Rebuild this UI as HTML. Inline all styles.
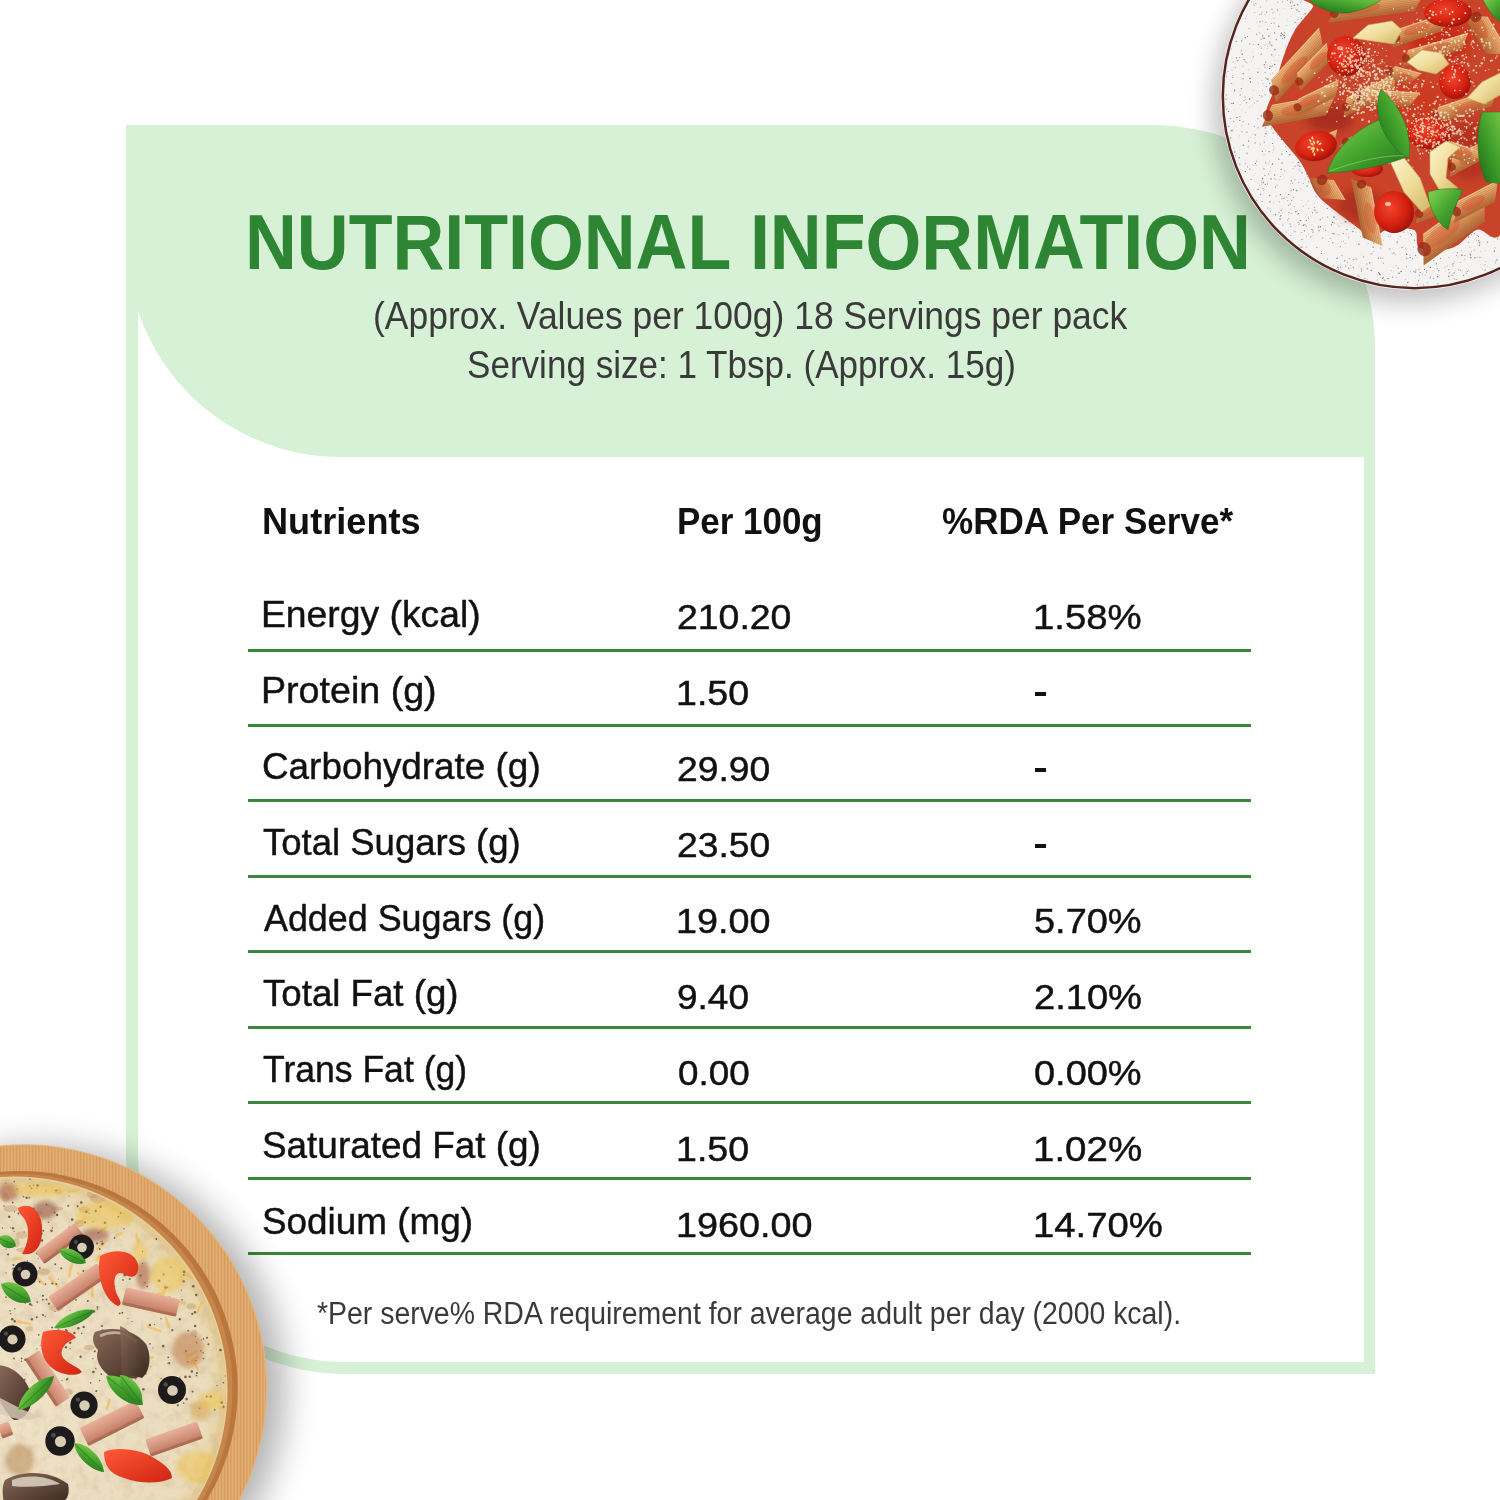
<!DOCTYPE html>
<html><head><meta charset="utf-8">
<style>
html,body{margin:0;padding:0;}
body{width:1500px;height:1500px;overflow:hidden;background:#fff;position:relative;font-family:"Liberation Sans",sans-serif;}
.abs{position:absolute;}
#bg{left:126px;top:125px;width:1249px;height:1249px;background:#d6f1d5;border-top-right-radius:223px;border-bottom-left-radius:219px;}
#panel{left:138px;top:457px;width:1226px;height:905px;background:#fff;border-bottom-left-radius:207px;}
#panelb{left:138px;top:300px;width:300px;height:160px;background:#fff;}
#hdr{left:126.8px;top:240px;width:400px;height:217.2px;background:#d6f1d5;border-bottom-left-radius:213.8px;}
.t{position:absolute;white-space:nowrap;line-height:1;transform-origin:0 0;font-family:"Liberation Sans",sans-serif;}
.ln{position:absolute;left:248px;width:1003px;height:3px;background:#3b853d;}
svg{position:absolute;}
</style></head>
<body>
<div id="bg" class="abs"></div>
<div id="panel" class="abs"></div>
<div id="panelb" class="abs"></div>
<div id="hdr" class="abs"></div>
<div class="ln" style="top:648.50px"></div>
<div class="ln" style="top:723.94px"></div>
<div class="ln" style="top:799.38px"></div>
<div class="ln" style="top:874.82px"></div>
<div class="ln" style="top:950.26px"></div>
<div class="ln" style="top:1025.70px"></div>
<div class="ln" style="top:1101.14px"></div>
<div class="ln" style="top:1176.58px"></div>
<div class="ln" style="top:1252.02px"></div>
<div class="t" style="left:244.98px;top:203.50px;font-size:77.54px;font-weight:bold;color:#2e8533;transform:scaleX(0.9255);">NUTRITIONAL INFORMATION</div>
<div class="t" style="left:372.57px;top:296.71px;font-size:38.70px;font-weight:normal;color:#3a3a3a;transform:scaleX(0.9166);">(Approx. Values per 100g) 18 Servings per pack</div>
<div class="t" style="left:467.25px;top:345.50px;font-size:38.70px;font-weight:normal;color:#3a3a3a;transform:scaleX(0.9063);">Serving size: 1 Tbsp. (Approx. 15g)</div>
<div class="t" style="left:262.47px;top:503.72px;font-size:36.81px;font-weight:bold;color:#111;transform:scaleX(0.9819);">Nutrients</div>
<div class="t" style="left:676.95px;top:503.72px;font-size:36.81px;font-weight:bold;color:#111;transform:scaleX(0.9498);">Per 100g</div>
<div class="t" style="left:942.30px;top:503.91px;font-size:36.81px;font-weight:bold;color:#111;transform:scaleX(0.9534);">%RDA Per Serve*</div>
<div class="t" style="left:261.02px;top:595.70px;font-size:37.10px;font-weight:normal;color:#111;transform:scaleX(1.0055);-webkit-text-stroke:0.45px #111;">Energy (kcal)</div>
<div class="t" style="left:677.33px;top:599.71px;font-size:34.51px;font-weight:normal;color:#111;transform:scaleX(1.0841);-webkit-text-stroke:0.45px #111;">210.20</div>
<div class="t" style="left:1032.74px;top:599.71px;font-size:34.51px;font-weight:normal;color:#111;transform:scaleX(1.1102);-webkit-text-stroke:0.45px #111;">1.58%</div>
<div class="t" style="left:260.99px;top:671.66px;font-size:37.10px;font-weight:normal;color:#111;transform:scaleX(1.0145);-webkit-text-stroke:0.45px #111;">Protein (g)</div>
<div class="t" style="left:676.19px;top:675.71px;font-size:34.51px;font-weight:normal;color:#111;transform:scaleX(1.0895);-webkit-text-stroke:0.45px #111;">1.50</div>
<div style="position:absolute;left:1035.3px;top:692.2px;width:10.4px;height:3.8px;background:#111;"></div>
<div class="t" style="left:262.16px;top:747.61px;font-size:37.10px;font-weight:normal;color:#111;transform:scaleX(0.9942);-webkit-text-stroke:0.45px #111;">Carbohydrate (g)</div>
<div class="t" style="left:677.34px;top:751.71px;font-size:34.51px;font-weight:normal;color:#111;transform:scaleX(1.0798);-webkit-text-stroke:0.45px #111;">29.90</div>
<div style="position:absolute;left:1035.3px;top:768.2px;width:10.4px;height:3.8px;background:#111;"></div>
<div class="t" style="left:263.27px;top:823.57px;font-size:37.10px;font-weight:normal;color:#111;transform:scaleX(0.9847);-webkit-text-stroke:0.45px #111;">Total Sugars (g)</div>
<div class="t" style="left:677.34px;top:827.71px;font-size:34.51px;font-weight:normal;color:#111;transform:scaleX(1.0798);-webkit-text-stroke:0.45px #111;">23.50</div>
<div style="position:absolute;left:1035.3px;top:844.2px;width:10.4px;height:3.8px;background:#111;"></div>
<div class="t" style="left:264.00px;top:899.51px;font-size:37.10px;font-weight:normal;color:#111;transform:scaleX(0.9673);-webkit-text-stroke:0.45px #111;">Added Sugars (g)</div>
<div class="t" style="left:676.18px;top:903.71px;font-size:34.51px;font-weight:normal;color:#111;transform:scaleX(1.0934);-webkit-text-stroke:0.45px #111;">19.00</div>
<div class="t" style="left:1034.28px;top:903.71px;font-size:34.51px;font-weight:normal;color:#111;transform:scaleX(1.0993);-webkit-text-stroke:0.45px #111;">5.70%</div>
<div class="t" style="left:263.27px;top:975.45px;font-size:37.10px;font-weight:normal;color:#111;transform:scaleX(0.9883);-webkit-text-stroke:0.45px #111;">Total Fat (g)</div>
<div class="t" style="left:677.35px;top:979.71px;font-size:34.51px;font-weight:normal;color:#111;transform:scaleX(1.0719);-webkit-text-stroke:0.45px #111;">9.40</div>
<div class="t" style="left:1033.90px;top:979.71px;font-size:34.51px;font-weight:normal;color:#111;transform:scaleX(1.1033);-webkit-text-stroke:0.45px #111;">2.10%</div>
<div class="t" style="left:263.29px;top:1051.41px;font-size:37.10px;font-weight:normal;color:#111;transform:scaleX(0.9586);-webkit-text-stroke:0.45px #111;">Trans Fat (g)</div>
<div class="t" style="left:677.73px;top:1055.71px;font-size:34.51px;font-weight:normal;color:#111;transform:scaleX(1.0662);-webkit-text-stroke:0.45px #111;">0.00</div>
<div class="t" style="left:1034.28px;top:1055.71px;font-size:34.51px;font-weight:normal;color:#111;transform:scaleX(1.0993);-webkit-text-stroke:0.45px #111;">0.00%</div>
<div class="t" style="left:262.15px;top:1127.36px;font-size:37.10px;font-weight:normal;color:#111;transform:scaleX(0.9949);-webkit-text-stroke:0.45px #111;">Saturated Fat (g)</div>
<div class="t" style="left:676.19px;top:1131.71px;font-size:34.51px;font-weight:normal;color:#111;transform:scaleX(1.0895);-webkit-text-stroke:0.45px #111;">1.50</div>
<div class="t" style="left:1032.72px;top:1131.71px;font-size:34.51px;font-weight:normal;color:#111;transform:scaleX(1.1155);-webkit-text-stroke:0.45px #111;">1.02%</div>
<div class="t" style="left:262.16px;top:1203.32px;font-size:37.10px;font-weight:normal;color:#111;transform:scaleX(0.9945);-webkit-text-stroke:0.45px #111;">Sodium (mg)</div>
<div class="t" style="left:676.18px;top:1207.71px;font-size:34.51px;font-weight:normal;color:#111;transform:scaleX(1.0944);-webkit-text-stroke:0.45px #111;">1960.00</div>
<div class="t" style="left:1032.74px;top:1207.71px;font-size:34.51px;font-weight:normal;color:#111;transform:scaleX(1.1088);-webkit-text-stroke:0.45px #111;">14.70%</div>
<div class="t" style="left:316.73px;top:1299.01px;font-size:30.87px;font-weight:normal;color:#3a3a3a;transform:scaleX(0.9209);">*Per serve% RDA requirement for average adult per day (2000 kcal).</div>

<svg style="position:absolute;left:0;top:0" width="1500" height="1500" viewBox="0 0 1500 1500"><defs><filter id="blur10" x="-50%" y="-50%" width="200%" height="200%"><feGaussianBlur stdDeviation="10"/></filter><filter id="blur16" x="-50%" y="-50%" width="200%" height="200%"><feGaussianBlur stdDeviation="17"/></filter><filter id="blur12" x="-50%" y="-50%" width="200%" height="200%"><feGaussianBlur stdDeviation="13"/></filter><filter id="blur5" x="-50%" y="-50%" width="200%" height="200%"><feGaussianBlur stdDeviation="5"/></filter><filter id="blur2" x="-30%" y="-30%" width="160%" height="160%"><feGaussianBlur stdDeviation="2"/></filter><filter id="blur1" x="-30%" y="-30%" width="160%" height="160%"><feGaussianBlur stdDeviation="0.7"/></filter><radialGradient id="tom" cx="42%" cy="38%" r="65%"><stop offset="0" stop-color="#f2442c"/><stop offset="0.65" stop-color="#d4200f"/><stop offset="1" stop-color="#9a120a"/></radialGradient><linearGradient id="pen" x1="0" y1="0" x2="0" y2="1"><stop offset="0" stop-color="#f2bd84"/><stop offset="0.45" stop-color="#dc985c"/><stop offset="1" stop-color="#b06636"/></linearGradient><linearGradient id="basil" x1="0" y1="0" x2="1" y2="1"><stop offset="0" stop-color="#86d452"/><stop offset="0.5" stop-color="#46a52e"/><stop offset="1" stop-color="#22701c"/></linearGradient><linearGradient id="basil2" x1="1" y1="0" x2="0" y2="1"><stop offset="0" stop-color="#7ccc48"/><stop offset="0.55" stop-color="#3b9a28"/><stop offset="1" stop-color="#1f6618"/></linearGradient><linearGradient id="chz" x1="0" y1="0" x2="1" y2="1"><stop offset="0" stop-color="#fff6d2"/><stop offset="0.55" stop-color="#efdc98"/><stop offset="1" stop-color="#d2b468"/></linearGradient><pattern id="grain" width="3.2" height="40" patternUnits="userSpaceOnUse"><rect width="3.2" height="40" fill="#dfa86c"/><rect x="0" width="0.9" height="40" fill="#c98b4f" opacity="0.55"/><rect x="2" width="0.6" height="40" fill="#ebbd86" opacity="0.6"/></pattern><radialGradient id="pz" cx="0" cy="0" r="1" gradientUnits="userSpaceOnUse" gradientTransform="translate(14 1390) scale(214)"><stop offset="0" stop-color="#efe2c8"/><stop offset="0.9" stop-color="#eadcbc"/><stop offset="1" stop-color="#e6cf9a"/></radialGradient><linearGradient id="pep" x1="0" y1="0" x2="1" y2="1"><stop offset="0" stop-color="#ff5a36"/><stop offset="1" stop-color="#cf2312"/></linearGradient><linearGradient id="ham" x1="0" y1="0" x2="0" y2="1"><stop offset="0" stop-color="#eab09a"/><stop offset="1" stop-color="#c07a62"/></linearGradient><linearGradient id="mush" x1="0" y1="0" x2="1" y2="1"><stop offset="0" stop-color="#8a6a58"/><stop offset="1" stop-color="#3d2a22"/></linearGradient><filter id="mottle" x="0" y="0" width="100%" height="100%"><feTurbulence type="fractalNoise" baseFrequency="0.09" numOctaves="3" seed="4"/><feColorMatrix type="matrix" values="0 0 0 0 0.55  0 0 0 0 0.42  0 0 0 0 0.25  0 0 0 -2.2 1.25"/></filter><clipPath id="pageclip"><rect x="0" y="0" width="1500" height="1500"/></clipPath></defs><g clip-path="url(#pageclip)"><circle cx="1407.65" cy="108.27" r="194.86" fill="#000" opacity="0.24" filter="url(#blur12)"/><circle cx="1414.65" cy="96.27" r="193.66000000000003" fill="#fbfaf8"/><circle cx="1414.65" cy="96.27" r="191.86" fill="#f4f3f1" stroke="#55241f" stroke-width="2.5"/><clipPath id="plateclip"><circle cx="1414.65" cy="96.27" r="189.86"/></clipPath><g clip-path="url(#plateclip)" opacity="0.85"><circle cx="1388.5" cy="76.9" r="0.7" fill="#5f5a56"/><circle cx="1477.1" cy="125.9" r="0.7" fill="#8d8883"/><circle cx="1330.6" cy="15.5" r="0.6" fill="#8d8883"/><circle cx="1403.4" cy="166.6" r="0.7" fill="#aaa5a0"/><circle cx="1288.8" cy="52.1" r="0.6" fill="#7a6f68"/><circle cx="1430.5" cy="267.4" r="0.7" fill="#5f5a56"/><circle cx="1405.3" cy="150.8" r="0.5" fill="#7a6f68"/><circle cx="1468.5" cy="270.3" r="0.4" fill="#7a6f68"/><circle cx="1498.8" cy="114.0" r="0.5" fill="#5f5a56"/><circle cx="1401.4" cy="117.4" r="0.4" fill="#5f5a56"/><circle cx="1398.4" cy="54.5" r="0.7" fill="#5f5a56"/><circle cx="1323.9" cy="40.4" r="0.4" fill="#8d8883"/><circle cx="1482.2" cy="138.7" r="0.7" fill="#5f5a56"/><circle cx="1347.8" cy="110.6" r="0.6" fill="#8d8883"/><circle cx="1430.6" cy="141.3" r="0.7" fill="#8d8883"/><circle cx="1436.1" cy="150.7" r="0.3" fill="#aaa5a0"/><circle cx="1371.0" cy="253.9" r="0.7" fill="#aaa5a0"/><circle cx="1436.7" cy="201.7" r="0.4" fill="#5f5a56"/><circle cx="1346.3" cy="202.9" r="0.6" fill="#7a6f68"/><circle cx="1462.9" cy="108.7" r="0.5" fill="#5f5a56"/><circle cx="1420.1" cy="272.6" r="0.5" fill="#5f5a56"/><circle cx="1493.8" cy="196.5" r="0.7" fill="#aaa5a0"/><circle cx="1473.2" cy="170.8" r="0.3" fill="#7a6f68"/><circle cx="1487.4" cy="210.5" r="0.3" fill="#5f5a56"/><circle cx="1343.9" cy="37.0" r="0.4" fill="#8d8883"/><circle cx="1270.7" cy="44.2" r="0.4" fill="#8d8883"/><circle cx="1344.0" cy="7.0" r="0.4" fill="#8d8883"/><circle cx="1269.6" cy="208.4" r="0.4" fill="#8d8883"/><circle cx="1399.4" cy="49.1" r="0.6" fill="#aaa5a0"/><circle cx="1495.5" cy="199.1" r="0.3" fill="#7a6f68"/><circle cx="1396.2" cy="265.8" r="0.4" fill="#5f5a56"/><circle cx="1310.1" cy="182.3" r="0.4" fill="#8d8883"/><circle cx="1297.4" cy="4.4" r="0.6" fill="#8d8883"/><circle cx="1312.0" cy="224.8" r="0.4" fill="#8d8883"/><circle cx="1265.9" cy="44.6" r="0.4" fill="#7a6f68"/><circle cx="1473.6" cy="88.6" r="0.4" fill="#aaa5a0"/><circle cx="1383.7" cy="86.4" r="0.7" fill="#5f5a56"/><circle cx="1368.2" cy="243.2" r="0.5" fill="#8d8883"/><circle cx="1256.6" cy="34.2" r="0.6" fill="#8d8883"/><circle cx="1461.0" cy="53.4" r="0.7" fill="#5f5a56"/><circle cx="1374.7" cy="138.1" r="0.5" fill="#aaa5a0"/><circle cx="1255.2" cy="173.3" r="0.4" fill="#aaa5a0"/><circle cx="1323.1" cy="13.5" r="0.5" fill="#5f5a56"/><circle cx="1466.1" cy="35.8" r="0.3" fill="#aaa5a0"/><circle cx="1454.5" cy="89.8" r="0.5" fill="#aaa5a0"/><circle cx="1457.6" cy="252.6" r="0.5" fill="#7a6f68"/><circle cx="1391.7" cy="190.5" r="0.6" fill="#8d8883"/><circle cx="1302.2" cy="144.0" r="0.6" fill="#7a6f68"/><circle cx="1467.9" cy="86.4" r="0.5" fill="#7a6f68"/><circle cx="1363.4" cy="93.8" r="0.3" fill="#8d8883"/><circle cx="1437.4" cy="213.3" r="0.6" fill="#7a6f68"/><circle cx="1454.7" cy="103.7" r="0.5" fill="#aaa5a0"/><circle cx="1295.0" cy="231.8" r="0.5" fill="#5f5a56"/><circle cx="1497.5" cy="215.9" r="0.3" fill="#7a6f68"/><circle cx="1283.9" cy="8.6" r="0.4" fill="#8d8883"/><circle cx="1372.4" cy="253.6" r="0.4" fill="#5f5a56"/><circle cx="1235.5" cy="155.7" r="0.5" fill="#7a6f68"/><circle cx="1304.4" cy="104.2" r="0.4" fill="#8d8883"/><circle cx="1314.0" cy="28.7" r="0.3" fill="#5f5a56"/><circle cx="1301.0" cy="188.7" r="0.5" fill="#8d8883"/><circle cx="1277.2" cy="115.7" r="0.5" fill="#aaa5a0"/><circle cx="1415.5" cy="129.1" r="0.5" fill="#5f5a56"/><circle cx="1312.3" cy="213.6" r="0.3" fill="#5f5a56"/><circle cx="1297.8" cy="19.6" r="0.7" fill="#8d8883"/><circle cx="1267.8" cy="182.1" r="0.3" fill="#8d8883"/><circle cx="1340.3" cy="43.3" r="0.3" fill="#8d8883"/><circle cx="1496.3" cy="180.7" r="0.6" fill="#8d8883"/><circle cx="1473.3" cy="229.8" r="0.3" fill="#5f5a56"/><circle cx="1333.7" cy="167.8" r="0.3" fill="#7a6f68"/><circle cx="1271.8" cy="45.6" r="0.6" fill="#5f5a56"/><circle cx="1454.1" cy="272.9" r="0.7" fill="#7a6f68"/><circle cx="1431.3" cy="113.6" r="0.4" fill="#aaa5a0"/><circle cx="1279.2" cy="179.7" r="0.5" fill="#8d8883"/><circle cx="1418.2" cy="45.4" r="0.6" fill="#5f5a56"/><circle cx="1328.4" cy="154.6" r="0.4" fill="#5f5a56"/><circle cx="1439.1" cy="199.6" r="0.6" fill="#7a6f68"/><circle cx="1372.4" cy="206.6" r="0.5" fill="#aaa5a0"/><circle cx="1393.9" cy="253.0" r="0.7" fill="#8d8883"/><circle cx="1381.2" cy="209.1" r="0.7" fill="#7a6f68"/><circle cx="1353.4" cy="43.1" r="0.4" fill="#aaa5a0"/><circle cx="1353.0" cy="129.5" r="0.6" fill="#7a6f68"/><circle cx="1274.1" cy="23.1" r="0.5" fill="#7a6f68"/><circle cx="1334.1" cy="217.5" r="0.6" fill="#5f5a56"/><circle cx="1325.6" cy="172.3" r="0.7" fill="#5f5a56"/><circle cx="1279.3" cy="201.8" r="0.5" fill="#8d8883"/><circle cx="1243.0" cy="78.7" r="0.7" fill="#8d8883"/><circle cx="1363.2" cy="42.1" r="0.5" fill="#5f5a56"/><circle cx="1495.1" cy="76.5" r="0.5" fill="#7a6f68"/><circle cx="1346.2" cy="234.0" r="0.5" fill="#aaa5a0"/><circle cx="1352.9" cy="217.7" r="0.5" fill="#aaa5a0"/><circle cx="1318.3" cy="111.4" r="0.7" fill="#7a6f68"/><circle cx="1344.7" cy="260.8" r="0.6" fill="#5f5a56"/><circle cx="1491.8" cy="86.8" r="0.6" fill="#7a6f68"/><circle cx="1267.6" cy="29.3" r="0.6" fill="#7a6f68"/><circle cx="1269.8" cy="145.0" r="0.3" fill="#8d8883"/><circle cx="1496.4" cy="41.1" r="0.7" fill="#8d8883"/><circle cx="1489.3" cy="79.3" r="0.4" fill="#aaa5a0"/><circle cx="1372.6" cy="146.1" r="0.4" fill="#8d8883"/><circle cx="1317.1" cy="212.6" r="0.6" fill="#8d8883"/><circle cx="1356.2" cy="83.1" r="0.4" fill="#5f5a56"/><circle cx="1432.8" cy="201.3" r="0.6" fill="#aaa5a0"/><circle cx="1360.1" cy="191.5" r="0.7" fill="#5f5a56"/><circle cx="1428.5" cy="97.3" r="0.7" fill="#aaa5a0"/><circle cx="1497.5" cy="50.7" r="0.5" fill="#8d8883"/><circle cx="1416.2" cy="228.8" r="0.4" fill="#8d8883"/><circle cx="1266.6" cy="12.3" r="0.7" fill="#8d8883"/><circle cx="1321.2" cy="261.7" r="0.4" fill="#8d8883"/><circle cx="1269.5" cy="68.5" r="0.6" fill="#5f5a56"/><circle cx="1396.0" cy="61.9" r="0.7" fill="#7a6f68"/><circle cx="1242.4" cy="83.8" r="0.4" fill="#aaa5a0"/><circle cx="1492.3" cy="20.2" r="0.7" fill="#8d8883"/><circle cx="1470.6" cy="85.8" r="0.3" fill="#aaa5a0"/><circle cx="1236.9" cy="36.6" r="0.4" fill="#8d8883"/><circle cx="1284.4" cy="112.5" r="0.6" fill="#aaa5a0"/><circle cx="1388.9" cy="274.4" r="0.3" fill="#7a6f68"/><circle cx="1306.5" cy="247.1" r="0.4" fill="#5f5a56"/><circle cx="1382.7" cy="278.2" r="0.7" fill="#5f5a56"/><circle cx="1421.2" cy="177.5" r="0.6" fill="#5f5a56"/><circle cx="1329.5" cy="161.6" r="0.3" fill="#8d8883"/><circle cx="1277.8" cy="2.2" r="0.7" fill="#aaa5a0"/><circle cx="1367.9" cy="67.7" r="0.6" fill="#aaa5a0"/><circle cx="1464.9" cy="259.2" r="0.5" fill="#8d8883"/><circle cx="1365.8" cy="114.5" r="0.4" fill="#8d8883"/><circle cx="1323.4" cy="229.3" r="0.4" fill="#5f5a56"/><circle cx="1274.6" cy="148.4" r="0.4" fill="#aaa5a0"/><circle cx="1488.4" cy="136.4" r="0.4" fill="#7a6f68"/><circle cx="1442.2" cy="141.4" r="0.4" fill="#7a6f68"/><circle cx="1261.5" cy="116.1" r="0.5" fill="#8d8883"/><circle cx="1443.7" cy="147.7" r="0.4" fill="#5f5a56"/><circle cx="1236.9" cy="117.6" r="0.6" fill="#5f5a56"/><circle cx="1425.2" cy="131.0" r="0.5" fill="#7a6f68"/><circle cx="1310.9" cy="216.1" r="0.3" fill="#8d8883"/><circle cx="1410.1" cy="255.1" r="0.5" fill="#7a6f68"/><circle cx="1467.3" cy="58.9" r="0.4" fill="#aaa5a0"/><circle cx="1282.5" cy="38.5" r="0.7" fill="#8d8883"/><circle cx="1272.0" cy="9.1" r="0.6" fill="#7a6f68"/><circle cx="1375.2" cy="204.2" r="0.3" fill="#5f5a56"/><circle cx="1344.7" cy="136.2" r="0.6" fill="#8d8883"/><circle cx="1394.1" cy="31.1" r="0.3" fill="#7a6f68"/><circle cx="1277.9" cy="60.8" r="0.5" fill="#aaa5a0"/><circle cx="1320.0" cy="227.5" r="0.5" fill="#8d8883"/><circle cx="1492.1" cy="162.6" r="0.7" fill="#5f5a56"/><circle cx="1434.6" cy="194.7" r="0.4" fill="#7a6f68"/><circle cx="1455.1" cy="270.2" r="0.4" fill="#aaa5a0"/><circle cx="1447.7" cy="123.7" r="0.6" fill="#7a6f68"/><circle cx="1391.1" cy="270.7" r="0.4" fill="#5f5a56"/><circle cx="1434.7" cy="67.7" r="0.4" fill="#7a6f68"/><circle cx="1307.1" cy="132.9" r="0.5" fill="#5f5a56"/><circle cx="1320.2" cy="22.6" r="0.5" fill="#5f5a56"/><circle cx="1318.2" cy="14.4" r="0.4" fill="#7a6f68"/><circle cx="1442.3" cy="10.3" r="0.7" fill="#7a6f68"/><circle cx="1419.0" cy="269.3" r="0.5" fill="#5f5a56"/><circle cx="1437.6" cy="211.6" r="0.6" fill="#aaa5a0"/><circle cx="1409.9" cy="64.0" r="0.4" fill="#8d8883"/><circle cx="1424.8" cy="11.0" r="0.7" fill="#aaa5a0"/><circle cx="1354.0" cy="67.7" r="0.7" fill="#aaa5a0"/><circle cx="1341.8" cy="223.3" r="0.4" fill="#7a6f68"/><circle cx="1444.0" cy="124.6" r="0.4" fill="#5f5a56"/><circle cx="1418.9" cy="249.1" r="0.6" fill="#aaa5a0"/><circle cx="1440.5" cy="43.0" r="0.5" fill="#aaa5a0"/><circle cx="1458.1" cy="119.7" r="0.5" fill="#aaa5a0"/><circle cx="1409.9" cy="3.7" r="0.4" fill="#8d8883"/><circle cx="1363.0" cy="105.7" r="0.6" fill="#7a6f68"/><circle cx="1435.2" cy="55.7" r="0.7" fill="#5f5a56"/><circle cx="1282.5" cy="34.4" r="0.7" fill="#8d8883"/><circle cx="1390.4" cy="236.0" r="0.5" fill="#8d8883"/><circle cx="1263.2" cy="83.4" r="0.5" fill="#aaa5a0"/><circle cx="1379.8" cy="53.2" r="0.5" fill="#aaa5a0"/><circle cx="1329.9" cy="122.1" r="0.6" fill="#8d8883"/><circle cx="1488.6" cy="170.2" r="0.3" fill="#aaa5a0"/><circle cx="1369.7" cy="64.8" r="0.5" fill="#8d8883"/><circle cx="1381.4" cy="106.7" r="0.7" fill="#8d8883"/><circle cx="1433.4" cy="244.9" r="0.6" fill="#8d8883"/><circle cx="1349.5" cy="182.8" r="0.5" fill="#8d8883"/><circle cx="1287.6" cy="19.7" r="0.4" fill="#aaa5a0"/><circle cx="1495.7" cy="148.8" r="0.4" fill="#aaa5a0"/><circle cx="1318.2" cy="19.1" r="0.3" fill="#5f5a56"/><circle cx="1362.4" cy="60.0" r="0.5" fill="#5f5a56"/><circle cx="1476.2" cy="192.8" r="0.3" fill="#7a6f68"/><circle cx="1323.6" cy="17.5" r="0.4" fill="#7a6f68"/><circle cx="1400.8" cy="90.5" r="0.7" fill="#7a6f68"/><circle cx="1316.0" cy="196.5" r="0.5" fill="#7a6f68"/><circle cx="1454.4" cy="91.2" r="0.5" fill="#5f5a56"/><circle cx="1396.3" cy="105.9" r="0.6" fill="#5f5a56"/><circle cx="1360.0" cy="132.5" r="0.5" fill="#7a6f68"/><circle cx="1380.1" cy="189.6" r="0.5" fill="#aaa5a0"/><circle cx="1416.4" cy="216.6" r="0.5" fill="#8d8883"/><circle cx="1411.6" cy="234.8" r="0.7" fill="#7a6f68"/><circle cx="1337.1" cy="258.3" r="0.7" fill="#5f5a56"/><circle cx="1456.3" cy="95.2" r="0.4" fill="#8d8883"/><circle cx="1381.0" cy="34.5" r="0.4" fill="#8d8883"/><circle cx="1263.9" cy="169.0" r="0.7" fill="#8d8883"/><circle cx="1359.3" cy="266.9" r="0.4" fill="#aaa5a0"/><circle cx="1488.4" cy="117.6" r="0.5" fill="#5f5a56"/><circle cx="1494.6" cy="241.7" r="0.4" fill="#aaa5a0"/><circle cx="1397.3" cy="241.7" r="0.7" fill="#8d8883"/><circle cx="1369.9" cy="164.2" r="0.5" fill="#8d8883"/><circle cx="1385.2" cy="55.7" r="0.5" fill="#7a6f68"/><circle cx="1386.8" cy="35.0" r="0.5" fill="#aaa5a0"/><circle cx="1323.1" cy="91.1" r="0.6" fill="#5f5a56"/><circle cx="1333.8" cy="216.9" r="0.6" fill="#5f5a56"/><circle cx="1253.2" cy="189.4" r="0.3" fill="#8d8883"/><circle cx="1298.3" cy="162.4" r="0.6" fill="#5f5a56"/><circle cx="1458.7" cy="193.1" r="0.6" fill="#7a6f68"/><circle cx="1328.5" cy="143.8" r="0.7" fill="#5f5a56"/><circle cx="1327.2" cy="208.4" r="0.7" fill="#7a6f68"/><circle cx="1452.8" cy="275.2" r="0.6" fill="#8d8883"/><circle cx="1273.9" cy="56.1" r="0.4" fill="#7a6f68"/><circle cx="1269.3" cy="35.9" r="0.6" fill="#aaa5a0"/><circle cx="1248.6" cy="140.9" r="0.6" fill="#5f5a56"/><circle cx="1402.8" cy="149.7" r="0.4" fill="#5f5a56"/><circle cx="1305.7" cy="79.3" r="0.4" fill="#8d8883"/><circle cx="1481.3" cy="28.7" r="0.5" fill="#aaa5a0"/><circle cx="1389.3" cy="43.6" r="0.6" fill="#aaa5a0"/><circle cx="1314.0" cy="227.1" r="0.4" fill="#5f5a56"/><circle cx="1253.6" cy="165.3" r="0.3" fill="#7a6f68"/><circle cx="1243.0" cy="66.3" r="0.5" fill="#aaa5a0"/><circle cx="1291.3" cy="180.7" r="0.7" fill="#8d8883"/><circle cx="1480.1" cy="241.7" r="0.5" fill="#aaa5a0"/><circle cx="1409.0" cy="227.0" r="0.6" fill="#5f5a56"/><circle cx="1308.3" cy="181.7" r="0.7" fill="#8d8883"/><circle cx="1304.6" cy="51.9" r="0.7" fill="#aaa5a0"/><circle cx="1433.8" cy="132.4" r="0.4" fill="#5f5a56"/><circle cx="1483.7" cy="193.3" r="0.5" fill="#7a6f68"/><circle cx="1306.5" cy="236.4" r="0.4" fill="#7a6f68"/><circle cx="1454.7" cy="278.9" r="0.5" fill="#5f5a56"/><circle cx="1306.2" cy="226.1" r="0.5" fill="#5f5a56"/><circle cx="1453.6" cy="5.6" r="0.5" fill="#7a6f68"/><circle cx="1331.9" cy="53.2" r="0.4" fill="#8d8883"/><circle cx="1401.1" cy="271.5" r="0.7" fill="#5f5a56"/><circle cx="1262.7" cy="35.9" r="0.7" fill="#7a6f68"/><circle cx="1417.8" cy="131.0" r="0.6" fill="#8d8883"/><circle cx="1410.2" cy="91.4" r="0.7" fill="#aaa5a0"/><circle cx="1484.6" cy="109.1" r="0.3" fill="#aaa5a0"/><circle cx="1305.0" cy="142.5" r="0.3" fill="#aaa5a0"/><circle cx="1471.5" cy="273.2" r="0.3" fill="#7a6f68"/><circle cx="1407.7" cy="216.5" r="0.4" fill="#7a6f68"/><circle cx="1294.5" cy="5.6" r="0.6" fill="#8d8883"/><circle cx="1337.2" cy="51.3" r="0.4" fill="#8d8883"/><circle cx="1483.1" cy="21.6" r="0.4" fill="#5f5a56"/><circle cx="1300.0" cy="162.3" r="0.6" fill="#aaa5a0"/><circle cx="1417.5" cy="71.5" r="0.4" fill="#aaa5a0"/><circle cx="1231.4" cy="83.5" r="0.5" fill="#7a6f68"/><circle cx="1490.8" cy="66.8" r="0.4" fill="#aaa5a0"/><circle cx="1397.4" cy="167.3" r="0.7" fill="#8d8883"/><circle cx="1447.6" cy="136.4" r="0.4" fill="#7a6f68"/><circle cx="1265.9" cy="133.8" r="0.7" fill="#7a6f68"/><circle cx="1348.7" cy="133.6" r="0.5" fill="#7a6f68"/><circle cx="1332.1" cy="183.9" r="0.6" fill="#7a6f68"/><circle cx="1443.8" cy="132.3" r="0.5" fill="#7a6f68"/><circle cx="1435.4" cy="46.6" r="0.7" fill="#aaa5a0"/><circle cx="1422.8" cy="202.0" r="0.4" fill="#8d8883"/><circle cx="1392.7" cy="71.5" r="0.4" fill="#7a6f68"/><circle cx="1391.4" cy="2.7" r="0.3" fill="#7a6f68"/><circle cx="1326.6" cy="41.1" r="0.4" fill="#8d8883"/><circle cx="1480.7" cy="180.1" r="0.5" fill="#7a6f68"/><circle cx="1450.6" cy="49.9" r="0.4" fill="#7a6f68"/><circle cx="1378.4" cy="258.1" r="0.7" fill="#5f5a56"/><circle cx="1389.1" cy="235.3" r="0.3" fill="#8d8883"/><circle cx="1354.2" cy="50.9" r="0.6" fill="#5f5a56"/><circle cx="1413.4" cy="23.9" r="0.4" fill="#aaa5a0"/><circle cx="1334.9" cy="55.5" r="0.7" fill="#aaa5a0"/><circle cx="1311.6" cy="229.5" r="0.5" fill="#8d8883"/><circle cx="1303.2" cy="251.8" r="0.5" fill="#5f5a56"/><circle cx="1274.7" cy="175.0" r="0.7" fill="#7a6f68"/><circle cx="1369.8" cy="262.9" r="0.7" fill="#5f5a56"/><circle cx="1416.3" cy="130.9" r="0.7" fill="#8d8883"/><circle cx="1489.2" cy="167.4" r="0.5" fill="#7a6f68"/><circle cx="1323.0" cy="44.3" r="0.5" fill="#aaa5a0"/><circle cx="1487.5" cy="266.4" r="0.4" fill="#8d8883"/><circle cx="1303.6" cy="183.5" r="0.5" fill="#aaa5a0"/><circle cx="1374.4" cy="82.4" r="0.7" fill="#5f5a56"/><circle cx="1343.4" cy="78.9" r="0.4" fill="#5f5a56"/><circle cx="1409.0" cy="214.3" r="0.5" fill="#7a6f68"/><circle cx="1349.0" cy="165.4" r="0.5" fill="#5f5a56"/><circle cx="1382.1" cy="17.4" r="0.3" fill="#5f5a56"/><circle cx="1440.0" cy="52.6" r="0.5" fill="#7a6f68"/><circle cx="1497.2" cy="83.2" r="0.7" fill="#aaa5a0"/><circle cx="1468.9" cy="154.3" r="0.4" fill="#7a6f68"/><circle cx="1279.7" cy="14.7" r="0.4" fill="#aaa5a0"/><circle cx="1434.7" cy="92.1" r="0.6" fill="#8d8883"/><circle cx="1409.1" cy="217.9" r="0.7" fill="#8d8883"/><circle cx="1390.5" cy="132.4" r="0.6" fill="#7a6f68"/><circle cx="1322.2" cy="113.0" r="0.4" fill="#8d8883"/><circle cx="1429.0" cy="180.9" r="0.5" fill="#8d8883"/><circle cx="1383.1" cy="105.0" r="0.7" fill="#7a6f68"/><circle cx="1295.9" cy="142.9" r="0.6" fill="#5f5a56"/><circle cx="1377.9" cy="54.6" r="0.4" fill="#7a6f68"/><circle cx="1411.7" cy="197.7" r="0.4" fill="#7a6f68"/><circle cx="1280.0" cy="219.0" r="0.7" fill="#5f5a56"/><circle cx="1445.3" cy="88.7" r="0.5" fill="#8d8883"/><circle cx="1345.5" cy="208.9" r="0.5" fill="#7a6f68"/><circle cx="1412.7" cy="3.7" r="0.3" fill="#7a6f68"/><circle cx="1412.8" cy="56.9" r="0.5" fill="#5f5a56"/><circle cx="1471.0" cy="38.1" r="0.4" fill="#7a6f68"/><circle cx="1273.4" cy="146.6" r="0.5" fill="#aaa5a0"/><circle cx="1462.0" cy="235.5" r="0.7" fill="#5f5a56"/><circle cx="1371.9" cy="183.8" r="0.3" fill="#7a6f68"/><circle cx="1423.3" cy="125.9" r="0.6" fill="#8d8883"/><circle cx="1389.1" cy="184.4" r="0.5" fill="#8d8883"/><circle cx="1296.6" cy="146.3" r="0.6" fill="#aaa5a0"/><circle cx="1429.8" cy="85.6" r="0.3" fill="#8d8883"/><circle cx="1321.8" cy="40.6" r="0.7" fill="#5f5a56"/><circle cx="1348.8" cy="268.2" r="0.6" fill="#5f5a56"/><circle cx="1451.6" cy="72.3" r="0.3" fill="#aaa5a0"/><circle cx="1403.4" cy="173.7" r="0.7" fill="#8d8883"/><circle cx="1262.2" cy="12.7" r="0.4" fill="#8d8883"/><circle cx="1355.4" cy="11.8" r="0.5" fill="#aaa5a0"/><circle cx="1454.4" cy="15.4" r="0.7" fill="#8d8883"/><circle cx="1336.8" cy="114.6" r="0.4" fill="#8d8883"/><circle cx="1380.0" cy="274.6" r="0.7" fill="#8d8883"/><circle cx="1231.9" cy="130.8" r="0.7" fill="#5f5a56"/><circle cx="1259.6" cy="26.2" r="0.4" fill="#8d8883"/><circle cx="1378.9" cy="68.8" r="0.5" fill="#5f5a56"/><circle cx="1483.7" cy="43.9" r="0.5" fill="#5f5a56"/><circle cx="1321.2" cy="5.4" r="0.7" fill="#7a6f68"/><circle cx="1409.3" cy="112.7" r="0.6" fill="#7a6f68"/><circle cx="1400.5" cy="30.1" r="0.4" fill="#7a6f68"/><circle cx="1373.1" cy="35.3" r="0.4" fill="#8d8883"/><circle cx="1372.0" cy="139.8" r="0.5" fill="#5f5a56"/><circle cx="1482.6" cy="149.5" r="0.7" fill="#7a6f68"/><circle cx="1465.2" cy="122.9" r="0.6" fill="#aaa5a0"/><circle cx="1457.7" cy="224.1" r="0.5" fill="#5f5a56"/><circle cx="1386.6" cy="116.8" r="0.7" fill="#7a6f68"/><circle cx="1303.3" cy="135.1" r="0.7" fill="#7a6f68"/><circle cx="1489.6" cy="12.6" r="0.6" fill="#aaa5a0"/><circle cx="1281.1" cy="210.4" r="0.6" fill="#7a6f68"/><circle cx="1344.9" cy="62.9" r="0.6" fill="#7a6f68"/><circle cx="1380.5" cy="236.0" r="0.5" fill="#5f5a56"/><circle cx="1326.0" cy="58.7" r="0.6" fill="#8d8883"/><circle cx="1361.1" cy="148.5" r="0.3" fill="#aaa5a0"/><circle cx="1388.2" cy="222.3" r="0.3" fill="#aaa5a0"/><circle cx="1337.1" cy="113.5" r="0.7" fill="#5f5a56"/><circle cx="1265.6" cy="62.0" r="0.6" fill="#5f5a56"/><circle cx="1283.6" cy="136.6" r="0.5" fill="#aaa5a0"/><circle cx="1373.4" cy="15.5" r="0.4" fill="#8d8883"/><circle cx="1438.5" cy="29.7" r="0.7" fill="#5f5a56"/><circle cx="1490.9" cy="168.7" r="0.7" fill="#8d8883"/><circle cx="1266.5" cy="186.5" r="0.3" fill="#7a6f68"/><circle cx="1449.4" cy="276.2" r="0.4" fill="#7a6f68"/><circle cx="1262.0" cy="201.6" r="0.7" fill="#aaa5a0"/><circle cx="1477.1" cy="127.2" r="0.3" fill="#8d8883"/><circle cx="1265.4" cy="184.6" r="0.5" fill="#7a6f68"/><circle cx="1316.3" cy="166.9" r="0.5" fill="#8d8883"/><circle cx="1330.1" cy="77.2" r="0.5" fill="#8d8883"/><circle cx="1301.9" cy="247.2" r="0.6" fill="#7a6f68"/><circle cx="1316.0" cy="43.4" r="0.3" fill="#5f5a56"/><circle cx="1418.6" cy="199.3" r="0.5" fill="#8d8883"/><circle cx="1456.2" cy="205.4" r="0.3" fill="#7a6f68"/><circle cx="1280.6" cy="123.3" r="0.7" fill="#5f5a56"/><circle cx="1269.2" cy="161.1" r="0.4" fill="#aaa5a0"/><circle cx="1297.4" cy="43.6" r="0.4" fill="#aaa5a0"/><circle cx="1378.0" cy="137.1" r="0.6" fill="#7a6f68"/><circle cx="1269.7" cy="195.4" r="0.6" fill="#7a6f68"/><circle cx="1274.4" cy="178.5" r="0.4" fill="#5f5a56"/><circle cx="1273.4" cy="123.4" r="0.6" fill="#aaa5a0"/><circle cx="1380.2" cy="58.5" r="0.4" fill="#8d8883"/><circle cx="1452.2" cy="14.1" r="0.4" fill="#8d8883"/><circle cx="1445.2" cy="34.5" r="0.4" fill="#7a6f68"/><circle cx="1362.1" cy="206.9" r="0.4" fill="#5f5a56"/><circle cx="1482.7" cy="173.0" r="0.5" fill="#8d8883"/><circle cx="1304.5" cy="91.6" r="0.6" fill="#aaa5a0"/><circle cx="1361.4" cy="214.5" r="0.3" fill="#aaa5a0"/><circle cx="1241.4" cy="88.8" r="0.7" fill="#8d8883"/><circle cx="1343.5" cy="202.9" r="0.4" fill="#8d8883"/><circle cx="1481.8" cy="56.4" r="0.6" fill="#7a6f68"/><circle cx="1390.5" cy="193.2" r="0.7" fill="#7a6f68"/><circle cx="1387.9" cy="70.4" r="0.7" fill="#7a6f68"/><circle cx="1339.6" cy="136.3" r="0.4" fill="#7a6f68"/><circle cx="1435.4" cy="48.9" r="0.7" fill="#8d8883"/><circle cx="1431.4" cy="232.9" r="0.7" fill="#5f5a56"/><circle cx="1487.7" cy="205.1" r="0.6" fill="#8d8883"/><circle cx="1329.3" cy="122.1" r="0.7" fill="#5f5a56"/><circle cx="1432.6" cy="114.3" r="0.7" fill="#5f5a56"/><circle cx="1230.4" cy="129.1" r="0.3" fill="#7a6f68"/><circle cx="1286.5" cy="151.5" r="0.5" fill="#5f5a56"/><circle cx="1452.8" cy="64.0" r="0.5" fill="#aaa5a0"/><circle cx="1382.9" cy="202.8" r="0.4" fill="#7a6f68"/><circle cx="1272.6" cy="138.9" r="0.4" fill="#8d8883"/><circle cx="1281.5" cy="139.5" r="0.7" fill="#7a6f68"/><circle cx="1354.6" cy="69.7" r="0.4" fill="#7a6f68"/><circle cx="1452.0" cy="193.9" r="0.7" fill="#5f5a56"/><circle cx="1342.1" cy="199.0" r="0.4" fill="#7a6f68"/><circle cx="1303.0" cy="42.6" r="0.7" fill="#5f5a56"/><circle cx="1356.1" cy="215.7" r="0.4" fill="#aaa5a0"/><circle cx="1463.3" cy="187.0" r="0.7" fill="#7a6f68"/><circle cx="1317.5" cy="62.8" r="0.3" fill="#8d8883"/><circle cx="1338.9" cy="226.1" r="0.5" fill="#8d8883"/><circle cx="1312.8" cy="48.1" r="0.3" fill="#8d8883"/><circle cx="1424.5" cy="36.8" r="0.6" fill="#7a6f68"/><circle cx="1458.2" cy="31.4" r="0.6" fill="#5f5a56"/><circle cx="1406.3" cy="258.0" r="0.4" fill="#aaa5a0"/><circle cx="1326.1" cy="193.2" r="0.5" fill="#5f5a56"/><circle cx="1268.5" cy="36.1" r="0.6" fill="#7a6f68"/><circle cx="1390.6" cy="84.6" r="0.4" fill="#aaa5a0"/><circle cx="1448.0" cy="230.4" r="0.4" fill="#8d8883"/><circle cx="1256.9" cy="22.0" r="0.4" fill="#aaa5a0"/><circle cx="1373.4" cy="97.1" r="0.4" fill="#8d8883"/><circle cx="1306.6" cy="41.2" r="0.6" fill="#5f5a56"/><circle cx="1287.7" cy="220.0" r="0.6" fill="#7a6f68"/><circle cx="1497.5" cy="46.9" r="0.6" fill="#7a6f68"/><circle cx="1452.0" cy="133.7" r="0.5" fill="#8d8883"/><circle cx="1384.1" cy="233.1" r="0.4" fill="#7a6f68"/><circle cx="1348.6" cy="53.4" r="0.7" fill="#aaa5a0"/><circle cx="1329.4" cy="79.2" r="0.4" fill="#5f5a56"/><circle cx="1354.2" cy="228.4" r="0.6" fill="#8d8883"/><circle cx="1388.8" cy="182.3" r="0.6" fill="#7a6f68"/><circle cx="1496.2" cy="107.0" r="0.6" fill="#5f5a56"/><circle cx="1375.4" cy="7.9" r="0.6" fill="#5f5a56"/><circle cx="1428.1" cy="284.7" r="0.3" fill="#7a6f68"/><circle cx="1351.5" cy="22.4" r="0.6" fill="#5f5a56"/><circle cx="1454.3" cy="261.7" r="0.5" fill="#8d8883"/><circle cx="1412.1" cy="116.9" r="0.6" fill="#5f5a56"/><circle cx="1440.0" cy="81.3" r="0.7" fill="#aaa5a0"/><circle cx="1420.3" cy="35.1" r="0.3" fill="#8d8883"/><circle cx="1415.3" cy="1.4" r="0.6" fill="#7a6f68"/><circle cx="1448.9" cy="40.0" r="0.7" fill="#aaa5a0"/><circle cx="1340.3" cy="106.9" r="0.3" fill="#5f5a56"/><circle cx="1459.3" cy="139.8" r="0.6" fill="#8d8883"/><circle cx="1357.1" cy="113.8" r="0.5" fill="#5f5a56"/><circle cx="1286.9" cy="109.4" r="0.6" fill="#aaa5a0"/><circle cx="1247.7" cy="165.4" r="0.3" fill="#aaa5a0"/><circle cx="1399.3" cy="48.9" r="0.3" fill="#7a6f68"/><circle cx="1475.8" cy="219.9" r="0.6" fill="#7a6f68"/><circle cx="1459.7" cy="188.8" r="0.4" fill="#5f5a56"/><circle cx="1354.3" cy="117.9" r="0.6" fill="#7a6f68"/><circle cx="1427.4" cy="212.2" r="0.7" fill="#aaa5a0"/><circle cx="1425.8" cy="7.1" r="0.3" fill="#aaa5a0"/><circle cx="1348.8" cy="219.4" r="0.7" fill="#5f5a56"/><circle cx="1411.9" cy="163.7" r="0.6" fill="#5f5a56"/><circle cx="1420.2" cy="9.6" r="0.4" fill="#8d8883"/><circle cx="1450.4" cy="106.0" r="0.5" fill="#5f5a56"/><circle cx="1390.8" cy="97.7" r="0.6" fill="#8d8883"/><circle cx="1341.4" cy="241.3" r="0.4" fill="#8d8883"/><circle cx="1396.8" cy="277.2" r="0.5" fill="#aaa5a0"/><circle cx="1252.8" cy="97.7" r="0.4" fill="#8d8883"/><circle cx="1361.2" cy="23.3" r="0.3" fill="#7a6f68"/><circle cx="1433.0" cy="140.0" r="0.3" fill="#aaa5a0"/><circle cx="1480.4" cy="251.1" r="0.4" fill="#7a6f68"/><circle cx="1261.2" cy="54.2" r="0.6" fill="#7a6f68"/><circle cx="1389.9" cy="169.5" r="0.5" fill="#aaa5a0"/><circle cx="1455.9" cy="192.7" r="0.7" fill="#5f5a56"/><circle cx="1354.4" cy="127.7" r="0.5" fill="#5f5a56"/><circle cx="1295.0" cy="84.9" r="0.4" fill="#aaa5a0"/><circle cx="1427.8" cy="95.4" r="0.5" fill="#5f5a56"/><circle cx="1265.1" cy="161.3" r="0.4" fill="#aaa5a0"/><circle cx="1358.0" cy="137.5" r="0.5" fill="#7a6f68"/><circle cx="1303.9" cy="181.8" r="0.3" fill="#aaa5a0"/><circle cx="1390.0" cy="139.3" r="0.6" fill="#aaa5a0"/><circle cx="1345.3" cy="82.0" r="0.4" fill="#8d8883"/><circle cx="1390.6" cy="28.5" r="0.4" fill="#8d8883"/><circle cx="1358.2" cy="170.0" r="0.7" fill="#7a6f68"/><circle cx="1275.2" cy="179.7" r="0.5" fill="#8d8883"/><circle cx="1461.0" cy="172.9" r="0.4" fill="#5f5a56"/><circle cx="1338.8" cy="234.7" r="0.5" fill="#7a6f68"/><circle cx="1471.7" cy="151.3" r="0.6" fill="#7a6f68"/><circle cx="1262.6" cy="20.9" r="0.5" fill="#8d8883"/><circle cx="1445.6" cy="15.4" r="0.4" fill="#aaa5a0"/><circle cx="1371.0" cy="207.0" r="0.7" fill="#aaa5a0"/><circle cx="1273.1" cy="223.6" r="0.7" fill="#7a6f68"/><circle cx="1461.4" cy="204.5" r="0.4" fill="#7a6f68"/><circle cx="1399.1" cy="152.8" r="0.5" fill="#5f5a56"/><circle cx="1439.2" cy="87.0" r="0.6" fill="#5f5a56"/><circle cx="1380.2" cy="274.8" r="0.7" fill="#7a6f68"/><circle cx="1280.3" cy="176.4" r="0.5" fill="#8d8883"/><circle cx="1354.2" cy="203.0" r="0.3" fill="#7a6f68"/><circle cx="1265.3" cy="127.9" r="0.6" fill="#7a6f68"/><circle cx="1362.4" cy="186.4" r="0.4" fill="#7a6f68"/><circle cx="1245.4" cy="61.6" r="0.6" fill="#aaa5a0"/><circle cx="1317.7" cy="186.0" r="0.5" fill="#8d8883"/><circle cx="1377.9" cy="58.6" r="0.5" fill="#aaa5a0"/><circle cx="1383.5" cy="277.2" r="0.5" fill="#7a6f68"/><circle cx="1334.9" cy="71.3" r="0.4" fill="#8d8883"/><circle cx="1307.0" cy="130.8" r="0.6" fill="#5f5a56"/><circle cx="1430.6" cy="222.2" r="0.6" fill="#aaa5a0"/><circle cx="1268.5" cy="173.7" r="0.7" fill="#aaa5a0"/><circle cx="1375.2" cy="38.0" r="0.5" fill="#5f5a56"/><circle cx="1385.3" cy="0.8" r="0.7" fill="#aaa5a0"/><circle cx="1305.5" cy="254.0" r="0.5" fill="#8d8883"/><circle cx="1373.8" cy="7.4" r="0.5" fill="#5f5a56"/><circle cx="1299.1" cy="224.1" r="0.6" fill="#7a6f68"/><circle cx="1426.1" cy="131.7" r="0.3" fill="#aaa5a0"/><circle cx="1230.7" cy="137.7" r="0.7" fill="#8d8883"/><circle cx="1395.3" cy="165.9" r="0.5" fill="#5f5a56"/><circle cx="1299.8" cy="68.0" r="0.5" fill="#7a6f68"/><circle cx="1361.1" cy="254.3" r="0.3" fill="#7a6f68"/><circle cx="1481.7" cy="106.2" r="0.7" fill="#8d8883"/><circle cx="1339.2" cy="124.8" r="0.7" fill="#5f5a56"/><circle cx="1430.1" cy="277.8" r="0.6" fill="#5f5a56"/><circle cx="1450.7" cy="140.8" r="0.5" fill="#aaa5a0"/><circle cx="1446.9" cy="153.3" r="0.6" fill="#aaa5a0"/><circle cx="1239.5" cy="135.7" r="0.5" fill="#aaa5a0"/><circle cx="1410.8" cy="87.5" r="0.3" fill="#7a6f68"/><circle cx="1439.2" cy="198.7" r="0.6" fill="#5f5a56"/><circle cx="1344.0" cy="151.3" r="0.6" fill="#7a6f68"/><circle cx="1380.1" cy="154.0" r="0.5" fill="#7a6f68"/><circle cx="1391.0" cy="156.2" r="0.7" fill="#aaa5a0"/><circle cx="1463.6" cy="217.7" r="0.7" fill="#8d8883"/><circle cx="1484.1" cy="160.6" r="0.6" fill="#5f5a56"/><circle cx="1359.1" cy="276.2" r="0.6" fill="#8d8883"/><circle cx="1445.6" cy="136.5" r="0.5" fill="#aaa5a0"/><circle cx="1392.7" cy="277.0" r="0.6" fill="#5f5a56"/><circle cx="1369.7" cy="13.4" r="0.4" fill="#5f5a56"/><circle cx="1497.2" cy="226.9" r="0.6" fill="#7a6f68"/><circle cx="1435.6" cy="255.7" r="0.5" fill="#8d8883"/><circle cx="1366.6" cy="17.1" r="0.7" fill="#8d8883"/><circle cx="1301.2" cy="1.1" r="0.6" fill="#aaa5a0"/><circle cx="1357.5" cy="207.1" r="0.6" fill="#7a6f68"/><circle cx="1307.4" cy="176.7" r="0.6" fill="#aaa5a0"/><circle cx="1442.3" cy="15.6" r="0.6" fill="#8d8883"/><circle cx="1397.9" cy="173.7" r="0.3" fill="#7a6f68"/><circle cx="1452.0" cy="18.0" r="0.4" fill="#aaa5a0"/><circle cx="1485.3" cy="250.3" r="0.4" fill="#7a6f68"/><circle cx="1329.0" cy="186.3" r="0.6" fill="#8d8883"/><circle cx="1240.1" cy="104.7" r="0.4" fill="#7a6f68"/><circle cx="1243.4" cy="57.1" r="0.4" fill="#aaa5a0"/><circle cx="1437.5" cy="251.0" r="0.5" fill="#5f5a56"/><circle cx="1258.6" cy="68.4" r="0.3" fill="#7a6f68"/><circle cx="1488.2" cy="35.4" r="0.4" fill="#8d8883"/><circle cx="1465.4" cy="24.3" r="0.6" fill="#8d8883"/><circle cx="1496.2" cy="136.5" r="0.6" fill="#aaa5a0"/><circle cx="1345.9" cy="221.9" r="0.7" fill="#8d8883"/><circle cx="1469.9" cy="247.4" r="0.5" fill="#aaa5a0"/><circle cx="1464.8" cy="212.0" r="0.4" fill="#8d8883"/><circle cx="1287.7" cy="200.7" r="0.6" fill="#aaa5a0"/><circle cx="1282.5" cy="106.5" r="0.3" fill="#8d8883"/><circle cx="1254.5" cy="126.6" r="0.5" fill="#7a6f68"/><circle cx="1413.4" cy="135.6" r="0.6" fill="#7a6f68"/><circle cx="1454.5" cy="55.7" r="0.6" fill="#aaa5a0"/><circle cx="1327.0" cy="53.3" r="0.4" fill="#8d8883"/><circle cx="1417.7" cy="68.6" r="0.5" fill="#aaa5a0"/><circle cx="1388.7" cy="32.9" r="0.6" fill="#8d8883"/><circle cx="1331.5" cy="14.9" r="0.5" fill="#5f5a56"/><circle cx="1383.5" cy="144.8" r="0.5" fill="#aaa5a0"/><circle cx="1335.8" cy="39.4" r="0.4" fill="#7a6f68"/><circle cx="1488.6" cy="170.8" r="0.4" fill="#8d8883"/><circle cx="1379.6" cy="236.1" r="0.3" fill="#7a6f68"/><circle cx="1464.0" cy="196.7" r="0.5" fill="#5f5a56"/><circle cx="1445.7" cy="238.6" r="0.4" fill="#8d8883"/><circle cx="1421.0" cy="247.3" r="0.7" fill="#7a6f68"/><circle cx="1264.9" cy="136.5" r="0.4" fill="#5f5a56"/><circle cx="1322.2" cy="142.9" r="0.5" fill="#aaa5a0"/><circle cx="1420.4" cy="23.4" r="0.5" fill="#5f5a56"/><circle cx="1282.6" cy="212.7" r="0.5" fill="#aaa5a0"/><circle cx="1430.4" cy="47.7" r="0.3" fill="#8d8883"/><circle cx="1442.0" cy="210.1" r="0.4" fill="#5f5a56"/><circle cx="1402.9" cy="225.3" r="0.5" fill="#aaa5a0"/><circle cx="1493.9" cy="144.9" r="0.7" fill="#aaa5a0"/><circle cx="1417.4" cy="257.7" r="0.3" fill="#5f5a56"/><circle cx="1374.3" cy="160.6" r="0.6" fill="#8d8883"/><circle cx="1406.7" cy="131.1" r="0.7" fill="#5f5a56"/><circle cx="1433.1" cy="33.4" r="0.4" fill="#7a6f68"/><circle cx="1333.8" cy="23.4" r="0.3" fill="#aaa5a0"/><circle cx="1490.8" cy="175.4" r="0.5" fill="#7a6f68"/><circle cx="1426.3" cy="75.9" r="0.7" fill="#5f5a56"/><circle cx="1377.4" cy="37.4" r="0.7" fill="#7a6f68"/><circle cx="1423.2" cy="214.9" r="0.5" fill="#8d8883"/><circle cx="1296.0" cy="41.5" r="0.5" fill="#8d8883"/><circle cx="1270.5" cy="211.2" r="0.5" fill="#7a6f68"/><circle cx="1291.6" cy="89.9" r="0.6" fill="#aaa5a0"/><circle cx="1238.4" cy="60.6" r="0.3" fill="#8d8883"/><circle cx="1482.8" cy="198.9" r="0.5" fill="#5f5a56"/><circle cx="1465.8" cy="188.5" r="0.7" fill="#5f5a56"/><circle cx="1409.6" cy="241.1" r="0.4" fill="#aaa5a0"/><circle cx="1340.8" cy="212.6" r="0.3" fill="#5f5a56"/><circle cx="1346.5" cy="53.6" r="0.4" fill="#5f5a56"/><circle cx="1433.4" cy="260.4" r="0.5" fill="#7a6f68"/><circle cx="1486.2" cy="18.9" r="0.3" fill="#7a6f68"/><circle cx="1336.1" cy="100.3" r="0.5" fill="#5f5a56"/><circle cx="1345.5" cy="266.1" r="0.5" fill="#5f5a56"/><circle cx="1485.1" cy="36.7" r="0.5" fill="#5f5a56"/><circle cx="1366.3" cy="0.6" r="0.4" fill="#aaa5a0"/><circle cx="1456.6" cy="77.7" r="0.6" fill="#7a6f68"/><circle cx="1273.1" cy="117.5" r="0.5" fill="#5f5a56"/><circle cx="1460.2" cy="51.3" r="0.4" fill="#5f5a56"/><circle cx="1474.8" cy="230.2" r="0.3" fill="#8d8883"/><circle cx="1454.6" cy="75.1" r="0.5" fill="#aaa5a0"/><circle cx="1294.3" cy="131.5" r="0.4" fill="#8d8883"/><circle cx="1322.6" cy="30.8" r="0.4" fill="#8d8883"/><circle cx="1373.1" cy="127.4" r="0.7" fill="#7a6f68"/><circle cx="1490.5" cy="27.5" r="0.7" fill="#8d8883"/><circle cx="1437.9" cy="283.4" r="0.5" fill="#7a6f68"/><circle cx="1327.6" cy="217.0" r="0.5" fill="#7a6f68"/><circle cx="1261.9" cy="96.9" r="0.6" fill="#8d8883"/><circle cx="1496.0" cy="11.4" r="0.6" fill="#8d8883"/><circle cx="1318.1" cy="107.1" r="0.3" fill="#8d8883"/><circle cx="1264.3" cy="64.7" r="0.7" fill="#7a6f68"/><circle cx="1334.7" cy="152.3" r="0.5" fill="#8d8883"/><circle cx="1272.6" cy="143.5" r="0.6" fill="#5f5a56"/><circle cx="1424.4" cy="198.9" r="0.7" fill="#aaa5a0"/><circle cx="1431.8" cy="80.2" r="0.7" fill="#5f5a56"/><circle cx="1240.0" cy="116.6" r="0.7" fill="#aaa5a0"/><circle cx="1430.5" cy="276.4" r="0.3" fill="#8d8883"/><circle cx="1466.1" cy="107.0" r="0.3" fill="#8d8883"/><circle cx="1424.5" cy="198.8" r="0.7" fill="#aaa5a0"/><circle cx="1481.7" cy="147.3" r="0.6" fill="#7a6f68"/><circle cx="1311.2" cy="20.6" r="0.6" fill="#7a6f68"/><circle cx="1252.1" cy="105.1" r="0.3" fill="#5f5a56"/><circle cx="1481.4" cy="145.0" r="0.6" fill="#7a6f68"/><circle cx="1441.9" cy="83.6" r="0.3" fill="#aaa5a0"/><circle cx="1465.2" cy="199.9" r="0.5" fill="#aaa5a0"/><circle cx="1462.3" cy="191.9" r="0.7" fill="#aaa5a0"/><circle cx="1284.4" cy="62.0" r="0.5" fill="#aaa5a0"/><circle cx="1332.0" cy="51.9" r="0.6" fill="#aaa5a0"/><circle cx="1445.8" cy="188.5" r="0.5" fill="#aaa5a0"/><circle cx="1313.5" cy="20.1" r="0.5" fill="#5f5a56"/><circle cx="1226.3" cy="94.9" r="0.7" fill="#8d8883"/><circle cx="1226.0" cy="99.3" r="0.7" fill="#8d8883"/><circle cx="1298.5" cy="78.7" r="0.5" fill="#8d8883"/><circle cx="1454.3" cy="180.1" r="0.6" fill="#5f5a56"/><circle cx="1472.8" cy="185.7" r="0.6" fill="#8d8883"/><circle cx="1379.9" cy="199.1" r="0.3" fill="#8d8883"/><circle cx="1386.7" cy="134.0" r="0.6" fill="#aaa5a0"/><circle cx="1263.6" cy="211.9" r="0.6" fill="#7a6f68"/><circle cx="1281.4" cy="33.3" r="0.7" fill="#5f5a56"/><circle cx="1492.4" cy="91.3" r="0.6" fill="#8d8883"/><circle cx="1308.9" cy="38.7" r="0.4" fill="#aaa5a0"/><circle cx="1349.4" cy="185.8" r="0.6" fill="#aaa5a0"/><circle cx="1384.0" cy="90.8" r="0.5" fill="#5f5a56"/><circle cx="1303.6" cy="225.2" r="0.7" fill="#5f5a56"/><circle cx="1271.6" cy="106.5" r="0.5" fill="#aaa5a0"/><circle cx="1476.6" cy="111.4" r="0.7" fill="#aaa5a0"/><circle cx="1461.4" cy="233.2" r="0.3" fill="#5f5a56"/><circle cx="1362.0" cy="22.0" r="0.4" fill="#7a6f68"/><circle cx="1342.2" cy="124.3" r="0.3" fill="#8d8883"/><circle cx="1257.9" cy="100.9" r="0.7" fill="#aaa5a0"/><circle cx="1349.4" cy="73.5" r="0.7" fill="#aaa5a0"/><circle cx="1355.5" cy="146.2" r="0.6" fill="#7a6f68"/><circle cx="1437.0" cy="76.6" r="0.6" fill="#aaa5a0"/><circle cx="1435.2" cy="84.8" r="0.5" fill="#aaa5a0"/><circle cx="1489.4" cy="172.8" r="0.4" fill="#5f5a56"/><circle cx="1304.5" cy="230.9" r="0.6" fill="#7a6f68"/><circle cx="1473.2" cy="62.6" r="0.4" fill="#7a6f68"/><circle cx="1256.6" cy="101.6" r="0.4" fill="#8d8883"/><circle cx="1351.9" cy="31.2" r="0.6" fill="#8d8883"/><circle cx="1246.4" cy="102.7" r="0.5" fill="#7a6f68"/><circle cx="1491.0" cy="28.9" r="0.3" fill="#5f5a56"/><circle cx="1360.2" cy="149.4" r="0.7" fill="#7a6f68"/><circle cx="1374.4" cy="130.3" r="0.6" fill="#7a6f68"/><circle cx="1295.8" cy="67.2" r="0.4" fill="#7a6f68"/><circle cx="1477.0" cy="201.5" r="0.7" fill="#5f5a56"/><circle cx="1422.2" cy="274.3" r="0.6" fill="#aaa5a0"/><circle cx="1433.1" cy="125.0" r="0.7" fill="#aaa5a0"/><circle cx="1416.0" cy="145.5" r="0.6" fill="#8d8883"/><circle cx="1384.8" cy="280.2" r="0.7" fill="#8d8883"/><circle cx="1293.3" cy="126.5" r="0.7" fill="#aaa5a0"/><circle cx="1434.9" cy="141.1" r="0.5" fill="#5f5a56"/><circle cx="1302.3" cy="52.6" r="0.6" fill="#7a6f68"/><circle cx="1428.4" cy="15.3" r="0.4" fill="#8d8883"/><circle cx="1293.7" cy="40.0" r="0.7" fill="#7a6f68"/><circle cx="1263.1" cy="182.4" r="0.6" fill="#7a6f68"/><circle cx="1432.0" cy="224.0" r="0.7" fill="#7a6f68"/><circle cx="1320.1" cy="25.4" r="0.5" fill="#8d8883"/><circle cx="1338.0" cy="52.9" r="0.5" fill="#7a6f68"/><circle cx="1353.3" cy="116.8" r="0.7" fill="#aaa5a0"/><circle cx="1491.5" cy="89.4" r="0.5" fill="#8d8883"/><circle cx="1381.3" cy="31.8" r="0.7" fill="#7a6f68"/><circle cx="1377.1" cy="280.1" r="0.5" fill="#8d8883"/><circle cx="1294.2" cy="22.9" r="0.4" fill="#5f5a56"/><circle cx="1325.5" cy="5.5" r="0.7" fill="#aaa5a0"/><circle cx="1394.0" cy="177.9" r="0.5" fill="#5f5a56"/><circle cx="1436.8" cy="264.0" r="0.4" fill="#7a6f68"/><circle cx="1374.3" cy="244.6" r="0.3" fill="#aaa5a0"/><circle cx="1280.3" cy="216.1" r="0.6" fill="#5f5a56"/><circle cx="1488.7" cy="230.9" r="0.6" fill="#5f5a56"/><circle cx="1291.1" cy="0.8" r="0.6" fill="#8d8883"/><circle cx="1320.2" cy="219.6" r="0.6" fill="#7a6f68"/><circle cx="1491.0" cy="210.3" r="0.6" fill="#5f5a56"/><circle cx="1449.7" cy="279.6" r="0.3" fill="#5f5a56"/><circle cx="1405.1" cy="32.8" r="0.3" fill="#5f5a56"/><circle cx="1382.6" cy="223.7" r="0.4" fill="#8d8883"/><circle cx="1492.3" cy="180.6" r="0.7" fill="#8d8883"/><circle cx="1359.9" cy="232.0" r="0.4" fill="#5f5a56"/><circle cx="1400.2" cy="128.1" r="0.5" fill="#8d8883"/><circle cx="1431.3" cy="204.3" r="0.4" fill="#aaa5a0"/><circle cx="1336.8" cy="234.9" r="0.4" fill="#7a6f68"/><circle cx="1486.8" cy="62.2" r="0.5" fill="#5f5a56"/><circle cx="1274.5" cy="60.0" r="0.4" fill="#8d8883"/><circle cx="1241.5" cy="109.8" r="0.4" fill="#7a6f68"/><circle cx="1459.0" cy="150.1" r="0.3" fill="#7a6f68"/><circle cx="1402.6" cy="136.4" r="0.7" fill="#5f5a56"/><circle cx="1228.8" cy="126.3" r="0.5" fill="#5f5a56"/><circle cx="1249.3" cy="107.1" r="0.4" fill="#5f5a56"/><circle cx="1338.0" cy="193.4" r="0.4" fill="#5f5a56"/><circle cx="1437.6" cy="276.7" r="0.7" fill="#7a6f68"/><circle cx="1453.4" cy="51.8" r="0.3" fill="#8d8883"/><circle cx="1473.7" cy="207.8" r="0.5" fill="#5f5a56"/><circle cx="1235.4" cy="67.7" r="0.5" fill="#8d8883"/><circle cx="1368.8" cy="42.8" r="0.5" fill="#aaa5a0"/><circle cx="1420.3" cy="212.4" r="0.4" fill="#8d8883"/><circle cx="1387.2" cy="45.7" r="0.5" fill="#7a6f68"/><circle cx="1444.1" cy="64.4" r="0.4" fill="#7a6f68"/><circle cx="1399.1" cy="137.0" r="0.4" fill="#aaa5a0"/><circle cx="1349.6" cy="200.5" r="0.3" fill="#7a6f68"/><circle cx="1264.2" cy="142.2" r="0.5" fill="#5f5a56"/><circle cx="1309.9" cy="173.7" r="0.7" fill="#5f5a56"/><circle cx="1457.1" cy="141.6" r="0.6" fill="#8d8883"/><circle cx="1277.6" cy="134.1" r="0.4" fill="#8d8883"/><circle cx="1312.9" cy="175.5" r="0.3" fill="#7a6f68"/><circle cx="1448.5" cy="167.7" r="0.5" fill="#7a6f68"/><circle cx="1258.0" cy="118.8" r="0.7" fill="#aaa5a0"/><circle cx="1422.2" cy="218.6" r="0.5" fill="#7a6f68"/><circle cx="1437.8" cy="132.5" r="0.6" fill="#8d8883"/><circle cx="1469.8" cy="213.3" r="0.5" fill="#5f5a56"/><circle cx="1225.2" cy="106.4" r="0.5" fill="#8d8883"/><circle cx="1492.6" cy="108.1" r="0.4" fill="#5f5a56"/><circle cx="1418.6" cy="222.5" r="0.4" fill="#aaa5a0"/><circle cx="1387.5" cy="127.6" r="0.6" fill="#7a6f68"/><circle cx="1485.7" cy="86.7" r="0.6" fill="#8d8883"/><circle cx="1267.3" cy="46.1" r="0.4" fill="#7a6f68"/><circle cx="1377.1" cy="160.2" r="0.7" fill="#8d8883"/><circle cx="1316.8" cy="247.6" r="0.4" fill="#5f5a56"/><circle cx="1358.6" cy="22.3" r="0.7" fill="#7a6f68"/><circle cx="1377.2" cy="227.5" r="0.4" fill="#aaa5a0"/><circle cx="1269.1" cy="151.6" r="0.6" fill="#5f5a56"/><circle cx="1374.3" cy="173.5" r="0.5" fill="#8d8883"/><circle cx="1288.7" cy="194.6" r="0.6" fill="#5f5a56"/><circle cx="1399.9" cy="1.4" r="0.6" fill="#aaa5a0"/><circle cx="1373.3" cy="129.9" r="0.4" fill="#aaa5a0"/><circle cx="1323.0" cy="68.6" r="0.7" fill="#aaa5a0"/><circle cx="1473.6" cy="77.5" r="0.5" fill="#7a6f68"/><circle cx="1261.9" cy="95.7" r="0.5" fill="#aaa5a0"/><circle cx="1398.3" cy="125.0" r="0.3" fill="#7a6f68"/><circle cx="1262.3" cy="201.2" r="0.4" fill="#7a6f68"/><circle cx="1427.0" cy="270.5" r="0.4" fill="#7a6f68"/><circle cx="1475.1" cy="205.0" r="0.6" fill="#8d8883"/><circle cx="1434.2" cy="83.8" r="0.6" fill="#aaa5a0"/><circle cx="1271.8" cy="44.7" r="0.4" fill="#aaa5a0"/><circle cx="1485.7" cy="40.6" r="0.7" fill="#7a6f68"/><circle cx="1498.7" cy="67.3" r="0.5" fill="#7a6f68"/><circle cx="1342.9" cy="94.1" r="0.4" fill="#8d8883"/><circle cx="1358.9" cy="103.5" r="0.4" fill="#7a6f68"/><circle cx="1312.6" cy="212.4" r="0.6" fill="#aaa5a0"/><circle cx="1432.2" cy="81.8" r="0.4" fill="#8d8883"/><circle cx="1412.2" cy="153.2" r="0.6" fill="#5f5a56"/><circle cx="1366.8" cy="5.7" r="0.4" fill="#7a6f68"/><circle cx="1481.6" cy="131.4" r="0.7" fill="#5f5a56"/><circle cx="1362.4" cy="203.5" r="0.6" fill="#8d8883"/><circle cx="1475.2" cy="84.1" r="0.5" fill="#7a6f68"/><circle cx="1461.4" cy="197.9" r="0.7" fill="#aaa5a0"/><circle cx="1398.0" cy="238.9" r="0.3" fill="#5f5a56"/><circle cx="1272.5" cy="164.0" r="0.7" fill="#5f5a56"/><circle cx="1309.9" cy="97.0" r="0.6" fill="#5f5a56"/><circle cx="1261.3" cy="14.1" r="0.5" fill="#5f5a56"/><circle cx="1239.9" cy="149.4" r="0.4" fill="#7a6f68"/><circle cx="1353.4" cy="77.7" r="0.4" fill="#5f5a56"/><circle cx="1261.9" cy="80.3" r="0.4" fill="#5f5a56"/><circle cx="1460.8" cy="60.9" r="0.4" fill="#7a6f68"/><circle cx="1286.9" cy="197.3" r="0.6" fill="#aaa5a0"/><circle cx="1490.6" cy="4.7" r="0.6" fill="#7a6f68"/><circle cx="1301.4" cy="18.4" r="0.6" fill="#8d8883"/><circle cx="1277.5" cy="10.0" r="0.6" fill="#7a6f68"/><circle cx="1362.0" cy="190.5" r="0.4" fill="#8d8883"/><circle cx="1344.7" cy="10.4" r="0.7" fill="#aaa5a0"/><circle cx="1397.6" cy="176.0" r="0.6" fill="#7a6f68"/><circle cx="1422.0" cy="183.6" r="0.5" fill="#7a6f68"/><circle cx="1319.4" cy="108.2" r="0.4" fill="#5f5a56"/><circle cx="1469.8" cy="199.4" r="0.6" fill="#aaa5a0"/><circle cx="1484.8" cy="104.7" r="0.5" fill="#7a6f68"/><circle cx="1290.1" cy="139.3" r="0.4" fill="#aaa5a0"/><circle cx="1376.0" cy="52.8" r="0.7" fill="#8d8883"/><circle cx="1376.7" cy="160.4" r="0.6" fill="#aaa5a0"/><circle cx="1335.3" cy="5.9" r="0.7" fill="#8d8883"/><circle cx="1268.6" cy="115.5" r="0.4" fill="#5f5a56"/><circle cx="1361.3" cy="60.4" r="0.3" fill="#5f5a56"/><circle cx="1289.9" cy="199.5" r="0.4" fill="#aaa5a0"/><circle cx="1373.2" cy="116.1" r="0.4" fill="#7a6f68"/><circle cx="1373.0" cy="76.4" r="0.6" fill="#5f5a56"/><circle cx="1337.3" cy="162.6" r="0.4" fill="#7a6f68"/><circle cx="1414.2" cy="33.0" r="0.3" fill="#aaa5a0"/><circle cx="1453.3" cy="169.0" r="0.6" fill="#8d8883"/><circle cx="1461.6" cy="60.2" r="0.5" fill="#aaa5a0"/><circle cx="1468.2" cy="122.4" r="0.4" fill="#8d8883"/><circle cx="1373.8" cy="52.3" r="0.6" fill="#8d8883"/><circle cx="1239.9" cy="91.3" r="0.5" fill="#aaa5a0"/><circle cx="1277.8" cy="105.9" r="0.4" fill="#8d8883"/><circle cx="1451.6" cy="29.6" r="0.6" fill="#5f5a56"/><circle cx="1311.0" cy="138.5" r="0.6" fill="#5f5a56"/><circle cx="1257.9" cy="72.2" r="0.7" fill="#7a6f68"/><circle cx="1290.8" cy="101.9" r="0.7" fill="#7a6f68"/><circle cx="1467.3" cy="271.4" r="0.5" fill="#5f5a56"/><circle cx="1467.1" cy="153.1" r="0.7" fill="#aaa5a0"/><circle cx="1382.8" cy="224.5" r="0.5" fill="#5f5a56"/><circle cx="1324.0" cy="142.1" r="0.7" fill="#5f5a56"/><circle cx="1311.1" cy="86.8" r="0.7" fill="#aaa5a0"/><circle cx="1323.6" cy="34.0" r="0.4" fill="#8d8883"/><circle cx="1374.5" cy="137.4" r="0.5" fill="#aaa5a0"/><circle cx="1470.5" cy="146.0" r="0.4" fill="#5f5a56"/><circle cx="1273.1" cy="214.9" r="0.3" fill="#7a6f68"/><circle cx="1403.0" cy="88.3" r="0.6" fill="#7a6f68"/><circle cx="1391.6" cy="225.1" r="0.6" fill="#8d8883"/><circle cx="1424.5" cy="41.0" r="0.7" fill="#8d8883"/><circle cx="1495.6" cy="261.1" r="0.5" fill="#aaa5a0"/><circle cx="1392.2" cy="253.7" r="0.5" fill="#7a6f68"/><circle cx="1482.5" cy="268.9" r="0.4" fill="#7a6f68"/><circle cx="1292.6" cy="183.1" r="0.7" fill="#8d8883"/><circle cx="1389.4" cy="192.4" r="0.6" fill="#8d8883"/><circle cx="1390.3" cy="33.6" r="0.6" fill="#8d8883"/><circle cx="1382.2" cy="229.6" r="0.6" fill="#5f5a56"/><circle cx="1299.9" cy="57.1" r="0.6" fill="#aaa5a0"/><circle cx="1458.8" cy="269.7" r="0.6" fill="#aaa5a0"/><circle cx="1314.5" cy="15.1" r="0.5" fill="#5f5a56"/><circle cx="1292.1" cy="76.8" r="0.5" fill="#5f5a56"/><circle cx="1469.0" cy="14.6" r="0.6" fill="#aaa5a0"/><circle cx="1264.2" cy="189.6" r="0.3" fill="#7a6f68"/><circle cx="1367.7" cy="26.6" r="0.7" fill="#7a6f68"/><circle cx="1337.1" cy="46.1" r="0.4" fill="#5f5a56"/><circle cx="1388.2" cy="16.3" r="0.4" fill="#aaa5a0"/><circle cx="1326.9" cy="147.4" r="0.5" fill="#aaa5a0"/><circle cx="1463.6" cy="69.6" r="0.4" fill="#8d8883"/><circle cx="1317.8" cy="202.1" r="0.3" fill="#7a6f68"/><circle cx="1256.6" cy="161.0" r="0.6" fill="#8d8883"/><circle cx="1475.5" cy="67.2" r="0.6" fill="#8d8883"/><circle cx="1415.1" cy="272.0" r="0.7" fill="#5f5a56"/><circle cx="1360.7" cy="34.6" r="0.3" fill="#aaa5a0"/><circle cx="1293.5" cy="189.7" r="0.6" fill="#5f5a56"/><circle cx="1393.0" cy="0.9" r="0.5" fill="#aaa5a0"/><circle cx="1463.7" cy="275.4" r="0.6" fill="#7a6f68"/><circle cx="1443.2" cy="225.3" r="0.7" fill="#7a6f68"/><circle cx="1433.1" cy="240.3" r="0.3" fill="#aaa5a0"/><circle cx="1467.9" cy="201.7" r="0.5" fill="#7a6f68"/><circle cx="1487.2" cy="19.7" r="0.4" fill="#8d8883"/><circle cx="1290.5" cy="183.7" r="0.5" fill="#aaa5a0"/><circle cx="1329.3" cy="154.0" r="0.3" fill="#5f5a56"/><circle cx="1380.8" cy="258.0" r="0.6" fill="#5f5a56"/><circle cx="1457.8" cy="12.0" r="0.5" fill="#5f5a56"/><circle cx="1403.5" cy="222.5" r="0.6" fill="#aaa5a0"/><circle cx="1259.4" cy="185.2" r="0.3" fill="#7a6f68"/><circle cx="1234.3" cy="90.9" r="0.5" fill="#aaa5a0"/><circle cx="1479.7" cy="148.8" r="0.4" fill="#aaa5a0"/><circle cx="1350.9" cy="265.3" r="0.4" fill="#5f5a56"/><circle cx="1397.3" cy="71.0" r="0.5" fill="#aaa5a0"/><circle cx="1365.1" cy="88.0" r="0.3" fill="#5f5a56"/><circle cx="1471.5" cy="251.3" r="0.5" fill="#aaa5a0"/><circle cx="1270.7" cy="129.3" r="0.3" fill="#aaa5a0"/><circle cx="1479.3" cy="242.3" r="0.7" fill="#8d8883"/><circle cx="1265.1" cy="72.5" r="0.5" fill="#5f5a56"/><circle cx="1496.8" cy="14.9" r="0.4" fill="#8d8883"/><circle cx="1243.2" cy="73.8" r="0.7" fill="#7a6f68"/><circle cx="1476.1" cy="82.2" r="0.5" fill="#7a6f68"/><circle cx="1265.1" cy="45.3" r="0.5" fill="#aaa5a0"/><circle cx="1308.1" cy="201.1" r="0.5" fill="#8d8883"/><circle cx="1381.6" cy="172.2" r="0.4" fill="#aaa5a0"/><circle cx="1466.0" cy="272.1" r="0.5" fill="#aaa5a0"/><circle cx="1401.7" cy="152.5" r="0.5" fill="#8d8883"/><circle cx="1322.5" cy="41.9" r="0.5" fill="#aaa5a0"/><circle cx="1447.8" cy="130.8" r="0.6" fill="#7a6f68"/><circle cx="1339.7" cy="137.7" r="0.6" fill="#7a6f68"/><circle cx="1294.0" cy="5.2" r="0.5" fill="#7a6f68"/><circle cx="1297.9" cy="165.1" r="0.7" fill="#7a6f68"/><circle cx="1460.9" cy="59.3" r="0.3" fill="#7a6f68"/><circle cx="1471.5" cy="14.4" r="0.4" fill="#aaa5a0"/><circle cx="1345.6" cy="243.6" r="0.5" fill="#aaa5a0"/><circle cx="1326.0" cy="122.4" r="0.7" fill="#5f5a56"/><circle cx="1307.8" cy="55.6" r="0.5" fill="#8d8883"/><circle cx="1332.9" cy="159.9" r="0.4" fill="#8d8883"/><circle cx="1446.4" cy="113.2" r="0.4" fill="#8d8883"/><circle cx="1236.4" cy="57.9" r="0.6" fill="#7a6f68"/><circle cx="1320.7" cy="226.7" r="0.6" fill="#5f5a56"/><circle cx="1288.4" cy="205.3" r="0.5" fill="#7a6f68"/><circle cx="1348.7" cy="173.8" r="0.4" fill="#8d8883"/><circle cx="1497.5" cy="177.6" r="0.7" fill="#7a6f68"/><circle cx="1380.3" cy="213.0" r="0.4" fill="#8d8883"/><circle cx="1488.0" cy="26.9" r="0.7" fill="#7a6f68"/><circle cx="1434.1" cy="222.3" r="0.7" fill="#5f5a56"/><circle cx="1437.5" cy="274.6" r="0.4" fill="#5f5a56"/><circle cx="1305.0" cy="252.1" r="0.6" fill="#8d8883"/><circle cx="1468.2" cy="193.6" r="0.6" fill="#7a6f68"/><circle cx="1424.5" cy="269.5" r="0.6" fill="#7a6f68"/><circle cx="1283.2" cy="100.2" r="0.4" fill="#7a6f68"/><circle cx="1408.0" cy="232.7" r="0.5" fill="#aaa5a0"/><circle cx="1247.6" cy="154.4" r="0.4" fill="#aaa5a0"/><circle cx="1495.6" cy="262.9" r="0.6" fill="#aaa5a0"/><circle cx="1291.1" cy="118.5" r="0.5" fill="#aaa5a0"/><circle cx="1244.1" cy="59.6" r="0.7" fill="#7a6f68"/><circle cx="1464.2" cy="221.0" r="0.7" fill="#8d8883"/><circle cx="1302.3" cy="8.1" r="0.4" fill="#aaa5a0"/><circle cx="1448.6" cy="276.3" r="0.7" fill="#7a6f68"/><circle cx="1261.0" cy="115.9" r="0.7" fill="#5f5a56"/><circle cx="1462.1" cy="19.6" r="0.4" fill="#aaa5a0"/><circle cx="1459.3" cy="87.3" r="0.7" fill="#7a6f68"/><circle cx="1348.0" cy="118.4" r="0.4" fill="#5f5a56"/><circle cx="1466.7" cy="13.4" r="0.3" fill="#8d8883"/><circle cx="1443.6" cy="245.2" r="0.6" fill="#7a6f68"/><circle cx="1234.0" cy="148.0" r="0.4" fill="#5f5a56"/><circle cx="1461.9" cy="255.2" r="0.7" fill="#5f5a56"/><circle cx="1465.4" cy="184.9" r="0.6" fill="#7a6f68"/><circle cx="1414.5" cy="240.2" r="0.7" fill="#8d8883"/><circle cx="1423.8" cy="198.4" r="0.3" fill="#7a6f68"/><circle cx="1284.7" cy="37.7" r="0.6" fill="#5f5a56"/><circle cx="1323.2" cy="24.5" r="0.5" fill="#8d8883"/><circle cx="1323.2" cy="78.6" r="0.6" fill="#5f5a56"/><circle cx="1392.1" cy="200.8" r="0.7" fill="#7a6f68"/><circle cx="1491.4" cy="226.2" r="0.4" fill="#5f5a56"/><circle cx="1294.4" cy="149.3" r="0.6" fill="#aaa5a0"/><circle cx="1353.3" cy="164.8" r="0.7" fill="#7a6f68"/><circle cx="1343.6" cy="93.5" r="0.7" fill="#5f5a56"/><circle cx="1332.5" cy="36.9" r="0.4" fill="#7a6f68"/><circle cx="1413.7" cy="158.2" r="0.3" fill="#8d8883"/><circle cx="1251.2" cy="179.5" r="0.6" fill="#7a6f68"/><circle cx="1363.8" cy="77.0" r="0.4" fill="#5f5a56"/><circle cx="1389.8" cy="248.8" r="0.6" fill="#7a6f68"/><circle cx="1294.3" cy="206.5" r="0.4" fill="#5f5a56"/><circle cx="1485.1" cy="62.4" r="0.6" fill="#8d8883"/><circle cx="1479.8" cy="243.8" r="0.5" fill="#8d8883"/><circle cx="1401.6" cy="169.2" r="0.3" fill="#7a6f68"/><circle cx="1380.1" cy="187.4" r="0.7" fill="#aaa5a0"/><circle cx="1397.5" cy="170.8" r="0.4" fill="#8d8883"/><circle cx="1291.8" cy="200.4" r="0.5" fill="#7a6f68"/><circle cx="1336.9" cy="23.5" r="0.5" fill="#aaa5a0"/><circle cx="1401.9" cy="71.0" r="0.5" fill="#aaa5a0"/><circle cx="1354.4" cy="218.0" r="0.6" fill="#5f5a56"/><circle cx="1397.3" cy="79.9" r="0.6" fill="#5f5a56"/><circle cx="1477.6" cy="206.0" r="0.4" fill="#8d8883"/><circle cx="1473.2" cy="214.2" r="0.7" fill="#aaa5a0"/><circle cx="1462.2" cy="270.1" r="0.4" fill="#aaa5a0"/><circle cx="1266.9" cy="212.4" r="0.4" fill="#8d8883"/><circle cx="1248.2" cy="146.9" r="0.7" fill="#aaa5a0"/><circle cx="1375.4" cy="135.3" r="0.4" fill="#8d8883"/><circle cx="1412.9" cy="71.9" r="0.5" fill="#5f5a56"/><circle cx="1345.0" cy="199.4" r="0.7" fill="#aaa5a0"/><circle cx="1348.6" cy="204.5" r="0.7" fill="#5f5a56"/><circle cx="1452.9" cy="229.4" r="0.7" fill="#aaa5a0"/><circle cx="1492.8" cy="193.1" r="0.5" fill="#aaa5a0"/><circle cx="1228.9" cy="126.7" r="0.5" fill="#aaa5a0"/><circle cx="1447.6" cy="113.4" r="0.5" fill="#aaa5a0"/><circle cx="1353.5" cy="30.8" r="0.3" fill="#aaa5a0"/><circle cx="1393.8" cy="233.3" r="0.4" fill="#aaa5a0"/><circle cx="1262.3" cy="151.4" r="0.6" fill="#7a6f68"/><circle cx="1306.1" cy="204.6" r="0.4" fill="#8d8883"/><circle cx="1436.0" cy="212.6" r="0.6" fill="#7a6f68"/><circle cx="1264.8" cy="67.3" r="0.7" fill="#aaa5a0"/><circle cx="1382.2" cy="191.7" r="0.5" fill="#7a6f68"/><circle cx="1307.5" cy="117.4" r="0.5" fill="#5f5a56"/><circle cx="1385.7" cy="8.6" r="0.6" fill="#8d8883"/><circle cx="1453.2" cy="7.0" r="0.6" fill="#5f5a56"/><circle cx="1394.7" cy="148.3" r="0.4" fill="#aaa5a0"/><circle cx="1444.9" cy="6.4" r="0.6" fill="#7a6f68"/><circle cx="1382.3" cy="60.7" r="0.6" fill="#aaa5a0"/><circle cx="1422.7" cy="221.2" r="0.5" fill="#aaa5a0"/><circle cx="1370.8" cy="25.1" r="0.4" fill="#7a6f68"/><circle cx="1458.1" cy="257.1" r="0.5" fill="#aaa5a0"/><circle cx="1436.9" cy="269.0" r="0.5" fill="#aaa5a0"/><circle cx="1377.2" cy="247.2" r="0.3" fill="#8d8883"/><circle cx="1498.8" cy="162.2" r="0.4" fill="#7a6f68"/><circle cx="1429.9" cy="43.3" r="0.7" fill="#aaa5a0"/><circle cx="1493.9" cy="40.8" r="0.7" fill="#7a6f68"/><circle cx="1311.0" cy="158.7" r="0.6" fill="#8d8883"/><circle cx="1249.8" cy="43.9" r="0.6" fill="#8d8883"/><circle cx="1290.1" cy="154.5" r="0.7" fill="#aaa5a0"/><circle cx="1325.8" cy="39.1" r="0.4" fill="#5f5a56"/><circle cx="1367.9" cy="100.5" r="0.4" fill="#5f5a56"/><circle cx="1385.6" cy="225.1" r="0.3" fill="#7a6f68"/><circle cx="1450.7" cy="158.0" r="0.3" fill="#aaa5a0"/><circle cx="1333.3" cy="7.0" r="0.4" fill="#7a6f68"/><circle cx="1386.0" cy="129.4" r="0.7" fill="#8d8883"/><circle cx="1474.6" cy="258.3" r="0.5" fill="#aaa5a0"/><circle cx="1482.2" cy="64.3" r="0.3" fill="#8d8883"/><circle cx="1346.5" cy="97.8" r="0.5" fill="#aaa5a0"/><circle cx="1324.6" cy="186.7" r="0.5" fill="#5f5a56"/><circle cx="1295.8" cy="22.3" r="0.6" fill="#8d8883"/><circle cx="1314.8" cy="210.4" r="0.4" fill="#8d8883"/><circle cx="1233.6" cy="158.4" r="0.6" fill="#5f5a56"/><circle cx="1485.2" cy="270.0" r="0.7" fill="#8d8883"/><circle cx="1338.7" cy="209.7" r="0.5" fill="#5f5a56"/><circle cx="1275.7" cy="106.6" r="0.5" fill="#7a6f68"/><circle cx="1401.3" cy="209.0" r="0.5" fill="#7a6f68"/><circle cx="1264.1" cy="38.2" r="0.7" fill="#5f5a56"/><circle cx="1282.5" cy="1.8" r="0.6" fill="#8d8883"/><circle cx="1449.3" cy="272.9" r="0.7" fill="#8d8883"/><circle cx="1464.8" cy="113.0" r="0.4" fill="#aaa5a0"/><circle cx="1261.1" cy="182.0" r="0.4" fill="#5f5a56"/><circle cx="1380.6" cy="59.1" r="0.6" fill="#8d8883"/><circle cx="1316.1" cy="6.9" r="0.6" fill="#aaa5a0"/><circle cx="1439.0" cy="252.0" r="0.3" fill="#7a6f68"/><circle cx="1297.4" cy="214.4" r="0.4" fill="#5f5a56"/><circle cx="1364.1" cy="98.8" r="0.6" fill="#8d8883"/><circle cx="1499.7" cy="45.3" r="0.6" fill="#8d8883"/><circle cx="1474.8" cy="77.4" r="0.4" fill="#7a6f68"/><circle cx="1400.6" cy="286.7" r="0.6" fill="#aaa5a0"/><circle cx="1429.9" cy="119.3" r="0.3" fill="#7a6f68"/><circle cx="1467.2" cy="211.1" r="0.5" fill="#8d8883"/><circle cx="1446.1" cy="98.0" r="0.3" fill="#7a6f68"/><circle cx="1283.1" cy="174.7" r="0.5" fill="#aaa5a0"/><circle cx="1455.0" cy="190.8" r="0.4" fill="#8d8883"/><circle cx="1462.3" cy="25.9" r="0.5" fill="#aaa5a0"/><circle cx="1479.1" cy="169.4" r="0.5" fill="#5f5a56"/><circle cx="1324.3" cy="204.1" r="0.4" fill="#5f5a56"/><circle cx="1415.9" cy="94.0" r="0.7" fill="#8d8883"/><circle cx="1332.8" cy="242.7" r="0.6" fill="#7a6f68"/><circle cx="1316.8" cy="66.7" r="0.4" fill="#aaa5a0"/><circle cx="1473.1" cy="122.1" r="0.4" fill="#5f5a56"/><circle cx="1442.8" cy="176.6" r="0.4" fill="#7a6f68"/><circle cx="1234.7" cy="152.0" r="0.7" fill="#7a6f68"/><circle cx="1305.8" cy="120.3" r="0.6" fill="#8d8883"/><circle cx="1498.7" cy="62.8" r="0.4" fill="#7a6f68"/><circle cx="1295.5" cy="166.1" r="0.6" fill="#aaa5a0"/><circle cx="1318.0" cy="64.8" r="0.4" fill="#7a6f68"/><circle cx="1337.7" cy="169.0" r="0.7" fill="#8d8883"/><circle cx="1479.9" cy="18.0" r="0.4" fill="#aaa5a0"/><circle cx="1380.2" cy="191.9" r="0.6" fill="#5f5a56"/><circle cx="1393.6" cy="102.4" r="0.6" fill="#5f5a56"/><circle cx="1281.0" cy="76.2" r="0.4" fill="#8d8883"/><circle cx="1302.0" cy="172.7" r="0.7" fill="#8d8883"/><circle cx="1449.0" cy="98.3" r="0.6" fill="#7a6f68"/><circle cx="1383.5" cy="34.9" r="0.7" fill="#7a6f68"/><circle cx="1269.8" cy="83.4" r="0.6" fill="#7a6f68"/><circle cx="1434.8" cy="10.7" r="0.3" fill="#aaa5a0"/><circle cx="1264.8" cy="175.4" r="0.5" fill="#7a6f68"/><circle cx="1255.3" cy="134.9" r="0.7" fill="#7a6f68"/><circle cx="1366.3" cy="280.4" r="0.6" fill="#aaa5a0"/><circle cx="1468.8" cy="160.1" r="0.3" fill="#5f5a56"/><circle cx="1394.6" cy="72.6" r="0.6" fill="#7a6f68"/><circle cx="1403.4" cy="179.8" r="0.7" fill="#5f5a56"/><circle cx="1457.3" cy="236.7" r="0.7" fill="#8d8883"/><circle cx="1410.3" cy="271.8" r="0.4" fill="#5f5a56"/><circle cx="1233.9" cy="33.1" r="0.6" fill="#8d8883"/><circle cx="1393.4" cy="20.7" r="0.5" fill="#aaa5a0"/><circle cx="1485.5" cy="96.4" r="0.6" fill="#aaa5a0"/><circle cx="1378.1" cy="167.2" r="0.5" fill="#8d8883"/><circle cx="1457.8" cy="82.3" r="0.7" fill="#5f5a56"/><circle cx="1446.2" cy="249.7" r="0.3" fill="#8d8883"/><circle cx="1410.3" cy="10.2" r="0.4" fill="#aaa5a0"/><circle cx="1448.0" cy="34.2" r="0.6" fill="#5f5a56"/><circle cx="1497.7" cy="66.7" r="0.5" fill="#aaa5a0"/><circle cx="1283.1" cy="96.8" r="0.6" fill="#aaa5a0"/><circle cx="1417.2" cy="216.9" r="0.5" fill="#5f5a56"/><circle cx="1341.6" cy="203.7" r="0.7" fill="#5f5a56"/><circle cx="1372.1" cy="206.3" r="0.4" fill="#5f5a56"/><circle cx="1291.3" cy="107.7" r="0.3" fill="#8d8883"/><circle cx="1283.7" cy="79.1" r="0.7" fill="#5f5a56"/><circle cx="1369.0" cy="164.0" r="0.4" fill="#7a6f68"/><circle cx="1363.1" cy="136.6" r="0.7" fill="#7a6f68"/><circle cx="1489.2" cy="210.7" r="0.5" fill="#5f5a56"/><circle cx="1383.5" cy="188.8" r="0.5" fill="#7a6f68"/><circle cx="1330.3" cy="9.2" r="0.7" fill="#8d8883"/><circle cx="1291.2" cy="190.8" r="0.6" fill="#8d8883"/><circle cx="1367.0" cy="208.4" r="0.4" fill="#aaa5a0"/><circle cx="1483.8" cy="177.5" r="0.4" fill="#7a6f68"/><circle cx="1296.8" cy="111.7" r="0.6" fill="#5f5a56"/><circle cx="1406.9" cy="258.3" r="0.5" fill="#5f5a56"/><circle cx="1433.2" cy="46.2" r="0.4" fill="#7a6f68"/><circle cx="1318.0" cy="188.0" r="0.3" fill="#aaa5a0"/><circle cx="1474.3" cy="250.0" r="0.5" fill="#8d8883"/><circle cx="1378.7" cy="272.6" r="0.7" fill="#5f5a56"/><circle cx="1461.7" cy="168.2" r="0.5" fill="#8d8883"/><circle cx="1460.4" cy="262.5" r="0.5" fill="#8d8883"/><circle cx="1260.0" cy="21.8" r="0.7" fill="#8d8883"/><circle cx="1332.6" cy="77.2" r="0.6" fill="#5f5a56"/><circle cx="1497.7" cy="74.8" r="0.4" fill="#8d8883"/><circle cx="1237.4" cy="60.8" r="0.7" fill="#8d8883"/><circle cx="1290.2" cy="223.9" r="0.7" fill="#8d8883"/><circle cx="1491.3" cy="168.5" r="0.6" fill="#5f5a56"/><circle cx="1343.1" cy="210.0" r="0.5" fill="#5f5a56"/><circle cx="1360.3" cy="44.6" r="0.7" fill="#8d8883"/><circle cx="1384.8" cy="226.8" r="0.6" fill="#5f5a56"/><circle cx="1313.8" cy="177.5" r="0.4" fill="#8d8883"/><circle cx="1481.0" cy="193.7" r="0.7" fill="#8d8883"/><circle cx="1356.6" cy="154.8" r="0.5" fill="#8d8883"/><circle cx="1377.8" cy="275.2" r="0.3" fill="#5f5a56"/><circle cx="1367.6" cy="115.4" r="0.6" fill="#7a6f68"/><circle cx="1284.7" cy="32.7" r="0.5" fill="#5f5a56"/><circle cx="1342.2" cy="29.4" r="0.6" fill="#5f5a56"/><circle cx="1494.4" cy="251.1" r="0.7" fill="#5f5a56"/><circle cx="1322.6" cy="53.4" r="0.5" fill="#8d8883"/><circle cx="1336.7" cy="134.9" r="0.4" fill="#5f5a56"/><circle cx="1498.6" cy="68.4" r="0.3" fill="#5f5a56"/><circle cx="1314.4" cy="10.8" r="0.7" fill="#5f5a56"/><circle cx="1407.1" cy="121.3" r="0.3" fill="#aaa5a0"/><circle cx="1441.4" cy="210.9" r="0.5" fill="#5f5a56"/><circle cx="1349.6" cy="157.1" r="0.4" fill="#7a6f68"/><circle cx="1359.6" cy="168.3" r="0.3" fill="#7a6f68"/><circle cx="1245.3" cy="37.7" r="0.6" fill="#5f5a56"/><circle cx="1401.2" cy="231.1" r="0.4" fill="#7a6f68"/><circle cx="1347.4" cy="158.9" r="0.3" fill="#8d8883"/><circle cx="1281.8" cy="154.1" r="0.7" fill="#5f5a56"/><circle cx="1255.2" cy="142.9" r="0.6" fill="#7a6f68"/><circle cx="1468.6" cy="236.0" r="0.5" fill="#7a6f68"/><circle cx="1455.2" cy="88.5" r="0.4" fill="#aaa5a0"/><circle cx="1242.0" cy="131.7" r="0.7" fill="#aaa5a0"/><circle cx="1445.7" cy="271.6" r="0.4" fill="#aaa5a0"/><circle cx="1453.0" cy="282.1" r="0.3" fill="#8d8883"/><circle cx="1404.5" cy="40.7" r="0.5" fill="#aaa5a0"/><circle cx="1375.1" cy="245.8" r="0.3" fill="#5f5a56"/><circle cx="1399.0" cy="273.3" r="0.7" fill="#5f5a56"/><circle cx="1350.9" cy="70.0" r="0.6" fill="#aaa5a0"/><circle cx="1233.2" cy="62.1" r="0.5" fill="#8d8883"/><circle cx="1381.7" cy="107.8" r="0.3" fill="#5f5a56"/><circle cx="1329.5" cy="56.1" r="0.5" fill="#8d8883"/><circle cx="1338.7" cy="164.3" r="0.4" fill="#7a6f68"/><circle cx="1328.8" cy="31.7" r="0.7" fill="#aaa5a0"/><circle cx="1434.8" cy="67.0" r="0.6" fill="#aaa5a0"/><circle cx="1371.8" cy="232.7" r="0.4" fill="#7a6f68"/><circle cx="1444.9" cy="83.0" r="0.5" fill="#8d8883"/><circle cx="1351.5" cy="100.2" r="0.6" fill="#7a6f68"/><circle cx="1345.2" cy="221.7" r="0.7" fill="#5f5a56"/><circle cx="1266.5" cy="131.3" r="0.4" fill="#8d8883"/><circle cx="1483.1" cy="27.3" r="0.6" fill="#5f5a56"/><circle cx="1337.4" cy="16.1" r="0.3" fill="#7a6f68"/><circle cx="1411.1" cy="214.7" r="0.6" fill="#aaa5a0"/><circle cx="1453.1" cy="105.2" r="0.5" fill="#7a6f68"/><circle cx="1473.6" cy="198.4" r="0.7" fill="#7a6f68"/><circle cx="1293.4" cy="197.3" r="0.5" fill="#7a6f68"/><circle cx="1403.7" cy="71.5" r="0.7" fill="#8d8883"/><circle cx="1493.7" cy="145.8" r="0.4" fill="#5f5a56"/><circle cx="1308.3" cy="29.2" r="0.6" fill="#5f5a56"/><circle cx="1303.3" cy="206.3" r="0.6" fill="#aaa5a0"/><circle cx="1293.9" cy="230.5" r="0.4" fill="#7a6f68"/><circle cx="1263.6" cy="190.4" r="0.4" fill="#7a6f68"/><circle cx="1405.6" cy="171.6" r="0.6" fill="#7a6f68"/><circle cx="1475.2" cy="36.1" r="0.3" fill="#7a6f68"/><circle cx="1396.5" cy="66.4" r="0.6" fill="#5f5a56"/><circle cx="1399.0" cy="229.4" r="0.6" fill="#aaa5a0"/><circle cx="1337.1" cy="90.7" r="0.6" fill="#7a6f68"/><circle cx="1349.3" cy="258.7" r="0.6" fill="#8d8883"/><circle cx="1342.0" cy="76.9" r="0.6" fill="#5f5a56"/><circle cx="1460.7" cy="87.3" r="0.6" fill="#aaa5a0"/><circle cx="1471.9" cy="4.4" r="0.7" fill="#aaa5a0"/><circle cx="1409.8" cy="12.6" r="0.5" fill="#7a6f68"/><circle cx="1441.5" cy="186.9" r="0.5" fill="#aaa5a0"/><circle cx="1409.5" cy="21.4" r="0.7" fill="#aaa5a0"/><circle cx="1233.0" cy="75.6" r="0.6" fill="#aaa5a0"/><circle cx="1226.9" cy="77.8" r="0.4" fill="#8d8883"/><circle cx="1453.2" cy="266.1" r="0.7" fill="#aaa5a0"/><circle cx="1324.1" cy="167.4" r="0.7" fill="#aaa5a0"/><circle cx="1244.9" cy="159.9" r="0.4" fill="#8d8883"/><circle cx="1340.3" cy="206.5" r="0.4" fill="#8d8883"/><circle cx="1278.5" cy="106.1" r="0.6" fill="#8d8883"/><circle cx="1317.5" cy="126.8" r="0.5" fill="#8d8883"/><circle cx="1247.5" cy="2.4" r="0.6" fill="#8d8883"/><circle cx="1462.6" cy="193.3" r="0.7" fill="#aaa5a0"/><circle cx="1228.7" cy="111.5" r="0.6" fill="#5f5a56"/><circle cx="1357.1" cy="136.4" r="0.3" fill="#7a6f68"/><circle cx="1415.5" cy="117.1" r="0.4" fill="#aaa5a0"/><circle cx="1482.0" cy="78.4" r="0.3" fill="#8d8883"/><circle cx="1447.4" cy="195.2" r="0.5" fill="#8d8883"/><circle cx="1415.1" cy="175.4" r="0.3" fill="#8d8883"/><circle cx="1283.8" cy="88.7" r="0.5" fill="#5f5a56"/><circle cx="1334.8" cy="59.9" r="0.3" fill="#7a6f68"/><circle cx="1465.4" cy="153.1" r="0.4" fill="#5f5a56"/><circle cx="1350.5" cy="81.0" r="0.5" fill="#8d8883"/><circle cx="1273.3" cy="12.6" r="0.3" fill="#5f5a56"/><circle cx="1345.1" cy="171.9" r="0.4" fill="#7a6f68"/><circle cx="1405.2" cy="98.3" r="0.4" fill="#aaa5a0"/><circle cx="1290.1" cy="204.2" r="0.7" fill="#8d8883"/><circle cx="1447.5" cy="112.7" r="0.5" fill="#5f5a56"/><circle cx="1344.5" cy="137.8" r="0.4" fill="#aaa5a0"/><circle cx="1427.4" cy="7.7" r="0.5" fill="#7a6f68"/><circle cx="1290.2" cy="209.1" r="0.4" fill="#8d8883"/><circle cx="1459.7" cy="178.3" r="0.3" fill="#5f5a56"/><circle cx="1319.8" cy="116.9" r="0.5" fill="#5f5a56"/><circle cx="1498.0" cy="12.0" r="0.4" fill="#5f5a56"/><circle cx="1316.9" cy="247.5" r="0.5" fill="#8d8883"/><circle cx="1466.1" cy="98.3" r="0.5" fill="#aaa5a0"/><circle cx="1405.1" cy="107.7" r="0.6" fill="#8d8883"/><circle cx="1377.6" cy="231.9" r="0.3" fill="#8d8883"/><circle cx="1288.5" cy="64.1" r="0.7" fill="#aaa5a0"/><circle cx="1429.7" cy="32.9" r="0.6" fill="#8d8883"/><circle cx="1415.8" cy="29.0" r="0.4" fill="#8d8883"/><circle cx="1442.4" cy="55.1" r="0.5" fill="#8d8883"/><circle cx="1255.5" cy="163.5" r="0.6" fill="#5f5a56"/><circle cx="1355.0" cy="48.7" r="0.6" fill="#aaa5a0"/><circle cx="1293.7" cy="127.5" r="0.7" fill="#8d8883"/><circle cx="1242.6" cy="170.6" r="0.4" fill="#8d8883"/><circle cx="1301.5" cy="108.0" r="0.7" fill="#7a6f68"/><circle cx="1435.2" cy="213.5" r="0.4" fill="#aaa5a0"/><circle cx="1444.9" cy="116.7" r="0.4" fill="#7a6f68"/><circle cx="1352.1" cy="19.8" r="0.6" fill="#7a6f68"/><circle cx="1464.5" cy="68.7" r="0.4" fill="#aaa5a0"/><circle cx="1314.1" cy="203.1" r="0.6" fill="#aaa5a0"/><circle cx="1381.2" cy="22.3" r="0.4" fill="#7a6f68"/><circle cx="1355.0" cy="41.2" r="0.7" fill="#8d8883"/><circle cx="1369.7" cy="1.0" r="0.3" fill="#aaa5a0"/><circle cx="1354.9" cy="50.1" r="0.6" fill="#aaa5a0"/><circle cx="1388.8" cy="236.6" r="0.4" fill="#5f5a56"/><circle cx="1482.2" cy="122.1" r="0.7" fill="#aaa5a0"/><circle cx="1372.6" cy="164.1" r="0.7" fill="#5f5a56"/><circle cx="1272.5" cy="66.0" r="0.7" fill="#aaa5a0"/><circle cx="1242.8" cy="39.2" r="0.5" fill="#aaa5a0"/><circle cx="1374.8" cy="96.7" r="0.3" fill="#5f5a56"/><circle cx="1268.3" cy="79.0" r="0.6" fill="#7a6f68"/><circle cx="1466.7" cy="168.0" r="0.5" fill="#8d8883"/><circle cx="1249.1" cy="28.5" r="0.6" fill="#8d8883"/><circle cx="1378.9" cy="50.7" r="0.4" fill="#5f5a56"/><circle cx="1451.0" cy="73.0" r="0.4" fill="#8d8883"/><circle cx="1429.7" cy="242.3" r="0.3" fill="#8d8883"/><circle cx="1293.8" cy="36.1" r="0.7" fill="#5f5a56"/><circle cx="1318.4" cy="226.9" r="0.7" fill="#5f5a56"/><circle cx="1418.8" cy="200.8" r="0.4" fill="#5f5a56"/><circle cx="1396.7" cy="36.2" r="0.6" fill="#aaa5a0"/><circle cx="1279.3" cy="118.2" r="0.3" fill="#8d8883"/><circle cx="1436.7" cy="146.8" r="0.6" fill="#7a6f68"/><circle cx="1458.1" cy="132.3" r="0.7" fill="#7a6f68"/><circle cx="1332.4" cy="105.6" r="0.5" fill="#5f5a56"/><circle cx="1290.5" cy="2.7" r="0.5" fill="#aaa5a0"/><circle cx="1464.4" cy="193.6" r="0.4" fill="#7a6f68"/><circle cx="1450.2" cy="237.9" r="0.6" fill="#5f5a56"/><circle cx="1480.5" cy="181.0" r="0.5" fill="#8d8883"/><circle cx="1250.9" cy="137.3" r="0.4" fill="#7a6f68"/><circle cx="1452.4" cy="209.6" r="0.7" fill="#8d8883"/><circle cx="1448.6" cy="176.2" r="0.6" fill="#7a6f68"/><circle cx="1328.4" cy="15.9" r="0.5" fill="#5f5a56"/><circle cx="1421.3" cy="201.1" r="0.5" fill="#5f5a56"/><circle cx="1374.8" cy="157.1" r="0.7" fill="#aaa5a0"/><circle cx="1237.3" cy="77.2" r="0.3" fill="#8d8883"/><circle cx="1493.0" cy="114.2" r="0.5" fill="#aaa5a0"/><circle cx="1468.4" cy="196.2" r="0.3" fill="#5f5a56"/><circle cx="1380.4" cy="1.4" r="0.5" fill="#7a6f68"/><circle cx="1247.6" cy="167.0" r="0.5" fill="#7a6f68"/><circle cx="1361.3" cy="138.2" r="0.7" fill="#aaa5a0"/><circle cx="1438.2" cy="156.4" r="0.6" fill="#7a6f68"/><circle cx="1396.3" cy="93.1" r="0.6" fill="#5f5a56"/><circle cx="1429.3" cy="146.9" r="0.4" fill="#8d8883"/><circle cx="1353.9" cy="259.5" r="0.6" fill="#5f5a56"/><circle cx="1405.6" cy="279.7" r="0.4" fill="#7a6f68"/><circle cx="1383.2" cy="46.7" r="0.3" fill="#aaa5a0"/><circle cx="1444.9" cy="267.0" r="0.4" fill="#5f5a56"/><circle cx="1396.3" cy="121.7" r="0.6" fill="#7a6f68"/><circle cx="1408.3" cy="114.2" r="0.7" fill="#8d8883"/><circle cx="1382.9" cy="137.8" r="0.3" fill="#8d8883"/><circle cx="1340.6" cy="8.0" r="0.6" fill="#aaa5a0"/><circle cx="1432.4" cy="244.8" r="0.5" fill="#aaa5a0"/><circle cx="1369.4" cy="12.5" r="0.4" fill="#8d8883"/><circle cx="1495.9" cy="187.1" r="0.6" fill="#5f5a56"/><circle cx="1342.9" cy="53.2" r="0.5" fill="#7a6f68"/><circle cx="1445.0" cy="244.4" r="0.5" fill="#5f5a56"/><circle cx="1467.7" cy="197.1" r="0.4" fill="#7a6f68"/><circle cx="1274.5" cy="50.3" r="0.4" fill="#7a6f68"/><circle cx="1427.6" cy="214.5" r="0.5" fill="#7a6f68"/><circle cx="1430.6" cy="87.6" r="0.6" fill="#8d8883"/><circle cx="1261.7" cy="184.1" r="0.5" fill="#8d8883"/><circle cx="1407.8" cy="282.5" r="0.7" fill="#7a6f68"/><circle cx="1456.3" cy="58.5" r="0.5" fill="#5f5a56"/><circle cx="1389.5" cy="183.3" r="0.4" fill="#5f5a56"/><circle cx="1243.3" cy="12.0" r="0.6" fill="#7a6f68"/><circle cx="1434.7" cy="148.4" r="0.7" fill="#5f5a56"/><circle cx="1313.0" cy="232.1" r="0.6" fill="#5f5a56"/><circle cx="1425.3" cy="275.1" r="0.6" fill="#aaa5a0"/><circle cx="1415.0" cy="228.0" r="0.7" fill="#7a6f68"/><circle cx="1323.1" cy="182.6" r="0.5" fill="#7a6f68"/><circle cx="1373.5" cy="243.1" r="0.6" fill="#8d8883"/><circle cx="1397.4" cy="222.7" r="0.6" fill="#7a6f68"/><circle cx="1460.5" cy="270.3" r="0.5" fill="#7a6f68"/><circle cx="1331.1" cy="138.0" r="0.4" fill="#8d8883"/><circle cx="1459.6" cy="24.8" r="0.4" fill="#8d8883"/><circle cx="1415.5" cy="277.9" r="0.4" fill="#7a6f68"/><circle cx="1372.4" cy="113.9" r="0.7" fill="#aaa5a0"/><circle cx="1446.3" cy="84.2" r="0.5" fill="#8d8883"/><circle cx="1341.8" cy="121.2" r="0.7" fill="#7a6f68"/><circle cx="1361.5" cy="269.0" r="0.7" fill="#8d8883"/><circle cx="1318.7" cy="192.3" r="0.5" fill="#7a6f68"/><circle cx="1372.0" cy="117.4" r="0.4" fill="#7a6f68"/><circle cx="1446.3" cy="224.4" r="0.4" fill="#aaa5a0"/><circle cx="1422.6" cy="252.4" r="0.6" fill="#5f5a56"/><circle cx="1481.9" cy="24.4" r="0.7" fill="#8d8883"/><circle cx="1301.5" cy="100.0" r="0.4" fill="#7a6f68"/><circle cx="1339.8" cy="61.9" r="0.3" fill="#7a6f68"/><circle cx="1303.3" cy="60.4" r="0.4" fill="#5f5a56"/><circle cx="1288.9" cy="79.3" r="0.4" fill="#7a6f68"/><circle cx="1470.9" cy="257.8" r="0.7" fill="#5f5a56"/><circle cx="1475.9" cy="208.8" r="0.7" fill="#8d8883"/><circle cx="1453.3" cy="278.7" r="0.4" fill="#7a6f68"/><circle cx="1435.4" cy="102.6" r="0.5" fill="#aaa5a0"/><circle cx="1304.0" cy="14.4" r="0.6" fill="#aaa5a0"/><circle cx="1495.6" cy="40.6" r="0.7" fill="#8d8883"/><circle cx="1379.5" cy="92.2" r="0.6" fill="#5f5a56"/><circle cx="1376.6" cy="80.0" r="0.6" fill="#7a6f68"/><circle cx="1262.6" cy="178.6" r="0.6" fill="#5f5a56"/><circle cx="1352.2" cy="120.3" r="0.3" fill="#7a6f68"/><circle cx="1266.1" cy="22.4" r="0.6" fill="#aaa5a0"/><circle cx="1318.1" cy="109.2" r="0.5" fill="#5f5a56"/><circle cx="1291.2" cy="6.3" r="0.5" fill="#7a6f68"/><circle cx="1442.1" cy="0.7" r="0.4" fill="#8d8883"/><circle cx="1270.6" cy="167.5" r="0.4" fill="#8d8883"/><circle cx="1281.2" cy="169.5" r="0.6" fill="#5f5a56"/><circle cx="1360.8" cy="21.7" r="0.7" fill="#8d8883"/><circle cx="1430.2" cy="204.5" r="0.7" fill="#5f5a56"/><circle cx="1361.7" cy="21.8" r="0.4" fill="#aaa5a0"/><circle cx="1393.5" cy="43.1" r="0.4" fill="#5f5a56"/><circle cx="1415.4" cy="166.5" r="0.4" fill="#5f5a56"/><circle cx="1430.1" cy="84.3" r="0.4" fill="#8d8883"/><circle cx="1294.9" cy="179.8" r="0.5" fill="#5f5a56"/><circle cx="1350.3" cy="187.8" r="0.4" fill="#8d8883"/><circle cx="1426.4" cy="262.5" r="0.5" fill="#aaa5a0"/><circle cx="1379.9" cy="56.2" r="0.5" fill="#7a6f68"/><circle cx="1315.0" cy="157.7" r="0.4" fill="#5f5a56"/><circle cx="1245.6" cy="99.7" r="0.4" fill="#7a6f68"/><circle cx="1455.8" cy="206.0" r="0.4" fill="#aaa5a0"/><circle cx="1459.8" cy="210.6" r="0.5" fill="#5f5a56"/><circle cx="1378.2" cy="25.9" r="0.4" fill="#5f5a56"/><circle cx="1399.2" cy="227.9" r="0.3" fill="#5f5a56"/><circle cx="1325.8" cy="164.1" r="0.6" fill="#8d8883"/><circle cx="1351.5" cy="138.1" r="0.4" fill="#aaa5a0"/><circle cx="1327.3" cy="51.7" r="0.6" fill="#5f5a56"/><circle cx="1373.3" cy="228.3" r="0.6" fill="#7a6f68"/><circle cx="1312.2" cy="123.5" r="0.3" fill="#7a6f68"/><circle cx="1468.6" cy="242.4" r="0.7" fill="#aaa5a0"/><circle cx="1306.9" cy="174.2" r="0.5" fill="#5f5a56"/><circle cx="1253.9" cy="175.2" r="0.4" fill="#7a6f68"/><circle cx="1267.2" cy="79.0" r="0.7" fill="#7a6f68"/><circle cx="1342.1" cy="255.7" r="0.5" fill="#5f5a56"/><circle cx="1338.6" cy="269.2" r="0.6" fill="#8d8883"/><circle cx="1291.2" cy="58.7" r="0.7" fill="#8d8883"/><circle cx="1329.2" cy="196.9" r="0.3" fill="#7a6f68"/><circle cx="1232.5" cy="84.1" r="0.3" fill="#aaa5a0"/><circle cx="1474.3" cy="233.8" r="0.5" fill="#5f5a56"/><circle cx="1416.2" cy="222.7" r="0.5" fill="#aaa5a0"/><circle cx="1297.3" cy="27.0" r="0.3" fill="#5f5a56"/><circle cx="1246.2" cy="16.2" r="0.5" fill="#aaa5a0"/><circle cx="1425.5" cy="17.9" r="0.6" fill="#7a6f68"/><circle cx="1438.6" cy="145.0" r="0.5" fill="#5f5a56"/><circle cx="1372.0" cy="91.9" r="0.4" fill="#aaa5a0"/><circle cx="1492.8" cy="132.7" r="0.6" fill="#5f5a56"/><circle cx="1491.6" cy="176.9" r="0.5" fill="#aaa5a0"/><circle cx="1253.3" cy="56.8" r="0.6" fill="#8d8883"/><circle cx="1375.5" cy="230.6" r="0.3" fill="#8d8883"/><circle cx="1411.4" cy="130.2" r="0.6" fill="#aaa5a0"/><circle cx="1352.9" cy="186.9" r="0.3" fill="#7a6f68"/><circle cx="1465.6" cy="48.7" r="0.4" fill="#aaa5a0"/><circle cx="1449.2" cy="119.3" r="0.4" fill="#aaa5a0"/><circle cx="1351.6" cy="43.9" r="0.5" fill="#7a6f68"/><circle cx="1467.4" cy="16.7" r="0.6" fill="#8d8883"/><circle cx="1423.6" cy="285.0" r="0.4" fill="#5f5a56"/><circle cx="1337.1" cy="28.7" r="0.7" fill="#8d8883"/><circle cx="1414.1" cy="177.0" r="0.3" fill="#aaa5a0"/><circle cx="1459.7" cy="134.3" r="0.6" fill="#5f5a56"/><circle cx="1414.9" cy="126.3" r="0.6" fill="#7a6f68"/><circle cx="1290.0" cy="147.6" r="0.6" fill="#7a6f68"/><circle cx="1392.6" cy="125.8" r="0.4" fill="#8d8883"/><circle cx="1416.1" cy="46.7" r="0.7" fill="#aaa5a0"/><circle cx="1477.2" cy="235.4" r="0.6" fill="#8d8883"/><circle cx="1426.4" cy="272.1" r="0.7" fill="#8d8883"/><circle cx="1315.2" cy="51.0" r="0.3" fill="#aaa5a0"/><circle cx="1266.2" cy="86.3" r="0.5" fill="#5f5a56"/><circle cx="1335.9" cy="100.7" r="0.6" fill="#aaa5a0"/><circle cx="1288.8" cy="212.5" r="0.5" fill="#7a6f68"/><circle cx="1452.7" cy="156.4" r="0.4" fill="#8d8883"/><circle cx="1333.7" cy="45.7" r="0.4" fill="#7a6f68"/><circle cx="1404.2" cy="116.8" r="0.3" fill="#aaa5a0"/><circle cx="1273.6" cy="150.1" r="0.5" fill="#8d8883"/><circle cx="1492.0" cy="24.0" r="0.7" fill="#aaa5a0"/><circle cx="1492.9" cy="268.6" r="0.4" fill="#7a6f68"/><circle cx="1424.5" cy="62.3" r="0.6" fill="#5f5a56"/><circle cx="1332.8" cy="153.0" r="0.5" fill="#7a6f68"/><circle cx="1385.5" cy="207.9" r="0.5" fill="#7a6f68"/><circle cx="1390.6" cy="202.7" r="0.7" fill="#7a6f68"/><circle cx="1408.9" cy="199.4" r="0.6" fill="#8d8883"/><circle cx="1332.2" cy="233.2" r="0.5" fill="#7a6f68"/><circle cx="1293.0" cy="168.5" r="0.5" fill="#aaa5a0"/><circle cx="1476.4" cy="3.9" r="0.7" fill="#5f5a56"/><circle cx="1261.5" cy="11.9" r="0.4" fill="#aaa5a0"/><circle cx="1347.5" cy="262.3" r="0.5" fill="#8d8883"/><circle cx="1472.1" cy="218.6" r="0.5" fill="#7a6f68"/><circle cx="1493.3" cy="232.2" r="0.5" fill="#8d8883"/><circle cx="1307.2" cy="25.8" r="0.5" fill="#8d8883"/><circle cx="1357.8" cy="274.8" r="0.5" fill="#aaa5a0"/><circle cx="1482.1" cy="187.9" r="0.5" fill="#aaa5a0"/><circle cx="1270.4" cy="114.1" r="0.6" fill="#7a6f68"/><circle cx="1486.3" cy="86.8" r="0.5" fill="#5f5a56"/><circle cx="1323.1" cy="11.1" r="0.5" fill="#7a6f68"/><circle cx="1281.9" cy="198.9" r="0.6" fill="#aaa5a0"/><circle cx="1439.3" cy="115.0" r="0.4" fill="#5f5a56"/><circle cx="1425.0" cy="192.6" r="0.6" fill="#aaa5a0"/><circle cx="1249.9" cy="78.5" r="0.7" fill="#5f5a56"/><circle cx="1335.1" cy="50.1" r="0.4" fill="#8d8883"/><circle cx="1394.6" cy="24.8" r="0.6" fill="#8d8883"/><circle cx="1408.2" cy="174.1" r="0.4" fill="#5f5a56"/><circle cx="1404.6" cy="189.0" r="0.6" fill="#7a6f68"/><circle cx="1405.4" cy="244.7" r="0.3" fill="#aaa5a0"/><circle cx="1401.1" cy="259.9" r="0.4" fill="#aaa5a0"/><circle cx="1293.1" cy="238.0" r="0.3" fill="#7a6f68"/><circle cx="1374.3" cy="70.0" r="0.5" fill="#8d8883"/><circle cx="1356.4" cy="244.0" r="0.4" fill="#aaa5a0"/><circle cx="1419.6" cy="146.2" r="0.4" fill="#5f5a56"/><circle cx="1423.2" cy="24.1" r="0.4" fill="#5f5a56"/><circle cx="1387.7" cy="221.8" r="0.5" fill="#5f5a56"/><circle cx="1314.0" cy="119.3" r="0.7" fill="#7a6f68"/><circle cx="1335.0" cy="76.0" r="0.4" fill="#5f5a56"/><circle cx="1264.2" cy="90.9" r="0.3" fill="#aaa5a0"/><circle cx="1395.3" cy="196.0" r="0.6" fill="#8d8883"/><circle cx="1298.6" cy="182.6" r="0.7" fill="#aaa5a0"/><circle cx="1493.7" cy="149.7" r="0.5" fill="#7a6f68"/><circle cx="1456.6" cy="255.6" r="0.5" fill="#8d8883"/><circle cx="1260.5" cy="207.7" r="0.5" fill="#5f5a56"/><circle cx="1421.6" cy="187.5" r="0.3" fill="#8d8883"/><circle cx="1455.8" cy="15.4" r="0.3" fill="#8d8883"/><circle cx="1309.8" cy="35.1" r="0.6" fill="#7a6f68"/><circle cx="1289.0" cy="108.9" r="0.5" fill="#aaa5a0"/><circle cx="1341.8" cy="159.4" r="0.7" fill="#5f5a56"/><circle cx="1284.6" cy="196.9" r="0.5" fill="#aaa5a0"/><circle cx="1403.1" cy="127.4" r="0.7" fill="#aaa5a0"/><circle cx="1463.4" cy="114.0" r="0.7" fill="#5f5a56"/><circle cx="1459.0" cy="148.0" r="0.5" fill="#7a6f68"/><circle cx="1492.0" cy="144.7" r="0.4" fill="#7a6f68"/><circle cx="1361.1" cy="98.8" r="0.4" fill="#7a6f68"/><circle cx="1324.7" cy="39.6" r="0.4" fill="#aaa5a0"/><circle cx="1318.7" cy="257.4" r="0.4" fill="#7a6f68"/><circle cx="1440.3" cy="183.2" r="0.5" fill="#7a6f68"/><circle cx="1364.3" cy="140.5" r="0.7" fill="#5f5a56"/><circle cx="1424.3" cy="129.9" r="0.4" fill="#8d8883"/><circle cx="1364.5" cy="104.3" r="0.5" fill="#5f5a56"/><circle cx="1459.7" cy="12.9" r="0.3" fill="#aaa5a0"/><circle cx="1233.2" cy="34.5" r="0.6" fill="#5f5a56"/><circle cx="1264.1" cy="154.7" r="0.5" fill="#8d8883"/><circle cx="1366.3" cy="195.9" r="0.4" fill="#aaa5a0"/><circle cx="1340.6" cy="266.7" r="0.4" fill="#aaa5a0"/><circle cx="1385.9" cy="25.3" r="0.6" fill="#5f5a56"/><circle cx="1320.5" cy="184.6" r="0.4" fill="#8d8883"/><circle cx="1416.3" cy="211.2" r="0.7" fill="#7a6f68"/><circle cx="1335.1" cy="21.7" r="0.5" fill="#5f5a56"/><circle cx="1428.7" cy="2.3" r="0.5" fill="#7a6f68"/><circle cx="1376.8" cy="82.2" r="0.4" fill="#5f5a56"/><circle cx="1433.3" cy="164.9" r="0.4" fill="#7a6f68"/><circle cx="1381.5" cy="44.2" r="0.7" fill="#5f5a56"/><circle cx="1453.4" cy="128.9" r="0.3" fill="#8d8883"/><circle cx="1475.0" cy="157.1" r="0.6" fill="#7a6f68"/><circle cx="1428.6" cy="48.7" r="0.5" fill="#5f5a56"/><circle cx="1300.4" cy="125.2" r="0.5" fill="#5f5a56"/><circle cx="1410.3" cy="257.6" r="0.5" fill="#5f5a56"/><circle cx="1272.7" cy="152.4" r="0.3" fill="#8d8883"/><circle cx="1465.8" cy="125.7" r="0.5" fill="#8d8883"/><circle cx="1370.4" cy="199.9" r="0.6" fill="#5f5a56"/><circle cx="1403.0" cy="56.8" r="0.5" fill="#8d8883"/><circle cx="1324.2" cy="8.3" r="0.6" fill="#5f5a56"/><circle cx="1433.6" cy="278.2" r="0.5" fill="#5f5a56"/><circle cx="1413.0" cy="46.3" r="0.6" fill="#7a6f68"/><circle cx="1409.9" cy="71.2" r="0.7" fill="#7a6f68"/><circle cx="1335.9" cy="191.0" r="0.7" fill="#5f5a56"/><circle cx="1367.7" cy="7.8" r="0.4" fill="#aaa5a0"/><circle cx="1429.0" cy="26.4" r="0.3" fill="#aaa5a0"/><circle cx="1464.0" cy="109.0" r="0.3" fill="#aaa5a0"/><circle cx="1489.7" cy="158.1" r="0.4" fill="#8d8883"/><circle cx="1291.6" cy="51.9" r="0.5" fill="#8d8883"/><circle cx="1364.4" cy="257.8" r="0.3" fill="#aaa5a0"/><circle cx="1492.7" cy="18.1" r="0.3" fill="#5f5a56"/><circle cx="1402.4" cy="33.7" r="0.7" fill="#7a6f68"/><circle cx="1360.5" cy="236.6" r="0.6" fill="#aaa5a0"/><circle cx="1321.5" cy="122.3" r="0.3" fill="#5f5a56"/><circle cx="1312.7" cy="230.0" r="0.7" fill="#8d8883"/><circle cx="1471.4" cy="202.5" r="0.5" fill="#aaa5a0"/><circle cx="1378.2" cy="14.0" r="0.5" fill="#aaa5a0"/><circle cx="1461.0" cy="173.8" r="0.7" fill="#aaa5a0"/><circle cx="1428.7" cy="185.2" r="0.3" fill="#5f5a56"/><circle cx="1361.5" cy="270.9" r="0.5" fill="#5f5a56"/><circle cx="1286.8" cy="47.6" r="0.6" fill="#aaa5a0"/><circle cx="1372.8" cy="95.5" r="0.4" fill="#7a6f68"/><circle cx="1244.2" cy="60.0" r="0.3" fill="#aaa5a0"/><circle cx="1321.5" cy="253.5" r="0.5" fill="#5f5a56"/><circle cx="1374.0" cy="87.8" r="0.5" fill="#aaa5a0"/><circle cx="1371.8" cy="49.0" r="0.4" fill="#aaa5a0"/><circle cx="1393.8" cy="32.7" r="0.4" fill="#7a6f68"/><circle cx="1304.3" cy="139.0" r="0.6" fill="#7a6f68"/><circle cx="1443.6" cy="101.9" r="0.6" fill="#7a6f68"/><circle cx="1342.9" cy="160.1" r="0.7" fill="#aaa5a0"/><circle cx="1347.2" cy="23.1" r="0.6" fill="#5f5a56"/><circle cx="1427.9" cy="160.0" r="0.6" fill="#8d8883"/><circle cx="1442.3" cy="116.1" r="0.4" fill="#aaa5a0"/><circle cx="1259.5" cy="95.2" r="0.5" fill="#8d8883"/><circle cx="1295.8" cy="211.7" r="0.7" fill="#7a6f68"/><circle cx="1448.8" cy="220.4" r="0.5" fill="#7a6f68"/><circle cx="1453.4" cy="11.7" r="0.6" fill="#8d8883"/><circle cx="1305.0" cy="224.6" r="0.5" fill="#5f5a56"/><circle cx="1419.7" cy="117.6" r="0.7" fill="#aaa5a0"/><circle cx="1269.9" cy="41.9" r="0.6" fill="#7a6f68"/><circle cx="1348.4" cy="178.3" r="0.4" fill="#8d8883"/><circle cx="1291.1" cy="47.4" r="0.5" fill="#aaa5a0"/><circle cx="1467.1" cy="216.1" r="0.6" fill="#8d8883"/><circle cx="1287.7" cy="117.4" r="0.7" fill="#aaa5a0"/><circle cx="1240.1" cy="169.5" r="0.4" fill="#aaa5a0"/><circle cx="1306.5" cy="220.6" r="0.5" fill="#5f5a56"/><circle cx="1249.1" cy="73.6" r="0.4" fill="#aaa5a0"/><circle cx="1424.7" cy="46.4" r="0.3" fill="#5f5a56"/><circle cx="1481.4" cy="143.3" r="0.4" fill="#aaa5a0"/><circle cx="1273.1" cy="133.3" r="0.7" fill="#aaa5a0"/><circle cx="1385.0" cy="150.4" r="0.4" fill="#8d8883"/><circle cx="1423.8" cy="24.9" r="0.3" fill="#7a6f68"/><circle cx="1494.1" cy="152.3" r="0.3" fill="#7a6f68"/><circle cx="1461.4" cy="52.5" r="0.5" fill="#7a6f68"/><circle cx="1471.4" cy="226.5" r="0.4" fill="#5f5a56"/><circle cx="1308.4" cy="218.2" r="0.5" fill="#8d8883"/><circle cx="1285.1" cy="50.6" r="0.4" fill="#aaa5a0"/><circle cx="1360.8" cy="114.0" r="0.3" fill="#aaa5a0"/><circle cx="1418.6" cy="128.8" r="0.5" fill="#7a6f68"/><circle cx="1405.3" cy="248.1" r="0.4" fill="#8d8883"/><circle cx="1306.4" cy="167.7" r="0.7" fill="#7a6f68"/><circle cx="1370.7" cy="51.7" r="0.3" fill="#5f5a56"/><circle cx="1278.8" cy="159.2" r="0.6" fill="#5f5a56"/><circle cx="1399.9" cy="45.7" r="0.6" fill="#5f5a56"/><circle cx="1432.5" cy="194.6" r="0.7" fill="#7a6f68"/><circle cx="1403.8" cy="231.9" r="0.5" fill="#7a6f68"/><circle cx="1434.7" cy="50.9" r="0.7" fill="#5f5a56"/><circle cx="1427.1" cy="187.9" r="0.7" fill="#8d8883"/><circle cx="1453.2" cy="182.6" r="0.3" fill="#5f5a56"/><circle cx="1352.6" cy="62.6" r="0.3" fill="#8d8883"/><circle cx="1438.5" cy="153.7" r="0.4" fill="#5f5a56"/><circle cx="1409.8" cy="160.2" r="0.4" fill="#8d8883"/><circle cx="1486.7" cy="46.8" r="0.6" fill="#5f5a56"/><circle cx="1371.9" cy="83.6" r="0.7" fill="#8d8883"/><circle cx="1464.8" cy="255.6" r="0.5" fill="#7a6f68"/><circle cx="1292.3" cy="114.6" r="0.5" fill="#8d8883"/><circle cx="1319.4" cy="130.7" r="0.4" fill="#7a6f68"/><circle cx="1271.7" cy="127.9" r="0.5" fill="#5f5a56"/><circle cx="1334.1" cy="36.5" r="0.4" fill="#aaa5a0"/><circle cx="1414.1" cy="197.5" r="0.3" fill="#7a6f68"/><circle cx="1446.0" cy="233.6" r="0.7" fill="#5f5a56"/><circle cx="1310.7" cy="236.9" r="0.6" fill="#8d8883"/><circle cx="1322.3" cy="56.5" r="0.4" fill="#5f5a56"/><circle cx="1487.0" cy="176.5" r="0.6" fill="#7a6f68"/><circle cx="1405.6" cy="42.2" r="0.4" fill="#8d8883"/><circle cx="1470.8" cy="90.1" r="0.6" fill="#7a6f68"/><circle cx="1331.5" cy="106.2" r="0.5" fill="#aaa5a0"/><circle cx="1425.8" cy="205.8" r="0.4" fill="#aaa5a0"/><circle cx="1416.5" cy="90.0" r="0.3" fill="#aaa5a0"/><circle cx="1341.3" cy="182.7" r="0.3" fill="#aaa5a0"/><circle cx="1267.7" cy="48.6" r="0.4" fill="#7a6f68"/><circle cx="1261.4" cy="48.2" r="0.7" fill="#aaa5a0"/><circle cx="1370.8" cy="231.2" r="0.5" fill="#5f5a56"/><circle cx="1338.2" cy="266.0" r="0.5" fill="#aaa5a0"/><circle cx="1488.3" cy="182.3" r="0.7" fill="#5f5a56"/><circle cx="1249.9" cy="169.2" r="0.6" fill="#8d8883"/><circle cx="1424.6" cy="4.5" r="0.7" fill="#5f5a56"/><circle cx="1368.1" cy="7.2" r="0.4" fill="#5f5a56"/><circle cx="1290.6" cy="16.3" r="0.4" fill="#aaa5a0"/><circle cx="1418.6" cy="280.7" r="0.5" fill="#7a6f68"/><circle cx="1260.7" cy="110.8" r="0.4" fill="#aaa5a0"/><circle cx="1473.2" cy="60.6" r="0.7" fill="#8d8883"/><circle cx="1456.5" cy="74.0" r="0.4" fill="#5f5a56"/><circle cx="1389.5" cy="163.2" r="0.7" fill="#aaa5a0"/><circle cx="1366.0" cy="32.4" r="0.4" fill="#8d8883"/><circle cx="1328.6" cy="241.4" r="0.4" fill="#7a6f68"/><circle cx="1249.1" cy="145.6" r="0.3" fill="#8d8883"/><circle cx="1486.3" cy="121.4" r="0.3" fill="#aaa5a0"/><circle cx="1468.0" cy="237.5" r="0.3" fill="#7a6f68"/><circle cx="1271.8" cy="54.8" r="0.6" fill="#5f5a56"/><circle cx="1422.6" cy="117.9" r="0.3" fill="#7a6f68"/><circle cx="1263.4" cy="183.3" r="0.3" fill="#5f5a56"/><circle cx="1348.2" cy="39.6" r="0.5" fill="#aaa5a0"/><circle cx="1448.7" cy="269.6" r="0.6" fill="#7a6f68"/><circle cx="1298.6" cy="213.6" r="0.6" fill="#5f5a56"/><circle cx="1433.5" cy="77.5" r="0.6" fill="#5f5a56"/><circle cx="1422.3" cy="210.8" r="0.6" fill="#aaa5a0"/><circle cx="1225.0" cy="120.2" r="0.5" fill="#8d8883"/><circle cx="1331.5" cy="224.8" r="0.6" fill="#5f5a56"/><circle cx="1493.3" cy="110.9" r="0.5" fill="#aaa5a0"/><circle cx="1343.2" cy="233.4" r="0.6" fill="#7a6f68"/><circle cx="1373.0" cy="73.8" r="0.4" fill="#7a6f68"/><circle cx="1497.3" cy="233.4" r="0.7" fill="#7a6f68"/><circle cx="1296.9" cy="123.6" r="0.3" fill="#7a6f68"/><circle cx="1401.3" cy="152.5" r="0.4" fill="#5f5a56"/><circle cx="1473.9" cy="42.6" r="0.3" fill="#aaa5a0"/><circle cx="1291.8" cy="2.0" r="0.3" fill="#8d8883"/><circle cx="1361.3" cy="211.5" r="0.5" fill="#8d8883"/><circle cx="1245.2" cy="112.4" r="0.3" fill="#8d8883"/><circle cx="1298.9" cy="93.8" r="0.5" fill="#aaa5a0"/><circle cx="1461.3" cy="250.1" r="0.4" fill="#7a6f68"/><circle cx="1491.6" cy="47.6" r="0.3" fill="#8d8883"/><circle cx="1229.5" cy="53.3" r="0.5" fill="#7a6f68"/><circle cx="1482.0" cy="207.0" r="0.4" fill="#8d8883"/><circle cx="1292.5" cy="2.0" r="0.6" fill="#7a6f68"/><circle cx="1489.7" cy="203.8" r="0.3" fill="#aaa5a0"/><circle cx="1419.1" cy="156.6" r="0.7" fill="#5f5a56"/><circle cx="1319.8" cy="63.1" r="0.4" fill="#5f5a56"/><circle cx="1230.5" cy="118.5" r="0.7" fill="#8d8883"/><circle cx="1428.9" cy="116.7" r="0.4" fill="#7a6f68"/><circle cx="1463.8" cy="223.3" r="0.6" fill="#5f5a56"/><circle cx="1459.1" cy="88.2" r="0.5" fill="#7a6f68"/><circle cx="1348.0" cy="7.1" r="0.5" fill="#5f5a56"/><circle cx="1452.6" cy="14.3" r="0.6" fill="#5f5a56"/><circle cx="1457.3" cy="242.2" r="0.4" fill="#7a6f68"/><circle cx="1353.4" cy="51.4" r="0.6" fill="#aaa5a0"/><circle cx="1378.3" cy="4.5" r="0.4" fill="#8d8883"/><circle cx="1289.9" cy="113.4" r="0.5" fill="#8d8883"/><circle cx="1420.6" cy="51.8" r="0.3" fill="#aaa5a0"/><circle cx="1460.5" cy="169.6" r="0.5" fill="#5f5a56"/><circle cx="1321.0" cy="102.3" r="0.5" fill="#8d8883"/><circle cx="1452.1" cy="99.8" r="0.6" fill="#aaa5a0"/><circle cx="1397.3" cy="78.5" r="0.5" fill="#5f5a56"/><circle cx="1477.8" cy="155.4" r="0.6" fill="#aaa5a0"/><circle cx="1236.7" cy="164.0" r="0.6" fill="#7a6f68"/><circle cx="1368.1" cy="33.5" r="0.4" fill="#7a6f68"/><circle cx="1349.2" cy="221.5" r="0.7" fill="#5f5a56"/><circle cx="1314.2" cy="113.8" r="0.7" fill="#5f5a56"/><circle cx="1275.6" cy="187.0" r="0.6" fill="#5f5a56"/><circle cx="1354.4" cy="154.9" r="0.6" fill="#8d8883"/><circle cx="1253.7" cy="133.2" r="0.3" fill="#7a6f68"/><circle cx="1448.9" cy="257.2" r="0.5" fill="#8d8883"/><circle cx="1359.3" cy="244.5" r="0.5" fill="#7a6f68"/><circle cx="1340.7" cy="43.5" r="0.4" fill="#5f5a56"/><circle cx="1440.5" cy="258.5" r="0.5" fill="#5f5a56"/><circle cx="1375.6" cy="194.2" r="0.5" fill="#7a6f68"/><circle cx="1438.7" cy="270.6" r="0.7" fill="#5f5a56"/><circle cx="1276.2" cy="196.0" r="0.5" fill="#8d8883"/><circle cx="1254.0" cy="3.9" r="0.5" fill="#aaa5a0"/><circle cx="1308.7" cy="208.6" r="0.5" fill="#aaa5a0"/><circle cx="1472.3" cy="230.9" r="0.5" fill="#aaa5a0"/><circle cx="1471.4" cy="94.5" r="0.7" fill="#5f5a56"/><circle cx="1320.0" cy="186.1" r="0.6" fill="#5f5a56"/><circle cx="1418.5" cy="183.2" r="0.5" fill="#8d8883"/><circle cx="1439.7" cy="51.6" r="0.7" fill="#aaa5a0"/><circle cx="1464.6" cy="42.5" r="0.4" fill="#aaa5a0"/><circle cx="1491.4" cy="119.5" r="0.4" fill="#8d8883"/><circle cx="1341.3" cy="195.7" r="0.6" fill="#7a6f68"/><circle cx="1447.0" cy="132.4" r="0.4" fill="#7a6f68"/><circle cx="1296.3" cy="189.9" r="0.5" fill="#5f5a56"/><circle cx="1342.0" cy="194.9" r="0.6" fill="#8d8883"/><circle cx="1356.1" cy="258.8" r="0.6" fill="#7a6f68"/><circle cx="1442.8" cy="120.3" r="0.3" fill="#7a6f68"/><circle cx="1401.7" cy="60.8" r="0.6" fill="#8d8883"/><circle cx="1254.0" cy="5.2" r="0.7" fill="#aaa5a0"/><circle cx="1307.1" cy="186.1" r="0.7" fill="#5f5a56"/><circle cx="1422.7" cy="121.5" r="0.7" fill="#5f5a56"/><circle cx="1361.1" cy="183.6" r="0.7" fill="#7a6f68"/><circle cx="1362.0" cy="150.3" r="0.7" fill="#5f5a56"/><circle cx="1377.5" cy="62.4" r="0.4" fill="#aaa5a0"/><circle cx="1331.0" cy="267.2" r="0.4" fill="#8d8883"/><circle cx="1477.5" cy="12.1" r="0.6" fill="#8d8883"/><circle cx="1483.5" cy="93.4" r="0.5" fill="#5f5a56"/><circle cx="1449.7" cy="100.3" r="0.7" fill="#5f5a56"/><circle cx="1491.3" cy="51.7" r="0.6" fill="#8d8883"/><circle cx="1373.1" cy="247.2" r="0.6" fill="#5f5a56"/><circle cx="1336.4" cy="219.2" r="0.5" fill="#aaa5a0"/><circle cx="1288.8" cy="62.6" r="0.3" fill="#5f5a56"/><circle cx="1472.1" cy="171.8" r="0.7" fill="#5f5a56"/><circle cx="1404.9" cy="178.8" r="0.3" fill="#7a6f68"/><circle cx="1447.8" cy="92.4" r="0.7" fill="#8d8883"/><circle cx="1381.0" cy="277.5" r="0.4" fill="#aaa5a0"/><circle cx="1385.4" cy="168.8" r="0.4" fill="#8d8883"/><circle cx="1270.1" cy="66.1" r="0.6" fill="#5f5a56"/><circle cx="1320.9" cy="181.0" r="0.5" fill="#5f5a56"/><circle cx="1440.7" cy="134.1" r="0.4" fill="#aaa5a0"/><circle cx="1241.2" cy="53.1" r="0.3" fill="#8d8883"/><circle cx="1470.2" cy="178.5" r="0.3" fill="#5f5a56"/><circle cx="1314.3" cy="140.6" r="0.4" fill="#7a6f68"/><circle cx="1434.0" cy="38.6" r="0.4" fill="#aaa5a0"/><circle cx="1380.4" cy="174.0" r="0.7" fill="#5f5a56"/><circle cx="1418.2" cy="17.4" r="0.3" fill="#5f5a56"/><circle cx="1412.6" cy="258.7" r="0.5" fill="#5f5a56"/><circle cx="1262.3" cy="38.2" r="0.6" fill="#aaa5a0"/><circle cx="1477.7" cy="169.8" r="0.6" fill="#7a6f68"/><circle cx="1381.8" cy="220.9" r="0.7" fill="#8d8883"/><circle cx="1410.7" cy="66.9" r="0.6" fill="#aaa5a0"/><circle cx="1259.7" cy="182.1" r="0.4" fill="#aaa5a0"/><circle cx="1267.8" cy="208.1" r="0.6" fill="#8d8883"/><circle cx="1346.1" cy="68.3" r="0.5" fill="#aaa5a0"/><circle cx="1325.3" cy="108.1" r="0.5" fill="#8d8883"/><circle cx="1486.2" cy="175.6" r="0.5" fill="#8d8883"/><circle cx="1412.2" cy="186.6" r="0.6" fill="#5f5a56"/><circle cx="1383.7" cy="240.0" r="0.3" fill="#5f5a56"/><circle cx="1273.3" cy="52.2" r="0.3" fill="#8d8883"/><circle cx="1449.2" cy="116.5" r="0.5" fill="#8d8883"/><circle cx="1423.7" cy="284.1" r="0.3" fill="#7a6f68"/><circle cx="1429.5" cy="104.9" r="0.5" fill="#8d8883"/><circle cx="1328.0" cy="157.5" r="0.6" fill="#8d8883"/><circle cx="1436.1" cy="151.2" r="0.7" fill="#7a6f68"/><circle cx="1446.0" cy="53.8" r="0.6" fill="#8d8883"/><circle cx="1339.7" cy="257.3" r="0.3" fill="#7a6f68"/><circle cx="1455.0" cy="79.0" r="0.5" fill="#7a6f68"/><circle cx="1458.8" cy="151.6" r="0.4" fill="#aaa5a0"/><circle cx="1414.6" cy="140.4" r="0.4" fill="#7a6f68"/><circle cx="1420.0" cy="24.2" r="0.7" fill="#7a6f68"/><circle cx="1388.1" cy="19.1" r="0.6" fill="#5f5a56"/><circle cx="1450.3" cy="173.9" r="0.4" fill="#5f5a56"/><circle cx="1441.9" cy="235.8" r="0.4" fill="#5f5a56"/><circle cx="1478.3" cy="42.3" r="0.3" fill="#8d8883"/><circle cx="1239.3" cy="157.8" r="0.7" fill="#7a6f68"/><circle cx="1311.8" cy="168.9" r="0.6" fill="#5f5a56"/><circle cx="1389.8" cy="115.0" r="0.7" fill="#8d8883"/><circle cx="1346.9" cy="229.5" r="0.6" fill="#5f5a56"/><circle cx="1412.1" cy="148.3" r="0.3" fill="#8d8883"/><circle cx="1301.8" cy="200.6" r="0.4" fill="#7a6f68"/><circle cx="1239.9" cy="95.4" r="0.5" fill="#aaa5a0"/><circle cx="1450.9" cy="13.8" r="0.5" fill="#aaa5a0"/><circle cx="1418.7" cy="224.4" r="0.6" fill="#5f5a56"/><circle cx="1340.6" cy="267.7" r="0.5" fill="#5f5a56"/><circle cx="1380.5" cy="98.4" r="0.4" fill="#8d8883"/><circle cx="1371.3" cy="120.4" r="0.4" fill="#8d8883"/><circle cx="1260.3" cy="7.1" r="0.5" fill="#7a6f68"/><circle cx="1294.1" cy="166.3" r="0.4" fill="#5f5a56"/><circle cx="1398.6" cy="8.1" r="0.4" fill="#aaa5a0"/><circle cx="1489.4" cy="208.8" r="0.6" fill="#8d8883"/><circle cx="1345.5" cy="132.1" r="0.6" fill="#aaa5a0"/><circle cx="1391.3" cy="114.9" r="0.6" fill="#8d8883"/><circle cx="1437.5" cy="71.0" r="0.6" fill="#7a6f68"/><circle cx="1367.4" cy="139.9" r="0.4" fill="#aaa5a0"/><circle cx="1360.2" cy="146.8" r="0.4" fill="#5f5a56"/><circle cx="1272.8" cy="12.8" r="0.6" fill="#aaa5a0"/><circle cx="1243.0" cy="121.6" r="0.7" fill="#aaa5a0"/><circle cx="1292.0" cy="49.6" r="0.6" fill="#7a6f68"/><circle cx="1481.4" cy="222.0" r="0.4" fill="#5f5a56"/><circle cx="1494.2" cy="129.7" r="0.3" fill="#7a6f68"/><circle cx="1333.3" cy="265.8" r="0.6" fill="#8d8883"/><circle cx="1455.8" cy="172.2" r="0.6" fill="#5f5a56"/><circle cx="1284.1" cy="35.3" r="0.7" fill="#5f5a56"/><circle cx="1466.0" cy="16.4" r="0.6" fill="#8d8883"/><circle cx="1374.4" cy="169.9" r="0.6" fill="#8d8883"/><circle cx="1406.9" cy="285.7" r="0.4" fill="#7a6f68"/><circle cx="1305.6" cy="111.9" r="0.7" fill="#5f5a56"/><circle cx="1274.2" cy="18.6" r="0.5" fill="#8d8883"/><circle cx="1403.9" cy="27.0" r="0.6" fill="#5f5a56"/><circle cx="1441.0" cy="127.0" r="0.5" fill="#aaa5a0"/><circle cx="1495.3" cy="235.1" r="0.4" fill="#8d8883"/><circle cx="1480.6" cy="204.6" r="0.4" fill="#aaa5a0"/><circle cx="1333.6" cy="82.9" r="0.4" fill="#7a6f68"/><circle cx="1245.4" cy="171.6" r="0.7" fill="#5f5a56"/><circle cx="1322.1" cy="124.3" r="0.6" fill="#aaa5a0"/><circle cx="1448.3" cy="89.4" r="0.7" fill="#8d8883"/><circle cx="1481.1" cy="8.9" r="0.6" fill="#aaa5a0"/><circle cx="1422.2" cy="233.0" r="0.7" fill="#aaa5a0"/><circle cx="1316.0" cy="99.5" r="0.6" fill="#aaa5a0"/><circle cx="1416.0" cy="151.1" r="0.7" fill="#5f5a56"/><circle cx="1311.7" cy="55.8" r="0.7" fill="#5f5a56"/><circle cx="1402.0" cy="13.5" r="0.6" fill="#aaa5a0"/><circle cx="1274.6" cy="32.9" r="0.6" fill="#7a6f68"/><circle cx="1387.0" cy="134.3" r="0.7" fill="#8d8883"/><circle cx="1276.3" cy="39.7" r="0.6" fill="#7a6f68"/><circle cx="1484.8" cy="129.7" r="0.7" fill="#8d8883"/><circle cx="1487.3" cy="208.3" r="0.5" fill="#aaa5a0"/><circle cx="1497.0" cy="259.9" r="0.7" fill="#5f5a56"/><circle cx="1269.7" cy="161.1" r="0.4" fill="#8d8883"/><circle cx="1447.1" cy="134.0" r="0.3" fill="#7a6f68"/><circle cx="1435.8" cy="199.2" r="0.6" fill="#5f5a56"/><circle cx="1455.1" cy="196.4" r="0.7" fill="#5f5a56"/><circle cx="1465.5" cy="99.5" r="0.6" fill="#8d8883"/><circle cx="1498.0" cy="181.1" r="0.7" fill="#5f5a56"/><circle cx="1445.8" cy="173.5" r="0.7" fill="#5f5a56"/><circle cx="1413.5" cy="78.9" r="0.4" fill="#7a6f68"/><circle cx="1331.4" cy="55.8" r="0.7" fill="#7a6f68"/><circle cx="1475.2" cy="228.7" r="0.6" fill="#5f5a56"/><circle cx="1324.0" cy="172.2" r="0.6" fill="#7a6f68"/><circle cx="1282.8" cy="224.9" r="0.5" fill="#5f5a56"/><circle cx="1297.9" cy="4.8" r="0.6" fill="#aaa5a0"/><circle cx="1275.0" cy="49.4" r="0.6" fill="#7a6f68"/><circle cx="1299.8" cy="166.3" r="0.7" fill="#7a6f68"/><circle cx="1354.7" cy="59.6" r="0.3" fill="#aaa5a0"/><circle cx="1338.7" cy="1.6" r="0.7" fill="#8d8883"/><circle cx="1428.2" cy="81.1" r="0.6" fill="#8d8883"/><circle cx="1471.9" cy="66.4" r="0.5" fill="#aaa5a0"/><circle cx="1465.4" cy="95.2" r="0.3" fill="#5f5a56"/><circle cx="1291.8" cy="144.0" r="0.6" fill="#8d8883"/><circle cx="1383.0" cy="257.9" r="0.5" fill="#5f5a56"/><circle cx="1467.8" cy="89.4" r="0.4" fill="#5f5a56"/><circle cx="1412.3" cy="216.1" r="0.5" fill="#aaa5a0"/><circle cx="1254.7" cy="12.4" r="0.6" fill="#aaa5a0"/><circle cx="1497.2" cy="139.7" r="0.5" fill="#aaa5a0"/><circle cx="1455.2" cy="134.5" r="0.7" fill="#8d8883"/><circle cx="1402.5" cy="285.2" r="0.4" fill="#5f5a56"/><circle cx="1269.9" cy="201.7" r="0.7" fill="#7a6f68"/><circle cx="1280.9" cy="35.8" r="0.7" fill="#5f5a56"/><circle cx="1426.5" cy="28.4" r="0.7" fill="#aaa5a0"/><circle cx="1391.9" cy="167.6" r="0.7" fill="#aaa5a0"/><circle cx="1373.2" cy="47.6" r="0.4" fill="#8d8883"/><circle cx="1352.7" cy="163.4" r="0.7" fill="#7a6f68"/><circle cx="1453.0" cy="33.7" r="0.4" fill="#8d8883"/><circle cx="1250.4" cy="82.0" r="0.7" fill="#7a6f68"/><circle cx="1262.9" cy="188.6" r="0.5" fill="#7a6f68"/><circle cx="1286.4" cy="25.3" r="0.4" fill="#7a6f68"/><circle cx="1438.8" cy="223.7" r="0.3" fill="#7a6f68"/><circle cx="1465.1" cy="131.4" r="0.7" fill="#7a6f68"/><circle cx="1327.6" cy="145.3" r="0.3" fill="#aaa5a0"/><circle cx="1425.0" cy="110.8" r="0.6" fill="#7a6f68"/><circle cx="1396.7" cy="38.5" r="0.6" fill="#5f5a56"/><circle cx="1463.0" cy="228.7" r="0.4" fill="#5f5a56"/><circle cx="1348.8" cy="237.5" r="0.7" fill="#aaa5a0"/><circle cx="1258.1" cy="127.8" r="0.7" fill="#aaa5a0"/><circle cx="1373.5" cy="30.7" r="0.7" fill="#7a6f68"/><circle cx="1334.2" cy="222.9" r="0.5" fill="#5f5a56"/><circle cx="1476.9" cy="257.4" r="0.6" fill="#aaa5a0"/><circle cx="1381.1" cy="156.2" r="0.7" fill="#8d8883"/><circle cx="1364.0" cy="146.1" r="0.6" fill="#aaa5a0"/><circle cx="1439.5" cy="116.1" r="0.7" fill="#7a6f68"/><circle cx="1433.7" cy="55.8" r="0.4" fill="#8d8883"/><circle cx="1352.8" cy="151.0" r="0.4" fill="#7a6f68"/><circle cx="1480.0" cy="257.4" r="0.7" fill="#8d8883"/><circle cx="1458.8" cy="112.7" r="0.3" fill="#5f5a56"/><circle cx="1481.6" cy="267.7" r="0.3" fill="#8d8883"/><circle cx="1285.4" cy="46.0" r="0.4" fill="#5f5a56"/><circle cx="1340.3" cy="163.3" r="0.5" fill="#7a6f68"/><circle cx="1477.9" cy="40.4" r="0.7" fill="#8d8883"/><circle cx="1374.0" cy="251.5" r="0.4" fill="#7a6f68"/><circle cx="1456.9" cy="13.5" r="0.5" fill="#7a6f68"/><circle cx="1487.1" cy="68.7" r="0.3" fill="#5f5a56"/><circle cx="1401.0" cy="4.5" r="0.6" fill="#5f5a56"/><circle cx="1454.0" cy="252.9" r="0.3" fill="#aaa5a0"/><circle cx="1228.0" cy="71.4" r="0.7" fill="#aaa5a0"/><circle cx="1332.4" cy="222.4" r="0.7" fill="#5f5a56"/><circle cx="1404.3" cy="17.0" r="0.7" fill="#5f5a56"/><circle cx="1472.0" cy="45.5" r="0.3" fill="#5f5a56"/><circle cx="1447.0" cy="12.2" r="0.4" fill="#aaa5a0"/><circle cx="1441.8" cy="139.6" r="0.5" fill="#8d8883"/><circle cx="1401.5" cy="46.2" r="0.4" fill="#7a6f68"/><circle cx="1267.0" cy="65.1" r="0.4" fill="#7a6f68"/><circle cx="1497.3" cy="45.9" r="0.4" fill="#5f5a56"/><circle cx="1340.7" cy="3.6" r="0.7" fill="#8d8883"/><circle cx="1456.5" cy="112.2" r="0.6" fill="#7a6f68"/><circle cx="1336.9" cy="258.7" r="0.4" fill="#aaa5a0"/><circle cx="1441.1" cy="208.0" r="0.7" fill="#8d8883"/><circle cx="1371.5" cy="194.1" r="0.7" fill="#5f5a56"/><circle cx="1477.2" cy="152.3" r="0.7" fill="#aaa5a0"/><circle cx="1340.5" cy="246.2" r="0.5" fill="#7a6f68"/><circle cx="1345.0" cy="20.1" r="0.6" fill="#8d8883"/><circle cx="1317.0" cy="153.9" r="0.6" fill="#8d8883"/><circle cx="1397.1" cy="243.2" r="0.6" fill="#aaa5a0"/><circle cx="1277.2" cy="185.5" r="0.5" fill="#aaa5a0"/><circle cx="1404.9" cy="238.7" r="0.4" fill="#7a6f68"/><circle cx="1431.0" cy="104.1" r="0.3" fill="#7a6f68"/><circle cx="1406.2" cy="210.9" r="0.4" fill="#7a6f68"/><circle cx="1494.5" cy="187.1" r="0.4" fill="#5f5a56"/><circle cx="1485.3" cy="106.1" r="0.6" fill="#5f5a56"/><circle cx="1462.1" cy="218.1" r="0.4" fill="#8d8883"/><circle cx="1456.9" cy="65.4" r="0.5" fill="#7a6f68"/><circle cx="1330.1" cy="238.5" r="0.5" fill="#5f5a56"/><circle cx="1487.0" cy="208.0" r="0.6" fill="#7a6f68"/><circle cx="1347.6" cy="204.8" r="0.5" fill="#5f5a56"/><circle cx="1415.8" cy="136.1" r="0.6" fill="#aaa5a0"/><circle cx="1281.0" cy="215.3" r="0.6" fill="#7a6f68"/><circle cx="1297.0" cy="9.9" r="0.7" fill="#5f5a56"/><circle cx="1302.2" cy="138.9" r="0.3" fill="#8d8883"/><circle cx="1467.3" cy="187.0" r="0.6" fill="#8d8883"/><circle cx="1349.7" cy="207.4" r="0.5" fill="#7a6f68"/><circle cx="1443.4" cy="205.6" r="0.6" fill="#5f5a56"/><circle cx="1240.3" cy="94.8" r="0.5" fill="#7a6f68"/><circle cx="1361.0" cy="213.9" r="0.6" fill="#aaa5a0"/><circle cx="1457.9" cy="210.6" r="0.5" fill="#8d8883"/><circle cx="1387.9" cy="278.6" r="0.7" fill="#5f5a56"/><circle cx="1354.3" cy="67.6" r="0.5" fill="#5f5a56"/><circle cx="1368.6" cy="64.6" r="0.6" fill="#8d8883"/><circle cx="1422.7" cy="4.9" r="0.5" fill="#7a6f68"/><circle cx="1351.9" cy="137.2" r="0.4" fill="#8d8883"/><circle cx="1434.8" cy="187.8" r="0.7" fill="#aaa5a0"/><circle cx="1233.4" cy="103.2" r="0.7" fill="#7a6f68"/><circle cx="1443.5" cy="181.0" r="0.4" fill="#aaa5a0"/><circle cx="1373.2" cy="217.1" r="0.4" fill="#7a6f68"/><circle cx="1411.2" cy="136.9" r="0.6" fill="#aaa5a0"/><circle cx="1291.0" cy="141.3" r="0.5" fill="#aaa5a0"/><circle cx="1479.0" cy="50.6" r="0.7" fill="#7a6f68"/><circle cx="1397.7" cy="203.6" r="0.5" fill="#8d8883"/><circle cx="1481.2" cy="41.2" r="0.3" fill="#aaa5a0"/><circle cx="1408.9" cy="198.4" r="0.4" fill="#7a6f68"/><circle cx="1497.1" cy="27.3" r="0.3" fill="#8d8883"/><circle cx="1473.1" cy="35.3" r="0.5" fill="#8d8883"/><circle cx="1434.1" cy="153.6" r="0.5" fill="#aaa5a0"/><circle cx="1489.1" cy="162.9" r="0.7" fill="#7a6f68"/><circle cx="1302.0" cy="239.6" r="0.6" fill="#5f5a56"/><circle cx="1462.3" cy="114.9" r="0.6" fill="#aaa5a0"/><circle cx="1460.3" cy="53.5" r="0.6" fill="#5f5a56"/><circle cx="1437.4" cy="134.5" r="0.5" fill="#5f5a56"/><circle cx="1337.7" cy="244.1" r="0.4" fill="#8d8883"/><circle cx="1304.8" cy="74.6" r="0.4" fill="#aaa5a0"/><circle cx="1402.3" cy="22.7" r="0.3" fill="#5f5a56"/><circle cx="1351.9" cy="212.8" r="0.7" fill="#8d8883"/><circle cx="1488.7" cy="76.9" r="0.3" fill="#7a6f68"/><circle cx="1287.5" cy="0.4" r="0.6" fill="#aaa5a0"/><circle cx="1285.6" cy="146.8" r="0.6" fill="#aaa5a0"/><circle cx="1318.7" cy="130.3" r="0.6" fill="#aaa5a0"/><circle cx="1461.0" cy="112.9" r="0.5" fill="#7a6f68"/><circle cx="1389.9" cy="197.9" r="0.7" fill="#5f5a56"/><circle cx="1395.3" cy="77.5" r="0.5" fill="#8d8883"/><circle cx="1421.6" cy="220.3" r="0.5" fill="#8d8883"/><circle cx="1285.0" cy="89.9" r="0.5" fill="#7a6f68"/><circle cx="1336.3" cy="197.7" r="0.7" fill="#aaa5a0"/><circle cx="1253.1" cy="90.6" r="0.4" fill="#8d8883"/><circle cx="1462.7" cy="75.4" r="0.5" fill="#7a6f68"/><circle cx="1351.8" cy="95.8" r="0.4" fill="#5f5a56"/><circle cx="1479.2" cy="135.8" r="0.4" fill="#8d8883"/><circle cx="1448.1" cy="28.3" r="0.7" fill="#7a6f68"/><circle cx="1498.7" cy="71.8" r="0.6" fill="#aaa5a0"/><circle cx="1470.1" cy="123.3" r="0.7" fill="#7a6f68"/><circle cx="1354.0" cy="221.7" r="0.7" fill="#7a6f68"/><circle cx="1388.2" cy="9.2" r="0.5" fill="#8d8883"/><circle cx="1279.2" cy="212.4" r="0.6" fill="#8d8883"/><circle cx="1319.8" cy="68.2" r="0.5" fill="#8d8883"/><circle cx="1304.6" cy="134.6" r="0.6" fill="#aaa5a0"/><circle cx="1389.9" cy="99.4" r="0.3" fill="#5f5a56"/><circle cx="1239.8" cy="164.1" r="0.7" fill="#8d8883"/><circle cx="1256.8" cy="200.2" r="0.5" fill="#5f5a56"/><circle cx="1413.5" cy="247.1" r="0.4" fill="#8d8883"/><circle cx="1310.7" cy="47.8" r="0.4" fill="#8d8883"/><circle cx="1258.5" cy="44.5" r="0.6" fill="#5f5a56"/><circle cx="1441.6" cy="202.6" r="0.6" fill="#5f5a56"/><circle cx="1395.3" cy="15.0" r="0.5" fill="#8d8883"/><circle cx="1280.4" cy="194.7" r="0.6" fill="#5f5a56"/><circle cx="1254.2" cy="103.0" r="0.6" fill="#8d8883"/><circle cx="1493.9" cy="192.1" r="0.5" fill="#7a6f68"/><circle cx="1457.8" cy="231.4" r="0.3" fill="#7a6f68"/><circle cx="1452.0" cy="2.2" r="0.5" fill="#7a6f68"/><circle cx="1438.7" cy="223.2" r="0.7" fill="#8d8883"/><circle cx="1473.7" cy="128.3" r="0.4" fill="#5f5a56"/><circle cx="1454.3" cy="55.4" r="0.7" fill="#5f5a56"/><circle cx="1479.6" cy="101.9" r="0.5" fill="#8d8883"/><circle cx="1469.3" cy="163.5" r="0.5" fill="#5f5a56"/><circle cx="1426.2" cy="60.1" r="0.4" fill="#5f5a56"/><circle cx="1475.3" cy="98.4" r="0.5" fill="#5f5a56"/><circle cx="1460.7" cy="145.6" r="0.6" fill="#aaa5a0"/><circle cx="1420.4" cy="38.1" r="0.5" fill="#7a6f68"/><circle cx="1297.4" cy="40.7" r="0.6" fill="#8d8883"/><circle cx="1492.5" cy="110.3" r="0.5" fill="#5f5a56"/><circle cx="1380.7" cy="174.8" r="0.4" fill="#8d8883"/><circle cx="1260.4" cy="144.1" r="0.7" fill="#aaa5a0"/><circle cx="1465.3" cy="82.8" r="0.7" fill="#8d8883"/><circle cx="1494.9" cy="247.4" r="0.4" fill="#5f5a56"/><circle cx="1379.6" cy="227.8" r="0.4" fill="#8d8883"/><circle cx="1354.3" cy="63.2" r="0.7" fill="#aaa5a0"/><circle cx="1246.6" cy="124.7" r="0.3" fill="#aaa5a0"/><circle cx="1433.1" cy="227.6" r="0.5" fill="#7a6f68"/><circle cx="1397.2" cy="73.7" r="0.3" fill="#7a6f68"/><circle cx="1436.3" cy="263.6" r="0.7" fill="#7a6f68"/><circle cx="1360.0" cy="191.8" r="0.5" fill="#aaa5a0"/><circle cx="1283.9" cy="110.5" r="0.4" fill="#8d8883"/><circle cx="1499.5" cy="217.5" r="0.7" fill="#5f5a56"/><circle cx="1476.5" cy="240.0" r="0.5" fill="#8d8883"/><circle cx="1265.8" cy="162.8" r="0.6" fill="#8d8883"/><circle cx="1484.8" cy="26.4" r="0.3" fill="#5f5a56"/><circle cx="1335.5" cy="42.8" r="0.4" fill="#8d8883"/><circle cx="1317.0" cy="134.1" r="0.5" fill="#8d8883"/><circle cx="1417.4" cy="156.8" r="0.7" fill="#aaa5a0"/><circle cx="1408.4" cy="4.8" r="0.5" fill="#8d8883"/><circle cx="1351.5" cy="32.4" r="0.6" fill="#aaa5a0"/><circle cx="1454.1" cy="178.8" r="0.7" fill="#8d8883"/><circle cx="1306.7" cy="214.7" r="0.5" fill="#aaa5a0"/><circle cx="1380.7" cy="218.8" r="0.5" fill="#7a6f68"/><circle cx="1468.7" cy="224.6" r="0.6" fill="#7a6f68"/><circle cx="1473.5" cy="134.9" r="0.3" fill="#7a6f68"/><circle cx="1327.6" cy="259.0" r="0.5" fill="#7a6f68"/><circle cx="1352.6" cy="201.2" r="0.6" fill="#aaa5a0"/><circle cx="1436.6" cy="40.7" r="0.5" fill="#aaa5a0"/><circle cx="1321.3" cy="66.0" r="0.6" fill="#aaa5a0"/><circle cx="1408.2" cy="18.1" r="0.6" fill="#aaa5a0"/><circle cx="1336.0" cy="17.3" r="0.5" fill="#5f5a56"/><circle cx="1334.3" cy="87.1" r="0.7" fill="#5f5a56"/><circle cx="1320.0" cy="12.2" r="0.4" fill="#aaa5a0"/><circle cx="1475.7" cy="145.6" r="0.6" fill="#5f5a56"/><circle cx="1453.1" cy="44.3" r="0.7" fill="#5f5a56"/><circle cx="1403.8" cy="9.4" r="0.6" fill="#7a6f68"/><circle cx="1283.5" cy="140.7" r="0.3" fill="#aaa5a0"/><circle cx="1368.0" cy="222.5" r="0.6" fill="#8d8883"/><circle cx="1406.5" cy="266.6" r="0.7" fill="#aaa5a0"/><circle cx="1420.5" cy="112.9" r="0.7" fill="#5f5a56"/><circle cx="1479.6" cy="197.7" r="0.6" fill="#5f5a56"/><circle cx="1265.2" cy="14.5" r="0.5" fill="#aaa5a0"/><circle cx="1345.2" cy="142.8" r="0.4" fill="#5f5a56"/><circle cx="1483.0" cy="55.7" r="0.4" fill="#7a6f68"/><circle cx="1475.6" cy="77.8" r="0.3" fill="#aaa5a0"/><circle cx="1308.8" cy="234.1" r="0.4" fill="#5f5a56"/><circle cx="1363.6" cy="267.8" r="0.3" fill="#8d8883"/><circle cx="1286.8" cy="117.9" r="0.7" fill="#aaa5a0"/><circle cx="1471.2" cy="77.4" r="0.6" fill="#aaa5a0"/><circle cx="1236.2" cy="41.3" r="0.6" fill="#5f5a56"/><circle cx="1318.5" cy="31.2" r="0.7" fill="#5f5a56"/><circle cx="1385.5" cy="46.7" r="0.6" fill="#8d8883"/><circle cx="1443.0" cy="131.2" r="0.6" fill="#5f5a56"/><circle cx="1485.2" cy="203.0" r="0.5" fill="#aaa5a0"/><circle cx="1282.1" cy="162.9" r="0.6" fill="#5f5a56"/><circle cx="1449.2" cy="83.1" r="0.3" fill="#aaa5a0"/><circle cx="1410.5" cy="233.6" r="0.7" fill="#8d8883"/><circle cx="1397.0" cy="156.2" r="0.3" fill="#8d8883"/><circle cx="1449.0" cy="180.5" r="0.4" fill="#8d8883"/><circle cx="1377.7" cy="106.8" r="0.3" fill="#8d8883"/><circle cx="1460.8" cy="10.5" r="0.7" fill="#8d8883"/><circle cx="1358.5" cy="243.7" r="0.5" fill="#5f5a56"/><circle cx="1455.7" cy="31.9" r="0.7" fill="#5f5a56"/><circle cx="1362.6" cy="57.3" r="0.7" fill="#aaa5a0"/><circle cx="1435.2" cy="115.8" r="0.3" fill="#5f5a56"/><circle cx="1441.2" cy="1.2" r="0.5" fill="#aaa5a0"/><circle cx="1371.5" cy="170.1" r="0.5" fill="#5f5a56"/><circle cx="1347.3" cy="20.2" r="0.5" fill="#5f5a56"/><circle cx="1314.9" cy="210.1" r="0.7" fill="#7a6f68"/><circle cx="1336.7" cy="140.4" r="0.4" fill="#8d8883"/><circle cx="1443.9" cy="136.5" r="0.4" fill="#8d8883"/><circle cx="1380.6" cy="248.1" r="0.5" fill="#7a6f68"/><circle cx="1347.2" cy="26.3" r="0.5" fill="#aaa5a0"/><circle cx="1387.4" cy="142.1" r="0.7" fill="#5f5a56"/><circle cx="1388.9" cy="17.6" r="0.7" fill="#5f5a56"/><circle cx="1460.5" cy="234.8" r="0.3" fill="#5f5a56"/><circle cx="1267.4" cy="184.0" r="0.7" fill="#aaa5a0"/><circle cx="1471.9" cy="232.4" r="0.7" fill="#5f5a56"/><circle cx="1359.8" cy="35.7" r="0.6" fill="#8d8883"/><circle cx="1442.0" cy="229.5" r="0.4" fill="#8d8883"/><circle cx="1417.2" cy="284.7" r="0.6" fill="#8d8883"/><circle cx="1360.6" cy="199.5" r="0.6" fill="#8d8883"/><circle cx="1387.9" cy="175.1" r="0.3" fill="#8d8883"/><circle cx="1490.5" cy="157.6" r="0.6" fill="#aaa5a0"/><circle cx="1249.4" cy="99.4" r="0.7" fill="#aaa5a0"/><circle cx="1268.1" cy="163.2" r="0.4" fill="#7a6f68"/><circle cx="1310.5" cy="78.1" r="0.4" fill="#7a6f68"/><circle cx="1334.0" cy="178.5" r="0.5" fill="#7a6f68"/><circle cx="1262.6" cy="90.5" r="0.4" fill="#7a6f68"/><circle cx="1279.6" cy="201.3" r="0.3" fill="#aaa5a0"/><circle cx="1410.7" cy="208.3" r="0.7" fill="#7a6f68"/><circle cx="1402.8" cy="223.9" r="0.7" fill="#8d8883"/><circle cx="1300.7" cy="247.5" r="0.7" fill="#aaa5a0"/><circle cx="1409.4" cy="51.5" r="0.5" fill="#aaa5a0"/><circle cx="1451.7" cy="273.9" r="0.3" fill="#aaa5a0"/><circle cx="1305.2" cy="179.1" r="0.6" fill="#aaa5a0"/><circle cx="1317.8" cy="63.8" r="0.5" fill="#7a6f68"/><circle cx="1446.5" cy="66.1" r="0.4" fill="#7a6f68"/><circle cx="1440.6" cy="178.1" r="0.4" fill="#aaa5a0"/><circle cx="1424.6" cy="185.6" r="0.5" fill="#5f5a56"/><circle cx="1233.0" cy="129.4" r="0.3" fill="#5f5a56"/><circle cx="1466.3" cy="5.6" r="0.4" fill="#aaa5a0"/><circle cx="1334.0" cy="233.7" r="0.7" fill="#5f5a56"/><circle cx="1448.6" cy="171.6" r="0.7" fill="#aaa5a0"/><circle cx="1482.1" cy="183.9" r="0.3" fill="#8d8883"/><circle cx="1452.6" cy="264.8" r="0.6" fill="#aaa5a0"/><circle cx="1345.8" cy="179.9" r="0.3" fill="#aaa5a0"/><circle cx="1281.1" cy="209.1" r="0.4" fill="#5f5a56"/><circle cx="1467.2" cy="154.8" r="0.3" fill="#5f5a56"/><circle cx="1356.5" cy="51.4" r="0.6" fill="#8d8883"/><circle cx="1231.9" cy="70.1" r="0.6" fill="#aaa5a0"/><circle cx="1401.8" cy="23.6" r="0.5" fill="#7a6f68"/><circle cx="1319.8" cy="261.6" r="0.5" fill="#7a6f68"/><circle cx="1272.8" cy="73.1" r="0.5" fill="#7a6f68"/><circle cx="1305.5" cy="16.6" r="0.4" fill="#5f5a56"/><circle cx="1264.0" cy="140.8" r="0.4" fill="#8d8883"/><circle cx="1462.6" cy="11.6" r="0.5" fill="#8d8883"/><circle cx="1468.0" cy="144.7" r="0.5" fill="#5f5a56"/><circle cx="1286.8" cy="172.7" r="0.4" fill="#aaa5a0"/><circle cx="1356.4" cy="74.0" r="0.5" fill="#aaa5a0"/><circle cx="1409.6" cy="207.8" r="0.5" fill="#8d8883"/><circle cx="1376.9" cy="41.3" r="0.5" fill="#5f5a56"/><circle cx="1420.3" cy="163.5" r="0.5" fill="#aaa5a0"/><circle cx="1497.8" cy="105.2" r="0.7" fill="#aaa5a0"/><circle cx="1290.7" cy="139.5" r="0.7" fill="#5f5a56"/><circle cx="1270.1" cy="43.3" r="0.4" fill="#aaa5a0"/><circle cx="1428.2" cy="147.1" r="0.5" fill="#5f5a56"/><circle cx="1414.1" cy="104.2" r="0.3" fill="#7a6f68"/><circle cx="1296.1" cy="57.8" r="0.7" fill="#aaa5a0"/><circle cx="1358.0" cy="140.7" r="0.5" fill="#8d8883"/><circle cx="1494.3" cy="140.3" r="0.4" fill="#5f5a56"/><circle cx="1453.1" cy="263.6" r="0.6" fill="#7a6f68"/><circle cx="1364.9" cy="4.0" r="0.3" fill="#5f5a56"/><circle cx="1364.5" cy="237.8" r="0.5" fill="#5f5a56"/><circle cx="1498.8" cy="6.5" r="0.6" fill="#8d8883"/><circle cx="1370.8" cy="151.6" r="0.4" fill="#aaa5a0"/><circle cx="1395.4" cy="169.8" r="0.7" fill="#5f5a56"/><circle cx="1492.1" cy="27.3" r="0.4" fill="#8d8883"/><circle cx="1481.1" cy="274.2" r="0.3" fill="#aaa5a0"/><circle cx="1429.7" cy="287.5" r="0.5" fill="#5f5a56"/><circle cx="1383.9" cy="72.6" r="0.3" fill="#5f5a56"/><circle cx="1275.6" cy="214.5" r="0.7" fill="#7a6f68"/><circle cx="1435.6" cy="139.5" r="0.6" fill="#7a6f68"/><circle cx="1245.6" cy="163.2" r="0.5" fill="#7a6f68"/><circle cx="1322.3" cy="120.9" r="0.5" fill="#7a6f68"/><circle cx="1392.7" cy="28.1" r="0.5" fill="#7a6f68"/><circle cx="1356.6" cy="278.6" r="0.4" fill="#7a6f68"/><circle cx="1471.2" cy="129.0" r="0.6" fill="#5f5a56"/><circle cx="1364.3" cy="109.4" r="0.7" fill="#5f5a56"/><circle cx="1381.0" cy="147.4" r="0.7" fill="#5f5a56"/><circle cx="1242.2" cy="54.2" r="0.7" fill="#5f5a56"/><circle cx="1395.9" cy="34.7" r="0.4" fill="#aaa5a0"/><circle cx="1329.3" cy="73.8" r="0.4" fill="#5f5a56"/><circle cx="1288.8" cy="61.4" r="0.6" fill="#5f5a56"/><circle cx="1443.1" cy="34.2" r="0.5" fill="#aaa5a0"/><circle cx="1427.3" cy="282.7" r="0.5" fill="#8d8883"/><circle cx="1437.0" cy="40.9" r="0.4" fill="#7a6f68"/><circle cx="1346.1" cy="19.4" r="0.3" fill="#7a6f68"/><circle cx="1400.3" cy="180.2" r="0.5" fill="#5f5a56"/><circle cx="1487.6" cy="242.0" r="0.6" fill="#5f5a56"/><circle cx="1353.6" cy="199.7" r="0.5" fill="#aaa5a0"/><circle cx="1273.8" cy="202.8" r="0.4" fill="#5f5a56"/><circle cx="1490.3" cy="236.3" r="0.6" fill="#8d8883"/><circle cx="1500.0" cy="237.7" r="0.7" fill="#7a6f68"/><circle cx="1497.4" cy="93.4" r="0.6" fill="#7a6f68"/><circle cx="1401.3" cy="101.2" r="0.6" fill="#7a6f68"/><circle cx="1383.3" cy="263.1" r="0.6" fill="#8d8883"/><circle cx="1366.0" cy="176.6" r="0.4" fill="#7a6f68"/><circle cx="1376.4" cy="35.2" r="0.6" fill="#7a6f68"/><circle cx="1285.4" cy="81.8" r="0.4" fill="#8d8883"/><circle cx="1452.0" cy="73.4" r="0.3" fill="#7a6f68"/><circle cx="1498.5" cy="14.8" r="0.3" fill="#7a6f68"/><circle cx="1391.6" cy="52.3" r="0.5" fill="#5f5a56"/><circle cx="1456.8" cy="279.6" r="0.6" fill="#8d8883"/><circle cx="1241.1" cy="176.9" r="0.7" fill="#7a6f68"/><circle cx="1382.0" cy="85.3" r="0.6" fill="#7a6f68"/><circle cx="1499.1" cy="70.9" r="0.7" fill="#5f5a56"/><circle cx="1300.1" cy="170.8" r="0.5" fill="#8d8883"/><circle cx="1269.1" cy="43.5" r="0.5" fill="#8d8883"/><circle cx="1363.6" cy="256.8" r="0.6" fill="#8d8883"/><circle cx="1357.4" cy="125.1" r="0.5" fill="#5f5a56"/><circle cx="1480.9" cy="264.6" r="0.3" fill="#7a6f68"/><circle cx="1370.4" cy="5.7" r="0.6" fill="#5f5a56"/><circle cx="1396.5" cy="69.5" r="0.7" fill="#7a6f68"/><circle cx="1415.6" cy="72.1" r="0.7" fill="#7a6f68"/><circle cx="1278.8" cy="26.2" r="0.7" fill="#5f5a56"/><circle cx="1259.5" cy="32.8" r="0.5" fill="#8d8883"/><circle cx="1299.5" cy="47.9" r="0.4" fill="#5f5a56"/><circle cx="1499.3" cy="265.9" r="0.3" fill="#8d8883"/><circle cx="1371.1" cy="6.6" r="0.7" fill="#aaa5a0"/><circle cx="1254.8" cy="63.7" r="0.4" fill="#aaa5a0"/><circle cx="1438.3" cy="50.3" r="0.4" fill="#aaa5a0"/><circle cx="1440.0" cy="151.1" r="0.4" fill="#5f5a56"/><circle cx="1446.6" cy="150.9" r="0.5" fill="#aaa5a0"/><circle cx="1470.1" cy="254.3" r="0.7" fill="#7a6f68"/><circle cx="1390.1" cy="204.2" r="0.3" fill="#8d8883"/><circle cx="1416.4" cy="231.0" r="0.7" fill="#8d8883"/><circle cx="1368.8" cy="153.6" r="0.5" fill="#5f5a56"/><circle cx="1368.4" cy="66.6" r="0.7" fill="#8d8883"/><circle cx="1361.6" cy="171.6" r="0.7" fill="#8d8883"/><circle cx="1327.3" cy="128.5" r="0.4" fill="#8d8883"/><circle cx="1356.3" cy="122.8" r="0.7" fill="#7a6f68"/><circle cx="1398.1" cy="128.8" r="0.6" fill="#5f5a56"/><circle cx="1484.6" cy="40.9" r="0.6" fill="#8d8883"/><circle cx="1234.7" cy="90.2" r="0.7" fill="#7a6f68"/><circle cx="1417.6" cy="81.4" r="0.7" fill="#aaa5a0"/><circle cx="1422.2" cy="140.5" r="0.5" fill="#8d8883"/><circle cx="1457.2" cy="129.0" r="0.6" fill="#5f5a56"/><circle cx="1441.7" cy="49.7" r="0.6" fill="#7a6f68"/><circle cx="1447.9" cy="108.8" r="0.4" fill="#7a6f68"/><circle cx="1381.2" cy="6.4" r="0.4" fill="#8d8883"/><circle cx="1423.1" cy="203.6" r="0.7" fill="#aaa5a0"/><circle cx="1447.2" cy="266.0" r="0.4" fill="#7a6f68"/><circle cx="1486.6" cy="65.1" r="0.7" fill="#aaa5a0"/><circle cx="1459.7" cy="223.1" r="0.6" fill="#7a6f68"/><circle cx="1236.0" cy="160.2" r="0.5" fill="#aaa5a0"/><circle cx="1413.1" cy="87.1" r="0.5" fill="#8d8883"/><circle cx="1497.7" cy="239.1" r="0.6" fill="#5f5a56"/><circle cx="1341.4" cy="207.0" r="0.6" fill="#aaa5a0"/><circle cx="1320.6" cy="39.8" r="0.6" fill="#7a6f68"/><circle cx="1239.8" cy="120.5" r="0.6" fill="#5f5a56"/><circle cx="1326.4" cy="3.0" r="0.4" fill="#5f5a56"/><circle cx="1469.3" cy="34.2" r="0.5" fill="#7a6f68"/><circle cx="1327.9" cy="54.1" r="0.3" fill="#aaa5a0"/><circle cx="1376.1" cy="238.5" r="0.5" fill="#7a6f68"/><circle cx="1226.4" cy="73.0" r="0.4" fill="#7a6f68"/><circle cx="1388.7" cy="185.7" r="0.5" fill="#5f5a56"/><circle cx="1269.7" cy="171.6" r="0.4" fill="#7a6f68"/><circle cx="1491.2" cy="39.8" r="0.5" fill="#aaa5a0"/><circle cx="1372.0" cy="262.4" r="0.4" fill="#aaa5a0"/><circle cx="1384.7" cy="77.8" r="0.6" fill="#7a6f68"/><circle cx="1413.5" cy="154.3" r="0.6" fill="#5f5a56"/><circle cx="1436.1" cy="268.8" r="0.3" fill="#7a6f68"/><circle cx="1361.5" cy="156.3" r="0.6" fill="#5f5a56"/><circle cx="1389.7" cy="131.0" r="0.5" fill="#aaa5a0"/><circle cx="1402.1" cy="247.4" r="0.6" fill="#7a6f68"/><circle cx="1316.1" cy="212.0" r="0.5" fill="#aaa5a0"/><circle cx="1375.5" cy="8.3" r="0.4" fill="#8d8883"/><circle cx="1307.2" cy="44.9" r="0.7" fill="#8d8883"/><circle cx="1340.5" cy="140.5" r="0.5" fill="#aaa5a0"/><circle cx="1439.9" cy="3.3" r="0.5" fill="#7a6f68"/><circle cx="1349.7" cy="163.8" r="0.4" fill="#8d8883"/><circle cx="1392.0" cy="10.2" r="0.7" fill="#8d8883"/><circle cx="1457.3" cy="214.2" r="0.7" fill="#8d8883"/><circle cx="1451.0" cy="73.0" r="0.4" fill="#7a6f68"/><circle cx="1437.2" cy="268.4" r="0.4" fill="#5f5a56"/><circle cx="1383.3" cy="200.7" r="0.5" fill="#8d8883"/><circle cx="1298.2" cy="222.3" r="0.7" fill="#aaa5a0"/><circle cx="1384.8" cy="170.2" r="0.7" fill="#5f5a56"/><circle cx="1352.3" cy="185.9" r="0.7" fill="#7a6f68"/><circle cx="1485.4" cy="115.5" r="0.7" fill="#8d8883"/><circle cx="1289.8" cy="154.6" r="0.6" fill="#7a6f68"/><circle cx="1226.7" cy="109.2" r="0.6" fill="#aaa5a0"/><circle cx="1381.3" cy="261.7" r="0.3" fill="#aaa5a0"/><circle cx="1274.8" cy="64.5" r="0.7" fill="#5f5a56"/><circle cx="1409.1" cy="1.7" r="0.5" fill="#7a6f68"/><circle cx="1253.6" cy="44.4" r="0.5" fill="#8d8883"/><circle cx="1245.7" cy="18.5" r="0.6" fill="#8d8883"/><circle cx="1437.5" cy="166.8" r="0.6" fill="#7a6f68"/><circle cx="1482.8" cy="161.5" r="0.4" fill="#8d8883"/><circle cx="1271.1" cy="178.9" r="0.7" fill="#5f5a56"/><circle cx="1448.4" cy="130.5" r="0.4" fill="#aaa5a0"/><circle cx="1316.2" cy="70.6" r="0.6" fill="#8d8883"/><circle cx="1322.3" cy="217.8" r="0.6" fill="#8d8883"/><circle cx="1337.8" cy="267.4" r="0.6" fill="#7a6f68"/><circle cx="1320.1" cy="126.2" r="0.5" fill="#7a6f68"/><circle cx="1348.7" cy="233.8" r="0.3" fill="#7a6f68"/><circle cx="1265.0" cy="94.7" r="0.5" fill="#7a6f68"/><circle cx="1321.6" cy="198.3" r="0.4" fill="#7a6f68"/><circle cx="1405.3" cy="3.6" r="0.5" fill="#8d8883"/><circle cx="1456.5" cy="10.8" r="0.4" fill="#aaa5a0"/><circle cx="1488.0" cy="99.6" r="0.7" fill="#7a6f68"/><circle cx="1487.5" cy="165.6" r="0.5" fill="#7a6f68"/><circle cx="1251.4" cy="61.4" r="0.3" fill="#7a6f68"/><circle cx="1356.0" cy="62.0" r="0.4" fill="#5f5a56"/><circle cx="1343.3" cy="241.2" r="0.6" fill="#aaa5a0"/><circle cx="1400.1" cy="236.7" r="0.7" fill="#aaa5a0"/><circle cx="1433.1" cy="52.4" r="0.5" fill="#aaa5a0"/><circle cx="1345.6" cy="21.1" r="0.6" fill="#7a6f68"/><circle cx="1377.6" cy="41.5" r="0.7" fill="#8d8883"/><circle cx="1401.2" cy="146.3" r="0.3" fill="#7a6f68"/><circle cx="1499.5" cy="147.2" r="0.5" fill="#5f5a56"/><circle cx="1444.8" cy="120.8" r="0.5" fill="#5f5a56"/><circle cx="1430.7" cy="35.3" r="0.5" fill="#7a6f68"/><circle cx="1412.3" cy="56.0" r="0.4" fill="#7a6f68"/><circle cx="1414.2" cy="33.4" r="0.3" fill="#8d8883"/><circle cx="1456.4" cy="144.0" r="0.6" fill="#7a6f68"/><circle cx="1362.1" cy="202.8" r="0.6" fill="#aaa5a0"/><circle cx="1283.9" cy="198.6" r="0.7" fill="#7a6f68"/><circle cx="1335.5" cy="8.0" r="0.4" fill="#5f5a56"/><circle cx="1423.4" cy="152.4" r="0.4" fill="#aaa5a0"/><circle cx="1406.2" cy="181.5" r="0.3" fill="#8d8883"/><circle cx="1306.7" cy="39.7" r="0.7" fill="#5f5a56"/><circle cx="1298.9" cy="169.0" r="0.6" fill="#8d8883"/><circle cx="1350.5" cy="208.6" r="0.7" fill="#5f5a56"/><circle cx="1353.6" cy="64.6" r="0.7" fill="#aaa5a0"/><circle cx="1407.5" cy="183.0" r="0.4" fill="#8d8883"/><circle cx="1358.6" cy="183.2" r="0.3" fill="#aaa5a0"/><circle cx="1367.7" cy="193.2" r="0.7" fill="#aaa5a0"/><circle cx="1359.4" cy="22.0" r="0.5" fill="#8d8883"/><circle cx="1470.7" cy="255.3" r="0.5" fill="#5f5a56"/><circle cx="1471.6" cy="234.5" r="0.4" fill="#5f5a56"/><circle cx="1265.4" cy="151.2" r="0.4" fill="#aaa5a0"/><circle cx="1256.6" cy="165.7" r="0.4" fill="#7a6f68"/><circle cx="1244.1" cy="100.5" r="0.5" fill="#8d8883"/><circle cx="1362.5" cy="10.5" r="0.5" fill="#5f5a56"/><circle cx="1231.8" cy="58.9" r="0.4" fill="#aaa5a0"/><circle cx="1290.7" cy="235.4" r="0.5" fill="#7a6f68"/><circle cx="1382.1" cy="142.6" r="0.4" fill="#7a6f68"/><circle cx="1405.4" cy="198.5" r="0.4" fill="#7a6f68"/><circle cx="1350.1" cy="121.7" r="0.4" fill="#aaa5a0"/><circle cx="1321.5" cy="251.4" r="0.3" fill="#7a6f68"/><circle cx="1325.9" cy="176.4" r="0.6" fill="#8d8883"/><circle cx="1473.4" cy="14.4" r="0.6" fill="#aaa5a0"/><circle cx="1468.9" cy="276.6" r="0.3" fill="#aaa5a0"/><circle cx="1282.4" cy="136.1" r="0.7" fill="#8d8883"/><circle cx="1365.2" cy="178.8" r="0.5" fill="#7a6f68"/><circle cx="1231.8" cy="103.4" r="0.7" fill="#7a6f68"/><circle cx="1308.3" cy="87.2" r="0.4" fill="#8d8883"/><circle cx="1440.8" cy="202.2" r="0.6" fill="#5f5a56"/><circle cx="1295.4" cy="61.1" r="0.4" fill="#7a6f68"/><circle cx="1433.6" cy="153.4" r="0.5" fill="#8d8883"/><circle cx="1451.5" cy="148.7" r="0.4" fill="#5f5a56"/><circle cx="1261.1" cy="39.6" r="0.5" fill="#7a6f68"/><circle cx="1289.2" cy="212.6" r="0.5" fill="#aaa5a0"/><circle cx="1386.1" cy="18.7" r="0.4" fill="#7a6f68"/><circle cx="1460.3" cy="281.0" r="0.4" fill="#5f5a56"/><circle cx="1449.4" cy="45.0" r="0.7" fill="#5f5a56"/><circle cx="1358.3" cy="36.3" r="0.6" fill="#8d8883"/><circle cx="1440.5" cy="241.2" r="0.4" fill="#aaa5a0"/><circle cx="1365.9" cy="190.8" r="0.5" fill="#7a6f68"/><circle cx="1369.1" cy="11.9" r="0.3" fill="#aaa5a0"/><circle cx="1452.1" cy="46.3" r="0.4" fill="#7a6f68"/><circle cx="1480.2" cy="155.6" r="0.7" fill="#aaa5a0"/><circle cx="1358.9" cy="7.7" r="0.4" fill="#5f5a56"/><circle cx="1487.6" cy="83.0" r="0.4" fill="#7a6f68"/><circle cx="1479.3" cy="245.6" r="0.7" fill="#7a6f68"/><circle cx="1307.5" cy="86.8" r="0.4" fill="#7a6f68"/><circle cx="1258.0" cy="189.4" r="0.7" fill="#7a6f68"/><circle cx="1377.9" cy="282.7" r="0.6" fill="#5f5a56"/><circle cx="1344.5" cy="192.0" r="0.6" fill="#5f5a56"/><circle cx="1259.3" cy="14.4" r="0.4" fill="#5f5a56"/><circle cx="1493.8" cy="57.2" r="0.6" fill="#aaa5a0"/><circle cx="1467.8" cy="219.9" r="0.6" fill="#5f5a56"/><circle cx="1474.9" cy="257.6" r="0.5" fill="#5f5a56"/><circle cx="1263.3" cy="188.4" r="0.3" fill="#aaa5a0"/><circle cx="1423.9" cy="160.8" r="0.7" fill="#8d8883"/><circle cx="1467.5" cy="126.9" r="0.7" fill="#8d8883"/><circle cx="1331.7" cy="54.1" r="0.6" fill="#5f5a56"/><circle cx="1348.1" cy="106.4" r="0.7" fill="#5f5a56"/><circle cx="1317.3" cy="184.1" r="0.4" fill="#7a6f68"/><circle cx="1395.3" cy="254.4" r="0.5" fill="#aaa5a0"/><circle cx="1495.2" cy="12.6" r="0.5" fill="#8d8883"/><circle cx="1490.6" cy="120.2" r="0.5" fill="#5f5a56"/><circle cx="1489.8" cy="271.1" r="0.3" fill="#aaa5a0"/><circle cx="1277.7" cy="135.1" r="0.4" fill="#5f5a56"/><circle cx="1431.5" cy="141.6" r="0.3" fill="#aaa5a0"/><circle cx="1330.7" cy="20.3" r="0.3" fill="#5f5a56"/><circle cx="1420.5" cy="141.6" r="0.3" fill="#5f5a56"/><circle cx="1451.9" cy="214.7" r="0.6" fill="#8d8883"/><circle cx="1418.3" cy="39.1" r="0.5" fill="#7a6f68"/><circle cx="1228.7" cy="54.6" r="0.7" fill="#7a6f68"/><circle cx="1494.7" cy="215.1" r="0.5" fill="#7a6f68"/><circle cx="1495.2" cy="210.9" r="0.4" fill="#7a6f68"/><circle cx="1271.3" cy="23.3" r="0.5" fill="#7a6f68"/><circle cx="1368.8" cy="5.2" r="0.4" fill="#8d8883"/><circle cx="1430.2" cy="83.3" r="0.6" fill="#7a6f68"/><circle cx="1301.7" cy="232.5" r="0.6" fill="#8d8883"/><circle cx="1266.7" cy="0.9" r="0.6" fill="#aaa5a0"/><circle cx="1485.0" cy="70.7" r="0.5" fill="#8d8883"/><circle cx="1365.0" cy="278.3" r="0.6" fill="#7a6f68"/><circle cx="1330.5" cy="2.8" r="0.6" fill="#aaa5a0"/><circle cx="1268.1" cy="118.5" r="0.3" fill="#7a6f68"/><circle cx="1300.6" cy="220.3" r="0.6" fill="#5f5a56"/><circle cx="1478.8" cy="240.6" r="0.7" fill="#8d8883"/><circle cx="1257.9" cy="183.6" r="0.4" fill="#aaa5a0"/><circle cx="1440.5" cy="138.9" r="0.7" fill="#7a6f68"/><circle cx="1443.6" cy="232.3" r="0.7" fill="#aaa5a0"/><circle cx="1248.6" cy="124.0" r="0.5" fill="#5f5a56"/><circle cx="1393.6" cy="267.0" r="0.3" fill="#5f5a56"/><circle cx="1389.2" cy="209.8" r="0.3" fill="#8d8883"/><circle cx="1400.8" cy="107.9" r="0.4" fill="#5f5a56"/><circle cx="1246.9" cy="132.1" r="0.7" fill="#7a6f68"/><circle cx="1445.6" cy="78.3" r="0.7" fill="#5f5a56"/><circle cx="1346.9" cy="43.7" r="0.4" fill="#8d8883"/><circle cx="1368.1" cy="89.6" r="0.7" fill="#aaa5a0"/><circle cx="1286.4" cy="232.1" r="0.7" fill="#aaa5a0"/><circle cx="1351.2" cy="205.5" r="0.6" fill="#5f5a56"/><circle cx="1290.8" cy="226.5" r="0.7" fill="#aaa5a0"/><circle cx="1351.7" cy="275.4" r="0.5" fill="#aaa5a0"/><circle cx="1239.8" cy="57.6" r="0.5" fill="#7a6f68"/><circle cx="1416.3" cy="156.6" r="0.3" fill="#7a6f68"/><circle cx="1308.5" cy="217.0" r="0.5" fill="#aaa5a0"/><circle cx="1380.7" cy="178.5" r="0.5" fill="#5f5a56"/><circle cx="1352.9" cy="80.6" r="0.4" fill="#7a6f68"/><circle cx="1249.7" cy="98.8" r="0.7" fill="#8d8883"/><circle cx="1357.7" cy="139.9" r="0.6" fill="#7a6f68"/><circle cx="1299.0" cy="11.4" r="0.6" fill="#7a6f68"/><circle cx="1290.4" cy="2.8" r="0.7" fill="#aaa5a0"/><circle cx="1461.9" cy="103.5" r="0.4" fill="#7a6f68"/><circle cx="1476.0" cy="185.2" r="0.5" fill="#5f5a56"/><circle cx="1382.4" cy="0.8" r="0.4" fill="#7a6f68"/><circle cx="1320.5" cy="261.4" r="0.4" fill="#5f5a56"/><circle cx="1402.2" cy="103.0" r="0.4" fill="#5f5a56"/><circle cx="1352.3" cy="110.6" r="0.6" fill="#aaa5a0"/><circle cx="1420.9" cy="78.8" r="0.4" fill="#aaa5a0"/><circle cx="1408.5" cy="180.6" r="0.5" fill="#7a6f68"/><circle cx="1411.2" cy="152.0" r="0.6" fill="#7a6f68"/><circle cx="1288.5" cy="218.6" r="0.7" fill="#aaa5a0"/><circle cx="1379.0" cy="147.7" r="0.4" fill="#7a6f68"/><circle cx="1388.9" cy="196.6" r="0.3" fill="#5f5a56"/><circle cx="1322.7" cy="238.0" r="0.6" fill="#7a6f68"/><circle cx="1344.5" cy="144.5" r="0.4" fill="#5f5a56"/><circle cx="1470.6" cy="186.1" r="0.6" fill="#8d8883"/><circle cx="1445.8" cy="212.0" r="0.5" fill="#8d8883"/><circle cx="1379.4" cy="273.7" r="0.7" fill="#5f5a56"/><circle cx="1415.9" cy="270.0" r="0.6" fill="#7a6f68"/><circle cx="1432.0" cy="207.5" r="0.7" fill="#7a6f68"/><circle cx="1352.9" cy="21.2" r="0.5" fill="#8d8883"/><circle cx="1337.3" cy="223.9" r="0.4" fill="#5f5a56"/><circle cx="1293.8" cy="56.8" r="0.5" fill="#aaa5a0"/><circle cx="1440.3" cy="186.7" r="0.6" fill="#7a6f68"/><circle cx="1375.8" cy="185.4" r="0.4" fill="#7a6f68"/><circle cx="1299.2" cy="109.6" r="0.4" fill="#5f5a56"/><circle cx="1241.6" cy="40.9" r="0.7" fill="#8d8883"/><circle cx="1284.1" cy="59.2" r="0.3" fill="#aaa5a0"/><circle cx="1331.0" cy="197.7" r="0.4" fill="#5f5a56"/><circle cx="1331.2" cy="166.5" r="0.7" fill="#7a6f68"/><circle cx="1271.7" cy="66.7" r="0.5" fill="#8d8883"/><circle cx="1336.3" cy="160.3" r="0.6" fill="#8d8883"/><circle cx="1361.5" cy="9.0" r="0.5" fill="#8d8883"/><circle cx="1446.9" cy="180.1" r="0.4" fill="#aaa5a0"/><circle cx="1330.0" cy="182.5" r="0.7" fill="#aaa5a0"/><circle cx="1275.9" cy="84.0" r="0.6" fill="#7a6f68"/><circle cx="1289.5" cy="85.8" r="0.4" fill="#5f5a56"/><circle cx="1408.6" cy="121.2" r="0.7" fill="#7a6f68"/><circle cx="1435.7" cy="243.6" r="0.4" fill="#7a6f68"/><circle cx="1291.6" cy="151.0" r="0.4" fill="#8d8883"/><circle cx="1321.3" cy="99.5" r="0.6" fill="#aaa5a0"/><circle cx="1265.8" cy="77.9" r="0.5" fill="#5f5a56"/><circle cx="1476.4" cy="163.5" r="0.5" fill="#8d8883"/><circle cx="1389.4" cy="21.0" r="0.7" fill="#5f5a56"/><circle cx="1445.5" cy="64.9" r="0.4" fill="#8d8883"/><circle cx="1438.3" cy="148.7" r="0.6" fill="#5f5a56"/><circle cx="1352.9" cy="231.5" r="0.7" fill="#7a6f68"/><circle cx="1372.6" cy="143.2" r="0.4" fill="#8d8883"/><circle cx="1385.2" cy="213.9" r="0.4" fill="#aaa5a0"/><circle cx="1442.7" cy="83.4" r="0.6" fill="#8d8883"/><circle cx="1304.3" cy="92.2" r="0.7" fill="#aaa5a0"/><circle cx="1325.1" cy="89.2" r="0.5" fill="#8d8883"/><circle cx="1386.9" cy="37.2" r="0.6" fill="#5f5a56"/><circle cx="1258.3" cy="83.3" r="0.4" fill="#5f5a56"/><circle cx="1455.7" cy="127.7" r="0.7" fill="#8d8883"/><circle cx="1498.0" cy="0.0" r="0.4" fill="#5f5a56"/><circle cx="1478.5" cy="236.5" r="0.5" fill="#5f5a56"/><circle cx="1284.9" cy="67.2" r="0.7" fill="#5f5a56"/><circle cx="1496.8" cy="191.0" r="0.3" fill="#5f5a56"/><circle cx="1306.9" cy="62.8" r="0.4" fill="#8d8883"/><circle cx="1338.5" cy="42.7" r="0.6" fill="#7a6f68"/><circle cx="1452.3" cy="60.0" r="0.6" fill="#8d8883"/><circle cx="1453.6" cy="131.4" r="0.7" fill="#aaa5a0"/><circle cx="1435.7" cy="59.9" r="0.3" fill="#8d8883"/><circle cx="1328.8" cy="121.9" r="0.5" fill="#5f5a56"/><circle cx="1246.9" cy="153.1" r="0.7" fill="#7a6f68"/><circle cx="1343.0" cy="174.2" r="0.6" fill="#5f5a56"/><circle cx="1484.3" cy="100.9" r="0.6" fill="#5f5a56"/><circle cx="1351.3" cy="39.0" r="0.5" fill="#8d8883"/><circle cx="1334.0" cy="141.9" r="0.6" fill="#8d8883"/><circle cx="1431.5" cy="241.2" r="0.7" fill="#5f5a56"/><circle cx="1348.0" cy="99.9" r="0.5" fill="#aaa5a0"/><circle cx="1398.2" cy="268.1" r="0.6" fill="#7a6f68"/><circle cx="1365.8" cy="177.7" r="0.3" fill="#aaa5a0"/><circle cx="1353.1" cy="161.1" r="0.7" fill="#8d8883"/><circle cx="1428.5" cy="238.0" r="0.5" fill="#7a6f68"/><circle cx="1434.7" cy="176.4" r="0.6" fill="#8d8883"/><circle cx="1449.9" cy="38.8" r="0.3" fill="#aaa5a0"/><circle cx="1355.9" cy="232.1" r="0.5" fill="#aaa5a0"/><circle cx="1433.3" cy="219.9" r="0.4" fill="#8d8883"/><circle cx="1414.8" cy="15.7" r="0.5" fill="#8d8883"/><circle cx="1367.3" cy="268.8" r="0.7" fill="#8d8883"/><circle cx="1454.9" cy="135.3" r="0.6" fill="#aaa5a0"/><circle cx="1305.5" cy="43.4" r="0.6" fill="#5f5a56"/><circle cx="1229.7" cy="139.3" r="0.7" fill="#8d8883"/><circle cx="1489.7" cy="86.0" r="0.3" fill="#5f5a56"/><circle cx="1476.9" cy="141.6" r="0.6" fill="#7a6f68"/><circle cx="1400.6" cy="165.5" r="0.5" fill="#aaa5a0"/><circle cx="1462.3" cy="173.6" r="0.4" fill="#8d8883"/><circle cx="1419.1" cy="55.9" r="0.4" fill="#7a6f68"/><circle cx="1327.2" cy="100.9" r="0.7" fill="#8d8883"/><circle cx="1297.2" cy="211.0" r="0.4" fill="#5f5a56"/><circle cx="1411.0" cy="168.4" r="0.6" fill="#5f5a56"/><circle cx="1468.7" cy="91.7" r="0.4" fill="#7a6f68"/><circle cx="1485.8" cy="158.8" r="0.7" fill="#5f5a56"/><circle cx="1226.4" cy="76.3" r="0.5" fill="#8d8883"/><circle cx="1234.9" cy="37.3" r="0.4" fill="#aaa5a0"/><circle cx="1255.8" cy="3.6" r="0.7" fill="#8d8883"/><circle cx="1349.7" cy="134.4" r="0.4" fill="#aaa5a0"/><circle cx="1290.6" cy="78.7" r="0.6" fill="#aaa5a0"/><circle cx="1273.1" cy="82.9" r="0.4" fill="#8d8883"/><circle cx="1395.6" cy="147.2" r="0.6" fill="#aaa5a0"/><circle cx="1419.8" cy="116.6" r="0.7" fill="#5f5a56"/><circle cx="1324.2" cy="225.7" r="0.3" fill="#8d8883"/><circle cx="1247.4" cy="36.6" r="0.5" fill="#7a6f68"/><circle cx="1284.6" cy="170.8" r="0.5" fill="#8d8883"/><circle cx="1344.6" cy="143.5" r="0.6" fill="#7a6f68"/><circle cx="1325.7" cy="156.7" r="0.4" fill="#7a6f68"/><circle cx="1319.1" cy="230.5" r="0.7" fill="#8d8883"/><circle cx="1366.6" cy="1.2" r="0.7" fill="#aaa5a0"/><circle cx="1241.2" cy="50.8" r="0.5" fill="#5f5a56"/><circle cx="1294.6" cy="147.5" r="0.5" fill="#5f5a56"/><circle cx="1485.8" cy="261.5" r="0.4" fill="#7a6f68"/><circle cx="1489.0" cy="173.6" r="0.5" fill="#7a6f68"/><circle cx="1353.4" cy="267.4" r="0.6" fill="#8d8883"/><circle cx="1243.2" cy="145.2" r="0.7" fill="#7a6f68"/><circle cx="1305.2" cy="13.7" r="0.6" fill="#5f5a56"/><circle cx="1348.6" cy="94.1" r="0.4" fill="#7a6f68"/><circle cx="1357.8" cy="275.4" r="0.4" fill="#5f5a56"/><circle cx="1467.2" cy="225.5" r="0.7" fill="#5f5a56"/><circle cx="1407.8" cy="187.6" r="0.5" fill="#5f5a56"/><circle cx="1383.8" cy="21.5" r="0.5" fill="#aaa5a0"/><circle cx="1248.6" cy="69.5" r="0.4" fill="#aaa5a0"/><circle cx="1417.9" cy="36.7" r="0.7" fill="#aaa5a0"/><circle cx="1452.2" cy="5.1" r="0.5" fill="#7a6f68"/><circle cx="1479.9" cy="87.0" r="0.3" fill="#8d8883"/><circle cx="1413.5" cy="271.3" r="0.5" fill="#8d8883"/><circle cx="1334.7" cy="68.0" r="0.5" fill="#aaa5a0"/><circle cx="1346.3" cy="274.2" r="0.7" fill="#8d8883"/><circle cx="1442.3" cy="205.8" r="0.7" fill="#aaa5a0"/><circle cx="1475.8" cy="203.7" r="0.3" fill="#aaa5a0"/><circle cx="1486.3" cy="50.3" r="0.6" fill="#7a6f68"/><circle cx="1498.6" cy="73.5" r="0.4" fill="#7a6f68"/><circle cx="1318.6" cy="101.2" r="0.3" fill="#5f5a56"/><circle cx="1419.3" cy="275.3" r="0.7" fill="#aaa5a0"/><circle cx="1388.2" cy="85.9" r="0.5" fill="#8d8883"/><circle cx="1372.6" cy="224.0" r="0.7" fill="#5f5a56"/><circle cx="1234.2" cy="110.0" r="0.3" fill="#7a6f68"/><circle cx="1283.6" cy="137.9" r="0.4" fill="#8d8883"/><circle cx="1340.8" cy="264.2" r="0.4" fill="#7a6f68"/><circle cx="1362.5" cy="72.2" r="0.4" fill="#7a6f68"/><circle cx="1300.3" cy="155.3" r="0.7" fill="#5f5a56"/><circle cx="1442.9" cy="226.8" r="0.4" fill="#7a6f68"/><circle cx="1233.3" cy="67.3" r="0.3" fill="#5f5a56"/><circle cx="1388.4" cy="220.9" r="0.7" fill="#5f5a56"/><circle cx="1400.5" cy="41.9" r="0.6" fill="#5f5a56"/><circle cx="1279.0" cy="55.4" r="0.4" fill="#7a6f68"/><circle cx="1368.0" cy="60.2" r="0.3" fill="#5f5a56"/><circle cx="1326.5" cy="115.0" r="0.6" fill="#7a6f68"/><circle cx="1419.9" cy="278.6" r="0.3" fill="#7a6f68"/><circle cx="1408.9" cy="224.7" r="0.6" fill="#7a6f68"/><circle cx="1498.2" cy="143.0" r="0.7" fill="#8d8883"/><circle cx="1424.5" cy="239.7" r="0.4" fill="#5f5a56"/><circle cx="1431.5" cy="172.7" r="0.7" fill="#aaa5a0"/><circle cx="1373.8" cy="9.1" r="0.4" fill="#aaa5a0"/><circle cx="1367.4" cy="279.1" r="0.5" fill="#aaa5a0"/><circle cx="1265.1" cy="184.1" r="0.4" fill="#7a6f68"/><circle cx="1406.0" cy="174.7" r="0.4" fill="#7a6f68"/><circle cx="1449.3" cy="129.8" r="0.7" fill="#7a6f68"/><circle cx="1232.6" cy="77.6" r="0.5" fill="#7a6f68"/><circle cx="1491.5" cy="131.8" r="0.3" fill="#8d8883"/><circle cx="1413.5" cy="174.2" r="0.7" fill="#7a6f68"/><circle cx="1468.7" cy="209.6" r="0.4" fill="#7a6f68"/><circle cx="1490.5" cy="160.8" r="0.7" fill="#8d8883"/><circle cx="1418.7" cy="80.5" r="0.6" fill="#5f5a56"/><circle cx="1457.9" cy="244.3" r="0.6" fill="#aaa5a0"/><circle cx="1381.7" cy="167.4" r="0.4" fill="#5f5a56"/><circle cx="1332.0" cy="181.1" r="0.4" fill="#aaa5a0"/><circle cx="1333.6" cy="32.2" r="0.5" fill="#aaa5a0"/><circle cx="1432.4" cy="130.0" r="0.4" fill="#7a6f68"/><circle cx="1434.6" cy="63.2" r="0.6" fill="#7a6f68"/><circle cx="1334.1" cy="3.8" r="0.5" fill="#8d8883"/><circle cx="1493.7" cy="33.8" r="0.4" fill="#7a6f68"/><circle cx="1482.5" cy="88.3" r="0.6" fill="#8d8883"/><circle cx="1454.8" cy="180.2" r="0.3" fill="#5f5a56"/><circle cx="1379.0" cy="174.6" r="0.5" fill="#8d8883"/><circle cx="1419.3" cy="13.5" r="0.3" fill="#7a6f68"/><circle cx="1431.3" cy="47.2" r="0.7" fill="#7a6f68"/><circle cx="1382.8" cy="230.2" r="0.3" fill="#8d8883"/><circle cx="1291.7" cy="8.4" r="0.7" fill="#8d8883"/><circle cx="1477.7" cy="13.3" r="0.7" fill="#aaa5a0"/><circle cx="1411.0" cy="90.5" r="0.6" fill="#aaa5a0"/><circle cx="1359.4" cy="142.9" r="0.4" fill="#5f5a56"/><circle cx="1330.3" cy="152.3" r="0.3" fill="#5f5a56"/><circle cx="1402.0" cy="213.7" r="0.6" fill="#aaa5a0"/><circle cx="1395.2" cy="228.6" r="0.3" fill="#5f5a56"/><circle cx="1470.1" cy="119.0" r="0.5" fill="#aaa5a0"/><circle cx="1420.0" cy="54.4" r="0.5" fill="#7a6f68"/><circle cx="1334.4" cy="88.1" r="0.6" fill="#8d8883"/><circle cx="1362.2" cy="199.3" r="0.4" fill="#7a6f68"/><circle cx="1301.3" cy="124.6" r="0.4" fill="#7a6f68"/><circle cx="1435.8" cy="182.8" r="0.6" fill="#8d8883"/><circle cx="1319.6" cy="165.8" r="0.3" fill="#8d8883"/><circle cx="1241.8" cy="125.5" r="0.4" fill="#8d8883"/><circle cx="1284.5" cy="32.9" r="0.4" fill="#aaa5a0"/><circle cx="1300.2" cy="2.4" r="0.4" fill="#5f5a56"/><circle cx="1364.1" cy="138.7" r="0.5" fill="#8d8883"/><circle cx="1468.6" cy="237.3" r="0.7" fill="#aaa5a0"/><circle cx="1366.5" cy="106.3" r="0.4" fill="#7a6f68"/><circle cx="1326.0" cy="191.3" r="0.7" fill="#5f5a56"/><circle cx="1315.5" cy="109.2" r="0.6" fill="#5f5a56"/><circle cx="1246.9" cy="62.8" r="0.5" fill="#5f5a56"/><circle cx="1475.5" cy="86.1" r="0.4" fill="#8d8883"/><circle cx="1422.4" cy="244.5" r="0.5" fill="#aaa5a0"/><circle cx="1342.6" cy="267.1" r="0.3" fill="#aaa5a0"/><circle cx="1377.0" cy="192.8" r="0.4" fill="#8d8883"/><circle cx="1371.2" cy="270.3" r="0.6" fill="#5f5a56"/><circle cx="1297.0" cy="190.7" r="0.7" fill="#7a6f68"/><circle cx="1260.6" cy="194.4" r="0.7" fill="#8d8883"/><circle cx="1473.9" cy="227.8" r="0.3" fill="#5f5a56"/><circle cx="1435.1" cy="141.7" r="0.7" fill="#8d8883"/><circle cx="1293.0" cy="162.6" r="0.5" fill="#aaa5a0"/><circle cx="1397.1" cy="24.7" r="0.3" fill="#8d8883"/><circle cx="1443.4" cy="138.5" r="0.3" fill="#5f5a56"/><circle cx="1225.0" cy="71.1" r="0.6" fill="#8d8883"/><circle cx="1483.7" cy="155.2" r="0.5" fill="#aaa5a0"/><circle cx="1245.0" cy="97.0" r="0.5" fill="#7a6f68"/><circle cx="1452.4" cy="156.3" r="0.7" fill="#8d8883"/><circle cx="1407.9" cy="63.4" r="0.3" fill="#aaa5a0"/><circle cx="1345.7" cy="54.1" r="0.3" fill="#aaa5a0"/><circle cx="1439.2" cy="102.4" r="0.6" fill="#aaa5a0"/><circle cx="1308.3" cy="1.7" r="0.4" fill="#5f5a56"/><circle cx="1367.0" cy="264.0" r="0.6" fill="#7a6f68"/><circle cx="1358.3" cy="196.1" r="0.5" fill="#aaa5a0"/><circle cx="1365.0" cy="203.2" r="0.6" fill="#5f5a56"/><circle cx="1288.9" cy="42.9" r="0.6" fill="#8d8883"/><circle cx="1336.0" cy="154.6" r="0.7" fill="#8d8883"/><circle cx="1414.8" cy="16.2" r="0.4" fill="#8d8883"/><circle cx="1433.3" cy="22.9" r="0.4" fill="#8d8883"/><circle cx="1232.3" cy="37.5" r="0.5" fill="#8d8883"/><circle cx="1233.4" cy="121.3" r="0.6" fill="#8d8883"/><circle cx="1466.3" cy="273.7" r="0.6" fill="#aaa5a0"/><circle cx="1325.4" cy="230.4" r="0.5" fill="#7a6f68"/><circle cx="1252.6" cy="52.1" r="0.4" fill="#7a6f68"/><circle cx="1291.4" cy="213.4" r="0.5" fill="#aaa5a0"/><circle cx="1484.9" cy="264.8" r="0.6" fill="#8d8883"/><circle cx="1387.4" cy="60.3" r="0.3" fill="#8d8883"/><circle cx="1415.5" cy="255.3" r="0.5" fill="#5f5a56"/><circle cx="1461.0" cy="52.0" r="0.7" fill="#7a6f68"/><circle cx="1410.8" cy="250.0" r="0.4" fill="#aaa5a0"/><circle cx="1312.2" cy="235.9" r="0.5" fill="#aaa5a0"/><circle cx="1424.9" cy="4.8" r="0.4" fill="#7a6f68"/><circle cx="1251.5" cy="1.9" r="0.4" fill="#7a6f68"/><circle cx="1480.5" cy="152.0" r="0.6" fill="#7a6f68"/><circle cx="1317.1" cy="81.7" r="0.6" fill="#8d8883"/><circle cx="1312.0" cy="89.5" r="0.4" fill="#aaa5a0"/><circle cx="1314.4" cy="207.5" r="0.6" fill="#8d8883"/><circle cx="1406.6" cy="254.3" r="0.7" fill="#5f5a56"/><circle cx="1446.5" cy="144.5" r="0.3" fill="#5f5a56"/><circle cx="1301.0" cy="150.6" r="0.7" fill="#aaa5a0"/><circle cx="1421.4" cy="168.2" r="0.4" fill="#8d8883"/><circle cx="1231.7" cy="48.9" r="0.5" fill="#8d8883"/><circle cx="1480.6" cy="127.8" r="0.4" fill="#7a6f68"/><circle cx="1495.8" cy="183.1" r="0.3" fill="#aaa5a0"/><circle cx="1451.2" cy="275.6" r="0.5" fill="#aaa5a0"/><circle cx="1270.2" cy="73.9" r="0.4" fill="#5f5a56"/><circle cx="1389.0" cy="43.0" r="0.7" fill="#aaa5a0"/><circle cx="1420.3" cy="25.6" r="0.5" fill="#8d8883"/><circle cx="1333.2" cy="111.4" r="0.7" fill="#7a6f68"/><circle cx="1313.7" cy="104.7" r="0.6" fill="#7a6f68"/></g><path d="M1313.0,-5.0 C1281.0,-3.0 1316.0,1.2 1313.0,7.0 C1310.0,12.8 1300.0,21.5 1295.0,30.0 C1290.0,38.5 1286.5,48.0 1283.0,58.0 C1279.5,68.0 1276.8,80.7 1274.0,90.0 C1271.2,99.3 1265.7,107.0 1266.0,114.0 C1266.3,121.0 1270.5,124.3 1276.0,132.0 C1281.5,139.7 1293.7,152.7 1299.0,160.0 C1304.3,167.3 1304.5,169.7 1308.0,176.0 C1311.5,182.3 1311.7,189.3 1320.0,198.0 C1328.3,206.7 1349.3,221.0 1358.0,228.0 C1366.7,235.0 1367.3,239.7 1372.0,240.0 C1376.7,240.3 1379.0,231.7 1386.0,230.0 C1393.0,228.3 1408.3,227.0 1414.0,230.0 C1419.7,233.0 1413.7,245.0 1420.0,248.0 C1426.3,251.0 1442.7,251.0 1452.0,248.0 C1461.3,245.0 1467.2,235.0 1476.0,230.0 C1484.8,225.0 1500.2,257.2 1505.0,218.0 C1509.8,178.8 1537.0,32.2 1505.0,-5.0 C1473.0,-42.2 1345.0,-7.0 1313.0,-5.0 Z" fill="#c9432a"/><ellipse cx="1330" cy="118" rx="24" ry="14" fill="#8e1e12" opacity="0.55" filter="url(#blur5)"/><ellipse cx="1440" cy="42" rx="30" ry="20" fill="#c81e10" opacity="0.6" filter="url(#blur5)"/><ellipse cx="1470" cy="150" rx="26" ry="30" fill="#a52414" opacity="0.5" filter="url(#blur5)"/><ellipse cx="1360" cy="205" rx="22" ry="16" fill="#8e1e12" opacity="0.45" filter="url(#blur5)"/><ellipse cx="1415" cy="110" rx="40" ry="26" fill="#d0301c" opacity="0.5" filter="url(#blur5)"/><g transform="translate(1376.5 7.0) rotate(-8.0)"><polygon points="-37.4,-9.0 50.0,-9.0 37.4,9.0 -50.0,9.0" fill="url(#pen)"/><line x1="-38.7" y1="-7.2" x2="48.7" y2="-7.2" stroke="#9a5028" stroke-width="0.55" opacity="0.45"/><line x1="-39.9" y1="-5.4" x2="47.5" y2="-5.4" stroke="#9a5028" stroke-width="0.55" opacity="0.45"/><line x1="-41.2" y1="-3.6" x2="46.2" y2="-3.6" stroke="#9a5028" stroke-width="0.55" opacity="0.45"/><line x1="-42.4" y1="-1.8" x2="45.0" y2="-1.8" stroke="#9a5028" stroke-width="0.55" opacity="0.45"/><line x1="-43.7" y1="0.0" x2="43.7" y2="0.0" stroke="#9a5028" stroke-width="0.55" opacity="0.45"/><line x1="-45.0" y1="1.8" x2="42.4" y2="1.8" stroke="#9a5028" stroke-width="0.55" opacity="0.45"/><line x1="-46.2" y1="3.6" x2="41.2" y2="3.6" stroke="#9a5028" stroke-width="0.55" opacity="0.45"/><line x1="-47.5" y1="5.4" x2="39.9" y2="5.4" stroke="#9a5028" stroke-width="0.55" opacity="0.45"/><line x1="-48.7" y1="7.2" x2="38.7" y2="7.2" stroke="#9a5028" stroke-width="0.55" opacity="0.45"/><ellipse cx="-18.0" cy="-0.7" rx="22.0" ry="5.4" fill="#d2381c" opacity="0.3" filter="url(#blur1)"/><ellipse cx="-42.7" cy="0" rx="4.5" ry="5.0" fill="#9a2a14" opacity="0.8"/></g><g transform="translate(1487.0 35.0) rotate(59.0)"><polygon points="-15.2,-10.0 29.2,-10.0 15.2,10.0 -29.2,10.0" fill="url(#pen)"/><line x1="-16.4" y1="-8.2" x2="27.9" y2="-8.2" stroke="#9a5028" stroke-width="0.55" opacity="0.45"/><line x1="-17.7" y1="-6.4" x2="26.6" y2="-6.4" stroke="#9a5028" stroke-width="0.55" opacity="0.45"/><line x1="-19.0" y1="-4.5" x2="25.3" y2="-4.5" stroke="#9a5028" stroke-width="0.55" opacity="0.45"/><line x1="-20.2" y1="-2.7" x2="24.1" y2="-2.7" stroke="#9a5028" stroke-width="0.55" opacity="0.45"/><line x1="-21.5" y1="-0.9" x2="22.8" y2="-0.9" stroke="#9a5028" stroke-width="0.55" opacity="0.45"/><line x1="-22.8" y1="0.9" x2="21.5" y2="0.9" stroke="#9a5028" stroke-width="0.55" opacity="0.45"/><line x1="-24.1" y1="2.7" x2="20.2" y2="2.7" stroke="#9a5028" stroke-width="0.55" opacity="0.45"/><line x1="-25.3" y1="4.5" x2="19.0" y2="4.5" stroke="#9a5028" stroke-width="0.55" opacity="0.45"/><line x1="-26.6" y1="6.4" x2="17.7" y2="6.4" stroke="#9a5028" stroke-width="0.55" opacity="0.45"/><line x1="-27.9" y1="8.2" x2="16.4" y2="8.2" stroke="#9a5028" stroke-width="0.55" opacity="0.45"/><ellipse cx="-10.2" cy="2.3" rx="12.8" ry="6.0" fill="#d2381c" opacity="0.3" filter="url(#blur1)"/><ellipse cx="-21.2" cy="0" rx="5.0" ry="5.6" fill="#9a2a14" opacity="0.8"/></g><g transform="translate(1420.0 30.0) rotate(-18.4)"><polygon points="-20.4,-8.0 31.6,-8.0 20.4,8.0 -31.6,8.0" fill="url(#pen)"/><line x1="-21.8" y1="-6.0" x2="30.2" y2="-6.0" stroke="#9a5028" stroke-width="0.55" opacity="0.45"/><line x1="-23.2" y1="-4.0" x2="28.8" y2="-4.0" stroke="#9a5028" stroke-width="0.55" opacity="0.45"/><line x1="-24.6" y1="-2.0" x2="27.4" y2="-2.0" stroke="#9a5028" stroke-width="0.55" opacity="0.45"/><line x1="-26.0" y1="0.0" x2="26.0" y2="0.0" stroke="#9a5028" stroke-width="0.55" opacity="0.45"/><line x1="-27.4" y1="2.0" x2="24.6" y2="2.0" stroke="#9a5028" stroke-width="0.55" opacity="0.45"/><line x1="-28.8" y1="4.0" x2="23.2" y2="4.0" stroke="#9a5028" stroke-width="0.55" opacity="0.45"/><line x1="-30.2" y1="6.0" x2="21.8" y2="6.0" stroke="#9a5028" stroke-width="0.55" opacity="0.45"/><ellipse cx="-2.9" cy="-2.1" rx="13.9" ry="4.8" fill="#d2381c" opacity="0.35" filter="url(#blur1)"/><ellipse cx="-25.0" cy="0" rx="4.0" ry="4.5" fill="#9a2a14" opacity="0.8"/></g><g transform="translate(1435.0 50.0) rotate(-15.9)"><polygon points="-25.9,-7.5 36.4,-7.5 25.9,7.5 -36.4,7.5" fill="url(#pen)"/><line x1="-27.2" y1="-5.6" x2="35.1" y2="-5.6" stroke="#9a5028" stroke-width="0.55" opacity="0.45"/><line x1="-28.5" y1="-3.8" x2="33.8" y2="-3.8" stroke="#9a5028" stroke-width="0.55" opacity="0.45"/><line x1="-29.8" y1="-1.9" x2="32.5" y2="-1.9" stroke="#9a5028" stroke-width="0.55" opacity="0.45"/><line x1="-31.2" y1="0.0" x2="31.2" y2="0.0" stroke="#9a5028" stroke-width="0.55" opacity="0.45"/><line x1="-32.5" y1="1.9" x2="29.8" y2="1.9" stroke="#9a5028" stroke-width="0.55" opacity="0.45"/><line x1="-33.8" y1="3.8" x2="28.5" y2="3.8" stroke="#9a5028" stroke-width="0.55" opacity="0.45"/><line x1="-35.1" y1="5.6" x2="27.2" y2="5.6" stroke="#9a5028" stroke-width="0.55" opacity="0.45"/><ellipse cx="0.3" cy="-1.2" rx="16.0" ry="4.5" fill="#d2381c" opacity="0.4" filter="url(#blur1)"/><ellipse cx="-30.2" cy="0" rx="3.8" ry="4.2" fill="#9a2a14" opacity="0.8"/></g><g transform="translate(1370.0 95.0) rotate(-26.6)"><polygon points="-22.3,-8.0 33.5,-8.0 22.3,8.0 -33.5,8.0" fill="url(#pen)"/><line x1="-23.7" y1="-6.0" x2="32.1" y2="-6.0" stroke="#9a5028" stroke-width="0.55" opacity="0.45"/><line x1="-25.1" y1="-4.0" x2="30.7" y2="-4.0" stroke="#9a5028" stroke-width="0.55" opacity="0.45"/><line x1="-26.5" y1="-2.0" x2="29.3" y2="-2.0" stroke="#9a5028" stroke-width="0.55" opacity="0.45"/><line x1="-27.9" y1="0.0" x2="27.9" y2="0.0" stroke="#9a5028" stroke-width="0.55" opacity="0.45"/><line x1="-29.3" y1="2.0" x2="26.5" y2="2.0" stroke="#9a5028" stroke-width="0.55" opacity="0.45"/><line x1="-30.7" y1="4.0" x2="25.1" y2="4.0" stroke="#9a5028" stroke-width="0.55" opacity="0.45"/><line x1="-32.1" y1="6.0" x2="23.7" y2="6.0" stroke="#9a5028" stroke-width="0.55" opacity="0.45"/><ellipse cx="2.6" cy="1.5" rx="14.8" ry="4.8" fill="#d2381c" opacity="0.25" filter="url(#blur1)"/><ellipse cx="-26.9" cy="0" rx="4.0" ry="4.5" fill="#9a2a14" opacity="0.8"/></g><g transform="translate(1386.0 98.0) rotate(3.4)"><polygon points="-23.6,-7.5 34.1,-7.5 23.6,7.5 -34.1,7.5" fill="url(#pen)"/><line x1="-24.9" y1="-5.6" x2="32.7" y2="-5.6" stroke="#9a5028" stroke-width="0.55" opacity="0.45"/><line x1="-26.2" y1="-3.8" x2="31.4" y2="-3.8" stroke="#9a5028" stroke-width="0.55" opacity="0.45"/><line x1="-27.5" y1="-1.9" x2="30.1" y2="-1.9" stroke="#9a5028" stroke-width="0.55" opacity="0.45"/><line x1="-28.8" y1="0.0" x2="28.8" y2="0.0" stroke="#9a5028" stroke-width="0.55" opacity="0.45"/><line x1="-30.1" y1="1.9" x2="27.5" y2="1.9" stroke="#9a5028" stroke-width="0.55" opacity="0.45"/><line x1="-31.4" y1="3.8" x2="26.2" y2="3.8" stroke="#9a5028" stroke-width="0.55" opacity="0.45"/><line x1="-32.7" y1="5.6" x2="24.9" y2="5.6" stroke="#9a5028" stroke-width="0.55" opacity="0.45"/><ellipse cx="1.9" cy="1.5" rx="15.0" ry="4.5" fill="#d2381c" opacity="0.25" filter="url(#blur1)"/><ellipse cx="-27.8" cy="0" rx="3.8" ry="4.2" fill="#9a2a14" opacity="0.8"/></g><g transform="translate(1465.0 106.5) rotate(-18.2)"><polygon points="-25.6,-8.0 36.8,-8.0 25.6,8.0 -36.8,8.0" fill="url(#pen)"/><line x1="-27.0" y1="-6.0" x2="35.4" y2="-6.0" stroke="#9a5028" stroke-width="0.55" opacity="0.45"/><line x1="-28.4" y1="-4.0" x2="34.0" y2="-4.0" stroke="#9a5028" stroke-width="0.55" opacity="0.45"/><line x1="-29.8" y1="-2.0" x2="32.6" y2="-2.0" stroke="#9a5028" stroke-width="0.55" opacity="0.45"/><line x1="-31.2" y1="0.0" x2="31.2" y2="0.0" stroke="#9a5028" stroke-width="0.55" opacity="0.45"/><line x1="-32.6" y1="2.0" x2="29.8" y2="2.0" stroke="#9a5028" stroke-width="0.55" opacity="0.45"/><line x1="-34.0" y1="4.0" x2="28.4" y2="4.0" stroke="#9a5028" stroke-width="0.55" opacity="0.45"/><line x1="-35.4" y1="6.0" x2="27.0" y2="6.0" stroke="#9a5028" stroke-width="0.55" opacity="0.45"/><ellipse cx="3.0" cy="1.4" rx="16.2" ry="4.8" fill="#d2381c" opacity="0.3" filter="url(#blur1)"/><ellipse cx="-30.2" cy="0" rx="4.0" ry="4.5" fill="#9a2a14" opacity="0.8"/></g><g transform="translate(1474.0 155.0) rotate(-28.2)"><polygon points="-20.6,-8.0 31.8,-8.0 20.6,8.0 -31.8,8.0" fill="url(#pen)"/><line x1="-22.0" y1="-6.0" x2="30.4" y2="-6.0" stroke="#9a5028" stroke-width="0.55" opacity="0.45"/><line x1="-23.4" y1="-4.0" x2="29.0" y2="-4.0" stroke="#9a5028" stroke-width="0.55" opacity="0.45"/><line x1="-24.8" y1="-2.0" x2="27.6" y2="-2.0" stroke="#9a5028" stroke-width="0.55" opacity="0.45"/><line x1="-26.2" y1="0.0" x2="26.2" y2="0.0" stroke="#9a5028" stroke-width="0.55" opacity="0.45"/><line x1="-27.6" y1="2.0" x2="24.8" y2="2.0" stroke="#9a5028" stroke-width="0.55" opacity="0.45"/><line x1="-29.0" y1="4.0" x2="23.4" y2="4.0" stroke="#9a5028" stroke-width="0.55" opacity="0.45"/><line x1="-30.4" y1="6.0" x2="22.0" y2="6.0" stroke="#9a5028" stroke-width="0.55" opacity="0.45"/><ellipse cx="-2.6" cy="0.9" rx="14.0" ry="4.8" fill="#d2381c" opacity="0.3" filter="url(#blur1)"/><ellipse cx="-25.2" cy="0" rx="4.0" ry="4.5" fill="#9a2a14" opacity="0.8"/></g><g transform="translate(1297.5 65.0) rotate(-47.4)"><polygon points="-28.8,-9.5 42.1,-9.5 28.8,9.5 -42.1,9.5" fill="url(#pen)"/><line x1="-30.1" y1="-7.6" x2="40.8" y2="-7.6" stroke="#9a5028" stroke-width="0.55" opacity="0.45"/><line x1="-31.5" y1="-5.7" x2="39.4" y2="-5.7" stroke="#9a5028" stroke-width="0.55" opacity="0.45"/><line x1="-32.8" y1="-3.8" x2="38.1" y2="-3.8" stroke="#9a5028" stroke-width="0.55" opacity="0.45"/><line x1="-34.1" y1="-1.9" x2="36.8" y2="-1.9" stroke="#9a5028" stroke-width="0.55" opacity="0.45"/><line x1="-35.5" y1="0.0" x2="35.5" y2="0.0" stroke="#9a5028" stroke-width="0.55" opacity="0.45"/><line x1="-36.8" y1="1.9" x2="34.1" y2="1.9" stroke="#9a5028" stroke-width="0.55" opacity="0.45"/><line x1="-38.1" y1="3.8" x2="32.8" y2="3.8" stroke="#9a5028" stroke-width="0.55" opacity="0.45"/><line x1="-39.4" y1="5.7" x2="31.5" y2="5.7" stroke="#9a5028" stroke-width="0.55" opacity="0.45"/><line x1="-40.8" y1="7.6" x2="30.1" y2="7.6" stroke="#9a5028" stroke-width="0.55" opacity="0.45"/><ellipse cx="-5.9" cy="1.3" rx="18.5" ry="5.7" fill="#d2381c" opacity="0.3" filter="url(#blur1)"/><ellipse cx="-34.5" cy="0" rx="4.8" ry="5.3" fill="#9a2a14" opacity="0.8"/></g><g transform="translate(1313.5 67.0) rotate(-45.8)"><polygon points="-16.0,-7.5 26.5,-7.5 16.0,7.5 -26.5,7.5" fill="url(#pen)"/><line x1="-17.3" y1="-5.6" x2="25.2" y2="-5.6" stroke="#9a5028" stroke-width="0.55" opacity="0.45"/><line x1="-18.6" y1="-3.8" x2="23.9" y2="-3.8" stroke="#9a5028" stroke-width="0.55" opacity="0.45"/><line x1="-20.0" y1="-1.9" x2="22.6" y2="-1.9" stroke="#9a5028" stroke-width="0.55" opacity="0.45"/><line x1="-21.3" y1="0.0" x2="21.3" y2="0.0" stroke="#9a5028" stroke-width="0.55" opacity="0.45"/><line x1="-22.6" y1="1.9" x2="20.0" y2="1.9" stroke="#9a5028" stroke-width="0.55" opacity="0.45"/><line x1="-23.9" y1="3.8" x2="18.6" y2="3.8" stroke="#9a5028" stroke-width="0.55" opacity="0.45"/><line x1="-25.2" y1="5.6" x2="17.3" y2="5.6" stroke="#9a5028" stroke-width="0.55" opacity="0.45"/><ellipse cx="7.9" cy="-0.9" rx="11.7" ry="4.5" fill="#d2381c" opacity="0.35" filter="url(#blur1)"/><ellipse cx="-20.3" cy="0" rx="3.8" ry="4.2" fill="#9a2a14" opacity="0.8"/></g><g transform="translate(1299.0 110.0) rotate(-10.2)"><polygon points="-25.6,-10.0 39.6,-10.0 25.6,10.0 -39.6,10.0" fill="url(#pen)"/><line x1="-26.9" y1="-8.2" x2="38.4" y2="-8.2" stroke="#9a5028" stroke-width="0.55" opacity="0.45"/><line x1="-28.2" y1="-6.4" x2="37.1" y2="-6.4" stroke="#9a5028" stroke-width="0.55" opacity="0.45"/><line x1="-29.4" y1="-4.5" x2="35.8" y2="-4.5" stroke="#9a5028" stroke-width="0.55" opacity="0.45"/><line x1="-30.7" y1="-2.7" x2="34.5" y2="-2.7" stroke="#9a5028" stroke-width="0.55" opacity="0.45"/><line x1="-32.0" y1="-0.9" x2="33.3" y2="-0.9" stroke="#9a5028" stroke-width="0.55" opacity="0.45"/><line x1="-33.3" y1="0.9" x2="32.0" y2="0.9" stroke="#9a5028" stroke-width="0.55" opacity="0.45"/><line x1="-34.5" y1="2.7" x2="30.7" y2="2.7" stroke="#9a5028" stroke-width="0.55" opacity="0.45"/><line x1="-35.8" y1="4.5" x2="29.4" y2="4.5" stroke="#9a5028" stroke-width="0.55" opacity="0.45"/><line x1="-37.1" y1="6.4" x2="28.2" y2="6.4" stroke="#9a5028" stroke-width="0.55" opacity="0.45"/><line x1="-38.4" y1="8.2" x2="26.9" y2="8.2" stroke="#9a5028" stroke-width="0.55" opacity="0.45"/><ellipse cx="-0.5" cy="-0.4" rx="17.4" ry="6.0" fill="#d2381c" opacity="0.3" filter="url(#blur1)"/><ellipse cx="-31.6" cy="0" rx="5.0" ry="5.6" fill="#9a2a14" opacity="0.8"/></g><g transform="translate(1317.0 98.0) rotate(-25.6)"><polygon points="-17.2,-7.5 27.7,-7.5 17.2,7.5 -27.7,7.5" fill="url(#pen)"/><line x1="-18.5" y1="-5.6" x2="26.4" y2="-5.6" stroke="#9a5028" stroke-width="0.55" opacity="0.45"/><line x1="-19.9" y1="-3.8" x2="25.1" y2="-3.8" stroke="#9a5028" stroke-width="0.55" opacity="0.45"/><line x1="-21.2" y1="-1.9" x2="23.8" y2="-1.9" stroke="#9a5028" stroke-width="0.55" opacity="0.45"/><line x1="-22.5" y1="0.0" x2="22.5" y2="0.0" stroke="#9a5028" stroke-width="0.55" opacity="0.45"/><line x1="-23.8" y1="1.9" x2="21.2" y2="1.9" stroke="#9a5028" stroke-width="0.55" opacity="0.45"/><line x1="-25.1" y1="3.8" x2="19.9" y2="3.8" stroke="#9a5028" stroke-width="0.55" opacity="0.45"/><line x1="-26.4" y1="5.6" x2="18.5" y2="5.6" stroke="#9a5028" stroke-width="0.55" opacity="0.45"/><ellipse cx="-8.0" cy="-0.7" rx="12.2" ry="4.5" fill="#d2381c" opacity="0.35" filter="url(#blur1)"/><ellipse cx="-21.5" cy="0" rx="3.8" ry="4.2" fill="#9a2a14" opacity="0.8"/></g><g transform="translate(1327.5 189.0) rotate(59.3)"><polygon points="-4.6,-10.0 18.6,-10.0 4.6,10.0 -18.6,10.0" fill="url(#pen)"/><line x1="-5.9" y1="-8.2" x2="17.3" y2="-8.2" stroke="#9a5028" stroke-width="0.55" opacity="0.45"/><line x1="-7.2" y1="-6.4" x2="16.1" y2="-6.4" stroke="#9a5028" stroke-width="0.55" opacity="0.45"/><line x1="-8.4" y1="-4.5" x2="14.8" y2="-4.5" stroke="#9a5028" stroke-width="0.55" opacity="0.45"/><line x1="-9.7" y1="-2.7" x2="13.5" y2="-2.7" stroke="#9a5028" stroke-width="0.55" opacity="0.45"/><line x1="-11.0" y1="-0.9" x2="12.2" y2="-0.9" stroke="#9a5028" stroke-width="0.55" opacity="0.45"/><line x1="-12.2" y1="0.9" x2="11.0" y2="0.9" stroke="#9a5028" stroke-width="0.55" opacity="0.45"/><line x1="-13.5" y1="2.7" x2="9.7" y2="2.7" stroke="#9a5028" stroke-width="0.55" opacity="0.45"/><line x1="-14.8" y1="4.5" x2="8.4" y2="4.5" stroke="#9a5028" stroke-width="0.55" opacity="0.45"/><line x1="-16.1" y1="6.4" x2="7.2" y2="6.4" stroke="#9a5028" stroke-width="0.55" opacity="0.45"/><line x1="-17.3" y1="8.2" x2="5.9" y2="8.2" stroke="#9a5028" stroke-width="0.55" opacity="0.45"/><ellipse cx="-2.1" cy="2.1" rx="8.2" ry="6.0" fill="#d2381c" opacity="0.3" filter="url(#blur1)"/><ellipse cx="-10.6" cy="0" rx="5.0" ry="5.6" fill="#9a2a14" opacity="0.8"/></g><g transform="translate(1367.0 212.5) rotate(78.8)"><polygon points="-23.6,-9.0 36.2,-9.0 23.6,9.0 -36.2,9.0" fill="url(#pen)"/><line x1="-24.8" y1="-7.2" x2="34.9" y2="-7.2" stroke="#9a5028" stroke-width="0.55" opacity="0.45"/><line x1="-26.1" y1="-5.4" x2="33.7" y2="-5.4" stroke="#9a5028" stroke-width="0.55" opacity="0.45"/><line x1="-27.4" y1="-3.6" x2="32.4" y2="-3.6" stroke="#9a5028" stroke-width="0.55" opacity="0.45"/><line x1="-28.6" y1="-1.8" x2="31.1" y2="-1.8" stroke="#9a5028" stroke-width="0.55" opacity="0.45"/><line x1="-29.9" y1="0.0" x2="29.9" y2="0.0" stroke="#9a5028" stroke-width="0.55" opacity="0.45"/><line x1="-31.1" y1="1.8" x2="28.6" y2="1.8" stroke="#9a5028" stroke-width="0.55" opacity="0.45"/><line x1="-32.4" y1="3.6" x2="27.4" y2="3.6" stroke="#9a5028" stroke-width="0.55" opacity="0.45"/><line x1="-33.7" y1="5.4" x2="26.1" y2="5.4" stroke="#9a5028" stroke-width="0.55" opacity="0.45"/><line x1="-34.9" y1="7.2" x2="24.8" y2="7.2" stroke="#9a5028" stroke-width="0.55" opacity="0.45"/><ellipse cx="5.8" cy="-2.0" rx="15.9" ry="5.4" fill="#d2381c" opacity="0.25" filter="url(#blur1)"/><ellipse cx="-28.9" cy="0" rx="4.5" ry="5.0" fill="#9a2a14" opacity="0.8"/></g><g transform="translate(1454.0 227.5) rotate(-35.9)"><polygon points="-28.7,-13.0 46.9,-13.0 28.7,13.0 -46.9,13.0" fill="url(#pen)"/><line x1="-30.0" y1="-11.1" x2="45.6" y2="-11.1" stroke="#9a5028" stroke-width="0.55" opacity="0.45"/><line x1="-31.3" y1="-9.3" x2="44.3" y2="-9.3" stroke="#9a5028" stroke-width="0.55" opacity="0.45"/><line x1="-32.6" y1="-7.4" x2="43.0" y2="-7.4" stroke="#9a5028" stroke-width="0.55" opacity="0.45"/><line x1="-33.9" y1="-5.6" x2="41.7" y2="-5.6" stroke="#9a5028" stroke-width="0.55" opacity="0.45"/><line x1="-35.2" y1="-3.7" x2="40.4" y2="-3.7" stroke="#9a5028" stroke-width="0.55" opacity="0.45"/><line x1="-36.5" y1="-1.9" x2="39.1" y2="-1.9" stroke="#9a5028" stroke-width="0.55" opacity="0.45"/><line x1="-37.8" y1="0.0" x2="37.8" y2="0.0" stroke="#9a5028" stroke-width="0.55" opacity="0.45"/><line x1="-39.1" y1="1.9" x2="36.5" y2="1.9" stroke="#9a5028" stroke-width="0.55" opacity="0.45"/><line x1="-40.4" y1="3.7" x2="35.2" y2="3.7" stroke="#9a5028" stroke-width="0.55" opacity="0.45"/><line x1="-41.7" y1="5.6" x2="33.9" y2="5.6" stroke="#9a5028" stroke-width="0.55" opacity="0.45"/><line x1="-43.0" y1="7.4" x2="32.6" y2="7.4" stroke="#9a5028" stroke-width="0.55" opacity="0.45"/><line x1="-44.3" y1="9.3" x2="31.3" y2="9.3" stroke="#9a5028" stroke-width="0.55" opacity="0.45"/><line x1="-45.6" y1="11.1" x2="30.0" y2="11.1" stroke="#9a5028" stroke-width="0.55" opacity="0.45"/><ellipse cx="-13.2" cy="-1.8" rx="20.6" ry="7.8" fill="#d2381c" opacity="0.25" filter="url(#blur1)"/><ellipse cx="-36.8" cy="0" rx="6.6" ry="7.3" fill="#9a2a14" opacity="0.8"/></g><g transform="translate(1460.5 152.5) rotate(19.2)"><polygon points="-12.3,-7.5 22.8,-7.5 12.3,7.5 -22.8,7.5" fill="url(#pen)"/><line x1="-13.6" y1="-5.6" x2="21.5" y2="-5.6" stroke="#9a5028" stroke-width="0.55" opacity="0.45"/><line x1="-14.9" y1="-3.8" x2="20.1" y2="-3.8" stroke="#9a5028" stroke-width="0.55" opacity="0.45"/><line x1="-16.2" y1="-1.9" x2="18.8" y2="-1.9" stroke="#9a5028" stroke-width="0.55" opacity="0.45"/><line x1="-17.5" y1="0.0" x2="17.5" y2="0.0" stroke="#9a5028" stroke-width="0.55" opacity="0.45"/><line x1="-18.8" y1="1.9" x2="16.2" y2="1.9" stroke="#9a5028" stroke-width="0.55" opacity="0.45"/><line x1="-20.1" y1="3.8" x2="14.9" y2="3.8" stroke="#9a5028" stroke-width="0.55" opacity="0.45"/><line x1="-21.5" y1="5.6" x2="13.6" y2="5.6" stroke="#9a5028" stroke-width="0.55" opacity="0.45"/><ellipse cx="1.8" cy="-1.2" rx="10.0" ry="4.5" fill="#d2381c" opacity="0.35" filter="url(#blur1)"/><ellipse cx="-16.5" cy="0" rx="3.8" ry="4.2" fill="#9a2a14" opacity="0.8"/></g><g transform="translate(1429.5 210.0) rotate(-20.0)"><polygon points="-6.4,-8.0 17.6,-8.0 6.4,8.0 -17.6,8.0" fill="url(#pen)"/><line x1="-7.8" y1="-6.0" x2="16.2" y2="-6.0" stroke="#9a5028" stroke-width="0.55" opacity="0.45"/><line x1="-9.2" y1="-4.0" x2="14.8" y2="-4.0" stroke="#9a5028" stroke-width="0.55" opacity="0.45"/><line x1="-10.6" y1="-2.0" x2="13.4" y2="-2.0" stroke="#9a5028" stroke-width="0.55" opacity="0.45"/><line x1="-12.0" y1="0.0" x2="12.0" y2="0.0" stroke="#9a5028" stroke-width="0.55" opacity="0.45"/><line x1="-13.4" y1="2.0" x2="10.6" y2="2.0" stroke="#9a5028" stroke-width="0.55" opacity="0.45"/><line x1="-14.8" y1="4.0" x2="9.2" y2="4.0" stroke="#9a5028" stroke-width="0.55" opacity="0.45"/><line x1="-16.2" y1="6.0" x2="7.8" y2="6.0" stroke="#9a5028" stroke-width="0.55" opacity="0.45"/><ellipse cx="-4.9" cy="0.7" rx="7.7" ry="4.8" fill="#d2381c" opacity="0.3" filter="url(#blur1)"/><ellipse cx="-11.0" cy="0" rx="4.0" ry="4.5" fill="#9a2a14" opacity="0.8"/></g><g transform="translate(1476.0 201.5) rotate(-27.4)"><polygon points="-16.7,-9.0 29.3,-9.0 16.7,9.0 -29.3,9.0" fill="url(#pen)"/><line x1="-18.0" y1="-7.2" x2="28.0" y2="-7.2" stroke="#9a5028" stroke-width="0.55" opacity="0.45"/><line x1="-19.2" y1="-5.4" x2="26.8" y2="-5.4" stroke="#9a5028" stroke-width="0.55" opacity="0.45"/><line x1="-20.5" y1="-3.6" x2="25.5" y2="-3.6" stroke="#9a5028" stroke-width="0.55" opacity="0.45"/><line x1="-21.7" y1="-1.8" x2="24.3" y2="-1.8" stroke="#9a5028" stroke-width="0.55" opacity="0.45"/><line x1="-23.0" y1="0.0" x2="23.0" y2="0.0" stroke="#9a5028" stroke-width="0.55" opacity="0.45"/><line x1="-24.3" y1="1.8" x2="21.7" y2="1.8" stroke="#9a5028" stroke-width="0.55" opacity="0.45"/><line x1="-25.5" y1="3.6" x2="20.5" y2="3.6" stroke="#9a5028" stroke-width="0.55" opacity="0.45"/><line x1="-26.8" y1="5.4" x2="19.2" y2="5.4" stroke="#9a5028" stroke-width="0.55" opacity="0.45"/><line x1="-28.0" y1="7.2" x2="18.0" y2="7.2" stroke="#9a5028" stroke-width="0.55" opacity="0.45"/><ellipse cx="-3.3" cy="-0.1" rx="12.9" ry="5.4" fill="#d2381c" opacity="0.3" filter="url(#blur1)"/><ellipse cx="-22.0" cy="0" rx="4.5" ry="5.0" fill="#9a2a14" opacity="0.8"/></g><g transform="translate(1402.0 75.0) rotate(15.5)"><polygon points="-8.9,-7.0 18.7,-7.0 8.9,7.0 -18.7,7.0" fill="url(#pen)"/><line x1="-10.3" y1="-5.0" x2="17.3" y2="-5.0" stroke="#9a5028" stroke-width="0.55" opacity="0.45"/><line x1="-11.7" y1="-3.0" x2="15.9" y2="-3.0" stroke="#9a5028" stroke-width="0.55" opacity="0.45"/><line x1="-13.1" y1="-1.0" x2="14.5" y2="-1.0" stroke="#9a5028" stroke-width="0.55" opacity="0.45"/><line x1="-14.5" y1="1.0" x2="13.1" y2="1.0" stroke="#9a5028" stroke-width="0.55" opacity="0.45"/><line x1="-15.9" y1="3.0" x2="11.7" y2="3.0" stroke="#9a5028" stroke-width="0.55" opacity="0.45"/><line x1="-17.3" y1="5.0" x2="10.3" y2="5.0" stroke="#9a5028" stroke-width="0.55" opacity="0.45"/><ellipse cx="4.6" cy="1.9" rx="8.2" ry="4.2" fill="#d2381c" opacity="0.4" filter="url(#blur1)"/><ellipse cx="-12.8" cy="0" rx="3.5" ry="3.9" fill="#9a2a14" opacity="0.8"/></g><g transform="translate(1356.0 145.0) rotate(17.4)"><polygon points="-7.0,-7.0 16.8,-7.0 7.0,7.0 -16.8,7.0" fill="url(#pen)"/><line x1="-8.4" y1="-5.0" x2="15.4" y2="-5.0" stroke="#9a5028" stroke-width="0.55" opacity="0.45"/><line x1="-9.8" y1="-3.0" x2="14.0" y2="-3.0" stroke="#9a5028" stroke-width="0.55" opacity="0.45"/><line x1="-11.2" y1="-1.0" x2="12.6" y2="-1.0" stroke="#9a5028" stroke-width="0.55" opacity="0.45"/><line x1="-12.6" y1="1.0" x2="11.2" y2="1.0" stroke="#9a5028" stroke-width="0.55" opacity="0.45"/><line x1="-14.0" y1="3.0" x2="9.8" y2="3.0" stroke="#9a5028" stroke-width="0.55" opacity="0.45"/><line x1="-15.4" y1="5.0" x2="8.4" y2="5.0" stroke="#9a5028" stroke-width="0.55" opacity="0.45"/><ellipse cx="2.6" cy="0.9" rx="7.4" ry="4.2" fill="#d2381c" opacity="0.4" filter="url(#blur1)"/><ellipse cx="-10.9" cy="0" rx="3.5" ry="3.9" fill="#9a2a14" opacity="0.8"/></g><g transform="translate(1323.0 143.0) rotate(-22.4)"><polygon points="-8.6,-7.0 18.4,-7.0 8.6,7.0 -18.4,7.0" fill="url(#pen)"/><line x1="-10.0" y1="-5.0" x2="17.0" y2="-5.0" stroke="#9a5028" stroke-width="0.55" opacity="0.45"/><line x1="-11.4" y1="-3.0" x2="15.6" y2="-3.0" stroke="#9a5028" stroke-width="0.55" opacity="0.45"/><line x1="-12.8" y1="-1.0" x2="14.2" y2="-1.0" stroke="#9a5028" stroke-width="0.55" opacity="0.45"/><line x1="-14.2" y1="1.0" x2="12.8" y2="1.0" stroke="#9a5028" stroke-width="0.55" opacity="0.45"/><line x1="-15.6" y1="3.0" x2="11.4" y2="3.0" stroke="#9a5028" stroke-width="0.55" opacity="0.45"/><line x1="-17.0" y1="5.0" x2="10.0" y2="5.0" stroke="#9a5028" stroke-width="0.55" opacity="0.45"/><ellipse cx="1.6" cy="0.2" rx="8.1" ry="4.2" fill="#d2381c" opacity="0.35" filter="url(#blur1)"/><ellipse cx="-12.5" cy="0" rx="3.5" ry="3.9" fill="#9a2a14" opacity="0.8"/></g><ellipse cx="1346" cy="56" rx="19" ry="20" transform="rotate(0 1346 56)" fill="url(#tom)"/><ellipse cx="1316" cy="146" rx="21" ry="15" transform="rotate(-10 1316 146)" fill="url(#tom)"/><ellipse cx="1394" cy="212" rx="20" ry="21" transform="rotate(-10 1394 212)" fill="url(#tom)"/><ellipse cx="1448" cy="13" rx="24" ry="14" transform="rotate(0 1448 13)" fill="url(#tom)"/><ellipse cx="1455" cy="82" rx="16" ry="17" transform="rotate(0 1455 82)" fill="url(#tom)"/><ellipse cx="1429" cy="133" rx="22" ry="16" transform="rotate(0 1429 133)" fill="url(#tom)"/><ellipse cx="1367" cy="169" rx="16" ry="8" transform="rotate(0 1367 169)" fill="url(#tom)"/><ellipse cx="1388" cy="204" rx="3" ry="2" fill="#ffe0d8" opacity="0.8"/><ellipse cx="1340" cy="48" rx="3" ry="2" fill="#ffd8cc" opacity="0.6"/><ellipse cx="1322.2" cy="149.9" rx="1.8" ry="1" fill="#f3cf8a" transform="rotate(41.7 1322.2 149.9)"/><ellipse cx="1317.5" cy="149.8" rx="1.8" ry="1" fill="#f3cf8a" transform="rotate(74.9 1317.5 149.8)"/><ellipse cx="1313.2" cy="151.2" rx="1.8" ry="1" fill="#f3cf8a" transform="rotate(110.8 1313.2 151.2)"/><ellipse cx="1320.1" cy="143.8" rx="1.8" ry="1" fill="#f3cf8a" transform="rotate(322.8 1320.1 143.8)"/><ellipse cx="1311.9" cy="148.6" rx="1.8" ry="1" fill="#f3cf8a" transform="rotate(137.2 1311.9 148.6)"/><ellipse cx="1317.8" cy="142.1" rx="1.8" ry="1" fill="#f3cf8a" transform="rotate(287.5 1317.8 142.1)"/><ellipse cx="1309.0" cy="147.1" rx="1.8" ry="1" fill="#f3cf8a" transform="rotate(166.9 1309.0 147.1)"/><ellipse cx="1312.1" cy="144.1" rx="1.8" ry="1" fill="#f3cf8a" transform="rotate(214.8 1312.1 144.1)"/><ellipse cx="1310.2" cy="140.6" rx="1.8" ry="1" fill="#f3cf8a" transform="rotate(233.1 1310.2 140.6)"/><ellipse cx="1314.4" cy="154.2" rx="1.8" ry="1" fill="#f3cf8a" transform="rotate(97.8 1314.4 154.2)"/><ellipse cx="1314.0" cy="142.5" rx="1.8" ry="1" fill="#f3cf8a" transform="rotate(248.0 1314.0 142.5)"/><ellipse cx="1313.7" cy="149.1" rx="1.8" ry="1" fill="#f3cf8a" transform="rotate(117.7 1313.7 149.1)"/><ellipse cx="1312.8" cy="147.9" rx="1.8" ry="1" fill="#f3cf8a" transform="rotate(139.8 1312.8 147.9)"/><ellipse cx="1312.4" cy="138.1" rx="1.8" ry="1" fill="#f3cf8a" transform="rotate(252.3 1312.4 138.1)"/><g opacity="0.8"><circle cx="1369.5" cy="67.7" r="0.9" fill="#f6ecd0"/><circle cx="1431.5" cy="136.7" r="0.8" fill="#f6ecd0"/><circle cx="1432.5" cy="121.3" r="0.9" fill="#f6ecd0"/><circle cx="1456.8" cy="121.2" r="0.9" fill="#f6ecd0"/><circle cx="1420.0" cy="127.2" r="1.0" fill="#f6ecd0"/><circle cx="1486.2" cy="116.2" r="1.2" fill="#f6ecd0"/><circle cx="1444.4" cy="125.7" r="1.1" fill="#f6ecd0"/><circle cx="1474.3" cy="160.4" r="1.0" fill="#f6ecd0"/><circle cx="1391.8" cy="105.3" r="0.6" fill="#f6ecd0"/><circle cx="1504.5" cy="27.0" r="1.1" fill="#f6ecd0"/><circle cx="1436.2" cy="144.1" r="1.0" fill="#f6ecd0"/><circle cx="1444.6" cy="116.7" r="0.9" fill="#f6ecd0"/><circle cx="1469.7" cy="71.8" r="0.6" fill="#f6ecd0"/><circle cx="1433.2" cy="15.2" r="1.0" fill="#f6ecd0"/><circle cx="1367.3" cy="87.8" r="1.0" fill="#f6ecd0"/><circle cx="1376.2" cy="84.5" r="0.8" fill="#f6ecd0"/><circle cx="1379.3" cy="103.1" r="1.0" fill="#f6ecd0"/><circle cx="1426.5" cy="35.6" r="0.8" fill="#f6ecd0"/><circle cx="1459.1" cy="18.8" r="1.1" fill="#f6ecd0"/><circle cx="1422.2" cy="141.2" r="1.0" fill="#f6ecd0"/><circle cx="1349.3" cy="58.4" r="1.2" fill="#f6ecd0"/><circle cx="1454.8" cy="77.1" r="0.9" fill="#f6ecd0"/><circle cx="1427.7" cy="133.8" r="0.8" fill="#f6ecd0"/><circle cx="1440.8" cy="99.8" r="0.8" fill="#f6ecd0"/><circle cx="1375.7" cy="98.7" r="0.8" fill="#f6ecd0"/><circle cx="1474.9" cy="137.3" r="1.1" fill="#f6ecd0"/><circle cx="1352.1" cy="98.0" r="0.8" fill="#f6ecd0"/><circle cx="1365.3" cy="79.6" r="0.6" fill="#f6ecd0"/><circle cx="1331.9" cy="107.5" r="0.6" fill="#f6ecd0"/><circle cx="1433.1" cy="151.5" r="1.2" fill="#f6ecd0"/><circle cx="1379.6" cy="105.8" r="0.8" fill="#f6ecd0"/><circle cx="1403.1" cy="98.8" r="1.1" fill="#f6ecd0"/><circle cx="1373.8" cy="86.3" r="1.0" fill="#f6ecd0"/><circle cx="1376.8" cy="74.2" r="1.1" fill="#f6ecd0"/><circle cx="1477.5" cy="108.9" r="0.5" fill="#f6ecd0"/><circle cx="1438.7" cy="124.4" r="0.9" fill="#f6ecd0"/><circle cx="1489.8" cy="45.2" r="1.0" fill="#f6ecd0"/><circle cx="1430.2" cy="10.9" r="1.1" fill="#f6ecd0"/><circle cx="1332.7" cy="86.1" r="1.1" fill="#f6ecd0"/><circle cx="1386.1" cy="66.2" r="0.7" fill="#f6ecd0"/><circle cx="1367.9" cy="29.2" r="0.6" fill="#f6ecd0"/><circle cx="1364.2" cy="102.7" r="0.5" fill="#f6ecd0"/><circle cx="1330.7" cy="78.3" r="0.7" fill="#f6ecd0"/><circle cx="1440.9" cy="115.4" r="1.2" fill="#f6ecd0"/><circle cx="1349.2" cy="88.5" r="1.1" fill="#f6ecd0"/><circle cx="1354.3" cy="75.9" r="1.1" fill="#f6ecd0"/><circle cx="1372.7" cy="72.1" r="1.1" fill="#f6ecd0"/><circle cx="1486.1" cy="102.6" r="1.0" fill="#f6ecd0"/><circle cx="1358.2" cy="74.9" r="0.9" fill="#f6ecd0"/><circle cx="1471.2" cy="147.4" r="0.7" fill="#f6ecd0"/><circle cx="1454.1" cy="74.4" r="1.2" fill="#f6ecd0"/><circle cx="1374.7" cy="102.9" r="0.8" fill="#f6ecd0"/><circle cx="1356.1" cy="101.7" r="0.7" fill="#f6ecd0"/><circle cx="1410.6" cy="128.6" r="0.7" fill="#f6ecd0"/><circle cx="1458.5" cy="5.5" r="0.6" fill="#f6ecd0"/><circle cx="1390.1" cy="101.9" r="0.8" fill="#f6ecd0"/><circle cx="1314.6" cy="73.2" r="0.9" fill="#f6ecd0"/><circle cx="1493.7" cy="24.6" r="1.1" fill="#f6ecd0"/><circle cx="1351.4" cy="96.8" r="0.5" fill="#f6ecd0"/><circle cx="1453.0" cy="126.3" r="1.0" fill="#f6ecd0"/><circle cx="1423.0" cy="130.7" r="0.5" fill="#f6ecd0"/><circle cx="1412.4" cy="115.8" r="0.8" fill="#f6ecd0"/><circle cx="1495.7" cy="58.1" r="0.8" fill="#f6ecd0"/><circle cx="1381.6" cy="96.5" r="0.9" fill="#f6ecd0"/><circle cx="1353.4" cy="85.1" r="0.7" fill="#f6ecd0"/><circle cx="1441.2" cy="42.0" r="0.7" fill="#f6ecd0"/><circle cx="1381.9" cy="74.3" r="1.2" fill="#f6ecd0"/><circle cx="1388.0" cy="114.5" r="0.7" fill="#f6ecd0"/><circle cx="1440.3" cy="134.7" r="0.6" fill="#f6ecd0"/><circle cx="1367.0" cy="88.5" r="1.1" fill="#f6ecd0"/><circle cx="1465.0" cy="131.4" r="0.6" fill="#f6ecd0"/><circle cx="1398.3" cy="42.4" r="0.8" fill="#f6ecd0"/><circle cx="1395.6" cy="110.5" r="0.7" fill="#f6ecd0"/><circle cx="1473.3" cy="138.8" r="1.0" fill="#f6ecd0"/><circle cx="1398.0" cy="123.0" r="1.1" fill="#f6ecd0"/><circle cx="1405.3" cy="127.8" r="1.0" fill="#f6ecd0"/><circle cx="1486.3" cy="43.0" r="0.9" fill="#f6ecd0"/><circle cx="1452.8" cy="130.7" r="0.9" fill="#f6ecd0"/><circle cx="1357.9" cy="96.9" r="1.0" fill="#f6ecd0"/><circle cx="1419.0" cy="135.8" r="1.0" fill="#f6ecd0"/><circle cx="1450.4" cy="128.7" r="0.6" fill="#f6ecd0"/><circle cx="1377.4" cy="77.4" r="0.8" fill="#f6ecd0"/><circle cx="1354.1" cy="106.6" r="0.9" fill="#f6ecd0"/><circle cx="1421.2" cy="48.0" r="0.7" fill="#f6ecd0"/><circle cx="1454.1" cy="49.1" r="0.9" fill="#f6ecd0"/><circle cx="1374.6" cy="66.0" r="0.6" fill="#f6ecd0"/><circle cx="1359.0" cy="71.2" r="1.2" fill="#f6ecd0"/><circle cx="1452.5" cy="12.1" r="1.0" fill="#f6ecd0"/><circle cx="1393.6" cy="98.2" r="0.7" fill="#f6ecd0"/><circle cx="1329.0" cy="86.5" r="1.1" fill="#f6ecd0"/><circle cx="1406.7" cy="100.5" r="1.0" fill="#f6ecd0"/><circle cx="1382.6" cy="48.5" r="0.8" fill="#f6ecd0"/><circle cx="1361.8" cy="100.4" r="0.8" fill="#f6ecd0"/><circle cx="1393.9" cy="91.7" r="0.5" fill="#f6ecd0"/><circle cx="1441.4" cy="146.1" r="0.7" fill="#f6ecd0"/><circle cx="1435.7" cy="123.1" r="0.9" fill="#f6ecd0"/><circle cx="1381.6" cy="78.7" r="0.5" fill="#f6ecd0"/><circle cx="1416.9" cy="130.5" r="0.6" fill="#f6ecd0"/><circle cx="1450.2" cy="129.5" r="1.1" fill="#f6ecd0"/><circle cx="1359.1" cy="51.9" r="1.1" fill="#f6ecd0"/><circle cx="1462.8" cy="116.3" r="0.5" fill="#f6ecd0"/><circle cx="1389.2" cy="92.4" r="1.2" fill="#f6ecd0"/><circle cx="1367.9" cy="40.9" r="0.6" fill="#f6ecd0"/><circle cx="1465.2" cy="31.9" r="0.9" fill="#f6ecd0"/><circle cx="1434.9" cy="65.2" r="0.8" fill="#f6ecd0"/><circle cx="1346.4" cy="48.2" r="0.9" fill="#f6ecd0"/><circle cx="1401.0" cy="143.8" r="0.7" fill="#f6ecd0"/><circle cx="1344.5" cy="79.8" r="1.1" fill="#f6ecd0"/><circle cx="1464.1" cy="154.6" r="1.2" fill="#f6ecd0"/><circle cx="1386.0" cy="83.5" r="1.0" fill="#f6ecd0"/><circle cx="1361.7" cy="90.4" r="1.0" fill="#f6ecd0"/><circle cx="1370.8" cy="108.7" r="0.7" fill="#f6ecd0"/><circle cx="1409.3" cy="120.8" r="0.5" fill="#f6ecd0"/><circle cx="1398.6" cy="84.7" r="0.8" fill="#f6ecd0"/><circle cx="1447.1" cy="123.9" r="1.0" fill="#f6ecd0"/><circle cx="1431.7" cy="131.4" r="1.2" fill="#f6ecd0"/><circle cx="1344.4" cy="79.0" r="0.7" fill="#f6ecd0"/><circle cx="1364.0" cy="42.9" r="1.0" fill="#f6ecd0"/><circle cx="1449.4" cy="53.3" r="1.0" fill="#f6ecd0"/><circle cx="1445.2" cy="46.8" r="1.2" fill="#f6ecd0"/><circle cx="1352.5" cy="56.6" r="1.2" fill="#f6ecd0"/><circle cx="1358.3" cy="97.5" r="0.8" fill="#f6ecd0"/><circle cx="1362.2" cy="96.2" r="1.0" fill="#f6ecd0"/><circle cx="1423.8" cy="7.6" r="0.6" fill="#f6ecd0"/><circle cx="1345.1" cy="85.4" r="0.9" fill="#f6ecd0"/><circle cx="1368.7" cy="97.7" r="0.7" fill="#f6ecd0"/><circle cx="1420.4" cy="114.2" r="0.7" fill="#f6ecd0"/><circle cx="1357.4" cy="80.7" r="0.5" fill="#f6ecd0"/><circle cx="1362.1" cy="70.0" r="1.0" fill="#f6ecd0"/><circle cx="1343.1" cy="85.9" r="0.7" fill="#f6ecd0"/><circle cx="1463.4" cy="115.9" r="0.7" fill="#f6ecd0"/><circle cx="1386.7" cy="78.2" r="1.1" fill="#f6ecd0"/><circle cx="1362.4" cy="62.6" r="1.0" fill="#f6ecd0"/><circle cx="1420.5" cy="119.1" r="1.0" fill="#f6ecd0"/><circle cx="1417.1" cy="142.8" r="0.6" fill="#f6ecd0"/><circle cx="1398.1" cy="96.7" r="0.7" fill="#f6ecd0"/><circle cx="1410.1" cy="70.2" r="0.9" fill="#f6ecd0"/><circle cx="1457.7" cy="59.1" r="1.1" fill="#f6ecd0"/><circle cx="1368.6" cy="63.6" r="0.9" fill="#f6ecd0"/><circle cx="1442.7" cy="86.7" r="0.7" fill="#f6ecd0"/><circle cx="1457.7" cy="115.2" r="0.8" fill="#f6ecd0"/><circle cx="1348.9" cy="91.0" r="0.9" fill="#f6ecd0"/><circle cx="1394.9" cy="104.2" r="0.8" fill="#f6ecd0"/><circle cx="1355.4" cy="84.0" r="1.0" fill="#f6ecd0"/><circle cx="1355.0" cy="109.0" r="1.1" fill="#f6ecd0"/><circle cx="1454.7" cy="133.6" r="1.1" fill="#f6ecd0"/><circle cx="1439.9" cy="21.6" r="0.7" fill="#f6ecd0"/><circle cx="1372.1" cy="109.9" r="1.1" fill="#f6ecd0"/><circle cx="1377.9" cy="68.4" r="1.2" fill="#f6ecd0"/><circle cx="1416.6" cy="118.7" r="0.7" fill="#f6ecd0"/><circle cx="1380.4" cy="63.3" r="0.9" fill="#f6ecd0"/><circle cx="1428.6" cy="152.6" r="0.7" fill="#f6ecd0"/><circle cx="1373.0" cy="102.7" r="0.6" fill="#f6ecd0"/><circle cx="1371.4" cy="83.1" r="1.0" fill="#f6ecd0"/><circle cx="1359.4" cy="88.4" r="1.0" fill="#f6ecd0"/><circle cx="1349.3" cy="58.8" r="0.7" fill="#f6ecd0"/><circle cx="1442.5" cy="72.7" r="1.0" fill="#f6ecd0"/><circle cx="1335.0" cy="58.1" r="0.7" fill="#f6ecd0"/><circle cx="1459.0" cy="130.2" r="1.2" fill="#f6ecd0"/><circle cx="1427.1" cy="23.0" r="0.9" fill="#f6ecd0"/><circle cx="1479.2" cy="150.3" r="0.8" fill="#f6ecd0"/><circle cx="1338.3" cy="99.1" r="0.8" fill="#f6ecd0"/><circle cx="1459.2" cy="139.6" r="0.7" fill="#f6ecd0"/><circle cx="1369.7" cy="72.5" r="0.9" fill="#f6ecd0"/><circle cx="1436.5" cy="121.6" r="1.0" fill="#f6ecd0"/><circle cx="1458.0" cy="120.9" r="0.6" fill="#f6ecd0"/><circle cx="1374.2" cy="102.2" r="0.7" fill="#f6ecd0"/><circle cx="1464.4" cy="62.7" r="0.9" fill="#f6ecd0"/><circle cx="1381.7" cy="103.8" r="0.7" fill="#f6ecd0"/><circle cx="1366.3" cy="61.1" r="0.9" fill="#f6ecd0"/><circle cx="1428.3" cy="120.8" r="0.8" fill="#f6ecd0"/><circle cx="1374.8" cy="78.1" r="1.1" fill="#f6ecd0"/><circle cx="1345.2" cy="61.1" r="1.0" fill="#f6ecd0"/><circle cx="1387.2" cy="85.0" r="0.6" fill="#f6ecd0"/><circle cx="1434.0" cy="139.4" r="0.7" fill="#f6ecd0"/><circle cx="1446.2" cy="64.8" r="0.9" fill="#f6ecd0"/><circle cx="1421.8" cy="105.8" r="1.1" fill="#f6ecd0"/><circle cx="1447.2" cy="125.2" r="1.2" fill="#f6ecd0"/><circle cx="1443.7" cy="144.1" r="0.8" fill="#f6ecd0"/><circle cx="1448.4" cy="130.5" r="0.9" fill="#f6ecd0"/><circle cx="1374.7" cy="67.0" r="0.7" fill="#f6ecd0"/><circle cx="1353.1" cy="93.8" r="1.1" fill="#f6ecd0"/><circle cx="1415.0" cy="125.5" r="0.7" fill="#f6ecd0"/><circle cx="1347.6" cy="51.6" r="1.1" fill="#f6ecd0"/><circle cx="1472.6" cy="82.4" r="0.9" fill="#f6ecd0"/><circle cx="1327.1" cy="111.7" r="1.0" fill="#f6ecd0"/><circle cx="1361.6" cy="88.1" r="0.8" fill="#f6ecd0"/><circle cx="1428.3" cy="64.1" r="0.6" fill="#f6ecd0"/><circle cx="1409.6" cy="131.4" r="0.6" fill="#f6ecd0"/><circle cx="1340.0" cy="92.0" r="1.0" fill="#f6ecd0"/><circle cx="1340.0" cy="91.8" r="0.9" fill="#f6ecd0"/><circle cx="1457.1" cy="132.5" r="0.8" fill="#f6ecd0"/><circle cx="1379.8" cy="72.2" r="0.9" fill="#f6ecd0"/><circle cx="1358.9" cy="107.4" r="1.0" fill="#f6ecd0"/><circle cx="1368.5" cy="99.2" r="0.9" fill="#f6ecd0"/><circle cx="1353.3" cy="93.5" r="0.6" fill="#f6ecd0"/><circle cx="1369.5" cy="91.4" r="0.9" fill="#f6ecd0"/><circle cx="1404.4" cy="133.6" r="0.7" fill="#f6ecd0"/><circle cx="1403.0" cy="140.6" r="1.2" fill="#f6ecd0"/><circle cx="1431.6" cy="122.5" r="0.8" fill="#f6ecd0"/><circle cx="1359.3" cy="102.9" r="1.1" fill="#f6ecd0"/><circle cx="1470.6" cy="30.4" r="1.1" fill="#f6ecd0"/><circle cx="1422.2" cy="131.4" r="1.2" fill="#f6ecd0"/><circle cx="1367.5" cy="72.0" r="1.1" fill="#f6ecd0"/><circle cx="1439.5" cy="113.6" r="0.6" fill="#f6ecd0"/><circle cx="1427.2" cy="119.2" r="0.6" fill="#f6ecd0"/><circle cx="1363.3" cy="54.8" r="1.1" fill="#f6ecd0"/><circle cx="1429.0" cy="134.0" r="0.6" fill="#f6ecd0"/><circle cx="1373.3" cy="55.1" r="0.7" fill="#f6ecd0"/><circle cx="1366.5" cy="82.5" r="1.2" fill="#f6ecd0"/><circle cx="1364.4" cy="53.9" r="1.2" fill="#f6ecd0"/><circle cx="1442.6" cy="137.3" r="0.9" fill="#f6ecd0"/><circle cx="1386.2" cy="95.5" r="1.0" fill="#f6ecd0"/><circle cx="1443.1" cy="139.9" r="0.8" fill="#f6ecd0"/><circle cx="1368.4" cy="53.1" r="1.0" fill="#f6ecd0"/><circle cx="1357.5" cy="66.7" r="1.2" fill="#f6ecd0"/><circle cx="1436.3" cy="111.3" r="1.0" fill="#f6ecd0"/><circle cx="1430.3" cy="141.5" r="1.1" fill="#f6ecd0"/><circle cx="1459.3" cy="148.9" r="0.7" fill="#f6ecd0"/><circle cx="1380.2" cy="90.4" r="1.1" fill="#f6ecd0"/><circle cx="1487.9" cy="135.5" r="0.6" fill="#f6ecd0"/><circle cx="1343.0" cy="86.0" r="0.9" fill="#f6ecd0"/><circle cx="1435.5" cy="113.1" r="0.6" fill="#f6ecd0"/><circle cx="1360.7" cy="68.0" r="0.7" fill="#f6ecd0"/><circle cx="1374.3" cy="70.7" r="1.2" fill="#f6ecd0"/><circle cx="1435.5" cy="52.6" r="1.0" fill="#f6ecd0"/><circle cx="1457.4" cy="131.3" r="0.9" fill="#f6ecd0"/><circle cx="1383.8" cy="88.5" r="0.9" fill="#f6ecd0"/><circle cx="1399.4" cy="80.8" r="1.1" fill="#f6ecd0"/><circle cx="1386.9" cy="132.9" r="0.5" fill="#f6ecd0"/><circle cx="1447.5" cy="143.6" r="1.0" fill="#f6ecd0"/><circle cx="1424.7" cy="141.0" r="1.2" fill="#f6ecd0"/><circle cx="1374.8" cy="64.8" r="0.7" fill="#f6ecd0"/><circle cx="1384.8" cy="106.9" r="1.1" fill="#f6ecd0"/><circle cx="1388.2" cy="91.5" r="1.1" fill="#f6ecd0"/><circle cx="1460.5" cy="133.1" r="1.1" fill="#f6ecd0"/><circle cx="1341.8" cy="63.5" r="1.0" fill="#f6ecd0"/><circle cx="1372.8" cy="95.2" r="1.0" fill="#f6ecd0"/><circle cx="1373.3" cy="65.2" r="1.0" fill="#f6ecd0"/><circle cx="1354.6" cy="106.2" r="0.7" fill="#f6ecd0"/><circle cx="1330.6" cy="76.4" r="0.6" fill="#f6ecd0"/><circle cx="1393.1" cy="88.9" r="0.6" fill="#f6ecd0"/><circle cx="1446.3" cy="34.7" r="0.5" fill="#f6ecd0"/><circle cx="1360.0" cy="69.5" r="1.1" fill="#f6ecd0"/><circle cx="1415.7" cy="118.8" r="0.9" fill="#f6ecd0"/><circle cx="1482.2" cy="41.4" r="1.2" fill="#f6ecd0"/><circle cx="1473.6" cy="70.4" r="1.1" fill="#f6ecd0"/><circle cx="1362.9" cy="61.8" r="0.6" fill="#f6ecd0"/><circle cx="1439.0" cy="144.8" r="0.8" fill="#f6ecd0"/><circle cx="1435.7" cy="114.5" r="0.9" fill="#f6ecd0"/><circle cx="1418.6" cy="150.9" r="0.7" fill="#f6ecd0"/><circle cx="1345.9" cy="82.3" r="0.6" fill="#f6ecd0"/><circle cx="1416.8" cy="124.8" r="0.6" fill="#f6ecd0"/><circle cx="1356.8" cy="49.9" r="0.7" fill="#f6ecd0"/><circle cx="1429.7" cy="53.1" r="1.0" fill="#f6ecd0"/><circle cx="1451.7" cy="38.8" r="1.0" fill="#f6ecd0"/><circle cx="1362.8" cy="70.8" r="0.9" fill="#f6ecd0"/><circle cx="1464.5" cy="126.5" r="0.6" fill="#f6ecd0"/><circle cx="1427.1" cy="14.6" r="0.6" fill="#f6ecd0"/><circle cx="1450.5" cy="105.9" r="1.1" fill="#f6ecd0"/><circle cx="1430.4" cy="-12.9" r="1.0" fill="#f6ecd0"/><circle cx="1407.9" cy="151.5" r="1.0" fill="#f6ecd0"/><circle cx="1343.2" cy="86.7" r="1.1" fill="#f6ecd0"/><circle cx="1349.9" cy="61.0" r="0.7" fill="#f6ecd0"/><circle cx="1437.6" cy="130.7" r="1.1" fill="#f6ecd0"/><circle cx="1392.6" cy="98.3" r="0.5" fill="#f6ecd0"/><circle cx="1391.7" cy="99.7" r="0.8" fill="#f6ecd0"/><circle cx="1403.1" cy="92.6" r="1.0" fill="#f6ecd0"/><circle cx="1445.7" cy="8.9" r="0.8" fill="#f6ecd0"/><circle cx="1376.4" cy="83.2" r="0.5" fill="#f6ecd0"/><circle cx="1429.6" cy="127.1" r="0.6" fill="#f6ecd0"/><circle cx="1324.8" cy="95.9" r="1.1" fill="#f6ecd0"/><circle cx="1435.0" cy="101.9" r="0.8" fill="#f6ecd0"/><circle cx="1398.5" cy="130.1" r="0.8" fill="#f6ecd0"/><circle cx="1479.3" cy="8.2" r="0.9" fill="#f6ecd0"/><circle cx="1450.4" cy="121.7" r="0.9" fill="#f6ecd0"/><circle cx="1479.9" cy="65.9" r="0.9" fill="#f6ecd0"/><circle cx="1387.1" cy="65.9" r="0.7" fill="#f6ecd0"/><circle cx="1423.9" cy="102.4" r="0.6" fill="#f6ecd0"/><circle cx="1468.2" cy="162.7" r="0.9" fill="#f6ecd0"/><circle cx="1412.0" cy="135.9" r="0.5" fill="#f6ecd0"/><circle cx="1347.2" cy="106.9" r="1.1" fill="#f6ecd0"/><circle cx="1354.3" cy="38.6" r="0.8" fill="#f6ecd0"/><circle cx="1493.3" cy="28.4" r="1.1" fill="#f6ecd0"/><circle cx="1428.7" cy="42.9" r="1.1" fill="#f6ecd0"/><circle cx="1374.9" cy="51.8" r="1.1" fill="#f6ecd0"/><circle cx="1437.4" cy="132.2" r="0.5" fill="#f6ecd0"/><circle cx="1462.7" cy="27.8" r="0.7" fill="#f6ecd0"/><circle cx="1446.1" cy="131.5" r="0.9" fill="#f6ecd0"/><circle cx="1422.9" cy="130.7" r="0.5" fill="#f6ecd0"/><circle cx="1442.0" cy="29.3" r="0.7" fill="#f6ecd0"/><circle cx="1466.5" cy="126.9" r="1.0" fill="#f6ecd0"/><circle cx="1502.3" cy="123.4" r="0.5" fill="#f6ecd0"/><circle cx="1394.0" cy="135.8" r="0.7" fill="#f6ecd0"/><circle cx="1380.0" cy="99.2" r="0.9" fill="#f6ecd0"/><circle cx="1389.4" cy="73.5" r="0.9" fill="#f6ecd0"/><circle cx="1398.8" cy="164.9" r="1.1" fill="#f6ecd0"/><circle cx="1406.9" cy="129.1" r="1.2" fill="#f6ecd0"/><circle cx="1504.1" cy="20.1" r="0.5" fill="#f6ecd0"/><circle cx="1337.8" cy="89.0" r="0.6" fill="#f6ecd0"/><circle cx="1361.9" cy="103.9" r="0.6" fill="#f6ecd0"/><circle cx="1468.7" cy="74.7" r="0.6" fill="#f6ecd0"/><circle cx="1442.6" cy="132.4" r="0.6" fill="#f6ecd0"/><circle cx="1378.7" cy="105.3" r="0.8" fill="#f6ecd0"/><circle cx="1357.4" cy="45.7" r="0.7" fill="#f6ecd0"/><circle cx="1453.7" cy="19.4" r="1.2" fill="#f6ecd0"/><circle cx="1416.0" cy="129.1" r="0.7" fill="#f6ecd0"/><circle cx="1361.8" cy="50.7" r="0.7" fill="#f6ecd0"/><circle cx="1454.0" cy="170.9" r="0.7" fill="#f6ecd0"/><circle cx="1413.2" cy="22.9" r="0.6" fill="#f6ecd0"/><circle cx="1484.4" cy="45.4" r="1.0" fill="#f6ecd0"/><circle cx="1428.3" cy="39.6" r="0.7" fill="#f6ecd0"/><circle cx="1364.4" cy="87.4" r="0.5" fill="#f6ecd0"/><circle cx="1360.0" cy="63.1" r="0.6" fill="#f6ecd0"/><circle cx="1348.1" cy="105.4" r="0.9" fill="#f6ecd0"/><circle cx="1389.4" cy="87.6" r="0.6" fill="#f6ecd0"/><circle cx="1433.6" cy="131.8" r="0.5" fill="#f6ecd0"/><circle cx="1335.3" cy="45.0" r="1.1" fill="#f6ecd0"/><circle cx="1366.8" cy="95.9" r="0.5" fill="#f6ecd0"/><circle cx="1442.0" cy="61.7" r="1.2" fill="#f6ecd0"/><circle cx="1433.1" cy="129.0" r="0.6" fill="#f6ecd0"/><circle cx="1413.6" cy="114.2" r="0.9" fill="#f6ecd0"/><circle cx="1455.5" cy="42.8" r="0.7" fill="#f6ecd0"/><circle cx="1448.1" cy="114.5" r="1.0" fill="#f6ecd0"/><circle cx="1454.4" cy="61.5" r="1.1" fill="#f6ecd0"/><circle cx="1416.3" cy="91.0" r="0.8" fill="#f6ecd0"/><circle cx="1476.4" cy="72.7" r="0.9" fill="#f6ecd0"/><circle cx="1391.8" cy="79.6" r="0.8" fill="#f6ecd0"/><circle cx="1393.4" cy="8.8" r="0.7" fill="#f6ecd0"/><circle cx="1434.0" cy="127.0" r="0.6" fill="#f6ecd0"/><circle cx="1440.8" cy="11.6" r="0.9" fill="#f6ecd0"/><circle cx="1453.3" cy="19.2" r="0.7" fill="#f6ecd0"/><circle cx="1378.4" cy="52.7" r="0.8" fill="#f6ecd0"/><circle cx="1389.4" cy="122.5" r="1.0" fill="#f6ecd0"/><circle cx="1366.3" cy="59.2" r="0.6" fill="#f6ecd0"/><circle cx="1384.4" cy="93.8" r="1.0" fill="#f6ecd0"/><circle cx="1501.6" cy="21.0" r="1.0" fill="#f6ecd0"/><circle cx="1472.2" cy="34.2" r="0.8" fill="#f6ecd0"/><circle cx="1479.9" cy="126.7" r="1.0" fill="#f6ecd0"/><circle cx="1380.6" cy="102.2" r="0.6" fill="#f6ecd0"/><circle cx="1386.1" cy="50.5" r="0.6" fill="#f6ecd0"/><circle cx="1475.5" cy="128.2" r="0.9" fill="#f6ecd0"/><circle cx="1361.6" cy="92.5" r="0.8" fill="#f6ecd0"/><circle cx="1351.6" cy="57.5" r="0.6" fill="#f6ecd0"/><circle cx="1434.4" cy="153.8" r="0.7" fill="#f6ecd0"/><circle cx="1449.5" cy="35.0" r="0.6" fill="#f6ecd0"/><circle cx="1449.0" cy="136.4" r="1.1" fill="#f6ecd0"/><circle cx="1340.2" cy="94.8" r="1.0" fill="#f6ecd0"/><circle cx="1359.6" cy="95.3" r="0.6" fill="#f6ecd0"/><circle cx="1443.4" cy="54.7" r="0.8" fill="#f6ecd0"/><circle cx="1447.6" cy="51.8" r="0.7" fill="#f6ecd0"/><circle cx="1361.3" cy="60.3" r="1.0" fill="#f6ecd0"/><circle cx="1372.4" cy="104.6" r="0.7" fill="#f6ecd0"/><circle cx="1462.9" cy="55.5" r="1.1" fill="#f6ecd0"/><circle cx="1456.0" cy="56.4" r="0.5" fill="#f6ecd0"/><circle cx="1440.8" cy="13.1" r="0.7" fill="#f6ecd0"/><circle cx="1371.4" cy="58.3" r="0.7" fill="#f6ecd0"/><circle cx="1440.1" cy="116.2" r="0.6" fill="#f6ecd0"/><circle cx="1397.1" cy="131.1" r="0.8" fill="#f6ecd0"/><circle cx="1430.3" cy="140.0" r="1.0" fill="#f6ecd0"/><circle cx="1434.6" cy="148.7" r="0.8" fill="#f6ecd0"/><circle cx="1380.3" cy="88.6" r="1.1" fill="#f6ecd0"/><circle cx="1421.7" cy="119.7" r="0.9" fill="#f6ecd0"/><circle cx="1457.8" cy="1.3" r="0.7" fill="#f6ecd0"/><circle cx="1417.5" cy="135.8" r="0.8" fill="#f6ecd0"/><circle cx="1346.5" cy="61.9" r="0.6" fill="#f6ecd0"/><circle cx="1382.1" cy="61.6" r="1.1" fill="#f6ecd0"/><circle cx="1445.6" cy="99.4" r="0.9" fill="#f6ecd0"/><circle cx="1440.5" cy="112.9" r="1.0" fill="#f6ecd0"/><circle cx="1490.7" cy="61.0" r="0.9" fill="#f6ecd0"/><circle cx="1356.8" cy="72.8" r="0.9" fill="#f6ecd0"/><circle cx="1348.5" cy="71.7" r="1.1" fill="#f6ecd0"/><circle cx="1389.3" cy="93.6" r="0.6" fill="#f6ecd0"/><circle cx="1457.0" cy="50.3" r="1.0" fill="#f6ecd0"/><circle cx="1442.6" cy="137.7" r="0.6" fill="#f6ecd0"/><circle cx="1420.1" cy="131.6" r="1.0" fill="#f6ecd0"/><circle cx="1360.3" cy="85.2" r="0.8" fill="#f6ecd0"/><circle cx="1379.6" cy="98.4" r="0.8" fill="#f6ecd0"/><circle cx="1353.4" cy="77.8" r="1.0" fill="#f6ecd0"/><circle cx="1425.8" cy="143.6" r="0.7" fill="#f6ecd0"/><circle cx="1398.8" cy="28.8" r="1.1" fill="#f6ecd0"/><circle cx="1452.6" cy="77.5" r="1.1" fill="#f6ecd0"/><circle cx="1403.0" cy="96.4" r="0.9" fill="#f6ecd0"/><circle cx="1368.2" cy="49.5" r="1.0" fill="#f6ecd0"/><circle cx="1401.2" cy="148.4" r="1.0" fill="#f6ecd0"/><circle cx="1444.2" cy="139.9" r="0.8" fill="#f6ecd0"/><circle cx="1394.2" cy="87.4" r="0.9" fill="#f6ecd0"/><circle cx="1408.8" cy="88.8" r="0.8" fill="#f6ecd0"/><circle cx="1427.1" cy="144.3" r="0.7" fill="#f6ecd0"/><circle cx="1351.9" cy="78.0" r="0.8" fill="#f6ecd0"/><circle cx="1466.1" cy="111.1" r="0.9" fill="#f6ecd0"/><circle cx="1470.0" cy="109.6" r="1.2" fill="#f6ecd0"/><circle cx="1366.7" cy="93.7" r="0.6" fill="#f6ecd0"/><circle cx="1361.3" cy="96.6" r="0.6" fill="#f6ecd0"/><circle cx="1406.3" cy="78.0" r="0.9" fill="#f6ecd0"/><circle cx="1460.1" cy="90.5" r="0.8" fill="#f6ecd0"/><circle cx="1425.4" cy="142.4" r="1.1" fill="#f6ecd0"/><circle cx="1463.8" cy="115.8" r="1.1" fill="#f6ecd0"/><circle cx="1454.2" cy="129.3" r="0.8" fill="#f6ecd0"/><circle cx="1354.8" cy="60.9" r="1.1" fill="#f6ecd0"/><circle cx="1394.2" cy="115.0" r="0.7" fill="#f6ecd0"/><circle cx="1477.3" cy="122.7" r="0.8" fill="#f6ecd0"/><circle cx="1462.9" cy="149.8" r="0.7" fill="#f6ecd0"/><circle cx="1374.9" cy="108.3" r="1.1" fill="#f6ecd0"/><circle cx="1337.9" cy="67.0" r="0.9" fill="#f6ecd0"/><circle cx="1444.5" cy="124.6" r="1.1" fill="#f6ecd0"/><circle cx="1453.8" cy="155.2" r="1.1" fill="#f6ecd0"/><circle cx="1498.7" cy="70.1" r="1.0" fill="#f6ecd0"/><circle cx="1443.2" cy="151.3" r="0.8" fill="#f6ecd0"/><circle cx="1458.0" cy="30.5" r="0.6" fill="#f6ecd0"/><circle cx="1427.7" cy="139.5" r="0.6" fill="#f6ecd0"/><circle cx="1343.3" cy="60.9" r="0.6" fill="#f6ecd0"/><circle cx="1388.6" cy="86.4" r="0.8" fill="#f6ecd0"/><circle cx="1467.7" cy="30.5" r="0.8" fill="#f6ecd0"/><circle cx="1350.7" cy="55.7" r="1.1" fill="#f6ecd0"/><circle cx="1418.0" cy="79.5" r="0.7" fill="#f6ecd0"/><circle cx="1386.0" cy="113.6" r="1.0" fill="#f6ecd0"/><circle cx="1364.1" cy="61.1" r="1.0" fill="#f6ecd0"/><circle cx="1363.7" cy="67.1" r="0.8" fill="#f6ecd0"/><circle cx="1471.0" cy="145.7" r="0.8" fill="#f6ecd0"/><circle cx="1360.5" cy="62.2" r="0.8" fill="#f6ecd0"/><circle cx="1386.4" cy="124.6" r="0.6" fill="#f6ecd0"/><circle cx="1473.3" cy="137.1" r="0.7" fill="#f6ecd0"/><circle cx="1393.5" cy="95.1" r="0.6" fill="#f6ecd0"/><circle cx="1447.1" cy="132.6" r="0.8" fill="#f6ecd0"/><circle cx="1456.8" cy="147.5" r="1.0" fill="#f6ecd0"/><circle cx="1455.0" cy="147.8" r="0.8" fill="#f6ecd0"/><circle cx="1426.3" cy="151.3" r="0.6" fill="#f6ecd0"/><circle cx="1444.0" cy="135.2" r="0.8" fill="#f6ecd0"/><circle cx="1365.0" cy="58.8" r="0.8" fill="#f6ecd0"/><circle cx="1342.3" cy="71.1" r="1.0" fill="#f6ecd0"/><circle cx="1330.6" cy="81.2" r="1.1" fill="#f6ecd0"/><circle cx="1398.7" cy="134.7" r="0.6" fill="#f6ecd0"/><circle cx="1418.7" cy="119.9" r="1.0" fill="#f6ecd0"/><circle cx="1377.3" cy="99.2" r="1.1" fill="#f6ecd0"/><circle cx="1388.9" cy="85.6" r="0.9" fill="#f6ecd0"/><circle cx="1372.0" cy="82.2" r="0.8" fill="#f6ecd0"/><circle cx="1401.9" cy="80.3" r="1.1" fill="#f6ecd0"/><circle cx="1507.4" cy="31.3" r="0.8" fill="#f6ecd0"/><circle cx="1440.8" cy="51.8" r="1.2" fill="#f6ecd0"/><circle cx="1441.8" cy="30.2" r="0.6" fill="#f6ecd0"/><circle cx="1384.8" cy="100.5" r="1.1" fill="#f6ecd0"/><circle cx="1385.1" cy="117.1" r="0.7" fill="#f6ecd0"/><circle cx="1365.6" cy="89.9" r="1.1" fill="#f6ecd0"/><circle cx="1407.6" cy="120.3" r="1.0" fill="#f6ecd0"/><circle cx="1400.7" cy="18.4" r="0.6" fill="#f6ecd0"/><circle cx="1475.6" cy="131.0" r="0.6" fill="#f6ecd0"/><circle cx="1443.7" cy="156.5" r="0.7" fill="#f6ecd0"/><circle cx="1374.7" cy="66.4" r="0.9" fill="#f6ecd0"/><circle cx="1420.2" cy="153.7" r="1.0" fill="#f6ecd0"/><circle cx="1422.9" cy="128.0" r="1.0" fill="#f6ecd0"/><circle cx="1419.6" cy="145.4" r="1.0" fill="#f6ecd0"/><circle cx="1408.7" cy="10.1" r="0.7" fill="#f6ecd0"/><circle cx="1371.7" cy="55.5" r="0.6" fill="#f6ecd0"/><circle cx="1465.5" cy="54.5" r="0.6" fill="#f6ecd0"/><circle cx="1364.9" cy="93.9" r="0.5" fill="#f6ecd0"/><circle cx="1470.2" cy="124.4" r="0.9" fill="#f6ecd0"/><circle cx="1426.5" cy="150.4" r="0.9" fill="#f6ecd0"/><circle cx="1438.9" cy="134.4" r="0.9" fill="#f6ecd0"/><circle cx="1384.2" cy="105.0" r="1.0" fill="#f6ecd0"/><circle cx="1358.6" cy="50.9" r="0.9" fill="#f6ecd0"/><circle cx="1404.4" cy="51.2" r="1.2" fill="#f6ecd0"/><circle cx="1418.2" cy="113.0" r="0.6" fill="#f6ecd0"/><circle cx="1459.5" cy="80.4" r="1.1" fill="#f6ecd0"/><circle cx="1362.0" cy="97.0" r="0.8" fill="#f6ecd0"/><circle cx="1447.4" cy="124.7" r="0.6" fill="#f6ecd0"/><circle cx="1377.7" cy="102.4" r="0.6" fill="#f6ecd0"/><circle cx="1379.5" cy="70.6" r="0.8" fill="#f6ecd0"/><circle cx="1387.4" cy="105.6" r="1.1" fill="#f6ecd0"/><circle cx="1368.9" cy="89.5" r="0.6" fill="#f6ecd0"/><circle cx="1437.7" cy="115.1" r="0.5" fill="#f6ecd0"/><circle cx="1450.5" cy="158.6" r="1.1" fill="#f6ecd0"/><circle cx="1344.2" cy="83.3" r="0.8" fill="#f6ecd0"/><circle cx="1434.6" cy="103.6" r="1.2" fill="#f6ecd0"/><circle cx="1424.3" cy="62.5" r="0.9" fill="#f6ecd0"/><circle cx="1479.8" cy="94.0" r="0.7" fill="#f6ecd0"/><circle cx="1364.3" cy="98.2" r="0.9" fill="#f6ecd0"/><circle cx="1356.6" cy="62.2" r="0.6" fill="#f6ecd0"/><circle cx="1456.9" cy="133.8" r="0.9" fill="#f6ecd0"/><circle cx="1452.8" cy="127.8" r="1.0" fill="#f6ecd0"/><circle cx="1387.7" cy="117.0" r="0.8" fill="#f6ecd0"/><circle cx="1429.4" cy="18.0" r="1.2" fill="#f6ecd0"/><circle cx="1382.1" cy="96.6" r="0.6" fill="#f6ecd0"/><circle cx="1462.3" cy="65.9" r="0.9" fill="#f6ecd0"/><circle cx="1476.1" cy="66.1" r="1.0" fill="#f6ecd0"/><circle cx="1354.5" cy="103.9" r="0.7" fill="#f6ecd0"/><circle cx="1357.7" cy="85.0" r="0.8" fill="#f6ecd0"/><circle cx="1450.1" cy="28.8" r="0.9" fill="#f6ecd0"/><circle cx="1384.8" cy="70.3" r="1.0" fill="#f6ecd0"/><circle cx="1367.2" cy="56.3" r="1.1" fill="#f6ecd0"/><circle cx="1350.2" cy="59.4" r="1.1" fill="#f6ecd0"/><circle cx="1437.4" cy="143.1" r="0.7" fill="#f6ecd0"/><circle cx="1454.2" cy="109.7" r="0.6" fill="#f6ecd0"/><circle cx="1351.6" cy="96.4" r="0.7" fill="#f6ecd0"/><circle cx="1344.8" cy="116.2" r="1.0" fill="#f6ecd0"/><circle cx="1347.6" cy="107.8" r="0.8" fill="#f6ecd0"/><circle cx="1473.1" cy="113.7" r="1.0" fill="#f6ecd0"/><circle cx="1356.3" cy="88.5" r="0.5" fill="#f6ecd0"/><circle cx="1377.7" cy="78.8" r="1.2" fill="#f6ecd0"/><circle cx="1350.2" cy="54.8" r="0.7" fill="#f6ecd0"/><circle cx="1451.7" cy="150.4" r="0.9" fill="#f6ecd0"/><circle cx="1378.6" cy="93.8" r="0.7" fill="#f6ecd0"/><circle cx="1404.6" cy="126.4" r="0.8" fill="#f6ecd0"/><circle cx="1403.5" cy="112.6" r="1.2" fill="#f6ecd0"/><circle cx="1414.2" cy="123.8" r="0.7" fill="#f6ecd0"/><circle cx="1391.3" cy="79.6" r="0.6" fill="#f6ecd0"/><circle cx="1347.3" cy="64.1" r="0.9" fill="#f6ecd0"/><circle cx="1439.3" cy="118.5" r="1.2" fill="#f6ecd0"/><circle cx="1473.0" cy="111.0" r="0.9" fill="#f6ecd0"/><circle cx="1337.3" cy="61.2" r="0.9" fill="#f6ecd0"/><circle cx="1370.3" cy="74.0" r="0.7" fill="#f6ecd0"/><circle cx="1417.0" cy="19.3" r="0.7" fill="#f6ecd0"/><circle cx="1420.7" cy="124.6" r="0.9" fill="#f6ecd0"/><circle cx="1391.0" cy="79.4" r="0.6" fill="#f6ecd0"/><circle cx="1466.7" cy="34.1" r="1.1" fill="#f6ecd0"/><circle cx="1436.3" cy="119.7" r="1.1" fill="#f6ecd0"/><circle cx="1348.6" cy="90.4" r="1.0" fill="#f6ecd0"/><circle cx="1381.5" cy="101.3" r="1.0" fill="#f6ecd0"/><circle cx="1367.6" cy="72.4" r="0.8" fill="#f6ecd0"/><circle cx="1355.4" cy="100.3" r="1.0" fill="#f6ecd0"/><circle cx="1444.2" cy="27.2" r="0.6" fill="#f6ecd0"/><circle cx="1413.7" cy="116.2" r="1.0" fill="#f6ecd0"/><circle cx="1443.5" cy="35.0" r="0.7" fill="#f6ecd0"/><circle cx="1374.5" cy="104.6" r="0.6" fill="#f6ecd0"/><circle cx="1351.1" cy="65.8" r="1.1" fill="#f6ecd0"/><circle cx="1364.0" cy="94.6" r="0.6" fill="#f6ecd0"/><circle cx="1394.2" cy="97.4" r="0.6" fill="#f6ecd0"/><circle cx="1521.6" cy="12.4" r="0.7" fill="#f6ecd0"/><circle cx="1396.9" cy="69.7" r="0.9" fill="#f6ecd0"/><circle cx="1454.9" cy="128.8" r="1.1" fill="#f6ecd0"/><circle cx="1356.0" cy="96.5" r="0.6" fill="#f6ecd0"/><circle cx="1485.8" cy="166.4" r="1.2" fill="#f6ecd0"/><circle cx="1416.3" cy="140.6" r="1.1" fill="#f6ecd0"/><circle cx="1352.3" cy="66.6" r="1.2" fill="#f6ecd0"/><circle cx="1445.1" cy="136.0" r="1.0" fill="#f6ecd0"/><circle cx="1397.8" cy="84.5" r="0.7" fill="#f6ecd0"/><circle cx="1437.2" cy="84.1" r="0.7" fill="#f6ecd0"/><circle cx="1404.7" cy="100.8" r="1.0" fill="#f6ecd0"/><circle cx="1431.3" cy="118.3" r="0.6" fill="#f6ecd0"/><circle cx="1349.2" cy="59.4" r="0.6" fill="#f6ecd0"/><circle cx="1371.3" cy="61.5" r="1.1" fill="#f6ecd0"/><circle cx="1425.0" cy="115.8" r="0.5" fill="#f6ecd0"/><circle cx="1407.4" cy="121.7" r="0.8" fill="#f6ecd0"/><circle cx="1381.7" cy="124.5" r="1.0" fill="#f6ecd0"/><circle cx="1370.8" cy="102.6" r="0.6" fill="#f6ecd0"/><circle cx="1444.8" cy="134.5" r="0.6" fill="#f6ecd0"/><circle cx="1394.5" cy="108.9" r="1.0" fill="#f6ecd0"/><circle cx="1413.9" cy="87.3" r="1.1" fill="#f6ecd0"/><circle cx="1379.9" cy="106.0" r="0.5" fill="#f6ecd0"/><circle cx="1363.3" cy="71.0" r="0.9" fill="#f6ecd0"/><circle cx="1378.2" cy="94.5" r="0.8" fill="#f6ecd0"/><circle cx="1481.8" cy="63.3" r="1.2" fill="#f6ecd0"/><circle cx="1359.1" cy="38.3" r="0.9" fill="#f6ecd0"/><circle cx="1360.1" cy="68.8" r="1.1" fill="#f6ecd0"/><circle cx="1398.5" cy="106.6" r="0.7" fill="#f6ecd0"/><circle cx="1340.7" cy="54.9" r="0.9" fill="#f6ecd0"/><circle cx="1428.3" cy="128.4" r="1.2" fill="#f6ecd0"/><circle cx="1464.5" cy="43.5" r="0.6" fill="#f6ecd0"/><circle cx="1378.2" cy="88.1" r="1.1" fill="#f6ecd0"/><circle cx="1454.9" cy="118.9" r="0.9" fill="#f6ecd0"/><circle cx="1482.7" cy="140.4" r="0.5" fill="#f6ecd0"/><circle cx="1342.2" cy="66.0" r="0.8" fill="#f6ecd0"/><circle cx="1375.0" cy="74.3" r="1.0" fill="#f6ecd0"/><circle cx="1448.7" cy="134.9" r="1.0" fill="#f6ecd0"/><circle cx="1474.7" cy="56.1" r="1.1" fill="#f6ecd0"/><circle cx="1482.0" cy="122.4" r="1.2" fill="#f6ecd0"/><circle cx="1331.9" cy="75.8" r="1.1" fill="#f6ecd0"/><circle cx="1462.1" cy="61.8" r="0.9" fill="#f6ecd0"/><circle cx="1360.9" cy="73.9" r="1.1" fill="#f6ecd0"/><circle cx="1353.5" cy="109.1" r="0.9" fill="#f6ecd0"/><circle cx="1456.7" cy="60.7" r="0.6" fill="#f6ecd0"/><circle cx="1351.6" cy="71.9" r="0.6" fill="#f6ecd0"/><circle cx="1463.9" cy="42.2" r="1.1" fill="#f6ecd0"/><circle cx="1461.2" cy="144.4" r="0.5" fill="#f6ecd0"/><circle cx="1390.4" cy="93.1" r="0.7" fill="#f6ecd0"/><circle cx="1477.5" cy="45.5" r="0.9" fill="#f6ecd0"/><circle cx="1356.3" cy="66.2" r="0.9" fill="#f6ecd0"/><circle cx="1434.8" cy="46.9" r="1.0" fill="#f6ecd0"/><circle cx="1347.3" cy="95.6" r="0.8" fill="#f6ecd0"/><circle cx="1372.0" cy="94.2" r="1.0" fill="#f6ecd0"/><circle cx="1400.8" cy="72.8" r="0.9" fill="#f6ecd0"/><circle cx="1431.8" cy="117.5" r="0.9" fill="#f6ecd0"/><circle cx="1452.4" cy="103.0" r="1.0" fill="#f6ecd0"/><circle cx="1471.1" cy="44.8" r="0.7" fill="#f6ecd0"/><circle cx="1475.3" cy="143.3" r="1.1" fill="#f6ecd0"/><circle cx="1359.8" cy="54.4" r="1.1" fill="#f6ecd0"/><circle cx="1424.9" cy="148.5" r="0.6" fill="#f6ecd0"/><circle cx="1446.1" cy="32.3" r="1.1" fill="#f6ecd0"/><circle cx="1483.3" cy="90.5" r="0.7" fill="#f6ecd0"/><circle cx="1351.6" cy="43.7" r="0.8" fill="#f6ecd0"/><circle cx="1415.3" cy="85.4" r="0.9" fill="#f6ecd0"/><circle cx="1447.5" cy="32.5" r="0.8" fill="#f6ecd0"/><circle cx="1381.5" cy="111.8" r="1.2" fill="#f6ecd0"/><circle cx="1391.2" cy="91.7" r="0.8" fill="#f6ecd0"/><circle cx="1446.1" cy="105.2" r="0.6" fill="#f6ecd0"/><circle cx="1374.9" cy="91.3" r="0.6" fill="#f6ecd0"/><circle cx="1412.7" cy="131.2" r="0.7" fill="#f6ecd0"/><circle cx="1378.4" cy="86.8" r="0.8" fill="#f6ecd0"/><circle cx="1323.9" cy="103.8" r="1.0" fill="#f6ecd0"/><circle cx="1465.2" cy="119.9" r="0.9" fill="#f6ecd0"/><circle cx="1368.5" cy="96.9" r="0.5" fill="#f6ecd0"/><circle cx="1441.1" cy="137.9" r="0.7" fill="#f6ecd0"/><circle cx="1423.8" cy="52.9" r="0.9" fill="#f6ecd0"/><circle cx="1427.6" cy="130.5" r="0.7" fill="#f6ecd0"/><circle cx="1460.9" cy="121.8" r="0.6" fill="#f6ecd0"/><circle cx="1421.6" cy="137.4" r="1.2" fill="#f6ecd0"/><circle cx="1367.2" cy="76.7" r="0.6" fill="#f6ecd0"/><circle cx="1375.6" cy="79.2" r="1.0" fill="#f6ecd0"/><circle cx="1342.5" cy="54.6" r="0.7" fill="#f6ecd0"/><circle cx="1374.0" cy="82.8" r="1.0" fill="#f6ecd0"/><circle cx="1434.0" cy="118.6" r="1.2" fill="#f6ecd0"/><circle cx="1448.1" cy="50.6" r="0.7" fill="#f6ecd0"/><circle cx="1350.1" cy="63.0" r="0.9" fill="#f6ecd0"/><circle cx="1361.1" cy="104.8" r="0.9" fill="#f6ecd0"/><circle cx="1360.8" cy="96.0" r="0.9" fill="#f6ecd0"/><circle cx="1340.8" cy="82.7" r="1.1" fill="#f6ecd0"/><circle cx="1443.0" cy="134.2" r="1.0" fill="#f6ecd0"/><circle cx="1363.5" cy="89.1" r="0.7" fill="#f6ecd0"/><circle cx="1491.4" cy="60.3" r="0.8" fill="#f6ecd0"/><circle cx="1355.9" cy="65.1" r="0.6" fill="#f6ecd0"/><circle cx="1418.9" cy="56.1" r="1.0" fill="#f6ecd0"/><circle cx="1461.2" cy="138.3" r="1.0" fill="#f6ecd0"/><circle cx="1391.0" cy="78.5" r="0.8" fill="#f6ecd0"/><circle cx="1378.7" cy="44.8" r="0.5" fill="#f6ecd0"/><circle cx="1434.7" cy="142.1" r="0.9" fill="#f6ecd0"/><circle cx="1369.4" cy="49.2" r="1.1" fill="#f6ecd0"/><circle cx="1357.3" cy="91.8" r="1.2" fill="#f6ecd0"/><circle cx="1466.1" cy="121.7" r="1.1" fill="#f6ecd0"/><circle cx="1431.2" cy="133.3" r="0.9" fill="#f6ecd0"/><circle cx="1373.4" cy="61.2" r="0.6" fill="#f6ecd0"/><circle cx="1429.8" cy="105.3" r="1.0" fill="#f6ecd0"/><circle cx="1496.9" cy="123.6" r="1.2" fill="#f6ecd0"/><circle cx="1428.1" cy="136.8" r="0.7" fill="#f6ecd0"/><circle cx="1360.4" cy="85.8" r="1.0" fill="#f6ecd0"/><circle cx="1409.5" cy="136.0" r="0.6" fill="#f6ecd0"/><circle cx="1367.7" cy="95.5" r="0.6" fill="#f6ecd0"/><circle cx="1436.0" cy="48.4" r="1.2" fill="#f6ecd0"/><circle cx="1331.1" cy="57.1" r="0.7" fill="#f6ecd0"/><circle cx="1377.0" cy="55.4" r="0.6" fill="#f6ecd0"/><circle cx="1449.0" cy="144.8" r="1.1" fill="#f6ecd0"/><circle cx="1361.1" cy="86.2" r="1.2" fill="#f6ecd0"/><circle cx="1451.9" cy="22.5" r="1.1" fill="#f6ecd0"/><circle cx="1450.5" cy="124.1" r="0.6" fill="#f6ecd0"/><circle cx="1492.4" cy="136.6" r="0.9" fill="#f6ecd0"/><circle cx="1479.6" cy="138.5" r="0.7" fill="#f6ecd0"/><circle cx="1454.8" cy="90.5" r="0.9" fill="#f6ecd0"/><circle cx="1433.3" cy="103.5" r="0.8" fill="#f6ecd0"/><circle cx="1386.7" cy="82.3" r="1.1" fill="#f6ecd0"/><circle cx="1381.8" cy="79.8" r="1.1" fill="#f6ecd0"/><circle cx="1449.4" cy="35.2" r="1.1" fill="#f6ecd0"/><circle cx="1357.4" cy="110.0" r="1.1" fill="#f6ecd0"/><circle cx="1410.3" cy="109.2" r="0.9" fill="#f6ecd0"/><circle cx="1428.0" cy="53.5" r="0.8" fill="#f6ecd0"/><circle cx="1378.9" cy="84.3" r="0.7" fill="#f6ecd0"/><circle cx="1376.5" cy="82.4" r="1.1" fill="#f6ecd0"/><circle cx="1496.9" cy="81.6" r="0.7" fill="#f6ecd0"/><circle cx="1471.5" cy="43.0" r="0.7" fill="#f6ecd0"/><circle cx="1460.5" cy="134.5" r="1.2" fill="#f6ecd0"/><circle cx="1397.0" cy="98.6" r="0.6" fill="#f6ecd0"/><circle cx="1360.2" cy="69.0" r="0.7" fill="#f6ecd0"/><circle cx="1459.8" cy="104.8" r="0.8" fill="#f6ecd0"/><circle cx="1402.9" cy="78.0" r="0.8" fill="#f6ecd0"/><circle cx="1396.4" cy="115.7" r="0.6" fill="#f6ecd0"/><circle cx="1353.5" cy="77.4" r="0.6" fill="#f6ecd0"/><circle cx="1440.6" cy="79.0" r="0.6" fill="#f6ecd0"/><circle cx="1443.6" cy="144.0" r="1.1" fill="#f6ecd0"/><circle cx="1357.6" cy="113.5" r="1.1" fill="#f6ecd0"/><circle cx="1350.0" cy="58.3" r="1.0" fill="#f6ecd0"/><circle cx="1436.1" cy="101.0" r="0.9" fill="#f6ecd0"/><circle cx="1344.5" cy="69.7" r="0.5" fill="#f6ecd0"/><circle cx="1417.5" cy="87.8" r="0.6" fill="#f6ecd0"/><circle cx="1355.8" cy="60.0" r="1.0" fill="#f6ecd0"/><circle cx="1439.2" cy="151.8" r="0.7" fill="#f6ecd0"/><circle cx="1459.2" cy="47.6" r="0.5" fill="#f6ecd0"/><circle cx="1453.0" cy="133.0" r="0.8" fill="#f6ecd0"/><circle cx="1351.1" cy="51.2" r="0.6" fill="#f6ecd0"/><circle cx="1422.4" cy="125.8" r="1.1" fill="#f6ecd0"/><circle cx="1359.6" cy="49.7" r="0.6" fill="#f6ecd0"/><circle cx="1424.9" cy="28.6" r="0.5" fill="#f6ecd0"/><circle cx="1471.2" cy="111.1" r="0.5" fill="#f6ecd0"/><circle cx="1446.2" cy="120.2" r="0.8" fill="#f6ecd0"/><circle cx="1480.4" cy="129.3" r="0.9" fill="#f6ecd0"/><circle cx="1375.5" cy="51.6" r="0.5" fill="#f6ecd0"/><circle cx="1425.0" cy="60.3" r="0.5" fill="#f6ecd0"/><circle cx="1354.9" cy="47.7" r="0.7" fill="#f6ecd0"/><circle cx="1375.0" cy="87.5" r="0.5" fill="#f6ecd0"/><circle cx="1362.4" cy="76.0" r="0.6" fill="#f6ecd0"/><circle cx="1439.6" cy="51.7" r="1.1" fill="#f6ecd0"/><circle cx="1435.0" cy="37.0" r="0.7" fill="#f6ecd0"/><circle cx="1357.4" cy="77.5" r="1.0" fill="#f6ecd0"/><circle cx="1436.1" cy="115.0" r="1.1" fill="#f6ecd0"/><circle cx="1435.4" cy="110.7" r="0.9" fill="#f6ecd0"/><circle cx="1348.7" cy="64.6" r="0.7" fill="#f6ecd0"/><circle cx="1370.7" cy="107.6" r="0.7" fill="#f6ecd0"/><circle cx="1361.1" cy="76.1" r="1.0" fill="#f6ecd0"/><circle cx="1449.7" cy="14.1" r="1.0" fill="#f6ecd0"/><circle cx="1367.9" cy="94.5" r="0.9" fill="#f6ecd0"/><circle cx="1369.2" cy="99.2" r="0.6" fill="#f6ecd0"/><circle cx="1355.4" cy="91.5" r="0.8" fill="#f6ecd0"/><circle cx="1433.9" cy="53.8" r="1.0" fill="#f6ecd0"/><circle cx="1350.6" cy="61.4" r="1.1" fill="#f6ecd0"/><circle cx="1393.2" cy="88.9" r="1.0" fill="#f6ecd0"/><circle cx="1413.6" cy="104.5" r="0.8" fill="#f6ecd0"/><circle cx="1367.8" cy="74.6" r="0.8" fill="#f6ecd0"/><circle cx="1462.5" cy="142.9" r="0.7" fill="#f6ecd0"/><circle cx="1361.9" cy="53.5" r="0.7" fill="#f6ecd0"/><circle cx="1449.2" cy="141.8" r="0.9" fill="#f6ecd0"/><circle cx="1401.9" cy="93.5" r="0.6" fill="#f6ecd0"/><circle cx="1472.9" cy="146.4" r="0.6" fill="#f6ecd0"/><circle cx="1384.7" cy="98.7" r="0.8" fill="#f6ecd0"/><circle cx="1356.4" cy="98.2" r="0.6" fill="#f6ecd0"/><circle cx="1403.3" cy="120.5" r="0.6" fill="#f6ecd0"/><circle cx="1423.5" cy="118.1" r="0.7" fill="#f6ecd0"/><circle cx="1375.3" cy="91.9" r="1.0" fill="#f6ecd0"/><circle cx="1334.2" cy="77.2" r="0.5" fill="#f6ecd0"/><circle cx="1420.4" cy="158.6" r="0.5" fill="#f6ecd0"/><circle cx="1416.7" cy="27.6" r="0.6" fill="#f6ecd0"/><circle cx="1401.8" cy="102.4" r="0.5" fill="#f6ecd0"/><circle cx="1444.3" cy="134.5" r="0.7" fill="#f6ecd0"/><circle cx="1334.6" cy="53.3" r="1.1" fill="#f6ecd0"/><circle cx="1376.1" cy="97.5" r="0.7" fill="#f6ecd0"/><circle cx="1408.4" cy="160.4" r="1.1" fill="#f6ecd0"/><circle cx="1377.3" cy="93.8" r="1.1" fill="#f6ecd0"/><circle cx="1340.1" cy="87.6" r="0.8" fill="#f6ecd0"/><circle cx="1360.3" cy="87.1" r="0.9" fill="#f6ecd0"/><circle cx="1397.9" cy="97.9" r="0.7" fill="#f6ecd0"/><circle cx="1405.1" cy="105.3" r="0.9" fill="#f6ecd0"/><circle cx="1364.0" cy="84.0" r="1.0" fill="#f6ecd0"/><circle cx="1355.8" cy="64.2" r="1.1" fill="#f6ecd0"/><circle cx="1367.0" cy="95.9" r="1.0" fill="#f6ecd0"/><circle cx="1368.3" cy="52.3" r="1.0" fill="#f6ecd0"/><circle cx="1485.4" cy="70.6" r="0.8" fill="#f6ecd0"/><circle cx="1371.8" cy="104.7" r="0.6" fill="#f6ecd0"/><circle cx="1375.4" cy="108.1" r="0.9" fill="#f6ecd0"/><circle cx="1345.3" cy="56.3" r="1.1" fill="#f6ecd0"/><circle cx="1388.8" cy="163.1" r="1.0" fill="#f6ecd0"/><circle cx="1468.8" cy="65.8" r="1.0" fill="#f6ecd0"/><circle cx="1443.2" cy="127.3" r="0.7" fill="#f6ecd0"/><circle cx="1452.1" cy="135.8" r="0.6" fill="#f6ecd0"/><circle cx="1416.5" cy="121.2" r="1.2" fill="#f6ecd0"/><circle cx="1360.5" cy="85.6" r="1.1" fill="#f6ecd0"/><circle cx="1433.5" cy="122.2" r="0.6" fill="#f6ecd0"/><circle cx="1383.6" cy="81.8" r="0.7" fill="#f6ecd0"/><circle cx="1351.6" cy="51.8" r="0.8" fill="#f6ecd0"/><circle cx="1441.1" cy="0.3" r="0.6" fill="#f6ecd0"/><circle cx="1480.7" cy="133.7" r="0.8" fill="#f6ecd0"/><circle cx="1391.8" cy="100.4" r="0.6" fill="#f6ecd0"/><circle cx="1406.1" cy="139.1" r="0.8" fill="#f6ecd0"/><circle cx="1390.8" cy="81.8" r="0.9" fill="#f6ecd0"/><circle cx="1431.7" cy="33.9" r="0.8" fill="#f6ecd0"/><circle cx="1442.2" cy="48.9" r="0.9" fill="#f6ecd0"/><circle cx="1381.5" cy="91.1" r="0.8" fill="#f6ecd0"/><circle cx="1434.9" cy="145.0" r="0.6" fill="#f6ecd0"/><circle cx="1449.9" cy="55.7" r="0.7" fill="#f6ecd0"/><circle cx="1324.3" cy="86.2" r="0.7" fill="#f6ecd0"/><circle cx="1357.3" cy="52.6" r="0.5" fill="#f6ecd0"/><circle cx="1339.7" cy="63.3" r="1.0" fill="#f6ecd0"/><circle cx="1373.6" cy="44.6" r="0.6" fill="#f6ecd0"/><circle cx="1375.5" cy="75.5" r="1.2" fill="#f6ecd0"/><circle cx="1421.6" cy="31.8" r="0.8" fill="#f6ecd0"/><circle cx="1458.6" cy="131.4" r="0.6" fill="#f6ecd0"/><circle cx="1421.8" cy="86.4" r="0.9" fill="#f6ecd0"/><circle cx="1444.4" cy="120.5" r="0.8" fill="#f6ecd0"/><circle cx="1379.6" cy="71.8" r="0.9" fill="#f6ecd0"/><circle cx="1375.0" cy="91.1" r="1.1" fill="#f6ecd0"/><circle cx="1377.3" cy="92.2" r="0.9" fill="#f6ecd0"/><circle cx="1468.6" cy="122.8" r="0.6" fill="#f6ecd0"/><circle cx="1346.2" cy="88.2" r="1.1" fill="#f6ecd0"/><circle cx="1369.9" cy="98.9" r="0.9" fill="#f6ecd0"/><circle cx="1441.8" cy="34.2" r="0.8" fill="#f6ecd0"/><circle cx="1457.2" cy="143.1" r="1.1" fill="#f6ecd0"/><circle cx="1458.2" cy="116.6" r="0.8" fill="#f6ecd0"/><circle cx="1390.1" cy="95.7" r="1.0" fill="#f6ecd0"/><circle cx="1371.5" cy="105.1" r="1.0" fill="#f6ecd0"/><circle cx="1441.2" cy="126.3" r="1.0" fill="#f6ecd0"/><circle cx="1419.7" cy="94.5" r="0.7" fill="#f6ecd0"/><circle cx="1445.5" cy="133.9" r="1.0" fill="#f6ecd0"/><circle cx="1445.8" cy="102.2" r="0.6" fill="#f6ecd0"/><circle cx="1400.5" cy="63.8" r="1.1" fill="#f6ecd0"/><circle cx="1441.2" cy="125.4" r="0.9" fill="#f6ecd0"/><circle cx="1370.3" cy="43.4" r="0.6" fill="#f6ecd0"/><circle cx="1463.4" cy="34.7" r="1.0" fill="#f6ecd0"/><circle cx="1428.6" cy="118.5" r="0.9" fill="#f6ecd0"/><circle cx="1417.4" cy="138.9" r="0.6" fill="#f6ecd0"/><circle cx="1370.0" cy="101.1" r="0.9" fill="#f6ecd0"/><circle cx="1472.0" cy="150.0" r="0.8" fill="#f6ecd0"/><circle cx="1396.0" cy="144.4" r="0.6" fill="#f6ecd0"/><circle cx="1431.5" cy="117.4" r="1.1" fill="#f6ecd0"/><circle cx="1426.0" cy="118.5" r="1.1" fill="#f6ecd0"/><circle cx="1357.7" cy="68.0" r="1.2" fill="#f6ecd0"/><circle cx="1367.6" cy="98.2" r="0.7" fill="#f6ecd0"/><circle cx="1400.1" cy="84.1" r="0.9" fill="#f6ecd0"/><circle cx="1357.3" cy="80.6" r="0.7" fill="#f6ecd0"/><circle cx="1434.7" cy="43.3" r="1.1" fill="#f6ecd0"/><circle cx="1409.7" cy="83.1" r="0.8" fill="#f6ecd0"/><circle cx="1361.0" cy="98.5" r="1.1" fill="#f6ecd0"/><circle cx="1447.0" cy="54.9" r="1.0" fill="#f6ecd0"/><circle cx="1436.0" cy="14.4" r="0.9" fill="#f6ecd0"/><circle cx="1451.8" cy="126.5" r="0.5" fill="#f6ecd0"/><circle cx="1406.4" cy="86.4" r="0.8" fill="#f6ecd0"/><circle cx="1441.9" cy="133.6" r="0.7" fill="#f6ecd0"/><circle cx="1413.5" cy="120.9" r="0.6" fill="#f6ecd0"/><circle cx="1416.1" cy="135.0" r="1.0" fill="#f6ecd0"/><circle cx="1378.5" cy="93.1" r="1.0" fill="#f6ecd0"/><circle cx="1490.2" cy="47.8" r="0.9" fill="#f6ecd0"/><circle cx="1421.9" cy="123.5" r="1.0" fill="#f6ecd0"/><circle cx="1364.6" cy="98.4" r="0.7" fill="#f6ecd0"/><circle cx="1389.8" cy="86.3" r="0.9" fill="#f6ecd0"/><circle cx="1428.6" cy="113.9" r="1.0" fill="#f6ecd0"/><circle cx="1352.8" cy="92.3" r="1.1" fill="#f6ecd0"/><circle cx="1473.1" cy="31.0" r="0.7" fill="#f6ecd0"/><circle cx="1456.7" cy="131.9" r="0.7" fill="#f6ecd0"/><circle cx="1341.6" cy="49.2" r="0.9" fill="#f6ecd0"/><circle cx="1344.0" cy="66.9" r="0.6" fill="#f6ecd0"/><circle cx="1466.9" cy="147.0" r="1.0" fill="#f6ecd0"/><circle cx="1417.5" cy="19.5" r="0.6" fill="#f6ecd0"/><circle cx="1450.2" cy="120.2" r="0.6" fill="#f6ecd0"/><circle cx="1452.0" cy="69.1" r="0.9" fill="#f6ecd0"/><circle cx="1350.7" cy="56.1" r="1.0" fill="#f6ecd0"/><circle cx="1351.4" cy="49.4" r="0.9" fill="#f6ecd0"/><circle cx="1432.5" cy="130.8" r="0.7" fill="#f6ecd0"/><circle cx="1386.3" cy="55.9" r="0.6" fill="#f6ecd0"/><circle cx="1383.3" cy="83.1" r="0.7" fill="#f6ecd0"/><circle cx="1339.7" cy="56.7" r="1.0" fill="#f6ecd0"/><circle cx="1360.1" cy="101.7" r="1.2" fill="#f6ecd0"/><circle cx="1435.5" cy="69.2" r="0.7" fill="#f6ecd0"/><circle cx="1475.8" cy="34.4" r="0.6" fill="#f6ecd0"/><circle cx="1384.4" cy="90.8" r="0.5" fill="#f6ecd0"/><circle cx="1414.3" cy="133.8" r="1.1" fill="#f6ecd0"/><circle cx="1361.3" cy="70.1" r="0.8" fill="#f6ecd0"/><circle cx="1358.8" cy="89.7" r="1.2" fill="#f6ecd0"/><circle cx="1348.1" cy="64.4" r="1.0" fill="#f6ecd0"/><circle cx="1384.1" cy="71.8" r="0.5" fill="#f6ecd0"/><circle cx="1346.1" cy="79.1" r="1.0" fill="#f6ecd0"/><circle cx="1444.1" cy="51.3" r="1.1" fill="#f6ecd0"/><circle cx="1453.1" cy="133.6" r="1.0" fill="#f6ecd0"/><circle cx="1441.1" cy="151.6" r="0.9" fill="#f6ecd0"/><circle cx="1364.7" cy="71.1" r="0.8" fill="#f6ecd0"/><circle cx="1395.4" cy="94.6" r="0.8" fill="#f6ecd0"/><circle cx="1366.1" cy="95.6" r="0.8" fill="#f6ecd0"/><circle cx="1429.8" cy="140.5" r="0.9" fill="#f6ecd0"/><circle cx="1364.3" cy="79.3" r="0.7" fill="#f6ecd0"/><circle cx="1344.2" cy="91.0" r="1.0" fill="#f6ecd0"/><circle cx="1360.7" cy="58.5" r="0.5" fill="#f6ecd0"/><circle cx="1417.6" cy="145.9" r="1.1" fill="#f6ecd0"/><circle cx="1420.4" cy="20.4" r="1.2" fill="#f6ecd0"/><circle cx="1378.2" cy="101.1" r="0.9" fill="#f6ecd0"/><circle cx="1466.3" cy="57.2" r="1.0" fill="#f6ecd0"/><circle cx="1460.8" cy="50.4" r="0.8" fill="#f6ecd0"/><circle cx="1421.1" cy="140.5" r="0.9" fill="#f6ecd0"/><circle cx="1350.2" cy="92.6" r="1.0" fill="#f6ecd0"/><circle cx="1352.3" cy="57.0" r="0.8" fill="#f6ecd0"/><circle cx="1434.3" cy="71.9" r="1.2" fill="#f6ecd0"/><circle cx="1438.9" cy="112.8" r="0.6" fill="#f6ecd0"/><circle cx="1382.0" cy="88.8" r="0.6" fill="#f6ecd0"/><circle cx="1361.3" cy="112.9" r="1.0" fill="#f6ecd0"/><circle cx="1458.1" cy="142.8" r="0.9" fill="#f6ecd0"/><circle cx="1338.1" cy="48.0" r="0.6" fill="#f6ecd0"/><circle cx="1382.3" cy="59.8" r="0.8" fill="#f6ecd0"/><circle cx="1430.3" cy="127.2" r="0.6" fill="#f6ecd0"/><circle cx="1396.9" cy="150.0" r="0.7" fill="#f6ecd0"/><circle cx="1368.5" cy="80.5" r="1.0" fill="#f6ecd0"/><circle cx="1433.6" cy="49.0" r="0.7" fill="#f6ecd0"/><circle cx="1422.7" cy="153.4" r="0.8" fill="#f6ecd0"/><circle cx="1343.6" cy="84.7" r="0.9" fill="#f6ecd0"/><circle cx="1356.0" cy="79.5" r="0.9" fill="#f6ecd0"/><circle cx="1368.1" cy="88.4" r="0.7" fill="#f6ecd0"/><circle cx="1375.8" cy="115.2" r="0.5" fill="#f6ecd0"/><circle cx="1326.2" cy="86.4" r="1.2" fill="#f6ecd0"/><circle cx="1374.0" cy="102.6" r="0.7" fill="#f6ecd0"/><circle cx="1362.2" cy="52.2" r="0.6" fill="#f6ecd0"/><circle cx="1403.8" cy="139.5" r="1.1" fill="#f6ecd0"/><circle cx="1385.6" cy="33.8" r="0.5" fill="#f6ecd0"/><circle cx="1386.3" cy="105.2" r="0.6" fill="#f6ecd0"/><circle cx="1461.1" cy="62.8" r="0.8" fill="#f6ecd0"/><circle cx="1367.1" cy="94.3" r="0.8" fill="#f6ecd0"/><circle cx="1407.4" cy="108.3" r="1.1" fill="#f6ecd0"/><circle cx="1454.9" cy="128.1" r="0.6" fill="#f6ecd0"/><circle cx="1425.7" cy="139.0" r="1.1" fill="#f6ecd0"/><circle cx="1443.6" cy="47.2" r="1.2" fill="#f6ecd0"/><circle cx="1378.4" cy="106.3" r="0.6" fill="#f6ecd0"/><circle cx="1347.5" cy="73.6" r="0.5" fill="#f6ecd0"/><circle cx="1439.8" cy="144.1" r="0.6" fill="#f6ecd0"/><circle cx="1370.6" cy="105.8" r="0.5" fill="#f6ecd0"/><circle cx="1434.5" cy="139.0" r="0.6" fill="#f6ecd0"/><circle cx="1398.2" cy="81.7" r="0.8" fill="#f6ecd0"/><circle cx="1432.8" cy="86.9" r="1.2" fill="#f6ecd0"/><circle cx="1429.3" cy="118.9" r="0.8" fill="#f6ecd0"/><circle cx="1425.0" cy="54.0" r="1.2" fill="#f6ecd0"/><circle cx="1417.8" cy="131.3" r="0.7" fill="#f6ecd0"/><circle cx="1404.1" cy="85.9" r="1.0" fill="#f6ecd0"/><circle cx="1442.2" cy="67.9" r="1.2" fill="#f6ecd0"/><circle cx="1343.2" cy="64.4" r="0.9" fill="#f6ecd0"/><circle cx="1426.3" cy="142.9" r="1.0" fill="#f6ecd0"/><circle cx="1435.2" cy="125.3" r="0.7" fill="#f6ecd0"/><circle cx="1342.9" cy="93.8" r="1.2" fill="#f6ecd0"/><circle cx="1352.6" cy="56.2" r="0.8" fill="#f6ecd0"/><circle cx="1436.6" cy="132.1" r="0.6" fill="#f6ecd0"/><circle cx="1467.8" cy="63.7" r="0.9" fill="#f6ecd0"/><circle cx="1483.7" cy="109.6" r="1.1" fill="#f6ecd0"/><circle cx="1357.9" cy="95.6" r="1.2" fill="#f6ecd0"/><circle cx="1384.5" cy="91.2" r="1.2" fill="#f6ecd0"/><circle cx="1354.8" cy="54.2" r="1.0" fill="#f6ecd0"/><circle cx="1405.5" cy="79.7" r="0.7" fill="#f6ecd0"/><circle cx="1342.4" cy="49.9" r="0.7" fill="#f6ecd0"/><circle cx="1465.3" cy="13.2" r="1.1" fill="#f6ecd0"/><circle cx="1394.2" cy="101.5" r="0.5" fill="#f6ecd0"/><circle cx="1434.8" cy="115.7" r="0.9" fill="#f6ecd0"/><circle cx="1434.4" cy="116.2" r="0.6" fill="#f6ecd0"/><circle cx="1466.8" cy="140.1" r="0.9" fill="#f6ecd0"/><circle cx="1443.0" cy="31.3" r="0.5" fill="#f6ecd0"/><circle cx="1357.5" cy="47.9" r="0.7" fill="#f6ecd0"/><circle cx="1416.7" cy="85.8" r="0.8" fill="#f6ecd0"/><circle cx="1429.0" cy="124.1" r="0.8" fill="#f6ecd0"/><circle cx="1448.5" cy="127.3" r="0.9" fill="#f6ecd0"/><circle cx="1370.7" cy="99.6" r="0.6" fill="#f6ecd0"/><circle cx="1446.4" cy="112.5" r="0.8" fill="#f6ecd0"/><circle cx="1423.9" cy="125.6" r="0.9" fill="#f6ecd0"/><circle cx="1443.5" cy="56.0" r="1.0" fill="#f6ecd0"/><circle cx="1406.0" cy="130.2" r="0.8" fill="#f6ecd0"/><circle cx="1413.2" cy="51.1" r="1.1" fill="#f6ecd0"/><circle cx="1464.3" cy="70.0" r="0.7" fill="#f6ecd0"/><circle cx="1350.9" cy="62.5" r="1.0" fill="#f6ecd0"/><circle cx="1454.9" cy="60.2" r="0.6" fill="#f6ecd0"/><circle cx="1421.2" cy="125.5" r="0.8" fill="#f6ecd0"/><circle cx="1412.9" cy="75.6" r="0.6" fill="#f6ecd0"/><circle cx="1505.6" cy="158.4" r="0.5" fill="#f6ecd0"/><circle cx="1469.3" cy="6.4" r="1.0" fill="#f6ecd0"/><circle cx="1476.7" cy="126.8" r="0.7" fill="#f6ecd0"/><circle cx="1475.5" cy="17.6" r="0.6" fill="#f6ecd0"/><circle cx="1451.7" cy="126.6" r="1.1" fill="#f6ecd0"/><circle cx="1430.7" cy="150.6" r="0.9" fill="#f6ecd0"/><circle cx="1400.6" cy="76.5" r="1.0" fill="#f6ecd0"/><circle cx="1388.3" cy="101.4" r="0.7" fill="#f6ecd0"/><circle cx="1368.5" cy="60.8" r="0.7" fill="#f6ecd0"/><circle cx="1490.7" cy="142.9" r="0.6" fill="#f6ecd0"/><circle cx="1464.2" cy="58.9" r="0.9" fill="#f6ecd0"/><circle cx="1444.8" cy="112.4" r="1.0" fill="#f6ecd0"/><circle cx="1361.1" cy="58.0" r="1.1" fill="#f6ecd0"/><circle cx="1416.2" cy="129.6" r="1.1" fill="#f6ecd0"/><circle cx="1449.6" cy="134.2" r="0.7" fill="#f6ecd0"/><circle cx="1381.7" cy="93.9" r="0.7" fill="#f6ecd0"/><circle cx="1460.9" cy="120.6" r="0.6" fill="#f6ecd0"/><circle cx="1339.4" cy="69.9" r="0.6" fill="#f6ecd0"/><circle cx="1404.0" cy="135.7" r="0.6" fill="#f6ecd0"/><circle cx="1466.6" cy="128.0" r="0.9" fill="#f6ecd0"/><circle cx="1356.2" cy="99.4" r="0.5" fill="#f6ecd0"/><circle cx="1422.8" cy="128.5" r="0.8" fill="#f6ecd0"/><circle cx="1427.3" cy="119.0" r="0.8" fill="#f6ecd0"/><circle cx="1454.7" cy="144.9" r="1.1" fill="#f6ecd0"/><circle cx="1430.9" cy="82.2" r="0.8" fill="#f6ecd0"/><circle cx="1361.4" cy="94.2" r="0.6" fill="#f6ecd0"/><circle cx="1365.5" cy="53.6" r="0.6" fill="#f6ecd0"/><circle cx="1443.7" cy="78.1" r="0.8" fill="#f6ecd0"/><circle cx="1344.9" cy="76.3" r="1.0" fill="#f6ecd0"/><circle cx="1421.6" cy="125.4" r="0.7" fill="#f6ecd0"/><circle cx="1352.4" cy="108.8" r="0.8" fill="#f6ecd0"/><circle cx="1482.7" cy="112.9" r="0.8" fill="#f6ecd0"/><circle cx="1469.5" cy="158.4" r="0.7" fill="#f6ecd0"/><circle cx="1415.1" cy="126.6" r="1.1" fill="#f6ecd0"/><circle cx="1348.0" cy="57.8" r="1.1" fill="#f6ecd0"/><circle cx="1384.5" cy="102.2" r="1.2" fill="#f6ecd0"/><circle cx="1410.8" cy="92.0" r="1.2" fill="#f6ecd0"/><circle cx="1387.0" cy="85.3" r="0.5" fill="#f6ecd0"/><circle cx="1508.8" cy="44.7" r="0.9" fill="#f6ecd0"/><circle cx="1351.4" cy="96.9" r="1.2" fill="#f6ecd0"/><circle cx="1355.9" cy="94.0" r="0.7" fill="#f6ecd0"/><circle cx="1356.8" cy="55.1" r="0.5" fill="#f6ecd0"/><circle cx="1352.9" cy="60.8" r="0.9" fill="#f6ecd0"/><circle cx="1410.3" cy="96.7" r="0.8" fill="#f6ecd0"/><circle cx="1412.6" cy="142.9" r="0.9" fill="#f6ecd0"/><circle cx="1421.6" cy="141.5" r="0.9" fill="#f6ecd0"/><circle cx="1369.0" cy="121.5" r="1.2" fill="#f6ecd0"/><circle cx="1358.0" cy="74.2" r="1.2" fill="#f6ecd0"/><circle cx="1342.1" cy="52.8" r="0.8" fill="#f6ecd0"/><circle cx="1422.7" cy="129.1" r="1.2" fill="#f6ecd0"/><circle cx="1431.3" cy="131.2" r="0.7" fill="#f6ecd0"/><circle cx="1462.1" cy="115.9" r="1.1" fill="#f6ecd0"/><circle cx="1392.4" cy="78.4" r="1.2" fill="#f6ecd0"/><circle cx="1464.4" cy="159.9" r="0.8" fill="#f6ecd0"/><circle cx="1482.2" cy="59.0" r="0.6" fill="#f6ecd0"/><circle cx="1464.8" cy="138.4" r="1.0" fill="#f6ecd0"/><circle cx="1454.7" cy="69.8" r="0.9" fill="#f6ecd0"/><circle cx="1382.9" cy="87.4" r="0.7" fill="#f6ecd0"/><circle cx="1343.1" cy="66.9" r="0.7" fill="#f6ecd0"/><circle cx="1361.1" cy="58.9" r="1.2" fill="#f6ecd0"/><circle cx="1432.6" cy="147.0" r="1.0" fill="#f6ecd0"/><circle cx="1332.4" cy="53.5" r="1.2" fill="#f6ecd0"/><circle cx="1437.0" cy="137.0" r="0.6" fill="#f6ecd0"/><circle cx="1432.1" cy="127.2" r="0.8" fill="#f6ecd0"/><circle cx="1355.1" cy="98.3" r="0.8" fill="#f6ecd0"/><circle cx="1458.8" cy="40.7" r="1.1" fill="#f6ecd0"/><circle cx="1355.0" cy="65.1" r="0.8" fill="#f6ecd0"/><circle cx="1467.9" cy="64.9" r="0.6" fill="#f6ecd0"/><circle cx="1384.5" cy="85.2" r="1.1" fill="#f6ecd0"/><circle cx="1336.2" cy="79.5" r="0.8" fill="#f6ecd0"/><circle cx="1328.8" cy="61.2" r="0.7" fill="#f6ecd0"/><circle cx="1414.6" cy="114.6" r="0.8" fill="#f6ecd0"/><circle cx="1423.4" cy="114.1" r="1.0" fill="#f6ecd0"/><circle cx="1474.6" cy="128.4" r="1.1" fill="#f6ecd0"/><circle cx="1431.8" cy="39.1" r="0.9" fill="#f6ecd0"/><circle cx="1415.6" cy="87.3" r="0.8" fill="#f6ecd0"/><circle cx="1452.5" cy="66.6" r="1.1" fill="#f6ecd0"/><circle cx="1449.8" cy="41.2" r="0.5" fill="#f6ecd0"/><circle cx="1380.7" cy="70.2" r="0.9" fill="#f6ecd0"/><circle cx="1333.0" cy="60.6" r="0.5" fill="#f6ecd0"/><circle cx="1420.5" cy="62.3" r="0.7" fill="#f6ecd0"/><circle cx="1367.0" cy="65.2" r="0.6" fill="#f6ecd0"/><circle cx="1372.7" cy="102.5" r="0.7" fill="#f6ecd0"/><circle cx="1436.3" cy="152.8" r="0.7" fill="#f6ecd0"/><circle cx="1461.2" cy="35.7" r="1.0" fill="#f6ecd0"/><circle cx="1358.4" cy="60.1" r="1.0" fill="#f6ecd0"/><circle cx="1356.8" cy="60.9" r="1.1" fill="#f6ecd0"/><circle cx="1370.3" cy="110.2" r="0.9" fill="#f6ecd0"/><circle cx="1455.4" cy="71.8" r="0.9" fill="#f6ecd0"/><circle cx="1417.8" cy="149.2" r="0.8" fill="#f6ecd0"/><circle cx="1463.4" cy="121.0" r="0.6" fill="#f6ecd0"/><circle cx="1364.0" cy="112.2" r="1.0" fill="#f6ecd0"/><circle cx="1441.6" cy="112.3" r="1.0" fill="#f6ecd0"/><circle cx="1389.2" cy="93.2" r="1.2" fill="#f6ecd0"/><circle cx="1353.5" cy="69.7" r="0.5" fill="#f6ecd0"/><circle cx="1452.5" cy="23.6" r="0.9" fill="#f6ecd0"/><circle cx="1383.4" cy="81.7" r="1.0" fill="#f6ecd0"/><circle cx="1354.2" cy="88.5" r="0.6" fill="#f6ecd0"/><circle cx="1390.0" cy="89.1" r="0.9" fill="#f6ecd0"/><circle cx="1459.3" cy="128.6" r="0.6" fill="#f6ecd0"/><circle cx="1417.3" cy="132.6" r="1.2" fill="#f6ecd0"/><circle cx="1479.9" cy="139.1" r="0.7" fill="#f6ecd0"/><circle cx="1340.3" cy="55.6" r="0.8" fill="#f6ecd0"/><circle cx="1448.3" cy="34.2" r="0.8" fill="#f6ecd0"/><circle cx="1417.9" cy="138.3" r="0.9" fill="#f6ecd0"/><circle cx="1481.6" cy="39.3" r="1.2" fill="#f6ecd0"/><circle cx="1455.5" cy="70.1" r="0.8" fill="#f6ecd0"/><circle cx="1425.3" cy="37.3" r="0.6" fill="#f6ecd0"/><circle cx="1358.1" cy="93.6" r="1.0" fill="#f6ecd0"/><circle cx="1422.4" cy="132.4" r="0.8" fill="#f6ecd0"/><circle cx="1351.6" cy="77.1" r="1.0" fill="#f6ecd0"/><circle cx="1435.5" cy="112.3" r="1.0" fill="#f6ecd0"/><circle cx="1429.5" cy="129.4" r="0.5" fill="#f6ecd0"/><circle cx="1354.6" cy="114.6" r="0.7" fill="#f6ecd0"/><circle cx="1367.3" cy="81.9" r="0.6" fill="#f6ecd0"/><circle cx="1439.8" cy="104.9" r="0.8" fill="#f6ecd0"/><circle cx="1433.5" cy="146.1" r="0.6" fill="#f6ecd0"/><circle cx="1355.4" cy="96.5" r="1.1" fill="#f6ecd0"/><circle cx="1458.8" cy="45.0" r="0.7" fill="#f6ecd0"/><circle cx="1440.7" cy="42.6" r="1.1" fill="#f6ecd0"/><circle cx="1356.3" cy="66.3" r="0.6" fill="#f6ecd0"/><circle cx="1439.9" cy="114.7" r="0.7" fill="#f6ecd0"/><circle cx="1372.6" cy="90.9" r="1.1" fill="#f6ecd0"/><circle cx="1406.0" cy="114.6" r="1.2" fill="#f6ecd0"/><circle cx="1341.8" cy="64.6" r="1.1" fill="#f6ecd0"/><circle cx="1393.8" cy="89.6" r="0.8" fill="#f6ecd0"/><circle cx="1356.7" cy="103.3" r="1.2" fill="#f6ecd0"/><circle cx="1447.4" cy="128.7" r="1.0" fill="#f6ecd0"/><circle cx="1362.7" cy="76.3" r="0.7" fill="#f6ecd0"/><circle cx="1351.1" cy="91.9" r="0.9" fill="#f6ecd0"/><circle cx="1475.4" cy="129.0" r="0.9" fill="#f6ecd0"/><circle cx="1351.9" cy="96.0" r="1.0" fill="#f6ecd0"/><circle cx="1427.9" cy="117.9" r="0.8" fill="#f6ecd0"/><circle cx="1406.0" cy="96.6" r="0.7" fill="#f6ecd0"/><circle cx="1430.2" cy="69.2" r="0.9" fill="#f6ecd0"/><circle cx="1443.9" cy="117.7" r="1.1" fill="#f6ecd0"/><circle cx="1352.9" cy="95.1" r="1.1" fill="#f6ecd0"/><circle cx="1457.9" cy="141.7" r="1.0" fill="#f6ecd0"/><circle cx="1448.7" cy="25.6" r="0.6" fill="#f6ecd0"/><circle cx="1474.1" cy="86.1" r="0.8" fill="#f6ecd0"/><circle cx="1418.1" cy="133.3" r="0.7" fill="#f6ecd0"/><circle cx="1377.0" cy="95.6" r="0.6" fill="#f6ecd0"/><circle cx="1451.9" cy="61.4" r="1.0" fill="#f6ecd0"/><circle cx="1440.7" cy="136.8" r="0.6" fill="#f6ecd0"/><circle cx="1406.3" cy="145.6" r="0.6" fill="#f6ecd0"/><circle cx="1372.2" cy="85.5" r="0.5" fill="#f6ecd0"/><circle cx="1367.5" cy="95.5" r="0.6" fill="#f6ecd0"/><circle cx="1391.2" cy="83.3" r="0.9" fill="#f6ecd0"/><circle cx="1467.2" cy="113.4" r="0.8" fill="#f6ecd0"/><circle cx="1448.9" cy="119.4" r="0.7" fill="#f6ecd0"/><circle cx="1398.6" cy="82.8" r="0.8" fill="#f6ecd0"/><circle cx="1372.1" cy="92.0" r="0.9" fill="#f6ecd0"/><circle cx="1369.1" cy="79.1" r="0.6" fill="#f6ecd0"/><circle cx="1362.2" cy="102.8" r="1.2" fill="#f6ecd0"/><circle cx="1400.7" cy="101.3" r="1.0" fill="#f6ecd0"/><circle cx="1503.3" cy="124.2" r="0.8" fill="#f6ecd0"/><circle cx="1441.4" cy="156.7" r="1.0" fill="#f6ecd0"/><circle cx="1367.2" cy="107.1" r="1.2" fill="#f6ecd0"/><circle cx="1387.1" cy="82.0" r="1.0" fill="#f6ecd0"/><circle cx="1437.7" cy="96.9" r="1.2" fill="#f6ecd0"/><circle cx="1359.7" cy="84.1" r="0.6" fill="#f6ecd0"/><circle cx="1366.2" cy="72.6" r="1.2" fill="#f6ecd0"/><circle cx="1365.1" cy="86.6" r="1.2" fill="#f6ecd0"/><circle cx="1422.8" cy="51.3" r="0.8" fill="#f6ecd0"/><circle cx="1358.8" cy="109.7" r="1.0" fill="#f6ecd0"/><circle cx="1441.0" cy="60.7" r="0.9" fill="#f6ecd0"/><circle cx="1433.3" cy="131.4" r="0.8" fill="#f6ecd0"/><circle cx="1442.2" cy="133.3" r="1.1" fill="#f6ecd0"/><circle cx="1355.1" cy="95.8" r="1.1" fill="#f6ecd0"/><circle cx="1380.4" cy="85.4" r="1.1" fill="#f6ecd0"/><circle cx="1348.8" cy="48.2" r="0.9" fill="#f6ecd0"/><circle cx="1440.6" cy="134.9" r="0.7" fill="#f6ecd0"/><circle cx="1483.2" cy="30.4" r="0.7" fill="#f6ecd0"/><circle cx="1353.5" cy="54.7" r="0.5" fill="#f6ecd0"/><circle cx="1472.7" cy="47.0" r="0.7" fill="#f6ecd0"/><circle cx="1356.8" cy="67.8" r="0.9" fill="#f6ecd0"/><circle cx="1327.1" cy="79.7" r="1.1" fill="#f6ecd0"/><circle cx="1413.8" cy="98.5" r="0.7" fill="#f6ecd0"/><circle cx="1433.0" cy="125.4" r="0.9" fill="#f6ecd0"/><circle cx="1334.9" cy="102.3" r="0.7" fill="#f6ecd0"/><circle cx="1359.2" cy="72.1" r="0.9" fill="#f6ecd0"/><circle cx="1412.8" cy="167.1" r="0.6" fill="#f6ecd0"/><circle cx="1380.2" cy="104.8" r="1.0" fill="#f6ecd0"/><circle cx="1388.9" cy="142.2" r="0.8" fill="#f6ecd0"/><circle cx="1343.9" cy="59.3" r="0.8" fill="#f6ecd0"/><circle cx="1350.1" cy="105.8" r="0.8" fill="#f6ecd0"/><circle cx="1434.0" cy="142.5" r="0.9" fill="#f6ecd0"/><circle cx="1467.3" cy="122.1" r="0.6" fill="#f6ecd0"/><circle cx="1416.8" cy="83.7" r="0.6" fill="#f6ecd0"/><circle cx="1437.3" cy="123.0" r="1.0" fill="#f6ecd0"/><circle cx="1369.7" cy="43.5" r="0.8" fill="#f6ecd0"/><circle cx="1345.4" cy="105.0" r="0.7" fill="#f6ecd0"/><circle cx="1443.8" cy="106.2" r="0.6" fill="#f6ecd0"/><circle cx="1373.2" cy="64.0" r="0.6" fill="#f6ecd0"/><circle cx="1422.4" cy="80.1" r="0.6" fill="#f6ecd0"/><circle cx="1461.9" cy="4.1" r="0.6" fill="#f6ecd0"/><circle cx="1453.9" cy="133.8" r="0.7" fill="#f6ecd0"/><circle cx="1420.0" cy="45.1" r="1.0" fill="#f6ecd0"/><circle cx="1389.7" cy="77.7" r="0.8" fill="#f6ecd0"/><circle cx="1422.1" cy="145.7" r="1.1" fill="#f6ecd0"/><circle cx="1383.8" cy="84.4" r="0.7" fill="#f6ecd0"/><circle cx="1359.1" cy="47.8" r="1.0" fill="#f6ecd0"/><circle cx="1422.4" cy="122.2" r="0.8" fill="#f6ecd0"/><circle cx="1408.9" cy="73.7" r="0.7" fill="#f6ecd0"/><circle cx="1434.0" cy="109.2" r="0.7" fill="#f6ecd0"/><circle cx="1428.5" cy="127.2" r="0.9" fill="#f6ecd0"/><circle cx="1337.0" cy="108.0" r="1.2" fill="#f6ecd0"/><circle cx="1393.4" cy="103.2" r="1.0" fill="#f6ecd0"/><circle cx="1442.7" cy="123.0" r="0.9" fill="#f6ecd0"/><circle cx="1376.5" cy="91.9" r="0.9" fill="#f6ecd0"/><circle cx="1375.3" cy="95.7" r="0.9" fill="#f6ecd0"/><circle cx="1491.1" cy="135.4" r="0.9" fill="#f6ecd0"/><circle cx="1373.6" cy="108.9" r="0.6" fill="#f6ecd0"/><circle cx="1373.1" cy="59.8" r="1.1" fill="#f6ecd0"/><circle cx="1416.9" cy="13.0" r="0.6" fill="#f6ecd0"/><circle cx="1357.7" cy="112.5" r="1.1" fill="#f6ecd0"/><circle cx="1368.3" cy="90.3" r="1.2" fill="#f6ecd0"/><circle cx="1436.2" cy="70.2" r="0.6" fill="#f6ecd0"/><circle cx="1389.6" cy="76.8" r="1.1" fill="#f6ecd0"/><circle cx="1454.0" cy="145.3" r="0.5" fill="#f6ecd0"/><circle cx="1426.6" cy="33.4" r="0.7" fill="#f6ecd0"/><circle cx="1469.6" cy="116.0" r="1.2" fill="#f6ecd0"/><circle cx="1361.6" cy="50.2" r="0.9" fill="#f6ecd0"/><circle cx="1427.3" cy="128.0" r="0.5" fill="#f6ecd0"/><circle cx="1448.9" cy="45.7" r="0.9" fill="#f6ecd0"/><circle cx="1342.4" cy="53.1" r="0.8" fill="#f6ecd0"/><circle cx="1370.2" cy="75.7" r="1.0" fill="#f6ecd0"/><circle cx="1454.5" cy="126.5" r="0.7" fill="#f6ecd0"/><circle cx="1370.1" cy="44.1" r="0.6" fill="#f6ecd0"/><circle cx="1363.9" cy="75.9" r="0.9" fill="#f6ecd0"/><circle cx="1404.2" cy="87.1" r="1.2" fill="#f6ecd0"/><circle cx="1374.0" cy="83.9" r="0.7" fill="#f6ecd0"/><circle cx="1339.7" cy="74.5" r="1.0" fill="#f6ecd0"/><circle cx="1432.1" cy="45.1" r="0.5" fill="#f6ecd0"/><circle cx="1403.1" cy="99.5" r="0.9" fill="#f6ecd0"/><circle cx="1402.9" cy="108.3" r="0.7" fill="#f6ecd0"/><circle cx="1382.0" cy="112.5" r="1.0" fill="#f6ecd0"/><circle cx="1423.1" cy="123.1" r="0.8" fill="#f6ecd0"/><circle cx="1474.0" cy="42.4" r="0.9" fill="#f6ecd0"/><circle cx="1362.0" cy="48.2" r="0.8" fill="#f6ecd0"/><circle cx="1461.8" cy="37.8" r="0.6" fill="#f6ecd0"/><circle cx="1460.1" cy="130.9" r="0.8" fill="#f6ecd0"/><circle cx="1462.0" cy="131.1" r="0.8" fill="#f6ecd0"/><circle cx="1396.5" cy="110.8" r="0.7" fill="#f6ecd0"/><circle cx="1389.5" cy="115.2" r="0.9" fill="#f6ecd0"/><circle cx="1458.0" cy="132.8" r="0.6" fill="#f6ecd0"/><circle cx="1489.4" cy="42.9" r="1.2" fill="#f6ecd0"/><circle cx="1369.1" cy="107.1" r="1.0" fill="#f6ecd0"/><circle cx="1359.0" cy="73.8" r="0.5" fill="#f6ecd0"/><circle cx="1430.2" cy="153.8" r="0.7" fill="#f6ecd0"/><circle cx="1374.3" cy="100.3" r="0.6" fill="#f6ecd0"/><circle cx="1390.7" cy="66.3" r="0.6" fill="#f6ecd0"/><circle cx="1401.7" cy="43.0" r="0.6" fill="#f6ecd0"/><circle cx="1450.6" cy="55.5" r="1.0" fill="#f6ecd0"/><circle cx="1396.6" cy="125.1" r="0.9" fill="#f6ecd0"/><circle cx="1319.1" cy="77.6" r="0.7" fill="#f6ecd0"/><circle cx="1345.9" cy="69.8" r="1.1" fill="#f6ecd0"/><circle cx="1492.5" cy="60.5" r="0.7" fill="#f6ecd0"/><circle cx="1355.3" cy="94.3" r="1.1" fill="#f6ecd0"/><circle cx="1420.0" cy="136.3" r="1.0" fill="#f6ecd0"/><circle cx="1443.2" cy="162.1" r="1.2" fill="#f6ecd0"/><circle cx="1460.0" cy="115.9" r="1.2" fill="#f6ecd0"/><circle cx="1496.8" cy="56.1" r="0.8" fill="#f6ecd0"/><circle cx="1432.4" cy="134.6" r="0.9" fill="#f6ecd0"/><circle cx="1369.6" cy="74.0" r="1.0" fill="#f6ecd0"/><circle cx="1380.9" cy="105.9" r="0.6" fill="#f6ecd0"/><circle cx="1360.2" cy="85.0" r="0.8" fill="#f6ecd0"/><circle cx="1438.4" cy="119.1" r="0.5" fill="#f6ecd0"/><circle cx="1363.2" cy="71.6" r="0.8" fill="#f6ecd0"/><circle cx="1369.2" cy="61.2" r="0.5" fill="#f6ecd0"/><circle cx="1432.1" cy="14.5" r="0.9" fill="#f6ecd0"/><circle cx="1337.6" cy="85.1" r="0.9" fill="#f6ecd0"/><circle cx="1472.9" cy="41.2" r="1.2" fill="#f6ecd0"/><circle cx="1453.1" cy="66.3" r="0.5" fill="#f6ecd0"/><circle cx="1449.2" cy="136.2" r="0.6" fill="#f6ecd0"/><circle cx="1364.3" cy="59.9" r="0.7" fill="#f6ecd0"/><circle cx="1353.5" cy="51.4" r="0.6" fill="#f6ecd0"/><circle cx="1432.7" cy="134.4" r="1.1" fill="#f6ecd0"/><circle cx="1373.1" cy="71.7" r="0.8" fill="#f6ecd0"/><circle cx="1462.8" cy="72.1" r="1.0" fill="#f6ecd0"/><circle cx="1364.0" cy="94.7" r="1.0" fill="#f6ecd0"/><circle cx="1390.5" cy="95.0" r="0.9" fill="#f6ecd0"/><circle cx="1381.4" cy="85.0" r="0.5" fill="#f6ecd0"/><circle cx="1422.4" cy="27.6" r="1.0" fill="#f6ecd0"/><circle cx="1408.4" cy="141.9" r="0.9" fill="#f6ecd0"/><circle cx="1352.3" cy="117.4" r="1.2" fill="#f6ecd0"/><circle cx="1424.6" cy="141.3" r="1.1" fill="#f6ecd0"/><circle cx="1359.9" cy="73.5" r="0.6" fill="#f6ecd0"/><circle cx="1419.0" cy="32.0" r="1.0" fill="#f6ecd0"/><circle cx="1464.8" cy="44.2" r="1.0" fill="#f6ecd0"/><circle cx="1433.6" cy="142.4" r="1.0" fill="#f6ecd0"/><circle cx="1380.2" cy="85.8" r="0.5" fill="#f6ecd0"/><circle cx="1361.8" cy="74.9" r="0.8" fill="#f6ecd0"/><circle cx="1361.8" cy="69.8" r="0.5" fill="#f6ecd0"/><circle cx="1433.2" cy="12.2" r="1.1" fill="#f6ecd0"/><circle cx="1409.2" cy="135.3" r="0.6" fill="#f6ecd0"/><circle cx="1465.1" cy="47.5" r="0.7" fill="#f6ecd0"/><circle cx="1378.1" cy="87.6" r="0.6" fill="#f6ecd0"/><circle cx="1440.7" cy="127.9" r="1.0" fill="#f6ecd0"/><circle cx="1368.4" cy="87.0" r="0.9" fill="#f6ecd0"/><circle cx="1356.5" cy="98.0" r="1.1" fill="#f6ecd0"/><circle cx="1368.6" cy="98.6" r="0.6" fill="#f6ecd0"/><circle cx="1489.0" cy="69.6" r="0.6" fill="#f6ecd0"/><circle cx="1443.4" cy="47.1" r="0.9" fill="#f6ecd0"/><circle cx="1416.5" cy="136.9" r="0.6" fill="#f6ecd0"/><circle cx="1337.8" cy="71.8" r="0.5" fill="#f6ecd0"/><circle cx="1463.0" cy="137.2" r="0.6" fill="#f6ecd0"/><circle cx="1390.1" cy="98.2" r="0.8" fill="#f6ecd0"/><circle cx="1396.9" cy="87.5" r="0.7" fill="#f6ecd0"/><circle cx="1374.1" cy="77.3" r="0.6" fill="#f6ecd0"/><circle cx="1362.7" cy="111.9" r="0.9" fill="#f6ecd0"/><circle cx="1479.4" cy="49.5" r="0.6" fill="#f6ecd0"/><circle cx="1483.6" cy="48.0" r="0.6" fill="#f6ecd0"/><circle cx="1396.5" cy="90.3" r="0.8" fill="#f6ecd0"/><circle cx="1397.3" cy="90.8" r="0.8" fill="#f6ecd0"/><circle cx="1449.7" cy="138.2" r="0.9" fill="#f6ecd0"/><circle cx="1444.1" cy="132.0" r="0.6" fill="#f6ecd0"/><circle cx="1361.2" cy="46.7" r="0.8" fill="#f6ecd0"/><circle cx="1371.1" cy="85.4" r="0.6" fill="#f6ecd0"/><circle cx="1510.3" cy="45.7" r="1.1" fill="#f6ecd0"/><circle cx="1460.6" cy="145.7" r="0.8" fill="#f6ecd0"/><circle cx="1355.8" cy="95.2" r="1.2" fill="#f6ecd0"/><circle cx="1371.5" cy="85.1" r="1.1" fill="#f6ecd0"/><circle cx="1387.9" cy="89.6" r="1.0" fill="#f6ecd0"/><circle cx="1435.1" cy="132.1" r="0.8" fill="#f6ecd0"/><circle cx="1461.8" cy="55.9" r="0.7" fill="#f6ecd0"/><circle cx="1322.2" cy="92.7" r="1.1" fill="#f6ecd0"/><circle cx="1443.4" cy="133.2" r="0.7" fill="#f6ecd0"/><circle cx="1450.3" cy="122.9" r="1.1" fill="#f6ecd0"/><circle cx="1341.0" cy="93.3" r="0.5" fill="#f6ecd0"/><circle cx="1470.8" cy="81.6" r="1.0" fill="#f6ecd0"/><circle cx="1352.8" cy="56.2" r="0.5" fill="#f6ecd0"/><circle cx="1362.8" cy="63.2" r="1.1" fill="#f6ecd0"/><circle cx="1358.0" cy="66.1" r="1.0" fill="#f6ecd0"/><circle cx="1363.8" cy="102.4" r="1.0" fill="#f6ecd0"/><circle cx="1413.6" cy="129.2" r="0.8" fill="#f6ecd0"/><circle cx="1422.3" cy="84.1" r="1.2" fill="#f6ecd0"/><circle cx="1388.5" cy="70.0" r="0.8" fill="#f6ecd0"/><circle cx="1473.1" cy="133.0" r="1.1" fill="#f6ecd0"/><circle cx="1484.0" cy="57.7" r="1.0" fill="#f6ecd0"/><circle cx="1336.8" cy="121.5" r="0.7" fill="#f6ecd0"/><circle cx="1362.5" cy="119.8" r="1.2" fill="#f6ecd0"/><circle cx="1428.5" cy="142.4" r="0.8" fill="#f6ecd0"/><circle cx="1362.8" cy="93.4" r="1.1" fill="#f6ecd0"/><circle cx="1329.1" cy="77.3" r="0.8" fill="#f6ecd0"/><circle cx="1456.8" cy="63.5" r="0.7" fill="#f6ecd0"/><circle cx="1362.6" cy="88.8" r="0.6" fill="#f6ecd0"/><circle cx="1494.0" cy="38.3" r="0.8" fill="#f6ecd0"/><circle cx="1423.0" cy="132.3" r="1.0" fill="#f6ecd0"/><circle cx="1356.7" cy="103.7" r="0.6" fill="#f6ecd0"/><circle cx="1345.4" cy="66.3" r="1.2" fill="#f6ecd0"/><circle cx="1355.9" cy="91.7" r="0.6" fill="#f6ecd0"/><circle cx="1368.8" cy="97.2" r="0.6" fill="#f6ecd0"/><circle cx="1407.8" cy="110.9" r="0.7" fill="#f6ecd0"/><circle cx="1355.3" cy="46.3" r="0.6" fill="#f6ecd0"/><circle cx="1463.0" cy="133.0" r="0.7" fill="#f6ecd0"/><circle cx="1361.6" cy="99.0" r="1.1" fill="#f6ecd0"/><circle cx="1368.6" cy="56.2" r="1.2" fill="#f6ecd0"/><circle cx="1342.9" cy="86.2" r="0.6" fill="#f6ecd0"/><circle cx="1359.5" cy="89.1" r="0.5" fill="#f6ecd0"/><circle cx="1414.9" cy="109.2" r="1.1" fill="#f6ecd0"/><circle cx="1449.7" cy="149.3" r="1.2" fill="#f6ecd0"/><circle cx="1343.1" cy="92.4" r="0.8" fill="#f6ecd0"/><circle cx="1364.1" cy="92.8" r="1.1" fill="#f6ecd0"/><circle cx="1361.9" cy="90.8" r="0.8" fill="#f6ecd0"/><circle cx="1459.4" cy="68.3" r="0.7" fill="#f6ecd0"/><circle cx="1482.2" cy="27.6" r="1.1" fill="#f6ecd0"/><circle cx="1362.5" cy="52.6" r="0.8" fill="#f6ecd0"/><circle cx="1351.8" cy="65.8" r="1.2" fill="#f6ecd0"/><circle cx="1361.7" cy="52.7" r="1.0" fill="#f6ecd0"/><circle cx="1343.3" cy="77.4" r="0.7" fill="#f6ecd0"/><circle cx="1333.8" cy="84.4" r="0.5" fill="#f6ecd0"/><circle cx="1354.3" cy="102.8" r="0.6" fill="#f6ecd0"/><circle cx="1431.8" cy="111.8" r="1.1" fill="#f6ecd0"/><circle cx="1395.5" cy="144.0" r="1.0" fill="#f6ecd0"/><circle cx="1375.0" cy="100.2" r="0.6" fill="#f6ecd0"/><circle cx="1438.5" cy="142.0" r="1.1" fill="#f6ecd0"/><circle cx="1438.2" cy="143.3" r="1.0" fill="#f6ecd0"/><circle cx="1369.0" cy="79.0" r="1.2" fill="#f6ecd0"/><circle cx="1378.0" cy="64.1" r="0.6" fill="#f6ecd0"/><circle cx="1379.0" cy="68.9" r="1.2" fill="#f6ecd0"/><circle cx="1422.1" cy="118.9" r="0.9" fill="#f6ecd0"/><circle cx="1469.6" cy="77.2" r="0.7" fill="#f6ecd0"/><circle cx="1364.4" cy="104.4" r="1.0" fill="#f6ecd0"/><circle cx="1318.4" cy="101.3" r="1.1" fill="#f6ecd0"/><circle cx="1451.4" cy="42.8" r="0.8" fill="#f6ecd0"/><circle cx="1347.4" cy="91.1" r="1.0" fill="#f6ecd0"/><circle cx="1350.0" cy="80.7" r="0.9" fill="#f6ecd0"/><circle cx="1351.9" cy="97.7" r="0.7" fill="#f6ecd0"/><circle cx="1447.7" cy="47.9" r="0.6" fill="#f6ecd0"/><circle cx="1342.7" cy="99.6" r="0.5" fill="#f6ecd0"/><circle cx="1384.2" cy="62.8" r="0.6" fill="#f6ecd0"/><circle cx="1422.4" cy="120.7" r="0.5" fill="#f6ecd0"/><circle cx="1372.7" cy="66.6" r="0.6" fill="#f6ecd0"/><circle cx="1453.3" cy="107.9" r="1.2" fill="#f6ecd0"/><circle cx="1411.8" cy="123.0" r="1.0" fill="#f6ecd0"/><circle cx="1434.7" cy="135.2" r="0.6" fill="#f6ecd0"/><circle cx="1461.3" cy="-2.9" r="0.5" fill="#f6ecd0"/><circle cx="1393.3" cy="72.9" r="1.1" fill="#f6ecd0"/><circle cx="1421.9" cy="57.5" r="1.0" fill="#f6ecd0"/><circle cx="1451.7" cy="148.4" r="0.8" fill="#f6ecd0"/><circle cx="1424.9" cy="126.6" r="0.9" fill="#f6ecd0"/><circle cx="1452.1" cy="129.9" r="1.0" fill="#f6ecd0"/><circle cx="1376.0" cy="74.5" r="1.1" fill="#f6ecd0"/><circle cx="1472.0" cy="122.7" r="1.0" fill="#f6ecd0"/><circle cx="1456.2" cy="110.6" r="1.2" fill="#f6ecd0"/><circle cx="1348.5" cy="38.7" r="0.8" fill="#f6ecd0"/><circle cx="1359.8" cy="65.0" r="1.1" fill="#f6ecd0"/><circle cx="1441.5" cy="120.9" r="0.8" fill="#f6ecd0"/><circle cx="1410.3" cy="101.8" r="0.6" fill="#f6ecd0"/><circle cx="1457.0" cy="114.9" r="0.7" fill="#f6ecd0"/><circle cx="1371.9" cy="83.7" r="0.9" fill="#f6ecd0"/><circle cx="1383.7" cy="103.0" r="1.1" fill="#f6ecd0"/><circle cx="1484.4" cy="60.0" r="0.7" fill="#f6ecd0"/><circle cx="1368.5" cy="85.2" r="0.5" fill="#f6ecd0"/><circle cx="1351.8" cy="52.2" r="0.9" fill="#f6ecd0"/><circle cx="1351.8" cy="70.2" r="1.1" fill="#f6ecd0"/><circle cx="1433.4" cy="145.4" r="1.2" fill="#f6ecd0"/><circle cx="1448.8" cy="117.2" r="0.8" fill="#f6ecd0"/><circle cx="1420.7" cy="109.3" r="0.8" fill="#f6ecd0"/><circle cx="1485.6" cy="142.0" r="1.1" fill="#f6ecd0"/><circle cx="1349.5" cy="87.8" r="0.9" fill="#f6ecd0"/><circle cx="1425.3" cy="65.8" r="0.7" fill="#f6ecd0"/><circle cx="1343.7" cy="61.6" r="0.7" fill="#f6ecd0"/><circle cx="1387.1" cy="70.2" r="1.0" fill="#f6ecd0"/><circle cx="1363.1" cy="83.1" r="0.7" fill="#f6ecd0"/><circle cx="1366.2" cy="58.4" r="0.8" fill="#f6ecd0"/><circle cx="1363.0" cy="52.0" r="0.6" fill="#f6ecd0"/><circle cx="1360.7" cy="59.6" r="0.7" fill="#f6ecd0"/><circle cx="1358.5" cy="95.4" r="0.7" fill="#f6ecd0"/><circle cx="1397.3" cy="101.4" r="0.5" fill="#f6ecd0"/><circle cx="1448.7" cy="139.1" r="0.6" fill="#f6ecd0"/><circle cx="1377.8" cy="94.9" r="1.1" fill="#f6ecd0"/><circle cx="1438.8" cy="142.1" r="1.2" fill="#f6ecd0"/><circle cx="1361.2" cy="68.7" r="1.1" fill="#f6ecd0"/><circle cx="1340.4" cy="81.5" r="0.8" fill="#f6ecd0"/><circle cx="1466.1" cy="94.0" r="1.1" fill="#f6ecd0"/><circle cx="1361.4" cy="68.4" r="1.0" fill="#f6ecd0"/><circle cx="1417.9" cy="107.6" r="1.1" fill="#f6ecd0"/><circle cx="1449.4" cy="81.2" r="1.0" fill="#f6ecd0"/><circle cx="1384.0" cy="86.7" r="0.9" fill="#f6ecd0"/><circle cx="1449.5" cy="59.8" r="1.2" fill="#f6ecd0"/><circle cx="1432.9" cy="143.0" r="0.8" fill="#f6ecd0"/><circle cx="1350.6" cy="97.1" r="1.1" fill="#f6ecd0"/><circle cx="1473.8" cy="48.5" r="0.7" fill="#f6ecd0"/><circle cx="1442.3" cy="39.5" r="0.9" fill="#f6ecd0"/><circle cx="1357.2" cy="45.2" r="1.0" fill="#f6ecd0"/><circle cx="1433.2" cy="132.4" r="0.7" fill="#f6ecd0"/><circle cx="1360.6" cy="76.1" r="0.8" fill="#f6ecd0"/><circle cx="1374.8" cy="106.8" r="1.1" fill="#f6ecd0"/><circle cx="1353.2" cy="44.2" r="0.8" fill="#f6ecd0"/><circle cx="1382.0" cy="71.0" r="1.1" fill="#f6ecd0"/><circle cx="1412.4" cy="8.0" r="0.7" fill="#f6ecd0"/><circle cx="1436.0" cy="135.7" r="0.9" fill="#f6ecd0"/><circle cx="1437.2" cy="147.0" r="0.9" fill="#f6ecd0"/><circle cx="1434.2" cy="124.6" r="0.7" fill="#f6ecd0"/><circle cx="1368.3" cy="86.3" r="1.0" fill="#f6ecd0"/><circle cx="1456.0" cy="119.2" r="1.0" fill="#f6ecd0"/><circle cx="1374.0" cy="90.5" r="0.7" fill="#f6ecd0"/><circle cx="1496.3" cy="130.1" r="1.0" fill="#f6ecd0"/><circle cx="1423.8" cy="81.0" r="0.9" fill="#f6ecd0"/><circle cx="1454.8" cy="41.0" r="1.0" fill="#f6ecd0"/><circle cx="1367.0" cy="99.9" r="0.9" fill="#f6ecd0"/><circle cx="1433.0" cy="43.0" r="0.7" fill="#f6ecd0"/><circle cx="1322.1" cy="82.4" r="0.8" fill="#f6ecd0"/><circle cx="1446.6" cy="124.9" r="0.8" fill="#f6ecd0"/><circle cx="1407.5" cy="87.7" r="0.6" fill="#f6ecd0"/><circle cx="1362.8" cy="101.8" r="0.9" fill="#f6ecd0"/><circle cx="1382.0" cy="91.4" r="0.9" fill="#f6ecd0"/><circle cx="1346.6" cy="61.8" r="0.9" fill="#f6ecd0"/><circle cx="1434.5" cy="3.4" r="0.5" fill="#f6ecd0"/><circle cx="1379.0" cy="92.9" r="0.7" fill="#f6ecd0"/><circle cx="1383.9" cy="143.1" r="0.9" fill="#f6ecd0"/><circle cx="1404.0" cy="130.7" r="0.9" fill="#f6ecd0"/></g><polygon points="1353.0,38.0 1368.0,25.0 1392.0,21.0 1402.0,30.0 1394.0,44.0 1372.0,41.0" fill="url(#chz)" stroke="#c9ae6c" stroke-width="0.6" stroke-linejoin="round"/><polygon points="1407.0,62.0 1422.0,50.0 1441.0,53.0 1449.0,64.0 1436.0,74.0 1418.0,70.0" fill="url(#chz)" stroke="#c9ae6c" stroke-width="0.6" stroke-linejoin="round"/><polygon points="1467.0,98.0 1482.0,82.0 1502.0,72.0 1502.0,94.0 1484.0,104.0" fill="url(#chz)" stroke="#c9ae6c" stroke-width="0.6" stroke-linejoin="round"/><polygon points="1388.0,157.0 1401.0,154.0 1420.0,178.0 1430.0,206.0 1422.0,212.0 1404.0,192.0" fill="url(#chz)" stroke="#c9ae6c" stroke-width="0.6" stroke-linejoin="round"/><polygon points="1430.0,152.0 1446.0,141.0 1460.0,147.0 1448.0,158.0 1446.0,178.0 1458.0,188.0 1440.0,191.0 1430.0,174.0" fill="url(#chz)" stroke="#c9ae6c" stroke-width="0.6" stroke-linejoin="round"/><path d="M1327,173 C1334,150 1356,128 1384,118 C1398,128 1406,142 1409,156 C1386,166 1352,172 1327,173 Z" fill="url(#basil)" stroke="#2a6a1c" stroke-width="0.5"/><path d="M1330,171 C1355,162 1385,154 1408,156" stroke="#a6e070" stroke-width="1" fill="none" opacity="0.55"/><path d="M1381,89 C1374,106 1378,126 1390,142 C1398,152 1404,156 1409,158 C1412,132 1402,108 1381,89 Z" fill="url(#basil2)" stroke="#2a6a1c" stroke-width="0.5"/><path d="M1482,112 C1476,132 1476,160 1486,182 L1505,184 L1505,112 Z" fill="url(#basil2)" stroke="#2a6a1c" stroke-width="0.5"/><path d="M1428,192 C1440,188 1454,188 1463,190 C1456,204 1450,218 1448,230 C1436,222 1428,206 1428,192 Z" fill="url(#basil)" stroke="#2a6a1c" stroke-width="0.5"/><path d="M1308,-2 C1316,8 1332,14 1348,13 C1364,10 1374,5 1384,-2 Z" fill="url(#basil2)" stroke="#2a6a1c" stroke-width="0.5"/><path d="M1482,-2 C1488,10 1496,22 1505,24 L1505,-2 Z" fill="url(#basil)" stroke="#2a6a1c" stroke-width="0.5"/><circle cx="41.81" cy="1389.84" r="242.97" fill="#000" opacity="0.30" filter="url(#blur16)"/><circle cx="23.81" cy="1387.84" r="242.97" fill="url(#grain)"/><circle cx="23.81" cy="1387.84" r="242.97" fill="none" stroke="#e9b77c" stroke-width="1.2" opacity="0.8"/><circle cx="20" cy="1388.7" r="217.7" fill="#b9763e"/><circle cx="17" cy="1389.5" r="215.5" fill="#c8874a"/><circle cx="14" cy="1390" r="213.5" fill="url(#pz)"/><circle cx="14" cy="1390" r="209" fill="none" stroke="#e2c890" stroke-width="6" opacity="0.5"/><clipPath id="pzclip"><circle cx="14" cy="1390" r="212"/></clipPath><g clip-path="url(#pzclip)"><rect x="-200" y="1170" width="430" height="340" filter="url(#mottle)" opacity="0.35"/><rect x="167.2" y="1285.8" width="11.1" height="2.6" rx="1" fill="#f2b63a" opacity="0.55" transform="rotate(107.0 167.2 1285.8)"/><rect x="84.7" y="1220.9" width="13.4" height="2.6" rx="1" fill="#f2b63a" opacity="0.55" transform="rotate(152.0 84.7 1220.9)"/><rect x="100.5" y="1360.2" width="7.4" height="2.6" rx="1" fill="#f2b63a" opacity="0.55" transform="rotate(5.9 100.5 1360.2)"/><rect x="93.6" y="1286.6" width="11.7" height="2.6" rx="1" fill="#f2b63a" opacity="0.55" transform="rotate(90.0 93.6 1286.6)"/><rect x="108.0" y="1240.7" width="14.7" height="2.6" rx="1" fill="#f2b63a" opacity="0.55" transform="rotate(136.9 108.0 1240.7)"/><rect x="193.8" y="1358.3" width="13.2" height="2.6" rx="1" fill="#f2b63a" opacity="0.55" transform="rotate(64.2 193.8 1358.3)"/><rect x="123.1" y="1233.7" width="8.4" height="2.6" rx="1" fill="#f2b63a" opacity="0.55" transform="rotate(153.2 123.1 1233.7)"/><rect x="134.3" y="1346.3" width="7.4" height="2.6" rx="1" fill="#f2b63a" opacity="0.55" transform="rotate(43.8 134.3 1346.3)"/><rect x="75.1" y="1249.5" width="10.5" height="2.6" rx="1" fill="#f2b63a" opacity="0.55" transform="rotate(28.1 75.1 1249.5)"/><rect x="101.2" y="1254.6" width="8.5" height="2.6" rx="1" fill="#f2b63a" opacity="0.55" transform="rotate(118.8 101.2 1254.6)"/><rect x="183.2" y="1269.3" width="14.1" height="2.6" rx="1" fill="#f2b63a" opacity="0.55" transform="rotate(39.0 183.2 1269.3)"/><rect x="166.3" y="1315.7" width="12.7" height="2.6" rx="1" fill="#f2b63a" opacity="0.55" transform="rotate(70.0 166.3 1315.7)"/><rect x="138.7" y="1349.9" width="9.1" height="2.6" rx="1" fill="#f2b63a" opacity="0.55" transform="rotate(41.8 138.7 1349.9)"/><rect x="73.5" y="1262.7" width="15.6" height="2.6" rx="1" fill="#f2b63a" opacity="0.55" transform="rotate(102.9 73.5 1262.7)"/><rect x="109.1" y="1265.8" width="11.8" height="2.6" rx="1" fill="#f2b63a" opacity="0.55" transform="rotate(38.4 109.1 1265.8)"/><rect x="66.5" y="1252.5" width="11.0" height="2.6" rx="1" fill="#f2b63a" opacity="0.55" transform="rotate(38.5 66.5 1252.5)"/><rect x="219.2" y="1406.2" width="13.5" height="2.6" rx="1" fill="#f2b63a" opacity="0.55" transform="rotate(5.9 219.2 1406.2)"/><rect x="139.8" y="1355.9" width="14.2" height="2.6" rx="1" fill="#f2b63a" opacity="0.55" transform="rotate(0.9 139.8 1355.9)"/><rect x="112.3" y="1337.4" width="11.4" height="2.6" rx="1" fill="#f2b63a" opacity="0.55" transform="rotate(121.5 112.3 1337.4)"/><rect x="36.7" y="1275.6" width="13.3" height="2.6" rx="1" fill="#f2b63a" opacity="0.55" transform="rotate(42.3 36.7 1275.6)"/><rect x="131.4" y="1387.3" width="11.5" height="2.6" rx="1" fill="#f2b63a" opacity="0.55" transform="rotate(131.6 131.4 1387.3)"/><rect x="107.8" y="1227.6" width="9.4" height="2.6" rx="1" fill="#f2b63a" opacity="0.55" transform="rotate(143.2 107.8 1227.6)"/><rect x="14.7" y="1325.7" width="8.1" height="2.6" rx="1" fill="#f2b63a" opacity="0.55" transform="rotate(139.9 14.7 1325.7)"/><rect x="198.5" y="1351.6" width="14.4" height="2.6" rx="1" fill="#f2b63a" opacity="0.55" transform="rotate(148.4 198.5 1351.6)"/><rect x="169.0" y="1379.0" width="10.3" height="2.6" rx="1" fill="#f2b63a" opacity="0.55" transform="rotate(144.5 169.0 1379.0)"/><rect x="119.5" y="1257.6" width="12.9" height="2.6" rx="1" fill="#f2b63a" opacity="0.55" transform="rotate(67.5 119.5 1257.6)"/><rect x="80.6" y="1190.0" width="13.4" height="2.6" rx="1" fill="#f2b63a" opacity="0.55" transform="rotate(163.1 80.6 1190.0)"/><rect x="21.6" y="1259.7" width="9.1" height="2.6" rx="1" fill="#f2b63a" opacity="0.55" transform="rotate(176.2 21.6 1259.7)"/><rect x="137.3" y="1232.9" width="10.4" height="2.6" rx="1" fill="#f2b63a" opacity="0.55" transform="rotate(76.1 137.3 1232.9)"/><rect x="184.9" y="1351.4" width="8.3" height="2.6" rx="1" fill="#f2b63a" opacity="0.55" transform="rotate(22.6 184.9 1351.4)"/><rect x="204.1" y="1301.1" width="14.6" height="2.6" rx="1" fill="#f2b63a" opacity="0.55" transform="rotate(116.6 204.1 1301.1)"/><rect x="197.1" y="1358.7" width="8.0" height="2.6" rx="1" fill="#f2b63a" opacity="0.55" transform="rotate(136.2 197.1 1358.7)"/><rect x="49.7" y="1276.0" width="15.1" height="2.6" rx="1" fill="#f2b63a" opacity="0.55" transform="rotate(46.8 49.7 1276.0)"/><rect x="177.8" y="1299.8" width="9.1" height="2.6" rx="1" fill="#f2b63a" opacity="0.55" transform="rotate(17.4 177.8 1299.8)"/><rect x="16.9" y="1319.9" width="14.9" height="2.6" rx="1" fill="#f2b63a" opacity="0.55" transform="rotate(11.5 16.9 1319.9)"/><rect x="147.2" y="1325.3" width="15.6" height="2.6" rx="1" fill="#f2b63a" opacity="0.55" transform="rotate(18.9 147.2 1325.3)"/><rect x="111.1" y="1399.4" width="11.7" height="2.6" rx="1" fill="#f2b63a" opacity="0.55" transform="rotate(108.2 111.1 1399.4)"/><rect x="163.3" y="1293.8" width="9.7" height="2.6" rx="1" fill="#f2b63a" opacity="0.55" transform="rotate(160.8 163.3 1293.8)"/><rect x="29.9" y="1275.0" width="11.2" height="2.6" rx="1" fill="#f2b63a" opacity="0.55" transform="rotate(113.2 29.9 1275.0)"/><rect x="77.9" y="1271.5" width="13.2" height="2.6" rx="1" fill="#f2b63a" opacity="0.55" transform="rotate(37.9 77.9 1271.5)"/><ellipse cx="21.8" cy="1235.1" rx="5.9" ry="3.6" fill="#b98a5a" opacity="0.35" filter="url(#blur1)"/><ellipse cx="11.0" cy="1208.6" rx="7.1" ry="3.4" fill="#b98a5a" opacity="0.35" filter="url(#blur1)"/><ellipse cx="92.4" cy="1194.1" rx="5.6" ry="4.0" fill="#b98a5a" opacity="0.35" filter="url(#blur1)"/><ellipse cx="29.3" cy="1328.7" rx="3.7" ry="2.8" fill="#b98a5a" opacity="0.35" filter="url(#blur1)"/><ellipse cx="32.3" cy="1232.7" rx="5.1" ry="3.5" fill="#b98a5a" opacity="0.35" filter="url(#blur1)"/><ellipse cx="57.6" cy="1208.8" rx="5.5" ry="2.2" fill="#b98a5a" opacity="0.35" filter="url(#blur1)"/><ellipse cx="16.6" cy="1242.6" rx="3.2" ry="4.9" fill="#b98a5a" opacity="0.35" filter="url(#blur1)"/><ellipse cx="67.1" cy="1246.1" rx="3.7" ry="4.4" fill="#b98a5a" opacity="0.35" filter="url(#blur1)"/><ellipse cx="128.1" cy="1384.8" rx="4.5" ry="5.0" fill="#b98a5a" opacity="0.35" filter="url(#blur1)"/><ellipse cx="194.3" cy="1332.9" rx="3.1" ry="3.1" fill="#b98a5a" opacity="0.35" filter="url(#blur1)"/><ellipse cx="56.2" cy="1307.8" rx="7.5" ry="3.8" fill="#b98a5a" opacity="0.35" filter="url(#blur1)"/><ellipse cx="117.9" cy="1339.1" rx="4.9" ry="3.5" fill="#b98a5a" opacity="0.35" filter="url(#blur1)"/><ellipse cx="43.6" cy="1272.0" rx="6.4" ry="3.5" fill="#b98a5a" opacity="0.35" filter="url(#blur1)"/><ellipse cx="89.3" cy="1347.6" rx="5.4" ry="2.8" fill="#b98a5a" opacity="0.35" filter="url(#blur1)"/><ellipse cx="97.7" cy="1198.5" rx="7.8" ry="4.7" fill="#b98a5a" opacity="0.35" filter="url(#blur1)"/><ellipse cx="35.8" cy="1212.6" rx="6.6" ry="2.0" fill="#b98a5a" opacity="0.35" filter="url(#blur1)"/><ellipse cx="84.2" cy="1209.6" rx="5.7" ry="3.0" fill="#b98a5a" opacity="0.35" filter="url(#blur1)"/><ellipse cx="110.0" cy="1277.7" rx="4.0" ry="4.5" fill="#b98a5a" opacity="0.35" filter="url(#blur1)"/><ellipse cx="133.8" cy="1392.4" rx="6.7" ry="4.4" fill="#b98a5a" opacity="0.35" filter="url(#blur1)"/><ellipse cx="5.4" cy="1197.8" rx="3.7" ry="4.7" fill="#b98a5a" opacity="0.35" filter="url(#blur1)"/><ellipse cx="79.2" cy="1223.7" rx="5.1" ry="3.7" fill="#b98a5a" opacity="0.35" filter="url(#blur1)"/><ellipse cx="24.0" cy="1249.9" rx="7.9" ry="2.5" fill="#b98a5a" opacity="0.35" filter="url(#blur1)"/><ellipse cx="58.2" cy="1191.6" rx="4.2" ry="2.7" fill="#b98a5a" opacity="0.35" filter="url(#blur1)"/><ellipse cx="68.1" cy="1392.0" rx="4.5" ry="3.2" fill="#b98a5a" opacity="0.35" filter="url(#blur1)"/><ellipse cx="191.4" cy="1306.4" rx="5.2" ry="3.2" fill="#b98a5a" opacity="0.35" filter="url(#blur1)"/><circle cx="196.7" cy="1342.9" r="0.7" fill="#4d3a2c" opacity="0.75"/><circle cx="203.6" cy="1338.9" r="0.8" fill="#4d3a2c" opacity="0.75"/><circle cx="135.6" cy="1378.4" r="1.0" fill="#4d3a2c" opacity="0.75"/><circle cx="46.5" cy="1299.5" r="0.9" fill="#4d3a2c" opacity="0.75"/><circle cx="114.7" cy="1332.9" r="1.3" fill="#4d3a2c" opacity="0.75"/><circle cx="44.9" cy="1346.3" r="0.7" fill="#4d3a2c" opacity="0.75"/><circle cx="149.9" cy="1325.0" r="1.2" fill="#4d3a2c" opacity="0.75"/><circle cx="35.9" cy="1366.3" r="0.9" fill="#4d3a2c" opacity="0.75"/><circle cx="33.7" cy="1185.2" r="0.7" fill="#4d3a2c" opacity="0.75"/><circle cx="156.3" cy="1239.0" r="1.0" fill="#4d3a2c" opacity="0.75"/><circle cx="188.2" cy="1330.6" r="0.9" fill="#4d3a2c" opacity="0.75"/><circle cx="150.1" cy="1296.0" r="0.7" fill="#4d3a2c" opacity="0.75"/><circle cx="54.5" cy="1212.6" r="1.0" fill="#4d3a2c" opacity="0.75"/><circle cx="34.5" cy="1235.6" r="1.2" fill="#4d3a2c" opacity="0.75"/><circle cx="46.1" cy="1190.8" r="0.6" fill="#4d3a2c" opacity="0.75"/><circle cx="168.5" cy="1308.8" r="0.5" fill="#4d3a2c" opacity="0.75"/><circle cx="100.6" cy="1206.8" r="1.2" fill="#4d3a2c" opacity="0.75"/><circle cx="161.8" cy="1385.0" r="0.6" fill="#4d3a2c" opacity="0.75"/><circle cx="38.2" cy="1258.5" r="0.5" fill="#4d3a2c" opacity="0.75"/><circle cx="95.7" cy="1211.0" r="1.2" fill="#4d3a2c" opacity="0.75"/><circle cx="118.7" cy="1390.8" r="0.8" fill="#4d3a2c" opacity="0.75"/><circle cx="206.7" cy="1396.5" r="1.0" fill="#4d3a2c" opacity="0.75"/><circle cx="6.2" cy="1249.1" r="0.7" fill="#4d3a2c" opacity="0.75"/><circle cx="203.2" cy="1352.8" r="0.8" fill="#4d3a2c" opacity="0.75"/><circle cx="102.4" cy="1243.7" r="1.2" fill="#4d3a2c" opacity="0.75"/><circle cx="47.1" cy="1354.8" r="0.7" fill="#4d3a2c" opacity="0.75"/><circle cx="81.6" cy="1333.5" r="0.7" fill="#4d3a2c" opacity="0.75"/><circle cx="152.9" cy="1347.8" r="0.6" fill="#4d3a2c" opacity="0.75"/><circle cx="13.0" cy="1228.3" r="1.2" fill="#4d3a2c" opacity="0.75"/><circle cx="70.1" cy="1310.6" r="0.5" fill="#4d3a2c" opacity="0.75"/><circle cx="172.3" cy="1330.1" r="1.1" fill="#4d3a2c" opacity="0.75"/><circle cx="119.7" cy="1313.4" r="0.9" fill="#4d3a2c" opacity="0.75"/><circle cx="26.6" cy="1197.8" r="1.2" fill="#4d3a2c" opacity="0.75"/><circle cx="207.0" cy="1337.8" r="1.0" fill="#4d3a2c" opacity="0.75"/><circle cx="125.1" cy="1259.6" r="0.6" fill="#4d3a2c" opacity="0.75"/><circle cx="138.7" cy="1371.4" r="0.7" fill="#4d3a2c" opacity="0.75"/><circle cx="94.8" cy="1351.3" r="1.1" fill="#4d3a2c" opacity="0.75"/><circle cx="20.6" cy="1339.4" r="0.7" fill="#4d3a2c" opacity="0.75"/><circle cx="5.8" cy="1183.1" r="0.5" fill="#4d3a2c" opacity="0.75"/><circle cx="25.4" cy="1359.7" r="1.2" fill="#4d3a2c" opacity="0.75"/><circle cx="43.4" cy="1254.4" r="0.9" fill="#4d3a2c" opacity="0.75"/><circle cx="67.2" cy="1238.4" r="1.2" fill="#4d3a2c" opacity="0.75"/><circle cx="75.1" cy="1253.3" r="1.1" fill="#4d3a2c" opacity="0.75"/><circle cx="14.2" cy="1181.6" r="0.8" fill="#4d3a2c" opacity="0.75"/><circle cx="123.0" cy="1279.9" r="0.9" fill="#4d3a2c" opacity="0.75"/><circle cx="195.1" cy="1326.0" r="1.2" fill="#4d3a2c" opacity="0.75"/><circle cx="38.8" cy="1334.9" r="0.8" fill="#4d3a2c" opacity="0.75"/><circle cx="58.2" cy="1329.3" r="0.7" fill="#4d3a2c" opacity="0.75"/><circle cx="11.2" cy="1328.8" r="0.9" fill="#4d3a2c" opacity="0.75"/><circle cx="120.9" cy="1377.6" r="1.1" fill="#4d3a2c" opacity="0.75"/><circle cx="74.4" cy="1332.9" r="1.2" fill="#4d3a2c" opacity="0.75"/><circle cx="127.5" cy="1253.4" r="0.5" fill="#4d3a2c" opacity="0.75"/><circle cx="99.6" cy="1380.6" r="0.8" fill="#4d3a2c" opacity="0.75"/><circle cx="104.9" cy="1222.7" r="1.2" fill="#4d3a2c" opacity="0.75"/><circle cx="130.5" cy="1368.0" r="0.7" fill="#4d3a2c" opacity="0.75"/><circle cx="187.8" cy="1361.9" r="0.8" fill="#4d3a2c" opacity="0.75"/><circle cx="55.2" cy="1264.3" r="1.0" fill="#4d3a2c" opacity="0.75"/><circle cx="186.6" cy="1399.1" r="1.3" fill="#4d3a2c" opacity="0.75"/><circle cx="165.5" cy="1287.5" r="1.2" fill="#4d3a2c" opacity="0.75"/><circle cx="14.7" cy="1321.2" r="1.2" fill="#4d3a2c" opacity="0.75"/><circle cx="137.1" cy="1366.8" r="1.1" fill="#4d3a2c" opacity="0.75"/><circle cx="163.7" cy="1274.5" r="0.9" fill="#4d3a2c" opacity="0.75"/><circle cx="38.9" cy="1351.8" r="0.7" fill="#4d3a2c" opacity="0.75"/><circle cx="43.3" cy="1230.7" r="1.0" fill="#4d3a2c" opacity="0.75"/><circle cx="97.8" cy="1280.0" r="1.1" fill="#4d3a2c" opacity="0.75"/><circle cx="113.8" cy="1352.8" r="0.5" fill="#4d3a2c" opacity="0.75"/><circle cx="167.6" cy="1312.4" r="1.0" fill="#4d3a2c" opacity="0.75"/><circle cx="55.9" cy="1247.0" r="1.2" fill="#4d3a2c" opacity="0.75"/><circle cx="167.7" cy="1402.8" r="0.6" fill="#4d3a2c" opacity="0.75"/><circle cx="23.5" cy="1196.6" r="0.9" fill="#4d3a2c" opacity="0.75"/><circle cx="37.0" cy="1348.7" r="0.6" fill="#4d3a2c" opacity="0.75"/><circle cx="114.8" cy="1286.2" r="0.6" fill="#4d3a2c" opacity="0.75"/><circle cx="24.1" cy="1231.9" r="0.6" fill="#4d3a2c" opacity="0.75"/><circle cx="114.3" cy="1293.3" r="0.8" fill="#4d3a2c" opacity="0.75"/><circle cx="107.8" cy="1349.3" r="1.0" fill="#4d3a2c" opacity="0.75"/><circle cx="72.9" cy="1319.3" r="1.2" fill="#4d3a2c" opacity="0.75"/><circle cx="101.3" cy="1374.2" r="0.9" fill="#4d3a2c" opacity="0.75"/><circle cx="102.3" cy="1241.1" r="0.7" fill="#4d3a2c" opacity="0.75"/><circle cx="5.9" cy="1297.1" r="0.9" fill="#4d3a2c" opacity="0.75"/><circle cx="22.2" cy="1338.7" r="0.5" fill="#4d3a2c" opacity="0.75"/><circle cx="58.8" cy="1296.9" r="0.5" fill="#4d3a2c" opacity="0.75"/><circle cx="169.4" cy="1297.5" r="1.0" fill="#4d3a2c" opacity="0.75"/><circle cx="177.9" cy="1405.4" r="1.1" fill="#4d3a2c" opacity="0.75"/><circle cx="102.5" cy="1330.2" r="0.9" fill="#4d3a2c" opacity="0.75"/><circle cx="9.2" cy="1216.8" r="1.2" fill="#4d3a2c" opacity="0.75"/><circle cx="181.4" cy="1290.1" r="0.7" fill="#4d3a2c" opacity="0.75"/><circle cx="186.0" cy="1351.0" r="1.1" fill="#4d3a2c" opacity="0.75"/><circle cx="30.5" cy="1237.6" r="0.6" fill="#4d3a2c" opacity="0.75"/><circle cx="18.4" cy="1213.6" r="1.0" fill="#4d3a2c" opacity="0.75"/><circle cx="-5.5" cy="1180.1" r="1.0" fill="#4d3a2c" opacity="0.75"/><circle cx="97.2" cy="1243.5" r="1.1" fill="#4d3a2c" opacity="0.75"/><circle cx="100.6" cy="1355.2" r="0.6" fill="#4d3a2c" opacity="0.75"/><circle cx="109.1" cy="1374.4" r="1.2" fill="#4d3a2c" opacity="0.75"/><circle cx="77.6" cy="1206.2" r="1.0" fill="#4d3a2c" opacity="0.75"/><circle cx="6.0" cy="1272.9" r="0.6" fill="#4d3a2c" opacity="0.75"/><circle cx="183.8" cy="1274.7" r="1.0" fill="#4d3a2c" opacity="0.75"/><circle cx="24.7" cy="1339.5" r="0.8" fill="#4d3a2c" opacity="0.75"/><circle cx="30.3" cy="1304.2" r="1.3" fill="#4d3a2c" opacity="0.75"/><circle cx="57.7" cy="1360.2" r="1.2" fill="#4d3a2c" opacity="0.75"/><circle cx="39.7" cy="1281.8" r="0.9" fill="#4d3a2c" opacity="0.75"/><circle cx="37.3" cy="1302.1" r="0.9" fill="#4d3a2c" opacity="0.75"/><circle cx="136.7" cy="1362.5" r="1.2" fill="#4d3a2c" opacity="0.75"/><circle cx="49.0" cy="1303.8" r="1.1" fill="#4d3a2c" opacity="0.75"/><circle cx="123.9" cy="1228.7" r="0.7" fill="#4d3a2c" opacity="0.75"/><circle cx="21.6" cy="1358.4" r="0.9" fill="#4d3a2c" opacity="0.75"/><circle cx="39.8" cy="1267.9" r="0.9" fill="#4d3a2c" opacity="0.75"/><circle cx="129.6" cy="1336.1" r="0.9" fill="#4d3a2c" opacity="0.75"/><circle cx="174.4" cy="1388.7" r="1.0" fill="#4d3a2c" opacity="0.75"/><circle cx="182.0" cy="1299.8" r="0.8" fill="#4d3a2c" opacity="0.75"/><circle cx="29.9" cy="1186.0" r="0.7" fill="#4d3a2c" opacity="0.75"/><circle cx="33.8" cy="1281.4" r="1.2" fill="#4d3a2c" opacity="0.75"/><circle cx="127.9" cy="1318.5" r="0.6" fill="#4d3a2c" opacity="0.75"/><circle cx="223.6" cy="1406.8" r="1.0" fill="#4d3a2c" opacity="0.75"/><circle cx="58.5" cy="1240.7" r="1.2" fill="#4d3a2c" opacity="0.75"/><circle cx="13.5" cy="1265.1" r="1.1" fill="#4d3a2c" opacity="0.75"/><circle cx="145.1" cy="1282.7" r="0.8" fill="#4d3a2c" opacity="0.75"/><circle cx="108.6" cy="1264.2" r="1.0" fill="#4d3a2c" opacity="0.75"/><circle cx="83.1" cy="1245.4" r="1.1" fill="#4d3a2c" opacity="0.75"/><circle cx="52.2" cy="1353.1" r="0.8" fill="#4d3a2c" opacity="0.75"/><circle cx="185.5" cy="1376.9" r="1.3" fill="#4d3a2c" opacity="0.75"/><circle cx="161.0" cy="1318.7" r="0.7" fill="#4d3a2c" opacity="0.75"/><circle cx="179.7" cy="1378.1" r="0.9" fill="#4d3a2c" opacity="0.75"/><circle cx="25.3" cy="1303.0" r="0.8" fill="#4d3a2c" opacity="0.75"/><circle cx="122.3" cy="1312.7" r="1.0" fill="#4d3a2c" opacity="0.75"/><circle cx="84.1" cy="1260.3" r="1.3" fill="#4d3a2c" opacity="0.75"/><circle cx="181.8" cy="1394.3" r="1.3" fill="#4d3a2c" opacity="0.75"/><circle cx="136.7" cy="1386.3" r="0.6" fill="#4d3a2c" opacity="0.75"/><circle cx="118.4" cy="1216.7" r="0.9" fill="#4d3a2c" opacity="0.75"/><circle cx="124.7" cy="1275.1" r="1.3" fill="#4d3a2c" opacity="0.75"/><circle cx="17.4" cy="1189.2" r="0.8" fill="#4d3a2c" opacity="0.75"/><circle cx="52.1" cy="1327.5" r="1.0" fill="#4d3a2c" opacity="0.75"/><circle cx="129.8" cy="1278.9" r="1.0" fill="#4d3a2c" opacity="0.75"/><circle cx="87.8" cy="1301.1" r="1.0" fill="#4d3a2c" opacity="0.75"/><circle cx="67.6" cy="1378.9" r="0.8" fill="#4d3a2c" opacity="0.75"/><circle cx="149.9" cy="1343.8" r="0.9" fill="#4d3a2c" opacity="0.75"/><circle cx="182.7" cy="1393.8" r="1.0" fill="#4d3a2c" opacity="0.75"/><circle cx="83.4" cy="1270.9" r="1.0" fill="#4d3a2c" opacity="0.75"/><circle cx="57.1" cy="1214.9" r="1.2" fill="#4d3a2c" opacity="0.75"/><circle cx="10.0" cy="1310.7" r="0.8" fill="#4d3a2c" opacity="0.75"/><circle cx="89.0" cy="1213.2" r="0.7" fill="#4d3a2c" opacity="0.75"/><circle cx="119.0" cy="1356.0" r="0.5" fill="#4d3a2c" opacity="0.75"/><circle cx="65.7" cy="1329.9" r="0.8" fill="#4d3a2c" opacity="0.75"/><circle cx="201.3" cy="1340.0" r="0.6" fill="#4d3a2c" opacity="0.75"/><circle cx="96.3" cy="1391.0" r="1.1" fill="#4d3a2c" opacity="0.75"/><circle cx="95.8" cy="1368.5" r="0.7" fill="#4d3a2c" opacity="0.75"/><circle cx="87.7" cy="1283.0" r="1.1" fill="#4d3a2c" opacity="0.75"/><circle cx="142.6" cy="1263.4" r="0.6" fill="#4d3a2c" opacity="0.75"/><circle cx="103.8" cy="1270.0" r="0.8" fill="#4d3a2c" opacity="0.75"/><circle cx="127.9" cy="1354.6" r="0.9" fill="#4d3a2c" opacity="0.75"/><circle cx="194.9" cy="1312.3" r="1.2" fill="#4d3a2c" opacity="0.75"/><circle cx="58.3" cy="1279.0" r="0.5" fill="#4d3a2c" opacity="0.75"/><circle cx="145.7" cy="1373.4" r="1.0" fill="#4d3a2c" opacity="0.75"/><circle cx="138.5" cy="1375.9" r="1.2" fill="#4d3a2c" opacity="0.75"/><circle cx="200.9" cy="1350.9" r="0.8" fill="#4d3a2c" opacity="0.75"/><circle cx="161.0" cy="1378.6" r="0.6" fill="#4d3a2c" opacity="0.75"/><circle cx="29.4" cy="1197.6" r="0.9" fill="#4d3a2c" opacity="0.75"/><circle cx="87.4" cy="1276.6" r="1.2" fill="#4d3a2c" opacity="0.75"/><circle cx="-1.1" cy="1220.0" r="0.5" fill="#4d3a2c" opacity="0.75"/><circle cx="118.9" cy="1381.8" r="1.3" fill="#4d3a2c" opacity="0.75"/><circle cx="13.1" cy="1288.0" r="0.8" fill="#4d3a2c" opacity="0.75"/><circle cx="36.7" cy="1317.3" r="1.0" fill="#4d3a2c" opacity="0.75"/><circle cx="56.3" cy="1284.0" r="1.0" fill="#4d3a2c" opacity="0.75"/><circle cx="10.6" cy="1227.7" r="0.5" fill="#4d3a2c" opacity="0.75"/><circle cx="144.5" cy="1367.3" r="0.9" fill="#4d3a2c" opacity="0.75"/><circle cx="74.8" cy="1253.1" r="0.8" fill="#4d3a2c" opacity="0.75"/><circle cx="55.0" cy="1311.5" r="0.6" fill="#4d3a2c" opacity="0.75"/><circle cx="179.8" cy="1319.3" r="1.1" fill="#4d3a2c" opacity="0.75"/><circle cx="24.5" cy="1379.8" r="1.1" fill="#4d3a2c" opacity="0.75"/><circle cx="97.5" cy="1307.0" r="0.9" fill="#4d3a2c" opacity="0.75"/><circle cx="46.5" cy="1204.7" r="0.9" fill="#4d3a2c" opacity="0.75"/><circle cx="80.6" cy="1356.7" r="1.2" fill="#4d3a2c" opacity="0.75"/><circle cx="147.2" cy="1286.6" r="0.8" fill="#4d3a2c" opacity="0.75"/><circle cx="140.6" cy="1275.6" r="1.1" fill="#4d3a2c" opacity="0.75"/><circle cx="168.2" cy="1357.3" r="0.9" fill="#4d3a2c" opacity="0.75"/><circle cx="90.6" cy="1382.9" r="0.8" fill="#4d3a2c" opacity="0.75"/><circle cx="45.2" cy="1316.6" r="0.7" fill="#4d3a2c" opacity="0.75"/><circle cx="70.2" cy="1342.8" r="1.2" fill="#4d3a2c" opacity="0.75"/><circle cx="92.8" cy="1221.7" r="0.6" fill="#4d3a2c" opacity="0.75"/><circle cx="55.0" cy="1342.7" r="0.5" fill="#4d3a2c" opacity="0.75"/><circle cx="39.4" cy="1254.8" r="0.7" fill="#4d3a2c" opacity="0.75"/><circle cx="74.1" cy="1369.4" r="1.2" fill="#4d3a2c" opacity="0.75"/><circle cx="56.3" cy="1300.3" r="0.8" fill="#4d3a2c" opacity="0.75"/><circle cx="41.8" cy="1233.4" r="1.0" fill="#4d3a2c" opacity="0.75"/><circle cx="83.7" cy="1326.9" r="1.2" fill="#4d3a2c" opacity="0.75"/><circle cx="225.5" cy="1376.0" r="0.8" fill="#4d3a2c" opacity="0.75"/><circle cx="55.9" cy="1243.3" r="1.2" fill="#4d3a2c" opacity="0.75"/><circle cx="217.0" cy="1385.6" r="0.7" fill="#4d3a2c" opacity="0.75"/><circle cx="78.4" cy="1328.2" r="1.2" fill="#4d3a2c" opacity="0.75"/><circle cx="70.6" cy="1288.8" r="0.5" fill="#4d3a2c" opacity="0.75"/><circle cx="189.8" cy="1376.8" r="1.2" fill="#4d3a2c" opacity="0.75"/><circle cx="31.9" cy="1319.2" r="1.2" fill="#4d3a2c" opacity="0.75"/><circle cx="13.1" cy="1268.7" r="0.9" fill="#4d3a2c" opacity="0.75"/><circle cx="128.1" cy="1332.8" r="1.0" fill="#4d3a2c" opacity="0.75"/><circle cx="27.5" cy="1260.9" r="0.7" fill="#4d3a2c" opacity="0.75"/><circle cx="101.9" cy="1326.0" r="1.1" fill="#4d3a2c" opacity="0.75"/><circle cx="97.3" cy="1334.9" r="1.2" fill="#4d3a2c" opacity="0.75"/><circle cx="93.9" cy="1311.6" r="1.2" fill="#4d3a2c" opacity="0.75"/><circle cx="85.1" cy="1222.4" r="1.1" fill="#4d3a2c" opacity="0.75"/><circle cx="184.1" cy="1271.9" r="1.3" fill="#4d3a2c" opacity="0.75"/><circle cx="66.7" cy="1330.9" r="1.2" fill="#4d3a2c" opacity="0.75"/><circle cx="-1.6" cy="1197.2" r="0.9" fill="#4d3a2c" opacity="0.75"/><circle cx="12.8" cy="1202.6" r="0.9" fill="#4d3a2c" opacity="0.75"/><circle cx="99.8" cy="1249.0" r="0.9" fill="#4d3a2c" opacity="0.75"/><circle cx="142.7" cy="1251.7" r="0.7" fill="#4d3a2c" opacity="0.75"/><circle cx="86.4" cy="1211.9" r="1.3" fill="#4d3a2c" opacity="0.75"/><circle cx="27.4" cy="1216.4" r="0.6" fill="#4d3a2c" opacity="0.75"/><circle cx="-2.9" cy="1210.9" r="1.2" fill="#4d3a2c" opacity="0.75"/><circle cx="145.8" cy="1352.2" r="0.9" fill="#4d3a2c" opacity="0.75"/><circle cx="52.3" cy="1283.5" r="1.1" fill="#4d3a2c" opacity="0.75"/><circle cx="26.1" cy="1373.9" r="0.5" fill="#4d3a2c" opacity="0.75"/><circle cx="191.8" cy="1371.5" r="1.2" fill="#4d3a2c" opacity="0.75"/><circle cx="37.2" cy="1253.3" r="1.3" fill="#4d3a2c" opacity="0.75"/><circle cx="98.3" cy="1232.8" r="0.9" fill="#4d3a2c" opacity="0.75"/><circle cx="41.9" cy="1240.4" r="1.2" fill="#4d3a2c" opacity="0.75"/><circle cx="170.8" cy="1267.2" r="0.6" fill="#4d3a2c" opacity="0.75"/><circle cx="107.7" cy="1284.7" r="0.6" fill="#4d3a2c" opacity="0.75"/><circle cx="92.9" cy="1358.7" r="0.6" fill="#4d3a2c" opacity="0.75"/><circle cx="70.9" cy="1258.8" r="1.0" fill="#4d3a2c" opacity="0.75"/><circle cx="112.5" cy="1349.5" r="0.9" fill="#4d3a2c" opacity="0.75"/><circle cx="159.2" cy="1280.7" r="1.3" fill="#4d3a2c" opacity="0.75"/><circle cx="208.4" cy="1344.3" r="1.0" fill="#4d3a2c" opacity="0.75"/><circle cx="193.2" cy="1286.2" r="1.3" fill="#4d3a2c" opacity="0.75"/><circle cx="107.4" cy="1354.9" r="1.2" fill="#4d3a2c" opacity="0.75"/><circle cx="40.2" cy="1345.3" r="0.5" fill="#4d3a2c" opacity="0.75"/><circle cx="29.9" cy="1178.9" r="0.9" fill="#4d3a2c" opacity="0.75"/><circle cx="32.7" cy="1275.0" r="1.2" fill="#4d3a2c" opacity="0.75"/><circle cx="116.9" cy="1260.0" r="0.7" fill="#4d3a2c" opacity="0.75"/><circle cx="93.1" cy="1268.1" r="0.6" fill="#4d3a2c" opacity="0.75"/><circle cx="192.5" cy="1391.4" r="1.0" fill="#4d3a2c" opacity="0.75"/><circle cx="38.3" cy="1360.1" r="1.2" fill="#4d3a2c" opacity="0.75"/><circle cx="21.5" cy="1361.2" r="0.7" fill="#4d3a2c" opacity="0.75"/><circle cx="36.9" cy="1188.2" r="0.5" fill="#4d3a2c" opacity="0.75"/><circle cx="221.7" cy="1402.5" r="1.2" fill="#4d3a2c" opacity="0.75"/><circle cx="195.9" cy="1360.5" r="0.8" fill="#4d3a2c" opacity="0.75"/><circle cx="170.2" cy="1400.8" r="0.5" fill="#4d3a2c" opacity="0.75"/><circle cx="196.3" cy="1341.8" r="0.5" fill="#4d3a2c" opacity="0.75"/><circle cx="14.2" cy="1231.3" r="0.6" fill="#4d3a2c" opacity="0.75"/><circle cx="203.5" cy="1358.6" r="0.8" fill="#4d3a2c" opacity="0.75"/><circle cx="-3.2" cy="1211.8" r="1.3" fill="#4d3a2c" opacity="0.75"/><circle cx="43.2" cy="1390.9" r="0.7" fill="#4d3a2c" opacity="0.75"/><circle cx="33.8" cy="1208.5" r="1.0" fill="#4d3a2c" opacity="0.75"/><circle cx="62.1" cy="1380.4" r="0.6" fill="#4d3a2c" opacity="0.75"/><circle cx="93.4" cy="1372.0" r="1.3" fill="#4d3a2c" opacity="0.75"/><circle cx="97.5" cy="1309.1" r="0.8" fill="#4d3a2c" opacity="0.75"/><circle cx="129.1" cy="1401.5" r="1.1" fill="#4d3a2c" opacity="0.75"/><circle cx="37.2" cy="1219.6" r="0.8" fill="#4d3a2c" opacity="0.75"/><circle cx="223.4" cy="1382.8" r="0.7" fill="#4d3a2c" opacity="0.75"/><circle cx="116.9" cy="1387.1" r="0.6" fill="#4d3a2c" opacity="0.75"/><circle cx="66.7" cy="1379.5" r="1.0" fill="#4d3a2c" opacity="0.75"/><circle cx="26.1" cy="1264.1" r="1.3" fill="#4d3a2c" opacity="0.75"/><circle cx="114.5" cy="1237.9" r="0.9" fill="#4d3a2c" opacity="0.75"/><circle cx="169.2" cy="1363.2" r="1.1" fill="#4d3a2c" opacity="0.75"/><circle cx="14.8" cy="1308.8" r="0.7" fill="#4d3a2c" opacity="0.75"/><circle cx="70.2" cy="1348.7" r="0.6" fill="#4d3a2c" opacity="0.75"/><circle cx="4.0" cy="1206.0" r="0.8" fill="#4d3a2c" opacity="0.75"/><circle cx="196.2" cy="1295.0" r="1.2" fill="#4d3a2c" opacity="0.75"/><circle cx="69.1" cy="1227.2" r="0.8" fill="#4d3a2c" opacity="0.75"/><circle cx="56.1" cy="1190.6" r="1.0" fill="#4d3a2c" opacity="0.75"/><circle cx="167.7" cy="1287.5" r="0.7" fill="#4d3a2c" opacity="0.75"/><circle cx="93.1" cy="1269.5" r="0.6" fill="#4d3a2c" opacity="0.75"/><circle cx="81.3" cy="1202.5" r="1.3" fill="#4d3a2c" opacity="0.75"/><circle cx="210.8" cy="1396.4" r="1.2" fill="#4d3a2c" opacity="0.75"/><circle cx="52.4" cy="1228.0" r="0.7" fill="#4d3a2c" opacity="0.75"/><circle cx="220.5" cy="1350.0" r="1.3" fill="#4d3a2c" opacity="0.75"/><circle cx="23.2" cy="1253.3" r="0.7" fill="#4d3a2c" opacity="0.75"/><circle cx="14.5" cy="1211.9" r="0.6" fill="#4d3a2c" opacity="0.75"/><circle cx="72.2" cy="1219.6" r="1.3" fill="#4d3a2c" opacity="0.75"/><circle cx="42.9" cy="1299.7" r="0.9" fill="#4d3a2c" opacity="0.75"/><circle cx="196.9" cy="1373.0" r="1.1" fill="#4d3a2c" opacity="0.75"/><circle cx="214.7" cy="1409.7" r="0.9" fill="#4d3a2c" opacity="0.75"/><circle cx="69.2" cy="1196.0" r="0.6" fill="#4d3a2c" opacity="0.75"/><circle cx="45.5" cy="1284.1" r="0.8" fill="#4d3a2c" opacity="0.75"/><circle cx="199.6" cy="1408.4" r="0.8" fill="#4d3a2c" opacity="0.75"/><circle cx="82.1" cy="1395.3" r="0.7" fill="#4d3a2c" opacity="0.75"/><circle cx="75.8" cy="1241.6" r="0.7" fill="#4d3a2c" opacity="0.75"/><circle cx="31.5" cy="1188.2" r="0.8" fill="#4d3a2c" opacity="0.75"/><circle cx="48.5" cy="1222.2" r="0.8" fill="#4d3a2c" opacity="0.75"/><circle cx="132.7" cy="1355.4" r="1.2" fill="#4d3a2c" opacity="0.75"/><circle cx="111.4" cy="1288.8" r="1.1" fill="#4d3a2c" opacity="0.75"/><circle cx="183.7" cy="1281.3" r="1.2" fill="#4d3a2c" opacity="0.75"/><circle cx="132.1" cy="1321.5" r="0.6" fill="#4d3a2c" opacity="0.75"/><circle cx="146.0" cy="1361.4" r="0.7" fill="#4d3a2c" opacity="0.75"/><circle cx="66.0" cy="1347.3" r="1.2" fill="#4d3a2c" opacity="0.75"/><circle cx="31.9" cy="1305.2" r="0.8" fill="#4d3a2c" opacity="0.75"/><circle cx="68.2" cy="1205.7" r="1.0" fill="#4d3a2c" opacity="0.75"/><circle cx="14.0" cy="1358.5" r="0.9" fill="#4d3a2c" opacity="0.75"/><circle cx="2.2" cy="1227.4" r="0.5" fill="#4d3a2c" opacity="0.75"/><circle cx="48.1" cy="1259.8" r="0.8" fill="#4d3a2c" opacity="0.75"/><circle cx="68.4" cy="1254.8" r="1.3" fill="#4d3a2c" opacity="0.75"/><circle cx="192.3" cy="1313.9" r="1.1" fill="#4d3a2c" opacity="0.75"/><circle cx="195.5" cy="1336.4" r="0.7" fill="#4d3a2c" opacity="0.75"/><circle cx="8.1" cy="1254.5" r="1.1" fill="#4d3a2c" opacity="0.75"/><circle cx="100.9" cy="1241.6" r="0.7" fill="#4d3a2c" opacity="0.75"/><circle cx="196.4" cy="1375.6" r="0.8" fill="#4d3a2c" opacity="0.75"/><circle cx="47.7" cy="1254.1" r="0.7" fill="#4d3a2c" opacity="0.75"/><circle cx="179.7" cy="1319.1" r="0.9" fill="#4d3a2c" opacity="0.75"/><circle cx="91.7" cy="1270.6" r="0.9" fill="#4d3a2c" opacity="0.75"/><circle cx="106.4" cy="1264.0" r="1.1" fill="#4d3a2c" opacity="0.75"/><circle cx="164.2" cy="1399.4" r="1.3" fill="#4d3a2c" opacity="0.75"/><circle cx="43.0" cy="1315.0" r="1.1" fill="#4d3a2c" opacity="0.75"/><circle cx="37.6" cy="1185.6" r="1.3" fill="#4d3a2c" opacity="0.75"/><circle cx="2.7" cy="1228.4" r="0.5" fill="#4d3a2c" opacity="0.75"/><circle cx="61.2" cy="1268.3" r="1.0" fill="#4d3a2c" opacity="0.75"/><circle cx="119.4" cy="1367.5" r="0.5" fill="#4d3a2c" opacity="0.75"/><circle cx="167.7" cy="1363.3" r="0.5" fill="#4d3a2c" opacity="0.75"/><circle cx="42.9" cy="1295.8" r="1.1" fill="#4d3a2c" opacity="0.75"/><circle cx="120.6" cy="1213.2" r="0.9" fill="#4d3a2c" opacity="0.75"/><circle cx="183.7" cy="1403.1" r="0.8" fill="#4d3a2c" opacity="0.75"/><circle cx="76.0" cy="1299.9" r="0.8" fill="#4d3a2c" opacity="0.75"/><circle cx="196.8" cy="1357.5" r="0.6" fill="#4d3a2c" opacity="0.75"/><circle cx="74.4" cy="1318.7" r="1.0" fill="#4d3a2c" opacity="0.75"/><circle cx="51.5" cy="1230.7" r="1.2" fill="#4d3a2c" opacity="0.75"/><circle cx="143.4" cy="1389.2" r="1.3" fill="#4d3a2c" opacity="0.75"/><circle cx="150.7" cy="1366.8" r="0.5" fill="#4d3a2c" opacity="0.75"/><circle cx="163.2" cy="1346.1" r="1.3" fill="#4d3a2c" opacity="0.75"/><circle cx="75.3" cy="1292.3" r="0.7" fill="#4d3a2c" opacity="0.75"/><circle cx="10.8" cy="1313.7" r="0.7" fill="#4d3a2c" opacity="0.75"/><circle cx="84.7" cy="1248.2" r="0.6" fill="#4d3a2c" opacity="0.75"/><circle cx="154.5" cy="1324.5" r="0.6" fill="#4d3a2c" opacity="0.75"/><circle cx="12.2" cy="1319.3" r="1.3" fill="#4d3a2c" opacity="0.75"/><ellipse cx="8" cy="1192" rx="10" ry="9" fill="#a0523a" opacity="0.55" filter="url(#blur2)"/><ellipse cx="45" cy="1210" rx="12" ry="9" fill="#8e4a34" opacity="0.55" filter="url(#blur2)"/><ellipse cx="95" cy="1235" rx="14" ry="7" fill="#9a5040" opacity="0.55" filter="url(#blur2)"/><ellipse cx="143" cy="1275" rx="7" ry="14" fill="#a85a40" opacity="0.55" filter="url(#blur2)"/><ellipse cx="188" cy="1350" rx="16" ry="18" fill="#c07a48" opacity="0.55" filter="url(#blur2)"/><ellipse cx="20" cy="1460" rx="14" ry="16" fill="#b88a58" opacity="0.55" filter="url(#blur2)"/><ellipse cx="200" cy="1410" rx="10" ry="10" fill="#d8a050" opacity="0.55" filter="url(#blur2)"/><ellipse cx="40" cy="1190" rx="28" ry="7" fill="#f0c040" opacity="0.45" filter="url(#blur2)"/><ellipse cx="105" cy="1215" rx="30" ry="14" fill="#f0c040" opacity="0.45" filter="url(#blur2)"/><ellipse cx="168" cy="1275" rx="18" ry="18" fill="#f0c040" opacity="0.45" filter="url(#blur2)"/><ellipse cx="212" cy="1400" rx="12" ry="10" fill="#f0c040" opacity="0.45" filter="url(#blur2)"/><ellipse cx="198" cy="1467" rx="22" ry="16" fill="#f0c040" opacity="0.45" filter="url(#blur2)"/><ellipse cx="140" cy="1252" rx="8" ry="10" fill="#f0c040" opacity="0.45" filter="url(#blur2)"/><g transform="translate(59.5 1243.5) rotate(-36.6)"><rect x="-24.3" y="-7.5" width="48.6" height="15.0" rx="2.5" fill="url(#ham)"/><rect x="-24.3" y="4.5" width="48.6" height="3" fill="#9a5a46" opacity="0.5"/></g><g transform="translate(77.5 1287.0) rotate(-34.8)"><rect x="-29.8" y="-8.5" width="59.6" height="17.0" rx="2.5" fill="url(#ham)"/><rect x="-29.8" y="5.5" width="59.6" height="3" fill="#9a5a46" opacity="0.5"/></g><g transform="translate(151.0 1302.0) rotate(12.5)"><rect x="-27.7" y="-9.0" width="55.3" height="18.0" rx="2.5" fill="url(#ham)"/><rect x="-27.7" y="6.0" width="55.3" height="3" fill="#9a5a46" opacity="0.5"/></g><g transform="translate(47.5 1378.5) rotate(56.6)"><rect x="-28.2" y="-8.5" width="56.3" height="17.0" rx="2.5" fill="url(#ham)"/><rect x="-28.2" y="5.5" width="56.3" height="3" fill="#9a5a46" opacity="0.5"/></g><g transform="translate(112.0 1423.0) rotate(-26.6)"><rect x="-31.3" y="-10.0" width="62.6" height="20.0" rx="2.5" fill="url(#ham)"/><rect x="-31.3" y="7.0" width="62.6" height="3" fill="#9a5a46" opacity="0.5"/></g><g transform="translate(174.0 1439.0) rotate(-19.1)"><rect x="-27.5" y="-9.0" width="55.0" height="18.0" rx="2.5" fill="url(#ham)"/><rect x="-27.5" y="6.0" width="55.0" height="3" fill="#9a5a46" opacity="0.5"/></g><g transform="translate(5.5 1430.0) rotate(-20.0)"><rect x="-5.9" y="-7.0" width="11.7" height="14.0" rx="2.5" fill="url(#ham)"/><rect x="-5.9" y="4.0" width="11.7" height="3" fill="#9a5a46" opacity="0.5"/></g><path d="M18,1208 C32,1200 44,1214 42,1234 C41,1248 34,1256 22,1254 C28,1244 30,1232 26,1222 C24,1216 18,1214 18,1208 Z" fill="url(#pep)"/><path d="M100,1256 C114,1248 134,1250 138,1264 C140,1276 132,1280 124,1274 C116,1270 112,1278 116,1292 C118,1298 124,1304 118,1306 C104,1300 96,1276 100,1256 Z" fill="url(#pep)"/><path d="M43,1332 C56,1328 72,1330 76,1338 C66,1342 60,1348 62,1356 C66,1364 78,1366 82,1372 C74,1378 56,1374 48,1364 C40,1354 40,1342 43,1332 Z" fill="url(#pep)"/><path d="M104,1452 C118,1446 142,1450 154,1458 C164,1464 172,1470 172,1478 C160,1484 140,1484 124,1478 C110,1474 104,1466 104,1452 Z" fill="url(#pep)"/><path d="M95,1332 C110,1326 134,1328 146,1344 C152,1356 150,1372 142,1378 C130,1374 122,1378 116,1380 C104,1374 94,1362 98,1350 C92,1344 92,1336 95,1332 Z" fill="url(#mush)"/><path d="M100,1336 C112,1330 128,1332 136,1342" stroke="#d8c8b2" stroke-width="2.6" fill="none" opacity="0.75"/><path d="M-2,1365 C14,1366 30,1380 32,1400 C30,1412 24,1420 14,1420 C6,1414 2,1404 -2,1398 Z" fill="url(#mush)"/><path d="M0,1398 C12,1404 26,1412 40,1416 C30,1422 16,1420 0,1414 Z" fill="#d8cab8" opacity="0.8"/><path d="M5,1480 C22,1470 50,1470 68,1484 C70,1492 68,1502 60,1502 L4,1502 C2,1494 2,1486 5,1480 Z" fill="url(#mush)"/><path d="M12,1480 C28,1474 48,1476 60,1484 C46,1486 28,1488 12,1486 Z" fill="#e6dccc" opacity="0.8"/><path d="M120,1326 C132,1330 146,1350 146,1370 C140,1380 130,1380 122,1376 Z" fill="url(#mush)" opacity="0.9"/><circle cx="81.5" cy="1247" r="12.5" fill="#1c1a1a"/><circle cx="82.0" cy="1247.5" r="4.8" fill="#d8ccb4"/><circle cx="75.9" cy="1242.0" r="2.0" fill="#888" opacity="0.45"/><circle cx="25" cy="1274" r="12.5" fill="#1c1a1a"/><circle cx="25.5" cy="1274.5" r="4.8" fill="#d8ccb4"/><circle cx="19.4" cy="1269.0" r="2.0" fill="#888" opacity="0.45"/><circle cx="12" cy="1339" r="13.5" fill="#1c1a1a"/><circle cx="12.5" cy="1339.5" r="5.1" fill="#d8ccb4"/><circle cx="5.9" cy="1333.6" r="2.2" fill="#888" opacity="0.45"/><circle cx="172" cy="1390" r="14" fill="#1c1a1a"/><circle cx="172.5" cy="1390.5" r="5.3" fill="#d8ccb4"/><circle cx="165.7" cy="1384.4" r="2.2" fill="#888" opacity="0.45"/><circle cx="84" cy="1405" r="13.6" fill="#1c1a1a"/><circle cx="84.5" cy="1405.5" r="5.2" fill="#d8ccb4"/><circle cx="77.9" cy="1399.6" r="2.2" fill="#888" opacity="0.45"/><circle cx="60" cy="1441" r="14.7" fill="#1c1a1a"/><circle cx="60.5" cy="1441.5" r="5.6" fill="#d8ccb4"/><circle cx="53.4" cy="1435.1" r="2.4" fill="#888" opacity="0.45"/><g transform="translate(72.5 1256.5) rotate(25.7)"><path d="M-15.0,0 C-7.5,-9.0 7.5,-8.1 15.0,0 C7.5,7.6 -7.5,7.6 -15.0,0 Z" fill="url(#basil)"/><path d="M-13.0,0 L12.0,0" stroke="#2a6a1c" stroke-width="1" opacity="0.55"/></g><g transform="translate(16.0 1293.0) rotate(31.0)"><path d="M-17.5,0 C-8.7,-12.0 8.7,-10.8 17.5,0 C8.7,10.2 -8.7,10.2 -17.5,0 Z" fill="url(#basil)"/><path d="M-15.5,0 L14.5,0" stroke="#2a6a1c" stroke-width="1" opacity="0.55"/></g><g transform="translate(74.5 1319.0) rotate(-23.7)"><path d="M-22.4,0 C-11.2,-9.0 11.2,-8.1 22.4,0 C11.2,7.6 -11.2,7.6 -22.4,0 Z" fill="url(#basil)"/><path d="M-20.4,0 L19.4,0" stroke="#2a6a1c" stroke-width="1" opacity="0.55"/></g><g transform="translate(124.5 1390.5) rotate(38.1)"><path d="M-23.5,0 C-11.8,-13.0 11.8,-11.7 23.5,0 C11.8,11.0 -11.8,11.0 -23.5,0 Z" fill="url(#basil)"/><path d="M-21.5,0 L20.5,0" stroke="#2a6a1c" stroke-width="1" opacity="0.55"/></g><g transform="translate(36.0 1393.0) rotate(-43.4)"><path d="M-24.8,0 C-12.4,-11.0 12.4,-9.9 24.8,0 C12.4,9.3 -12.4,9.3 -24.8,0 Z" fill="url(#basil)"/><path d="M-22.8,0 L21.8,0" stroke="#2a6a1c" stroke-width="1" opacity="0.55"/></g><g transform="translate(89.0 1457.5) rotate(44.0)"><path d="M-20.9,0 C-10.4,-10.0 10.4,-9.0 20.9,0 C10.4,8.5 -10.4,8.5 -20.9,0 Z" fill="url(#basil)"/><path d="M-18.9,0 L17.9,0" stroke="#2a6a1c" stroke-width="1" opacity="0.55"/></g><g transform="translate(7.0 1242.0) rotate(24.0)"><path d="M-9.8,0 C-4.9,-9.0 4.9,-8.1 9.8,0 C4.9,7.6 -4.9,7.6 -9.8,0 Z" fill="url(#basil)"/><path d="M-7.8,0 L6.8,0" stroke="#2a6a1c" stroke-width="1" opacity="0.55"/></g><g transform="translate(131.0 1389.5) rotate(52.8)"><path d="M-18.2,0 C-9.1,-11.0 9.1,-9.9 18.2,0 C9.1,9.3 -9.1,9.3 -18.2,0 Z" fill="url(#basil)"/><path d="M-16.2,0 L15.2,0" stroke="#2a6a1c" stroke-width="1" opacity="0.55"/></g></g></g></svg>

</body></html>
